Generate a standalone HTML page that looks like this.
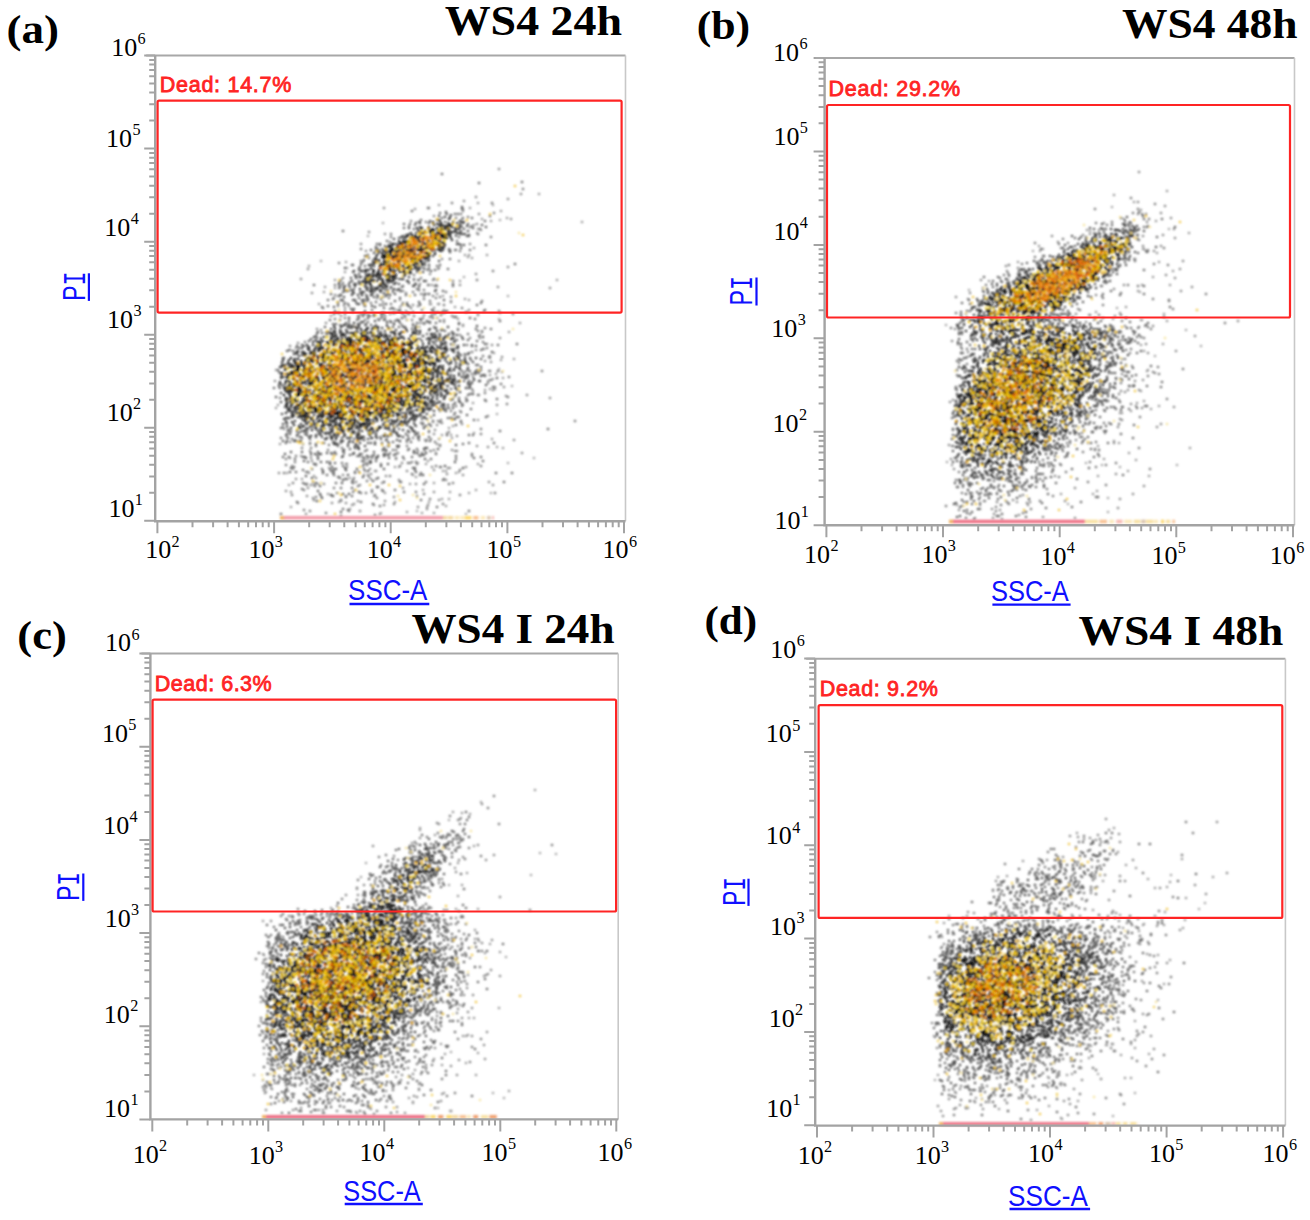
<!DOCTYPE html>
<html><head><meta charset="utf-8"><style>
html,body{margin:0;padding:0;background:#fff;overflow:hidden;}
svg{display:block;}
</style></head><body>
<svg width="1310" height="1220" viewBox="0 0 1310 1220">
<defs><filter id="bl" filterUnits="userSpaceOnUse" x="0" y="0" width="1310" height="1220"><feGaussianBlur stdDeviation="1.0"/></filter></defs>
<rect width="1310" height="1220" fill="#fff"/>
<g filter="url(#bl)" stroke-linecap="round" stroke-width="2.6" fill="none"><path stroke="#686868" d="M421 500h0M372 292h0M497 399h0M352 488h0M461 421h0M286 459h0M404 492h0M380 305h0M396 458h0M307 484h0M469 236h0M353 480h0M351 437h0M286 435h0M456 425h0M473 435h0M378 252h0M352 496h0M501 384h0M307 428h0M512 473h0M365 280h0M415 295h0M426 441h0M400 466h0M381 292h0M471 409h0M274 388h0M444 404h0M409 234h0M465 376h0M365 306h0M376 259h0M447 386h0M420 475h0M365 287h0M486 417h0M448 327h0M316 336h0M472 352h0M374 452h0M431 459h0M328 306h0M400 291h0M331 438h0M416 417h0M451 302h0M355 284h0M440 334h0M443 338h0M280 388h0M458 353h0M390 430h0M399 429h0M352 328h0M421 220h0M441 315h0M348 304h0M380 506h0M413 468h0M383 436h0M489 357h0M338 436h0M404 224h0M439 402h0M340 281h0M330 320h0M455 214h0M416 472h0M331 453h0M290 434h0M444 397h0M340 433h0M479 372h0M370 461h0M374 297h0M364 437h0M420 268h0M478 365h0M341 488h0M294 467h0M305 484h0M422 419h0M406 423h0M372 458h0M385 246h0M423 268h0M343 231h0M354 439h0M412 329h0M280 383h0M490 371h0M374 259h0M461 226h0M375 496h0M448 269h0M413 418h0M336 324h0M402 422h0M378 487h0M282 362h0M455 388h0M456 459h0M401 291h0M451 389h0M448 418h0M349 321h0M308 429h0M477 341h0M353 293h0M343 480h0M515 264h0M461 355h0M316 444h0M464 381h0M358 319h0M454 338h0M498 371h0M338 302h0M350 328h0M412 211h0M416 426h0M427 334h0M463 223h0M548 429h0M381 314h0M435 344h0M355 432h0M469 381h0M288 438h0M422 455h0M357 438h0M300 432h0M347 479h0M469 511h0M278 370h0M399 327h0M414 453h0M424 455h0M296 352h0M297 502h0M391 433h0M283 358h0M383 288h0M445 222h0M345 314h0M453 399h0M286 443h0M443 330h0M378 289h0M334 298h0M480 229h0M415 468h0M451 418h0M305 431h0M293 351h0M377 458h0M367 297h0M399 279h0M377 438h0M389 446h0M420 305h0M354 289h0M297 436h0M460 234h0M338 444h0M455 396h0M321 483h0M491 380h0M335 463h0M359 298h0M349 286h0M474 458h0M442 218h0M383 450h0M493 387h0M389 458h0M358 447h0M445 312h0M417 323h0M303 470h0M334 472h0M330 435h0M287 418h0M394 455h0M459 373h0M476 371h0M295 459h0M500 431h0M371 325h0M436 323h0M414 431h0M395 490h0M404 423h0M420 333h0M494 443h0M451 349h0M475 372h0M472 345h0M394 309h0M280 373h0M475 319h0M359 492h0M451 344h0M517 344h0M420 319h0M308 462h0M486 245h0M491 329h0M326 434h0M385 434h0M441 406h0M352 294h0M419 436h0M453 339h0M330 469h0M350 287h0M462 209h0M371 291h0M401 237h0M286 423h0M440 467h0M288 431h0M374 328h0M374 314h0M468 224h0M311 453h0M343 509h0M430 441h0M468 340h0M331 294h0M459 323h0M339 477h0M403 425h0M427 419h0M415 470h0M384 308h0M394 430h0M481 370h0M373 293h0M372 310h0M435 314h0M386 426h0M357 327h0M496 473h0M401 482h0M411 442h0M412 474h0M336 483h0M477 305h0M414 229h0M333 473h0M435 337h0M460 233h0M332 467h0M464 361h0M413 286h0M376 302h0M305 457h0M427 321h0M453 284h0M322 333h0M419 280h0M481 303h0M452 338h0M479 336h0M407 303h0M435 286h0M426 281h0M289 418h0M358 441h0M434 337h0M391 288h0M327 433h0M305 434h0M339 285h0M498 345h0M504 482h0M446 352h0M478 234h0M361 292h0M346 291h0M453 286h0M353 265h0M429 405h0M287 434h0M334 475h0M403 327h0M403 457h0M442 405h0M326 333h0M449 484h0M364 461h0M419 436h0M346 323h0M372 456h0M443 408h0M456 317h0M315 486h0M339 288h0M464 229h0M435 270h0M298 351h0M404 228h0M406 295h0M370 316h0M418 438h0M327 475h0M397 320h0M328 300h0M337 445h0M453 405h0M437 507h0M466 312h0M372 295h0M429 437h0M424 294h0M353 326h0M415 225h0M333 442h0M408 436h0M482 332h0M361 322h0M313 482h0M455 419h0M322 437h0M455 413h0M314 285h0M485 400h0M483 461h0M396 454h0M355 490h0M467 401h0M441 251h0M318 459h0M467 375h0M428 208h0M450 259h0M472 218h0M316 446h0M419 286h0M335 312h0M420 304h0M459 398h0M429 424h0M314 500h0M375 291h0M442 174h0M343 451h0M296 472h0M444 344h0M456 250h0M384 289h0M443 291h0M289 350h0M364 300h0M357 304h0M393 313h0M384 320h0M424 484h0M428 270h0M465 234h0M393 442h0M428 322h0M440 213h0M418 433h0M282 364h0M331 432h0M406 235h0M393 291h0M402 287h0M426 409h0M321 338h0M376 461h0M361 502h0M318 457h0M428 261h0M318 452h0M456 456h0M387 241h0M430 408h0M484 311h0M409 449h0M469 435h0M320 432h0M450 252h0M469 353h0M365 266h0M522 182h0M445 409h0M281 428h0M440 265h0M419 290h0M417 270h0M398 320h0M365 256h0M353 272h0M446 352h0M479 183h0M377 244h0M412 457h0M443 480h0M356 302h0M360 267h0M399 238h0M469 443h0M382 443h0M324 443h0M490 216h0M447 311h0M416 434h0M485 310h0M424 410h0M334 314h0M331 495h0M481 457h0M434 279h0M500 321h0M462 371h0M470 250h0M350 455h0M474 420h0M450 218h0M485 221h0M344 453h0M431 417h0M419 302h0M281 514h0M283 457h0M343 292h0M293 423h0M463 444h0M287 423h0M458 214h0M457 390h0M381 299h0M384 448h0M345 291h0M452 332h0M352 265h0M388 446h0M468 377h0M336 437h0M323 308h0M342 326h0M449 408h0M376 325h0M334 327h0M374 455h0M420 456h0M287 351h0M485 344h0M334 434h0M359 281h0M374 315h0M335 311h0"/><path stroke="#e8a800" d="M376 262h0M441 229h0M292 404h0M423 362h0M341 342h0M298 363h0M416 340h0M426 391h0M410 343h0M433 377h0M436 352h0M313 354h0M319 351h0M443 369h0M444 245h0M295 371h0M372 336h0M331 421h0M437 353h0M390 410h0M285 374h0M380 412h0M434 386h0M309 414h0M397 408h0M444 239h0M310 357h0M429 383h0M410 238h0M297 404h0M389 278h0M291 389h0M404 332h0M352 333h0M442 387h0M328 347h0M428 228h0M293 390h0M285 367h0M386 251h0M357 441h0M293 375h0M355 327h0M325 345h0M342 339h0M373 424h0M421 355h0M449 230h0M374 336h0M405 416h0M362 419h0M410 342h0M379 338h0M445 381h0M395 338h0M441 353h0M437 407h0M395 334h0M390 341h0M314 350h0M424 388h0M291 399h0M340 433h0M387 414h0"/><path stroke="#fce080" d="M287 400h0M429 387h0M394 427h0M423 353h0M417 351h0M447 226h0M403 409h0M366 416h0M357 421h0M297 414h0M400 418h0M419 265h0M378 263h0M375 414h0M418 349h0M454 220h0M312 409h0M443 388h0M430 356h0M289 384h0M431 392h0M302 404h0M391 329h0M296 407h0M444 242h0M374 282h0M402 276h0M385 425h0M351 423h0M430 361h0M308 357h0M418 342h0M353 418h0M310 410h0M436 390h0M440 246h0M382 417h0M457 359h0M376 428h0M435 381h0M284 366h0M435 370h0M373 423h0M441 227h0M390 276h0"/><path stroke="#080808" d="M400 244h0M337 394h0M305 406h0M367 347h0M395 375h0M405 344h0M378 339h0M359 414h0M429 244h0M428 378h0M393 375h0M421 261h0M305 404h0M411 387h0M437 239h0M416 361h0M419 366h0M390 410h0M342 399h0M389 261h0M325 366h0M428 243h0M303 375h0M357 402h0M374 339h0M331 415h0M364 380h0M352 346h0M311 368h0M399 395h0M422 250h0M400 404h0M309 362h0M425 248h0M360 344h0M409 403h0M356 337h0M299 376h0M368 390h0M421 385h0M373 407h0M409 352h0M408 385h0M425 257h0M299 376h0M446 238h0M329 387h0M315 395h0M348 341h0M311 365h0M305 362h0M429 359h0M352 342h0M359 341h0M394 373h0M421 398h0M362 418h0M376 400h0M409 265h0M328 390h0M400 389h0M393 355h0M363 365h0M337 360h0M389 403h0M417 263h0M392 276h0M440 241h0M300 380h0M435 235h0M438 232h0M350 347h0M393 351h0M412 348h0M387 275h0M414 248h0M442 234h0M415 253h0M391 250h0M344 408h0M353 359h0M336 375h0M343 375h0M383 390h0M353 393h0M412 382h0M417 379h0M293 372h0M400 365h0M399 372h0M435 238h0M412 355h0M380 363h0M439 244h0M348 401h0M409 387h0M334 350h0M344 380h0M293 379h0M344 380h0M335 367h0M349 346h0M404 353h0M379 347h0M399 365h0M336 371h0M333 416h0M358 350h0M383 396h0M414 355h0M354 422h0M359 361h0M335 380h0M388 361h0M386 358h0M350 390h0M435 364h0M306 381h0M400 243h0M364 417h0M297 369h0M378 361h0M403 257h0M305 405h0M400 402h0M425 248h0M394 345h0M373 342h0M421 262h0M304 402h0M336 357h0M411 258h0M424 381h0M413 238h0M319 416h0M398 404h0M316 388h0M302 365h0M370 381h0M378 393h0M361 389h0M317 410h0M412 400h0M389 256h0M420 364h0M323 348h0M323 402h0M366 412h0M443 232h0M397 255h0M385 342h0M310 381h0M395 254h0M300 405h0M382 335h0M344 407h0M401 377h0M321 403h0M398 399h0M386 382h0M432 244h0M342 362h0M388 388h0M382 350h0M322 375h0M379 346h0M366 383h0M350 418h0M294 373h0M393 387h0M393 384h0M420 253h0M415 251h0M408 378h0M353 376h0M405 262h0M341 400h0M299 391h0M327 387h0M407 389h0M347 341h0M322 383h0M403 251h0M319 406h0M358 348h0M412 254h0M385 256h0M411 358h0M423 368h0M408 404h0M415 353h0M420 235h0M312 381h0M433 238h0M398 345h0M382 354h0M314 354h0M397 257h0M390 346h0M331 407h0M406 360h0M331 388h0M427 357h0M383 408h0M295 390h0M350 399h0M409 265h0M402 261h0M395 373h0M362 381h0M364 357h0M350 411h0M341 378h0M342 339h0M314 408h0M380 267h0M429 363h0M341 357h0M374 401h0M320 390h0M342 391h0M404 391h0M417 244h0M381 403h0M425 239h0M393 357h0M366 396h0M415 259h0M402 352h0M377 385h0M405 351h0M349 359h0M317 379h0M372 382h0M397 342h0M435 364h0M341 418h0M361 368h0M323 387h0M405 371h0M380 276h0M392 408h0M431 351h0M383 414h0M314 399h0M392 408h0M403 243h0M295 382h0M347 382h0M314 398h0M294 368h0M417 374h0M293 372h0M339 401h0M353 399h0M297 394h0M419 362h0M294 386h0M379 366h0M369 362h0M418 386h0M406 246h0M408 388h0M430 372h0M311 367h0M342 358h0M361 351h0M428 255h0M350 346h0M417 390h0M389 399h0M333 365h0M400 369h0M421 375h0M383 387h0M389 405h0M355 388h0M420 390h0M327 384h0M418 250h0M341 375h0M421 250h0M388 377h0M308 408h0M391 406h0M386 397h0M379 273h0M370 405h0M325 384h0M407 241h0M428 377h0M312 361h0M356 369h0M391 397h0M422 253h0M406 400h0M306 389h0M344 414h0M385 343h0M341 381h0M381 352h0M368 418h0M348 362h0M331 375h0M405 360h0M429 387h0M406 395h0M338 414h0M366 351h0M350 400h0M392 381h0M361 374h0M298 394h0M315 390h0M393 344h0M318 395h0M382 348h0M377 276h0M330 390h0M345 370h0M427 241h0M362 413h0M380 340h0M354 362h0M400 250h0M417 366h0M361 396h0M331 378h0M310 390h0M318 395h0M431 389h0M376 361h0M370 370h0M288 377h0M335 414h0M317 400h0M400 361h0M374 392h0M424 361h0M415 358h0M380 265h0M365 386h0M339 416h0M375 411h0M383 271h0M311 375h0M308 376h0M431 246h0M358 415h0M413 241h0M356 407h0M371 345h0M439 230h0M318 378h0M342 366h0M350 416h0M433 364h0M335 410h0M342 396h0M391 402h0M340 403h0M382 384h0M342 380h0M324 351h0M417 350h0M324 392h0M410 347h0M399 348h0M424 258h0M423 242h0M299 369h0M391 406h0M352 412h0M328 387h0M337 389h0M407 350h0M328 397h0M343 353h0M339 414h0M387 368h0M356 391h0M335 374h0M320 369h0M337 372h0M331 386h0M385 389h0M391 346h0M355 356h0M353 364h0M327 418h0M297 376h0M356 352h0M335 403h0M414 245h0M333 349h0M296 374h0M434 241h0M380 373h0M385 397h0M313 360h0M422 374h0M356 361h0M402 246h0M387 391h0M406 401h0M390 401h0M374 387h0M403 350h0M383 394h0M338 407h0M379 406h0M303 409h0M406 400h0M298 369h0M359 380h0M379 342h0M401 389h0M324 357h0M383 255h0M369 369h0M389 343h0M397 377h0M372 363h0M430 365h0M387 254h0M343 371h0M378 359h0M393 370h0M351 339h0M410 267h0M324 372h0M355 388h0M393 339h0M325 404h0M368 337h0M378 345h0M315 407h0M404 241h0M348 393h0M365 357h0M310 364h0M414 238h0M424 238h0M376 341h0M406 257h0M370 404h0M392 397h0M352 411h0M411 343h0M434 233h0M372 354h0M366 338h0M330 393h0M341 406h0M345 384h0M381 386h0M357 363h0M336 386h0M361 396h0M396 248h0M341 396h0M330 357h0M399 363h0M395 392h0M319 382h0M354 355h0M327 399h0M368 340h0M373 346h0M327 396h0M396 275h0M386 402h0M383 410h0M358 408h0M400 350h0M326 371h0M370 368h0M332 421h0M388 357h0M423 242h0M428 372h0M399 255h0M336 419h0M367 396h0M307 392h0M331 392h0M332 381h0M364 414h0M341 417h0M375 393h0M309 359h0M334 366h0M361 367h0M426 351h0M363 381h0M305 365h0M433 363h0M400 397h0M387 387h0M339 358h0M367 375h0M323 377h0M328 357h0M335 360h0M307 370h0M323 423h0M384 407h0M312 372h0M360 401h0M397 248h0M345 365h0M389 355h0M412 364h0M302 387h0M333 358h0M424 376h0M428 244h0M371 398h0M389 398h0M381 408h0M394 368h0M403 266h0M292 388h0M382 377h0M323 373h0M365 340h0M386 276h0M343 382h0M412 359h0M331 400h0M399 371h0M362 351h0M345 405h0M382 355h0M389 382h0M367 423h0M394 264h0M416 236h0M376 412h0M413 386h0M407 248h0M433 246h0M392 386h0M386 257h0M368 351h0M302 365h0M345 369h0M367 361h0M390 398h0M416 354h0M310 377h0M327 390h0M404 344h0M342 385h0M419 377h0M373 376h0M351 339h0M383 343h0M375 339h0M395 355h0M374 373h0M332 393h0M304 411h0M297 396h0M394 260h0M415 256h0M382 384h0M373 353h0M347 402h0M446 227h0M365 402h0M444 236h0M406 383h0M413 395h0M411 374h0M396 259h0M305 393h0M436 242h0M404 349h0M404 405h0M421 348h0M403 396h0M377 348h0M374 271h0M396 385h0M329 369h0M358 366h0M423 239h0M414 373h0M381 417h0M398 383h0M292 374h0M364 376h0M381 368h0M440 366h0M416 380h0M293 403h0M313 367h0M301 384h0M318 374h0M316 399h0M343 356h0M299 367h0M338 393h0M396 359h0M356 412h0M401 385h0M391 374h0M409 256h0M298 372h0M373 387h0M327 406h0M390 267h0M290 386h0M433 388h0M415 237h0M328 344h0M327 397h0M435 371h0M362 351h0M366 407h0M352 381h0M374 387h0M371 413h0M311 393h0M338 396h0M400 371h0M378 361h0M356 395h0M364 368h0M353 362h0M422 257h0M288 388h0M333 354h0M392 395h0M327 424h0M406 392h0M365 369h0M322 403h0M396 403h0M395 346h0M319 351h0M393 363h0M391 264h0M390 254h0M399 401h0M346 397h0M295 371h0M349 358h0M378 350h0M358 396h0M389 265h0M413 265h0M440 239h0M371 386h0M414 366h0M304 406h0M318 363h0M408 351h0M415 393h0M358 379h0M371 353h0M356 405h0M353 351h0M375 418h0M387 408h0M429 255h0M399 251h0M414 365h0M408 267h0M322 357h0M318 373h0M303 399h0M411 247h0M405 367h0M385 373h0M358 361h0M388 275h0M354 375h0M356 399h0M346 413h0M325 400h0M366 412h0M419 250h0M430 232h0M370 414h0M330 402h0M316 412h0M376 412h0M412 360h0M364 414h0M336 414h0M403 367h0M345 398h0M393 385h0M314 408h0M390 251h0M426 258h0M397 362h0M369 413h0M415 353h0M313 382h0M407 380h0M363 411h0M355 335h0M403 360h0M384 361h0M348 392h0M386 261h0M364 359h0M401 393h0M405 252h0M348 392h0M292 367h0M414 396h0M305 372h0M348 400h0M379 261h0M286 391h0M389 274h0M388 379h0M314 396h0M369 405h0M411 251h0M353 354h0M386 409h0M366 405h0M359 395h0M405 264h0M344 392h0M387 371h0M297 366h0M362 393h0M420 259h0M429 244h0M394 378h0M415 355h0M346 376h0M311 359h0M406 397h0M392 251h0M380 415h0M395 374h0M372 384h0M388 254h0M401 372h0M372 403h0M395 251h0M404 345h0M328 374h0M318 373h0M416 355h0M373 355h0M297 372h0M425 248h0M431 238h0M299 388h0M347 376h0M424 244h0M387 351h0M364 346h0M353 369h0M348 345h0M387 266h0M349 370h0M416 381h0M444 235h0M376 395h0M412 374h0M404 402h0M363 420h0M347 354h0M361 409h0M398 267h0M418 260h0M310 402h0M445 234h0M318 358h0M381 385h0M407 375h0M340 405h0M387 412h0M308 400h0M407 250h0M294 378h0M389 255h0M348 392h0M323 417h0M394 366h0M347 359h0M295 371h0M324 379h0M439 230h0M390 367h0M310 405h0M370 349h0M397 341h0M368 395h0M414 240h0M394 273h0M387 402h0M359 416h0M370 357h0M390 269h0M355 395h0M420 377h0M378 403h0M345 372h0M379 393h0M355 405h0M377 339h0M413 356h0M326 377h0M422 251h0M388 395h0M315 390h0M335 412h0M400 260h0M406 382h0M375 365h0M374 367h0M314 355h0M412 238h0M314 395h0M382 395h0M366 339h0M403 355h0M424 372h0M423 241h0M394 357h0M431 380h0M387 254h0M320 366h0M440 238h0M347 371h0M343 357h0M430 383h0M358 356h0M392 374h0M350 391h0M354 364h0M427 248h0M366 366h0M348 360h0M360 340h0M373 389h0M361 366h0M414 248h0M418 359h0M416 390h0M318 411h0M330 388h0M424 362h0M327 359h0M412 359h0M328 391h0M306 399h0M351 341h0M395 388h0M361 338h0M351 354h0M299 369h0M286 382h0M368 353h0M390 356h0M310 407h0M364 397h0M306 394h0M406 352h0M391 356h0M366 360h0M341 407h0M398 364h0M317 410h0M410 245h0M399 247h0M398 360h0M393 380h0M331 358h0M350 420h0M324 390h0M318 396h0M414 262h0M351 352h0M357 402h0M344 391h0M425 378h0M408 255h0M403 247h0M341 401h0M410 256h0M369 396h0M293 384h0M377 410h0M371 356h0M332 397h0M407 250h0M343 346h0M406 378h0M361 338h0M398 388h0M365 348h0M423 393h0M437 370h0M382 402h0M394 370h0M373 397h0M314 391h0M430 374h0M356 365h0M425 380h0M341 380h0M401 390h0M300 389h0M289 381h0M407 256h0M354 400h0M388 410h0M348 407h0M424 369h0M337 413h0M298 368h0M381 410h0M392 399h0M327 376h0M417 376h0M331 377h0M299 393h0M301 394h0M419 378h0M382 375h0M323 392h0M321 408h0M425 371h0M374 362h0M387 400h0M437 237h0M384 261h0M375 340h0M391 385h0M418 386h0M324 387h0M406 255h0M346 371h0M405 404h0M404 270h0M410 249h0M340 353h0M348 374h0M393 405h0M406 243h0M410 377h0M390 407h0M423 363h0M328 406h0M348 348h0M305 396h0M394 389h0M359 402h0M387 373h0M389 385h0M393 267h0M403 344h0M371 357h0M349 374h0M364 364h0M412 237h0M404 380h0M342 396h0M331 391h0M411 372h0M391 349h0M359 382h0M401 357h0M304 363h0M310 410h0M401 376h0M403 244h0M406 242h0M335 389h0M350 364h0M385 395h0M415 391h0M341 404h0M404 249h0M404 351h0M373 364h0M309 385h0M318 362h0M404 372h0M405 387h0M380 372h0M326 421h0M356 406h0M408 343h0M410 266h0M341 350h0M389 403h0M323 391h0M367 340h0M336 376h0M361 370h0M338 394h0M336 406h0M329 364h0M360 409h0M417 351h0M412 368h0M321 398h0M380 337h0M324 393h0M398 364h0M364 336h0M375 370h0M351 398h0M410 258h0M333 395h0M392 353h0M386 380h0M332 408h0M404 364h0M370 387h0M323 354h0M322 360h0M333 375h0M364 415h0M331 357h0M425 389h0M318 390h0M393 371h0M371 344h0M350 405h0M431 248h0M370 357h0M383 389h0M377 419h0M375 398h0M395 361h0M302 402h0M314 400h0M339 376h0M305 395h0M445 229h0M288 378h0M431 233h0M362 393h0M345 344h0M417 380h0M377 368h0M324 414h0M425 231h0M315 387h0M362 377h0M423 359h0M412 387h0M363 361h0M409 356h0M404 406h0M406 389h0M346 351h0M414 384h0M395 386h0M334 360h0M340 354h0M344 346h0M358 349h0M340 382h0M333 350h0M315 381h0M344 345h0M420 242h0M402 361h0M417 365h0M384 361h0M385 368h0M406 364h0M360 354h0M343 371h0M399 269h0M417 367h0M375 371h0M387 358h0M314 402h0M371 392h0M398 347h0M332 360h0M401 253h0M368 400h0M341 409h0M324 398h0M310 405h0M335 345h0M340 354h0M298 370h0M368 360h0M370 373h0M391 364h0M301 394h0M353 424h0M417 366h0M396 343h0M356 336h0M322 355h0M333 408h0M321 371h0M308 396h0M336 399h0M352 348h0M342 397h0M387 349h0M396 344h0M363 336h0M385 264h0M349 397h0M416 243h0M370 408h0M401 256h0M341 345h0M387 397h0M302 376h0M339 355h0M359 342h0M304 372h0M323 415h0M322 409h0M331 352h0M367 341h0M437 228h0M342 387h0M339 397h0M374 368h0M411 373h0M420 247h0M341 414h0M417 383h0M399 260h0M356 413h0M383 361h0M339 373h0M321 405h0M353 407h0M405 253h0M391 344h0M346 415h0M395 397h0M391 401h0M441 231h0M424 236h0M334 382h0M319 349h0M346 388h0M419 386h0M318 416h0M352 363h0M375 408h0M417 387h0M328 406h0M363 340h0M402 379h0M331 389h0M308 358h0M375 386h0M365 420h0M357 373h0M422 386h0M405 259h0M433 231h0M425 258h0M301 361h0M351 369h0M348 358h0M323 361h0M407 352h0M338 417h0M388 410h0M429 356h0M316 396h0M400 377h0M355 357h0M432 230h0M389 414h0M382 369h0M310 408h0M360 419h0M370 353h0M344 361h0M369 372h0M412 260h0M375 402h0M413 357h0M398 390h0M425 253h0M325 367h0M406 261h0M360 354h0M312 403h0M309 417h0M334 378h0M447 238h0M345 377h0M381 411h0M389 267h0M389 404h0M369 414h0M350 378h0M386 268h0M335 409h0M386 348h0M402 243h0M394 267h0M337 390h0M398 246h0M354 407h0M345 383h0M367 397h0M309 375h0M321 395h0M413 258h0M334 413h0M379 388h0M338 412h0M338 376h0M405 366h0M369 362h0M356 398h0M427 239h0M411 249h0M364 368h0M355 363h0M355 362h0M350 341h0M402 397h0M395 350h0M367 417h0M376 391h0"/><path stroke="#484848" d="M448 375h0M439 409h0M333 427h0M391 282h0M334 332h0M346 425h0M458 229h0M449 229h0M434 411h0M366 272h0M344 436h0M299 428h0M431 400h0M379 260h0M391 332h0M399 321h0M328 333h0M394 289h0M356 276h0M457 356h0M287 406h0M351 423h0M457 335h0M443 250h0M355 472h0M434 334h0M410 427h0M459 229h0M360 284h0M444 390h0M413 411h0M419 410h0M455 360h0M368 281h0M385 331h0M427 414h0M367 279h0M304 426h0M358 324h0M429 330h0M416 417h0M341 423h0M355 446h0M372 329h0M372 265h0M299 416h0M365 333h0M359 304h0M432 400h0M446 391h0M446 336h0M304 355h0M441 373h0M377 255h0M374 333h0M445 245h0M435 391h0M331 329h0M284 388h0M325 429h0M388 429h0M359 429h0M341 331h0M344 450h0M283 359h0M364 426h0M316 435h0M460 392h0M416 233h0M457 244h0M414 286h0M327 438h0M418 230h0M376 257h0M329 425h0M401 425h0M336 437h0M282 414h0M396 421h0M351 337h0M294 354h0M289 418h0M447 349h0M413 405h0M385 334h0M460 224h0M415 416h0M404 422h0M411 233h0M336 337h0M365 278h0M393 431h0M456 382h0M327 336h0M368 275h0M391 420h0M385 251h0M306 429h0M409 228h0M297 431h0M444 354h0M314 337h0M433 256h0M373 290h0M416 268h0M435 328h0M335 337h0M317 345h0M436 388h0M450 217h0M393 412h0M371 462h0M376 436h0M443 249h0M389 245h0M349 318h0M468 354h0M295 407h0M396 283h0M420 397h0M288 399h0M290 411h0M436 337h0M382 250h0M376 458h0M309 347h0M437 355h0M450 368h0M355 333h0M409 277h0M343 432h0M360 424h0M360 454h0M403 417h0M403 430h0M448 234h0M425 398h0M409 412h0M464 345h0M445 217h0M359 325h0M437 346h0M454 352h0M421 416h0M447 362h0M460 364h0M432 402h0M416 326h0M440 221h0M354 271h0M297 354h0M397 426h0M334 341h0M407 281h0M447 229h0M335 333h0M466 388h0M393 425h0M479 373h0M353 454h0M431 395h0M432 406h0M375 327h0M407 440h0M347 331h0M459 401h0M375 321h0M459 368h0M281 402h0M291 428h0M363 322h0M427 405h0M421 401h0M341 300h0M412 417h0M374 422h0M465 363h0M387 281h0M367 283h0M301 424h0M468 383h0M439 216h0M445 337h0M424 428h0M437 224h0M356 444h0M360 443h0M374 266h0M454 380h0M284 419h0M435 392h0M287 387h0M419 406h0M409 339h0M296 353h0M361 437h0M343 441h0M335 435h0M358 295h0M298 417h0M384 448h0M348 438h0M434 387h0M380 291h0M378 456h0M368 300h0M331 339h0M453 351h0M372 290h0M430 329h0M451 383h0M452 380h0M424 281h0M298 352h0M446 237h0M350 449h0M476 358h0M300 437h0M428 397h0M280 382h0M441 342h0M376 437h0M423 408h0M400 414h0M295 421h0M416 418h0M344 289h0M341 295h0M415 405h0M392 423h0M371 428h0M331 337h0M415 402h0M385 422h0M400 333h0M387 280h0M424 351h0M445 342h0M400 436h0M458 233h0M445 348h0M326 439h0M377 431h0M321 343h0M436 341h0M301 418h0M400 441h0M436 336h0M398 416h0M387 286h0M413 332h0M465 355h0M325 439h0M382 287h0M388 278h0M351 425h0M341 295h0M381 466h0M351 326h0M445 352h0M391 435h0M407 331h0M436 360h0M372 288h0M395 333h0M358 434h0M367 456h0M439 368h0M448 228h0M468 364h0M384 284h0M464 222h0M416 266h0M396 330h0M441 349h0M458 226h0M348 430h0M361 293h0M363 424h0M363 281h0M331 437h0M355 275h0M359 424h0M388 455h0M423 402h0M456 229h0M430 351h0M460 233h0M341 332h0M355 448h0M435 253h0M423 336h0M419 407h0M367 426h0M375 307h0M356 332h0M432 399h0M437 220h0M403 337h0M281 378h0M429 342h0M294 416h0M359 325h0M427 339h0M340 333h0M420 227h0M361 277h0M413 406h0M346 470h0M465 358h0M302 355h0M454 345h0M359 449h0M433 402h0M392 246h0M284 387h0M440 361h0M444 406h0M422 261h0M420 223h0M379 320h0M292 413h0M413 431h0M382 328h0M444 247h0M286 400h0M332 437h0M446 347h0M387 287h0M425 404h0M439 340h0M441 374h0M373 263h0M453 222h0M391 322h0M402 237h0M451 238h0M387 322h0M453 232h0M460 227h0M412 417h0M285 365h0M424 409h0M319 434h0M365 446h0M423 272h0M409 421h0M286 418h0M345 426h0M299 356h0M316 427h0M336 426h0M309 350h0M403 240h0M368 318h0M310 427h0M281 393h0M372 306h0M295 359h0M349 442h0M465 360h0M394 239h0M280 367h0M300 412h0M288 411h0M383 450h0M419 267h0M449 393h0M373 430h0M316 341h0M441 384h0M384 454h0M361 271h0M330 464h0M379 427h0M285 384h0M292 422h0M362 282h0M433 223h0M429 410h0M405 238h0M443 247h0M436 393h0M362 437h0M376 258h0M414 406h0M366 424h0M292 412h0M370 280h0M314 350h0M358 446h0M413 343h0M318 346h0M361 277h0M462 222h0M321 435h0M287 369h0M455 341h0M442 388h0M412 428h0M359 435h0M291 411h0M373 328h0M361 334h0M393 416h0M408 281h0M351 435h0M436 328h0M334 331h0M331 333h0M359 327h0M430 340h0M388 293h0M373 420h0M364 458h0M364 440h0M369 432h0M374 327h0M478 370h0M456 363h0M301 441h0M414 420h0M415 332h0M298 351h0M376 434h0M359 270h0M469 388h0M443 404h0M377 328h0M445 397h0M290 398h0M453 333h0M318 431h0M438 361h0M309 349h0"/><path stroke="#585858" d="M425 448h0M348 446h0M363 477h0M431 271h0M446 346h0M447 394h0M442 354h0M299 348h0M330 429h0M352 281h0M395 423h0M387 295h0M302 417h0M276 397h0M310 439h0M446 212h0M427 448h0M371 438h0M393 327h0M433 311h0M415 432h0M384 293h0M398 447h0M390 295h0M287 441h0M461 245h0M368 299h0M451 400h0M374 253h0M332 432h0M340 430h0M384 313h0M391 435h0M287 437h0M377 487h0M367 296h0M350 438h0M438 394h0M463 468h0M394 332h0M447 435h0M355 300h0M467 415h0M359 492h0M307 432h0M315 454h0M407 305h0M340 330h0M342 457h0M402 313h0M399 311h0M368 315h0M356 278h0M470 318h0M453 408h0M345 286h0M409 439h0M310 443h0M438 389h0M291 468h0M464 234h0M470 387h0M388 455h0M313 427h0M309 341h0M322 498h0M448 223h0M288 362h0M447 374h0M345 325h0M459 324h0M291 452h0M424 449h0M442 344h0M400 298h0M317 501h0M392 244h0M297 346h0M473 394h0M440 347h0M423 475h0M380 244h0M333 496h0M455 403h0M285 407h0M364 260h0M321 462h0M441 358h0M354 309h0M327 453h0M371 443h0M454 369h0M467 236h0M417 453h0M329 426h0M413 414h0M348 327h0M298 434h0M369 274h0M474 380h0M364 300h0M344 433h0M434 405h0M366 287h0M444 300h0M354 284h0M464 245h0M397 446h0M383 250h0M348 475h0M367 287h0M478 395h0M445 466h0M332 454h0M381 439h0M444 405h0M449 250h0M386 450h0M463 339h0M401 279h0M334 307h0M434 394h0M356 284h0M387 325h0M415 284h0M376 251h0M486 227h0M363 303h0M408 431h0M456 445h0M475 374h0M413 411h0M451 378h0M472 346h0M366 256h0M433 334h0M370 463h0M472 383h0M366 324h0M359 438h0M359 277h0M397 440h0M441 250h0M440 336h0M351 290h0M359 274h0M470 385h0M373 504h0M348 429h0M481 376h0M319 454h0M418 268h0M459 354h0M429 223h0M395 301h0M455 379h0M467 226h0M312 469h0M445 352h0M416 415h0M391 287h0M386 296h0M403 437h0M432 404h0M351 278h0M323 473h0M423 336h0M454 342h0M413 415h0M440 250h0M462 234h0M451 361h0M357 469h0M287 426h0M451 215h0M306 476h0M388 283h0M461 248h0M437 318h0M476 346h0M432 336h0M481 367h0M433 342h0M386 248h0M373 328h0M304 461h0M283 424h0M414 423h0M323 471h0M429 265h0M419 222h0M424 264h0M394 432h0M406 434h0M383 491h0M405 420h0M483 337h0M470 384h0M419 437h0M441 330h0M344 430h0M473 362h0M391 434h0M344 287h0M457 417h0M462 207h0M385 455h0M371 292h0M438 391h0M399 289h0M308 349h0M316 437h0M435 291h0M416 223h0M409 314h0M460 402h0M438 449h0M368 443h0M349 494h0M381 298h0M368 439h0M340 320h0M359 472h0M347 438h0M303 457h0M373 261h0M400 310h0M409 306h0M353 310h0M345 268h0M451 225h0M384 469h0M383 424h0M445 360h0M414 452h0M340 330h0M358 438h0M318 332h0M450 382h0M381 332h0M362 300h0M426 403h0M395 294h0M446 411h0M429 294h0M353 483h0M365 272h0M336 469h0M434 415h0M470 394h0M409 283h0M426 453h0M482 225h0M382 283h0M287 402h0M380 245h0M348 510h0M473 228h0M321 340h0M365 285h0M367 298h0M378 296h0M345 468h0M373 481h0M290 409h0M320 494h0M311 339h0M448 405h0M283 361h0M468 231h0M282 385h0M469 235h0M352 295h0M454 358h0M448 356h0M353 291h0M425 262h0M456 366h0M412 419h0M357 435h0M432 337h0M296 441h0M442 395h0M359 283h0M451 375h0M470 227h0M374 316h0M436 353h0M421 320h0M361 330h0M497 378h0M453 384h0M425 403h0M286 421h0M432 310h0M397 290h0M468 375h0M426 426h0M433 421h0M423 412h0M481 359h0M312 478h0M407 320h0M354 293h0M358 332h0M358 433h0M492 352h0M325 327h0M390 247h0M470 358h0M404 276h0M379 253h0M417 270h0M294 441h0M452 345h0M286 407h0M302 355h0M290 409h0M403 237h0M289 457h0M365 270h0M361 264h0M462 404h0M486 385h0M339 283h0M405 327h0M455 462h0M342 438h0M401 422h0M368 282h0M341 427h0M440 321h0M379 286h0M372 433h0M353 300h0M369 270h0M401 424h0M427 403h0M461 231h0M382 313h0M386 451h0M348 291h0M320 342h0M414 451h0M449 334h0M359 456h0M293 414h0M302 345h0M346 330h0M383 297h0M329 332h0M364 282h0M279 385h0M388 464h0M343 494h0M442 409h0M319 343h0M309 437h0M285 454h0M304 352h0M320 429h0M459 244h0M308 347h0M316 436h0M355 327h0M422 341h0M366 325h0M462 337h0M363 316h0M447 214h0M430 322h0M384 286h0M321 454h0M420 339h0M391 322h0M317 338h0M284 358h0M425 459h0M387 326h0M376 247h0M439 261h0M479 381h0M340 332h0M459 382h0M483 349h0M448 386h0M307 429h0M448 327h0M327 462h0M333 436h0M332 333h0M456 235h0M451 418h0M288 430h0M399 446h0M450 250h0M485 376h0M303 444h0M419 334h0M461 412h0M317 333h0M350 441h0M332 429h0M442 353h0M304 346h0M474 379h0M433 337h0M343 456h0M459 359h0M380 428h0M453 335h0M384 482h0M480 381h0M344 297h0M450 252h0M392 308h0M403 236h0M448 371h0M415 425h0M477 326h0M333 299h0M418 270h0M436 290h0M331 495h0M340 295h0M425 265h0M370 288h0M399 284h0M287 423h0M334 325h0M306 458h0M409 432h0M435 334h0M446 358h0M376 249h0M435 291h0M302 452h0M442 312h0M436 454h0M307 435h0M365 306h0M367 328h0M416 284h0M290 472h0M483 375h0M346 497h0M321 340h0M318 491h0M434 392h0M370 279h0M412 419h0M302 427h0M446 343h0M385 319h0M322 432h0M428 409h0M349 284h0M358 438h0M424 412h0M467 400h0M378 478h0M415 417h0M283 441h0M449 380h0M341 500h0M351 309h0M460 366h0M365 311h0M451 371h0M368 471h0M425 418h0M352 333h0M371 250h0M450 377h0M354 453h0M348 325h0M454 419h0M359 431h0M384 456h0M444 355h0M333 430h0M458 348h0M402 318h0M391 434h0M374 432h0M395 432h0M354 433h0M458 352h0M441 390h0M459 357h0M316 483h0M430 221h0M314 464h0M372 287h0M386 304h0M367 430h0M386 440h0M320 486h0M349 431h0M341 512h0M342 483h0"/><path stroke="#e87810" d="M402 260h0M341 383h0M378 379h0M359 385h0M348 371h0M337 366h0M363 385h0M342 384h0M374 379h0M348 375h0M339 376h0M341 364h0M364 372h0M344 379h0M349 363h0M339 380h0M405 262h0M371 380h0M392 259h0M358 375h0M352 380h0M353 370h0M394 260h0M339 381h0M425 252h0M352 365h0M353 377h0M416 244h0M353 361h0M332 376h0M353 366h0M430 245h0M392 258h0M377 375h0M359 384h0M346 368h0M344 371h0M344 384h0M343 389h0M377 370h0M356 384h0M359 390h0M358 372h0M430 247h0M354 360h0M422 253h0M431 238h0M329 376h0M428 238h0M353 363h0M399 255h0M394 261h0M408 246h0M422 253h0M366 378h0M354 365h0M404 250h0M406 254h0M362 373h0M345 367h0M368 378h0M374 377h0M374 382h0M333 376h0M355 361h0M422 252h0M375 369h0M333 371h0M350 372h0M341 374h0M347 361h0M426 237h0M331 378h0M348 376h0M413 243h0M331 374h0M334 385h0M329 376h0M355 361h0M349 366h0M404 256h0M405 257h0M423 238h0M368 363h0M351 384h0M352 388h0M360 361h0M351 365h0M370 370h0M362 375h0M334 371h0M407 257h0M334 371h0M368 362h0M343 365h0M359 367h0M343 364h0M411 252h0M330 380h0M410 247h0M379 369h0M334 374h0M362 381h0M398 260h0M374 365h0M418 241h0M340 366h0M376 373h0M368 367h0M357 365h0M398 260h0M404 247h0M339 366h0M403 261h0M341 380h0M332 375h0"/><path stroke="#888888" d="M296 479h0M421 294h0M434 434h0M499 169h0M372 490h0M417 496h0M424 324h0M358 501h0M312 461h0M432 467h0M412 462h0M502 357h0M364 305h0M341 316h0M349 306h0M425 323h0M298 343h0M338 296h0M470 338h0M493 485h0M361 244h0M383 302h0M434 450h0M293 469h0M429 285h0M508 199h0M403 488h0M343 278h0M490 356h0M316 478h0M479 214h0M434 308h0M314 485h0M384 505h0M313 498h0M472 352h0M550 288h0M369 477h0M371 479h0M371 474h0M464 201h0M431 439h0M372 458h0M427 440h0M418 436h0M390 314h0M460 335h0M522 453h0M314 500h0M384 208h0M442 259h0M491 362h0M480 338h0M413 305h0M366 251h0M452 316h0M346 503h0M441 420h0M476 274h0M291 492h0M370 469h0M394 497h0M346 464h0M447 474h0M489 371h0M326 323h0M446 214h0M472 456h0M439 500h0M430 274h0M312 293h0M463 405h0M403 291h0M403 314h0M424 315h0M457 451h0M492 345h0M311 455h0M463 211h0M419 455h0M485 361h0M364 314h0M423 323h0M317 329h0M364 303h0M452 450h0M463 475h0M454 415h0M489 482h0M506 396h0M407 441h0M434 216h0M386 476h0M479 373h0M432 316h0M438 312h0M444 313h0M527 395h0M341 280h0M427 509h0M431 426h0M378 319h0M335 295h0M424 296h0M321 330h0M424 295h0M480 335h0M487 344h0M438 421h0M416 484h0M407 471h0M434 492h0M365 471h0M363 262h0M477 224h0M470 227h0M433 280h0M284 429h0M420 323h0M286 491h0M511 219h0M476 197h0M345 311h0M484 349h0M437 444h0M471 360h0M468 385h0M462 219h0M444 310h0M466 467h0M410 463h0M472 389h0M431 451h0M477 446h0M521 194h0M432 314h0M386 454h0M310 451h0M470 244h0M446 480h0M409 313h0M444 322h0M449 432h0M448 468h0M292 466h0M472 226h0M356 482h0M290 346h0M437 425h0M364 475h0M307 496h0M493 390h0M362 457h0M451 297h0M440 446h0M385 234h0M473 391h0M340 296h0M308 269h0M495 387h0M340 288h0M409 226h0M290 442h0M364 302h0M434 470h0M381 318h0M469 310h0M433 422h0M429 268h0M360 485h0M396 459h0M476 329h0M275 381h0M411 221h0M488 383h0M290 458h0M338 306h0M504 387h0M460 285h0M406 311h0M442 423h0M287 437h0M488 416h0M403 286h0M376 479h0M311 458h0M334 453h0M402 305h0M457 436h0M347 464h0M488 447h0M436 453h0M459 399h0M382 316h0M359 316h0M342 285h0M374 505h0M418 507h0M421 278h0M453 281h0M476 350h0M490 358h0M317 455h0M377 249h0M345 308h0M466 401h0M473 377h0M407 442h0M399 480h0M286 459h0M402 463h0M317 334h0M301 279h0M462 424h0M508 267h0M490 357h0M439 439h0M343 475h0M514 440h0M455 451h0M332 503h0M482 331h0M365 314h0M481 230h0M279 473h0M385 501h0M490 380h0M310 444h0M362 454h0M334 298h0M347 467h0M311 485h0M471 394h0M479 395h0M324 484h0M296 348h0M420 284h0M357 456h0M406 293h0M435 430h0M466 398h0M413 438h0M390 453h0M369 232h0M332 454h0M500 338h0M308 488h0M306 514h0M428 505h0M367 459h0M407 313h0M444 320h0M390 309h0M395 313h0M447 408h0M398 453h0M306 472h0M349 286h0M404 459h0M497 405h0M498 287h0M550 398h0M436 285h0M354 478h0"/><path stroke="#787878" d="M472 374h0M403 303h0M364 292h0M456 218h0M308 472h0M382 250h0M343 466h0M396 450h0M461 422h0M417 449h0M416 462h0M513 314h0M542 371h0M350 287h0M302 448h0M440 422h0M334 488h0M289 430h0M391 234h0M430 317h0M360 511h0M369 457h0M462 227h0M446 292h0M481 350h0M349 324h0M439 268h0M368 322h0M430 304h0M413 324h0M418 306h0M444 410h0M338 446h0M417 464h0M400 323h0M400 482h0M487 348h0M350 282h0M371 303h0M367 465h0M439 334h0M453 483h0M441 467h0M297 435h0M302 438h0M334 469h0M358 316h0M485 393h0M387 439h0M357 320h0M299 441h0M476 329h0M459 237h0M316 465h0M509 377h0M499 311h0M575 421h0M368 255h0M302 489h0M467 378h0M405 317h0M344 305h0M310 511h0M413 312h0M424 494h0M387 294h0M452 203h0M393 292h0M286 465h0M460 470h0M281 376h0M433 318h0M460 251h0M380 437h0M343 283h0M346 496h0M292 439h0M335 452h0M291 431h0M315 340h0M418 280h0M316 464h0M477 373h0M430 323h0M485 375h0M481 429h0M292 495h0M429 431h0M281 438h0M478 331h0M456 236h0M335 285h0M469 371h0M444 479h0M384 287h0M322 307h0M394 504h0M459 417h0M419 287h0M413 292h0M384 448h0M350 449h0M378 249h0M463 218h0M341 501h0M508 397h0M340 325h0M391 237h0M364 313h0M279 372h0M430 301h0M361 261h0M411 308h0M407 446h0M341 443h0M284 473h0M419 440h0M463 209h0M391 304h0M329 445h0M468 334h0M293 483h0M335 442h0M451 411h0M279 387h0M367 301h0M362 301h0M483 342h0M491 237h0M352 309h0M345 479h0M416 492h0M439 304h0M333 470h0M377 498h0M367 481h0M468 217h0M343 301h0M337 493h0M422 453h0M366 295h0M395 321h0M336 454h0M382 249h0M463 374h0M454 317h0M406 434h0M482 301h0M445 331h0M492 203h0M405 316h0M375 515h0M311 448h0M457 340h0M287 427h0M434 327h0M477 280h0M423 425h0M385 316h0M440 445h0M359 268h0M302 431h0M454 334h0M440 297h0M375 495h0M380 514h0M360 270h0M295 462h0M424 299h0M345 303h0M283 427h0M430 425h0M437 286h0M486 401h0M349 511h0M383 305h0M342 448h0M303 483h0M352 482h0M463 325h0M305 342h0M403 279h0M354 504h0M462 364h0M350 325h0M360 324h0M386 290h0M429 208h0M481 434h0M389 298h0M338 313h0M414 280h0M381 464h0M436 298h0M461 214h0M472 382h0M466 376h0M458 329h0M498 371h0M443 504h0M477 370h0M340 296h0M426 482h0M367 450h0M436 466h0M339 263h0M414 316h0M359 318h0M495 493h0M429 432h0M382 317h0M430 499h0M365 451h0M280 398h0M353 492h0M437 266h0M301 437h0M363 466h0M388 442h0M440 411h0M375 442h0M331 471h0M472 454h0M343 300h0M322 443h0M406 295h0M468 395h0M460 495h0M465 354h0M358 486h0M402 325h0M485 328h0M335 319h0M456 406h0M361 493h0M361 314h0M467 370h0M426 222h0M455 250h0M388 290h0M321 496h0M413 326h0M338 477h0M422 310h0M465 372h0M462 406h0M426 294h0M376 471h0M403 286h0M390 242h0M462 308h0M478 315h0M333 324h0M428 285h0M408 450h0M330 462h0M507 404h0M364 464h0M470 371h0M389 443h0M290 350h0M327 332h0M345 318h0M377 295h0M449 249h0M298 503h0M410 224h0M365 320h0M368 475h0M435 442h0M414 275h0M338 304h0M423 423h0M355 473h0M483 356h0M340 287h0M458 330h0M457 241h0M365 325h0M467 345h0M348 444h0M328 450h0M471 360h0M461 355h0M367 463h0M369 258h0M424 290h0M366 493h0M481 466h0M322 469h0M384 294h0M381 299h0M389 455h0M429 268h0M296 456h0M414 279h0M344 305h0M361 249h0M408 463h0M433 296h0M421 473h0M417 289h0M390 476h0M372 492h0M425 269h0M476 365h0M367 464h0M340 478h0M448 336h0M444 305h0M342 463h0M393 450h0M493 271h0M417 272h0M382 490h0M304 510h0M360 292h0M353 312h0M364 469h0M295 440h0M421 423h0M412 320h0M316 497h0M423 318h0M290 433h0M362 461h0M367 300h0M341 516h0M523 189h0M326 513h0M390 321h0M494 213h0M415 435h0M339 313h0M304 490h0M377 298h0"/><path stroke="#181818" d="M398 395h0M438 231h0M300 388h0M395 266h0M400 272h0M422 245h0M333 381h0M340 419h0M398 269h0M323 348h0M321 385h0M415 371h0M391 253h0M451 232h0M417 401h0M411 345h0M411 336h0M353 334h0M349 339h0M367 396h0M382 378h0M426 356h0M342 421h0M389 353h0M380 400h0M354 407h0M379 369h0M315 410h0M366 403h0M391 382h0M418 245h0M450 236h0M381 412h0M383 400h0M353 379h0M353 394h0M403 379h0M342 428h0M330 421h0M371 388h0M305 416h0M383 265h0M373 413h0M433 373h0M419 361h0M330 424h0M312 384h0M293 374h0M415 236h0M394 268h0M379 360h0M349 369h0M408 268h0M444 243h0M424 364h0M334 394h0M328 370h0M330 404h0M320 385h0M381 344h0M342 415h0M300 416h0M414 385h0M387 394h0M350 344h0M424 233h0M391 248h0M304 373h0M402 365h0M442 377h0M344 354h0M321 389h0M397 251h0M402 409h0M334 381h0M323 426h0M420 360h0M419 351h0M433 242h0M351 421h0M407 268h0M415 362h0M390 280h0M356 421h0M384 352h0M389 348h0M365 351h0M380 347h0M353 419h0M299 389h0M291 397h0M340 342h0M376 418h0M397 413h0M410 405h0M425 356h0M399 389h0M326 358h0M318 380h0M347 369h0M369 399h0M294 402h0M393 279h0M350 364h0M330 417h0M316 409h0M386 261h0M382 253h0M445 237h0M432 379h0M410 385h0M364 387h0M385 271h0M417 248h0M405 354h0M398 247h0M331 425h0M408 386h0M393 249h0M321 395h0M355 400h0M366 383h0M335 425h0M445 238h0M347 412h0M351 421h0M333 422h0M348 365h0M430 249h0M428 255h0M319 348h0M340 354h0M306 420h0M375 263h0M346 419h0M327 390h0M411 336h0M443 353h0M336 378h0M389 345h0M325 377h0M450 234h0M385 409h0M374 393h0M303 413h0M395 254h0M425 386h0M343 357h0M402 254h0M357 339h0M405 242h0M388 279h0M439 234h0M373 365h0M344 366h0M392 389h0M419 260h0M421 233h0M392 362h0M389 270h0M416 380h0M306 354h0M348 360h0M304 417h0M428 373h0M380 385h0M379 279h0M427 369h0M363 424h0M411 372h0M340 349h0M364 383h0M346 339h0M330 341h0M432 247h0M300 407h0M431 230h0M400 357h0M342 374h0M412 364h0M402 254h0M432 384h0M369 425h0M339 380h0M319 409h0M375 380h0M353 385h0M379 274h0M414 254h0M348 361h0M390 268h0M372 353h0M345 336h0M429 241h0M359 381h0M362 333h0M369 355h0M323 405h0M381 264h0M449 230h0M355 386h0M403 272h0M414 265h0M417 353h0M328 374h0M330 425h0M394 343h0M344 401h0M394 257h0M415 403h0M354 381h0M399 395h0M333 335h0M378 360h0M421 247h0M429 378h0M433 379h0M350 402h0M328 392h0M337 382h0M349 365h0M348 355h0M408 372h0M339 369h0M438 230h0M322 367h0M375 342h0M385 364h0M380 265h0M355 358h0M373 378h0M321 401h0M441 228h0M420 396h0M380 408h0M313 361h0M331 418h0M373 378h0M389 407h0M394 358h0M367 374h0M299 365h0M364 423h0M346 423h0M373 387h0M420 358h0M387 279h0M352 372h0M307 368h0M427 257h0M364 392h0M362 420h0M296 401h0M296 364h0M402 255h0M401 258h0M332 384h0M299 388h0M294 367h0M413 251h0M376 414h0M433 348h0M338 370h0M335 376h0M319 407h0M404 251h0M414 403h0M438 380h0M324 366h0M422 348h0M376 387h0M352 413h0M385 388h0M355 350h0M374 358h0M361 365h0M383 354h0M452 227h0M417 390h0M373 352h0M356 376h0M410 269h0M390 384h0M390 403h0M425 382h0M396 392h0M418 249h0M297 383h0M402 353h0M384 258h0M383 377h0M399 255h0M345 349h0M408 252h0M408 235h0M322 385h0M299 395h0M338 351h0M402 400h0M311 401h0M441 247h0M355 353h0M341 426h0M305 369h0M296 413h0M324 355h0M400 376h0M314 394h0M373 333h0M299 386h0M428 253h0M324 411h0M367 366h0M446 226h0M369 354h0M380 392h0M340 412h0M343 419h0M429 370h0M414 241h0M443 373h0M419 240h0M390 342h0M376 345h0M325 370h0M338 338h0M392 339h0M375 389h0M367 411h0M351 376h0M361 349h0M418 350h0M386 347h0M415 268h0M344 407h0M399 382h0M308 417h0M396 402h0M350 343h0M427 347h0M350 391h0M429 246h0M309 411h0M320 365h0M405 264h0M322 369h0M365 332h0M372 401h0M383 256h0M377 404h0M382 358h0M426 247h0M400 371h0M369 361h0M372 367h0M303 413h0M373 281h0M405 274h0M348 369h0M342 408h0M438 361h0M380 385h0M356 397h0M354 423h0M436 371h0M432 380h0M390 416h0M354 377h0M419 401h0M379 393h0M439 241h0M323 382h0M408 345h0M350 338h0M309 380h0M382 279h0M286 381h0M331 341h0M355 390h0M315 349h0M352 396h0M322 417h0M431 236h0M309 393h0M332 416h0M304 367h0M422 249h0M361 413h0M311 404h0M308 378h0M415 397h0M395 393h0M410 354h0M447 226h0M368 419h0M300 409h0M312 353h0M353 415h0M370 408h0M325 358h0M391 373h0M309 382h0M378 376h0M371 366h0M348 396h0M328 393h0M345 370h0M346 347h0M311 352h0M398 359h0M304 377h0M362 413h0M315 381h0M431 352h0M440 381h0M442 236h0M322 373h0M320 410h0M387 374h0M408 401h0M365 400h0M376 393h0M294 379h0M337 340h0M349 394h0M322 401h0M328 374h0M387 366h0M367 427h0M371 332h0M390 394h0M443 238h0M366 392h0M316 377h0M337 383h0M439 248h0M356 353h0M393 376h0M377 407h0M289 393h0M314 378h0M301 390h0M401 398h0M433 369h0M380 334h0M376 343h0M354 346h0M313 357h0M358 414h0M399 267h0M351 342h0M416 371h0M382 420h0M387 377h0M332 381h0M394 338h0M437 377h0M334 410h0M324 351h0M360 344h0M374 373h0M297 406h0M377 412h0M313 379h0M443 226h0M401 368h0M313 385h0M343 416h0M441 233h0M421 403h0M380 412h0M318 374h0M402 349h0M312 369h0M291 372h0M427 363h0M377 345h0M311 407h0M330 410h0M370 388h0M337 418h0M346 406h0M402 405h0M343 388h0M379 270h0M320 345h0M410 353h0M317 361h0M430 393h0M433 375h0M424 398h0M310 368h0M389 345h0M372 367h0M325 401h0M432 362h0M331 414h0M420 382h0M320 404h0M390 376h0M415 368h0M326 414h0M306 360h0M357 390h0M362 337h0M287 403h0M390 412h0M402 345h0M423 355h0M379 279h0M374 342h0M363 359h0M356 428h0M308 373h0M351 371h0M337 409h0M366 414h0M367 278h0M393 341h0M416 394h0M298 391h0M377 383h0M432 358h0M298 405h0M418 362h0M439 379h0M381 341h0M402 388h0M347 364h0M420 239h0M402 387h0M397 385h0M371 359h0M441 233h0M389 349h0M376 377h0M394 244h0M284 395h0M304 396h0M397 415h0M382 355h0M329 344h0M363 371h0M306 370h0M352 363h0M342 336h0M352 354h0M388 377h0M327 342h0M440 248h0M429 372h0M385 395h0M391 344h0M372 400h0M347 343h0M433 391h0M392 380h0M422 372h0M324 405h0M406 366h0M401 248h0M349 388h0M370 414h0M327 350h0M340 347h0M353 390h0M352 428h0M379 339h0M358 396h0M394 276h0M329 346h0M357 329h0M421 252h0M373 376h0M379 348h0M369 411h0M416 367h0M408 372h0M320 421h0M382 257h0M333 395h0M383 372h0M345 359h0M391 360h0M385 349h0M336 374h0M353 351h0M383 281h0M384 408h0M329 381h0M425 397h0M377 274h0M424 352h0M416 238h0M342 334h0M364 424h0M337 397h0M318 373h0M292 365h0M415 244h0M361 391h0M304 353h0M368 333h0M356 376h0M415 364h0M351 391h0M310 383h0M289 385h0M428 387h0M349 369h0M306 388h0M315 356h0M340 387h0M393 278h0M376 260h0M306 360h0M306 405h0M347 399h0M290 395h0M388 416h0M424 404h0M350 392h0M368 379h0M418 395h0M324 353h0M371 384h0M361 338h0M292 391h0M298 359h0M398 376h0M347 361h0M339 369h0M294 361h0M408 373h0M399 270h0M382 411h0M383 376h0M310 372h0M370 397h0M330 413h0M426 253h0M313 412h0M361 424h0M307 417h0M290 391h0M341 383h0M379 403h0M335 352h0M439 250h0M382 394h0M392 276h0M407 254h0M400 363h0M326 414h0M349 345h0M396 355h0M348 338h0M311 425h0M431 390h0M332 354h0M295 399h0M294 399h0M345 388h0M404 268h0M448 232h0M412 384h0M347 376h0M385 396h0M447 227h0M392 340h0M296 386h0M305 391h0M386 388h0M389 340h0M317 398h0M315 353h0M412 374h0M296 407h0M318 400h0M383 345h0M411 258h0M358 357h0M361 425h0M333 369h0M400 260h0M411 376h0M344 386h0M342 359h0M390 395h0M364 361h0M368 412h0M416 399h0M293 401h0M290 383h0M326 369h0M429 257h0M367 329h0M351 428h0"/><path stroke="#f0c000" d="M365 428h0M293 377h0M288 390h0M402 342h0M413 338h0M433 223h0M407 342h0M313 418h0M440 339h0M414 340h0M311 424h0M351 423h0M307 419h0M418 404h0M443 372h0M380 284h0M429 230h0M319 413h0M349 419h0M453 224h0M302 413h0M294 368h0M404 273h0M428 377h0M304 412h0M411 267h0M387 415h0M444 355h0M440 357h0M422 407h0M448 381h0M428 382h0M331 342h0M301 407h0M429 369h0M391 416h0M368 416h0M441 229h0M326 420h0M311 419h0M431 388h0M460 381h0M326 422h0M421 359h0M431 370h0M423 407h0M426 363h0M395 339h0M361 419h0M308 410h0M380 416h0M430 386h0M386 249h0M444 241h0M446 236h0M457 226h0M348 431h0M445 374h0M439 247h0M385 435h0M417 351h0M435 391h0M390 434h0M337 432h0M402 425h0M290 378h0M438 351h0M359 434h0M409 348h0M371 277h0M391 411h0M287 388h0M417 398h0M409 395h0M427 256h0M355 333h0M304 412h0M387 425h0M388 329h0M445 233h0M300 411h0M448 228h0M356 337h0M314 353h0M353 426h0M362 339h0M442 229h0M290 388h0M410 269h0M349 426h0M305 404h0M343 422h0M422 401h0M363 420h0M344 428h0M408 273h0M292 401h0M408 398h0M305 356h0M429 371h0M451 394h0M295 394h0M441 244h0M289 373h0M389 411h0M336 428h0"/><path stroke="#e88000" d="M381 382h0M391 264h0M334 408h0M295 380h0M357 359h0M395 393h0M420 234h0M331 358h0M337 351h0M341 404h0M378 399h0M314 397h0M395 361h0M392 364h0M326 357h0M365 414h0M353 413h0M359 397h0M321 394h0M358 397h0M317 373h0M382 407h0M432 243h0M324 366h0M314 357h0M338 394h0M356 396h0M419 384h0M356 405h0M297 375h0M336 358h0M389 364h0M357 345h0M367 390h0M388 351h0M310 376h0M431 249h0M341 407h0M319 385h0M431 247h0M364 359h0M325 391h0M376 393h0M378 380h0M403 245h0M310 393h0M369 407h0M389 398h0M334 388h0M424 256h0M364 408h0M378 390h0M349 400h0M343 399h0M347 393h0M406 352h0M352 356h0M345 354h0M437 245h0M409 375h0M413 389h0M434 236h0M410 370h0M385 368h0M330 368h0M421 258h0M337 357h0M424 236h0M373 362h0M406 382h0M394 359h0M312 359h0M410 243h0M351 403h0M329 367h0M358 391h0M363 350h0M320 356h0M411 355h0M342 405h0M359 395h0M330 368h0M309 373h0M323 366h0M376 360h0M421 372h0M387 385h0M381 349h0M309 392h0M345 356h0M413 262h0M332 412h0M380 383h0M326 378h0M326 405h0M400 370h0M357 398h0M373 401h0M336 345h0M372 397h0M364 394h0M431 238h0M383 360h0M376 408h0M385 386h0M378 398h0M410 241h0M360 402h0M332 397h0M395 402h0M401 247h0M378 356h0M352 403h0M377 364h0M376 396h0M387 378h0M387 373h0M401 355h0M302 378h0M360 406h0M359 359h0M369 354h0M385 269h0M343 353h0M373 385h0M387 385h0M440 239h0M419 378h0M378 400h0M331 358h0M328 385h0M399 384h0M296 383h0M333 356h0M339 391h0M375 361h0M391 384h0M374 343h0M371 344h0M390 258h0M356 355h0M337 361h0M328 383h0M376 383h0M437 235h0M317 369h0M360 402h0M413 241h0M398 389h0M402 367h0M333 365h0M411 262h0M396 358h0M386 346h0M410 365h0M391 399h0M340 349h0M364 409h0M321 369h0M309 406h0M398 345h0M398 383h0M324 373h0M357 348h0M367 388h0M399 377h0M379 392h0M398 382h0M328 392h0M375 393h0M399 396h0M388 390h0M312 368h0M335 356h0M335 364h0M380 411h0M357 408h0M405 392h0M392 347h0M350 409h0M340 361h0M382 380h0M412 353h0"/><path stroke="#e06010" d="M364 371h0M376 379h0M363 360h0M429 245h0M366 376h0M409 256h0M374 375h0M358 376h0M350 380h0M405 261h0M359 370h0M339 386h0M363 380h0M362 370h0M354 362h0M334 374h0M370 379h0M424 249h0M415 242h0M412 252h0M424 239h0M412 250h0M358 385h0M358 371h0M370 383h0M423 240h0M351 375h0M409 250h0M416 248h0M341 379h0M340 380h0M354 389h0M405 253h0M364 365h0M413 244h0M399 262h0M395 265h0M368 377h0M393 260h0M367 365h0M417 241h0M373 373h0M405 261h0M340 381h0M411 255h0M351 389h0M376 371h0M409 249h0M409 249h0M343 382h0M347 376h0M404 252h0M352 384h0M428 238h0M368 377h0M416 244h0M359 361h0M373 375h0M337 372h0M403 261h0M360 387h0M371 383h0"/><path stroke="#e8a810" d="M349 363h0M356 375h0M362 363h0M356 383h0M342 366h0M352 362h0M363 377h0M403 253h0M332 378h0M404 262h0M350 381h0M408 255h0M350 374h0M330 382h0M358 385h0M368 374h0M342 384h0M409 248h0M369 365h0M414 244h0M417 247h0M407 255h0M398 264h0M412 256h0M337 377h0M400 258h0M369 380h0M360 382h0M329 381h0M373 376h0M400 264h0M369 383h0M360 380h0M355 360h0M417 243h0M431 244h0M379 372h0M344 371h0M334 381h0M359 361h0M408 260h0M349 361h0M343 388h0M354 381h0M418 246h0M346 364h0M355 389h0M349 378h0M410 258h0M351 363h0M354 389h0M425 247h0M356 390h0M370 372h0M360 378h0M370 371h0M426 244h0M410 258h0M410 256h0M345 384h0M409 254h0M366 370h0M365 376h0M429 245h0M339 371h0M404 251h0M349 365h0M363 362h0M368 371h0M405 257h0M334 373h0M339 372h0"/><path stroke="#282828" d="M309 379h0M411 408h0M417 258h0M322 430h0M449 226h0M363 401h0M397 383h0M406 395h0M366 400h0M369 397h0M371 285h0M330 425h0M392 411h0M388 385h0M441 236h0M282 373h0M375 380h0M439 246h0M395 384h0M395 271h0M382 417h0M396 398h0M354 370h0M288 391h0M373 270h0M395 383h0M378 328h0M351 404h0M379 261h0M331 404h0M393 258h0M378 368h0M388 417h0M368 357h0M380 395h0M322 399h0M363 381h0M353 414h0M405 380h0M370 407h0M306 397h0M428 379h0M368 348h0M446 349h0M322 357h0M424 249h0M384 268h0M367 423h0M406 237h0M285 365h0M413 257h0M341 342h0M444 381h0M344 348h0M433 377h0M298 389h0M422 412h0M378 349h0M424 258h0M353 336h0M369 434h0M292 417h0M366 363h0M401 366h0M398 348h0M335 418h0M331 361h0M329 347h0M362 417h0M386 336h0M382 382h0M301 381h0M305 375h0M363 354h0M399 241h0M397 354h0M372 393h0M341 408h0M394 382h0M350 429h0M294 367h0M346 377h0M405 422h0M402 401h0M282 374h0M409 241h0M328 365h0M307 413h0M314 371h0M394 277h0M353 358h0M365 331h0M373 273h0M332 338h0M423 380h0M419 255h0M449 370h0M429 344h0M312 430h0M409 339h0M354 402h0M354 341h0M394 256h0M415 357h0M447 381h0M384 342h0M455 231h0M438 375h0M385 261h0M395 352h0M392 256h0M410 414h0M339 341h0M412 391h0M423 370h0M374 417h0M341 394h0M386 340h0M317 401h0M318 342h0M361 342h0M354 360h0M339 426h0M333 345h0M422 265h0M354 373h0M419 233h0M450 236h0M298 389h0M425 364h0M384 391h0M441 230h0M330 373h0M359 350h0M402 397h0M345 346h0M368 366h0M341 352h0M361 403h0M361 372h0M411 394h0M306 417h0M353 402h0M332 376h0M436 387h0M413 398h0M374 276h0M320 420h0M356 377h0M322 415h0M305 362h0M325 372h0M409 357h0M363 355h0M398 380h0M418 255h0M373 371h0M302 403h0M409 250h0M411 273h0M303 415h0M329 353h0M415 254h0M331 432h0M308 414h0M358 398h0M370 431h0M407 367h0M379 394h0M387 265h0M435 254h0M424 248h0M323 421h0M405 275h0M369 275h0M384 391h0M354 407h0M329 393h0M422 380h0M373 354h0M398 253h0M386 254h0M420 360h0M351 355h0M408 255h0M336 382h0M434 402h0M382 394h0M365 335h0M435 365h0M377 407h0M323 414h0M453 382h0M318 422h0M363 388h0M412 235h0M316 427h0M367 403h0M382 280h0M309 422h0M366 283h0M436 239h0M426 362h0M395 257h0M343 410h0M396 402h0M398 352h0M379 427h0M331 415h0M307 368h0M337 409h0M335 400h0M388 254h0M407 396h0M381 285h0M408 353h0M368 373h0M440 226h0M327 390h0M300 374h0M423 233h0M443 357h0M322 393h0M402 375h0M286 405h0M441 251h0M315 424h0M367 358h0M379 357h0M386 413h0M419 397h0M339 403h0M384 262h0M444 348h0M440 387h0M347 385h0M427 371h0M446 238h0M364 365h0M454 376h0M443 370h0M360 410h0M370 424h0M380 277h0M406 357h0M289 367h0M421 228h0M319 406h0M348 424h0M426 367h0M438 359h0M410 253h0M303 383h0M333 342h0M368 378h0M327 399h0M396 353h0M342 406h0M428 399h0M391 271h0M299 389h0M368 359h0M421 392h0M332 396h0M366 428h0M338 434h0M359 393h0M399 408h0M425 386h0M420 236h0M425 377h0M430 339h0M347 347h0M444 229h0M335 388h0M438 243h0M288 364h0M419 237h0M395 254h0M388 363h0M311 412h0M391 396h0M381 358h0M443 369h0M388 393h0M413 343h0M323 358h0M372 406h0M351 391h0M371 423h0M368 408h0M387 418h0M393 391h0M427 363h0M350 372h0M380 387h0M375 361h0M405 404h0M366 330h0M331 393h0M426 248h0M444 349h0M338 397h0M362 400h0M360 338h0M316 429h0M318 417h0M365 396h0M430 385h0M339 407h0M386 394h0M345 396h0M377 413h0M355 333h0M368 356h0M338 429h0M344 378h0M368 402h0M400 374h0M345 407h0M422 362h0M371 369h0M411 249h0M357 343h0M301 362h0M370 397h0M290 367h0M360 402h0M417 238h0M387 337h0M332 413h0M306 384h0M392 271h0M399 251h0M367 374h0M312 408h0M438 369h0M309 381h0M355 419h0M294 360h0M289 360h0M441 345h0M336 369h0M296 410h0M452 383h0M400 265h0M422 228h0M326 353h0M389 378h0M369 376h0M373 386h0M381 415h0M410 271h0M361 398h0M334 421h0M290 390h0M335 372h0M370 415h0M443 242h0M370 339h0M341 348h0M423 243h0M399 409h0M394 412h0M363 378h0M391 353h0M427 357h0M350 373h0M319 400h0M433 241h0M389 274h0M388 421h0M387 280h0M399 415h0M442 355h0M305 400h0M358 427h0M369 396h0M425 402h0M349 341h0M427 352h0M353 411h0M314 352h0M323 378h0M430 363h0M446 227h0M378 327h0M398 269h0M383 369h0M335 340h0M391 405h0M349 343h0M382 342h0M413 414h0M355 413h0M416 373h0M334 367h0M325 362h0M318 387h0M319 412h0M318 388h0M402 332h0M304 364h0M332 404h0M306 395h0M400 256h0M402 417h0M367 379h0M326 393h0M290 364h0M377 281h0M392 407h0M329 379h0M342 411h0M395 372h0M344 393h0M330 398h0M382 379h0M423 367h0M374 376h0M286 398h0M339 426h0M307 401h0M351 415h0M324 337h0M315 370h0M416 334h0M358 396h0M386 357h0M366 341h0M434 367h0M338 368h0M415 366h0M323 405h0M353 431h0M339 424h0M282 377h0M400 350h0M381 376h0M418 247h0M363 378h0M409 250h0M441 223h0M353 344h0M317 409h0M296 382h0M396 392h0M401 347h0M320 384h0M392 250h0M343 352h0M344 419h0M311 419h0M456 367h0M325 382h0M392 367h0M365 411h0M304 354h0M422 264h0M429 356h0M286 388h0M319 390h0M307 359h0M395 267h0M396 254h0M348 377h0M360 426h0M402 381h0M310 359h0M297 381h0M342 431h0M370 385h0M325 406h0M322 412h0M373 366h0M406 415h0M347 391h0M431 245h0M361 402h0M301 363h0M427 258h0M319 398h0M365 334h0M393 405h0M359 405h0M390 336h0M426 355h0M303 370h0M358 422h0M437 381h0M332 378h0M354 348h0M437 396h0M388 339h0M427 257h0M394 407h0M386 418h0M291 358h0M332 411h0M450 235h0M312 418h0M419 350h0M390 424h0M418 394h0M328 352h0M398 419h0M344 386h0M419 363h0M365 409h0M350 381h0M378 414h0M387 277h0M399 370h0M414 403h0M430 246h0M304 391h0M379 400h0M354 348h0M389 274h0M308 400h0M304 391h0M367 409h0M419 394h0M377 277h0M416 397h0M384 337h0M304 392h0M305 392h0M400 411h0M427 242h0M434 230h0M423 408h0M328 348h0M307 397h0M382 274h0M336 425h0M318 356h0M310 385h0M336 422h0M435 363h0M415 263h0M323 372h0M343 355h0M447 379h0M403 254h0M344 334h0M352 384h0M336 372h0M409 267h0M302 392h0M376 389h0M318 359h0M354 378h0M380 379h0M411 258h0M367 419h0M442 379h0M377 336h0M371 341h0M398 259h0M408 393h0M360 358h0M370 430h0M368 388h0M426 406h0M352 380h0M418 259h0M336 382h0M287 405h0M324 424h0M321 364h0M362 372h0M335 390h0M353 355h0M358 394h0M454 379h0M323 370h0M355 376h0M414 357h0M341 423h0M292 404h0M410 371h0M393 421h0M411 370h0M378 344h0M378 380h0M310 360h0M372 355h0M380 416h0M328 414h0M435 386h0M332 395h0M350 422h0M410 253h0M397 399h0M401 421h0M342 430h0M309 370h0M327 376h0M305 412h0M393 281h0M333 342h0M363 385h0M451 225h0M392 389h0M375 382h0M317 376h0M384 406h0M370 406h0M423 238h0M430 230h0M394 353h0M361 368h0M319 342h0M319 400h0M386 370h0M404 272h0M352 377h0M305 414h0M405 242h0M291 405h0M332 360h0M393 271h0M372 403h0M441 384h0M400 401h0M376 396h0M372 277h0M430 402h0M361 352h0M354 403h0M416 393h0M365 414h0M375 400h0M361 351h0M436 354h0M403 365h0M388 379h0M416 400h0M370 275h0M345 392h0M402 248h0M361 361h0M338 342h0M438 249h0M420 365h0M330 400h0M408 408h0M366 360h0M391 344h0M441 386h0M386 414h0M328 413h0M311 394h0M414 391h0M420 351h0M394 333h0M374 362h0M306 420h0M300 379h0M420 356h0M433 363h0M302 392h0M420 403h0M413 332h0M436 391h0M289 375h0M322 364h0M295 363h0M403 247h0M340 414h0M341 363h0M427 382h0M432 348h0M299 413h0M381 374h0M345 394h0M326 402h0M389 394h0M433 229h0M384 374h0M377 409h0M366 408h0M374 405h0M416 401h0M418 240h0M403 355h0M398 370h0M383 344h0M400 338h0M368 361h0M434 349h0M409 396h0M302 411h0M408 422h0M321 349h0M370 284h0M434 388h0M370 435h0M410 406h0M328 413h0M304 382h0M328 419h0M410 345h0M341 376h0M362 360h0M378 337h0M389 265h0M449 224h0M385 383h0M415 375h0M288 374h0M399 380h0M326 396h0M346 419h0M320 406h0M375 398h0M370 346h0M313 424h0M370 283h0M350 345h0M363 332h0M372 397h0M398 262h0M313 421h0M421 371h0M424 386h0M323 366h0M353 362h0M336 367h0M383 283h0M354 416h0M403 343h0M422 233h0M366 380h0M420 247h0M312 360h0M375 354h0M385 404h0M398 398h0M363 371h0M369 402h0M336 335h0M423 344h0M395 390h0M331 367h0M387 263h0M425 348h0M305 354h0M331 365h0M437 385h0M431 391h0M368 421h0M320 393h0M409 400h0M393 415h0M385 386h0M286 400h0M370 281h0M384 418h0M343 343h0M366 403h0M299 388h0M319 381h0M368 376h0M366 278h0M441 393h0M396 278h0M312 384h0M410 349h0M347 365h0M380 382h0M413 334h0M419 367h0M357 369h0M356 408h0M409 350h0M358 384h0M412 251h0M351 372h0M368 362h0M331 334h0M384 345h0M387 265h0M397 260h0M374 382h0M347 354h0M303 420h0"/><path stroke="#989898" d="M335 280h0M474 225h0M485 390h0M350 509h0M347 268h0M496 374h0M469 300h0M309 266h0M449 499h0M399 467h0M468 257h0M503 448h0M432 285h0M434 483h0M582 222h0M324 292h0M469 255h0M280 444h0M418 463h0M276 370h0M500 313h0M446 506h0M443 471h0M450 492h0M418 451h0M302 479h0M442 499h0M426 464h0M495 389h0M382 483h0M346 262h0M425 451h0M482 219h0M410 484h0M470 208h0M423 490h0M501 360h0M509 332h0M452 438h0M350 478h0M422 513h0M451 301h0M458 319h0M462 424h0M497 447h0M425 440h0M443 296h0M400 300h0M557 280h0M331 316h0M460 281h0M318 484h0M291 507h0M301 456h0M395 467h0M520 323h0M477 233h0M463 326h0M449 428h0M278 405h0M339 502h0M447 433h0M428 461h0M490 375h0M407 512h0M400 307h0M340 501h0M446 471h0M465 255h0M307 485h0M438 269h0M478 464h0M503 378h0M490 389h0M501 211h0M354 504h0M507 218h0M309 473h0M478 229h0M335 288h0M427 507h0M473 403h0M478 203h0M487 255h0M438 304h0M437 280h0M429 502h0M478 420h0M416 477h0M478 314h0M488 381h0M459 261h0M474 248h0M491 221h0M453 426h0M374 496h0M450 468h0M439 205h0M494 353h0M455 307h0M352 505h0M325 287h0M415 209h0M289 485h0M360 511h0M493 379h0M413 475h0M418 306h0M437 294h0M502 372h0M375 471h0M442 435h0M459 472h0M514 359h0M397 310h0M460 411h0M539 194h0M492 439h0M456 473h0M467 312h0M430 451h0M287 473h0M314 476h0M276 408h0M434 513h0M385 493h0M465 299h0M345 272h0M329 468h0M474 433h0M319 304h0M472 258h0M476 490h0M435 312h0M451 435h0M431 304h0M395 502h0M328 494h0M469 493h0"/><path stroke="#383838" d="M333 427h0M329 415h0M386 428h0M385 428h0M465 378h0M320 346h0M381 413h0M298 399h0M403 413h0M350 351h0M382 415h0M366 336h0M420 389h0M412 429h0M287 374h0M387 336h0M435 387h0M384 251h0M379 428h0M457 348h0M444 357h0M355 333h0M415 420h0M452 350h0M321 426h0M353 442h0M370 420h0M334 410h0M458 358h0M349 339h0M342 420h0M340 387h0M325 368h0M297 401h0M418 416h0M438 367h0M441 385h0M409 252h0M384 337h0M323 341h0M419 270h0M389 427h0M404 362h0M451 363h0M325 394h0M406 329h0M356 425h0M404 339h0M406 413h0M443 230h0M429 338h0M399 334h0M458 346h0M363 437h0M360 289h0M398 436h0M298 409h0M445 338h0M350 420h0M306 418h0M387 279h0M385 410h0M435 392h0M375 288h0M350 333h0M417 331h0M439 220h0M386 335h0M357 437h0M411 412h0M435 388h0M377 288h0M406 418h0M349 428h0M361 329h0M381 290h0M431 380h0M447 235h0M418 347h0M442 384h0M397 433h0M415 398h0M331 371h0M283 377h0M416 328h0M357 427h0M438 348h0M362 354h0M361 439h0M437 403h0M385 436h0M345 435h0M334 343h0M361 375h0M428 408h0M353 333h0M362 295h0M395 407h0M338 340h0M410 409h0M423 347h0M437 234h0M288 409h0M359 434h0M349 430h0M447 390h0M433 222h0M325 433h0M417 228h0M424 350h0M447 393h0M443 382h0M382 417h0M419 232h0M335 331h0M442 368h0M410 344h0M443 248h0M285 370h0M378 288h0M445 391h0M380 415h0M349 365h0M319 412h0M439 383h0M455 385h0M398 409h0M356 343h0M416 341h0M285 369h0M431 409h0M376 337h0M384 425h0M444 226h0M423 411h0M368 399h0M417 345h0M411 341h0M295 359h0M459 381h0M442 383h0M341 336h0M386 287h0M291 392h0M433 338h0M437 396h0M328 405h0M385 252h0M376 417h0M442 243h0M320 416h0M392 332h0M294 408h0M316 347h0M323 428h0M332 421h0M291 401h0M397 421h0M397 421h0M344 384h0M394 280h0M437 358h0M286 377h0M300 428h0M451 339h0M422 353h0M388 436h0M368 277h0M306 423h0M392 244h0M405 272h0M366 281h0M397 338h0M328 433h0M349 421h0M299 426h0M337 380h0M353 358h0M358 435h0M420 390h0M334 337h0M444 384h0M302 383h0M313 373h0M309 348h0M295 408h0M443 340h0M336 423h0M385 284h0M314 415h0M293 414h0M437 399h0M401 394h0M433 342h0M418 378h0M400 335h0M376 405h0M429 260h0M288 408h0M332 439h0M431 334h0M426 244h0M439 372h0M355 286h0M457 356h0M425 391h0M294 425h0M407 425h0M443 344h0M290 402h0M305 421h0M352 433h0M359 344h0M406 417h0M429 227h0M311 436h0M320 414h0M456 232h0M321 417h0M405 253h0M301 403h0M410 419h0M460 369h0M289 392h0M411 346h0M353 426h0M439 249h0M370 291h0M416 238h0M397 434h0M307 345h0M448 227h0M373 329h0M391 360h0M361 427h0M307 424h0M307 390h0M335 328h0M310 369h0M372 280h0M297 413h0M310 379h0M348 349h0M335 434h0M440 402h0M285 390h0M389 281h0M415 341h0M441 396h0M317 419h0M313 345h0M358 439h0M422 395h0M394 428h0M285 369h0M388 247h0M426 259h0M435 405h0M402 337h0M455 228h0M281 367h0M290 374h0M416 410h0M395 251h0M349 421h0M379 334h0M334 444h0M430 349h0M348 327h0M316 424h0M362 431h0M372 438h0M409 242h0M455 360h0M402 404h0M432 251h0M301 415h0M454 370h0M338 341h0M420 331h0M291 407h0M439 338h0M434 369h0M407 410h0M305 355h0M336 444h0M372 368h0M435 250h0M383 366h0M308 348h0M394 421h0M306 362h0M449 379h0M405 422h0M398 339h0M361 384h0M419 354h0M436 350h0M432 346h0M374 280h0M377 404h0M447 350h0M292 374h0M415 329h0M438 370h0M334 420h0M289 394h0M413 396h0M425 353h0M308 401h0M367 420h0M398 409h0M367 289h0M406 237h0M437 331h0M341 441h0M431 371h0M336 344h0M444 243h0M392 355h0M409 273h0M401 255h0M347 372h0M408 236h0M400 371h0M379 251h0M447 373h0M441 388h0M355 395h0M418 410h0M424 417h0M314 421h0M424 417h0M389 277h0M420 396h0M357 435h0M380 285h0M296 362h0M354 323h0M341 388h0M313 342h0M373 429h0M422 409h0M376 289h0M318 350h0M421 352h0M286 413h0M386 286h0M377 421h0M414 416h0M388 251h0M372 428h0M460 221h0M449 219h0M420 414h0M303 426h0M395 335h0M376 275h0M306 415h0M421 232h0M456 388h0M468 368h0M363 292h0M367 290h0M302 348h0M459 386h0M298 401h0M389 328h0M441 374h0M336 439h0M294 411h0M361 408h0M331 333h0M417 349h0M332 431h0M417 339h0M378 331h0M433 397h0M362 335h0M440 385h0M438 224h0M391 390h0M443 366h0M371 295h0M282 365h0M303 387h0M430 254h0M445 396h0M433 376h0M444 399h0M366 275h0M419 327h0M387 380h0M399 424h0M454 349h0M436 338h0M443 247h0M437 373h0M371 291h0M452 240h0M403 279h0M433 352h0M365 282h0M367 270h0M459 375h0M370 423h0M371 333h0M437 352h0M287 392h0M427 382h0M371 268h0M313 362h0M430 348h0M400 370h0M374 335h0M293 366h0M393 401h0M289 390h0M280 383h0M378 429h0M368 328h0M394 284h0M329 433h0M378 272h0M442 225h0M301 412h0M440 225h0M457 223h0M455 228h0M344 325h0M302 352h0M412 269h0M449 364h0M356 428h0M375 444h0M430 386h0M416 406h0M341 327h0M462 377h0M388 367h0M369 265h0M309 350h0M292 415h0M373 275h0M362 271h0M358 448h0M391 332h0M400 268h0M322 347h0M437 376h0M341 343h0M371 265h0M461 361h0M340 388h0M440 381h0M466 362h0M377 255h0M397 244h0M434 225h0M381 286h0M283 366h0M390 277h0M324 426h0M390 246h0M372 336h0M377 430h0M364 354h0M421 229h0M304 431h0M381 427h0M394 324h0M347 333h0M435 337h0M310 354h0M441 348h0M402 381h0M365 271h0M332 438h0M418 264h0M456 394h0"/><path stroke="#f0a000" d="M382 390h0M360 355h0M385 395h0M324 396h0M321 409h0M341 415h0M399 347h0M365 392h0M382 366h0M312 402h0M418 380h0M425 232h0M378 358h0M386 268h0M344 407h0M329 349h0M397 390h0M375 348h0M359 356h0M384 268h0M407 264h0M422 363h0M333 398h0M317 399h0M404 375h0M324 372h0M343 397h0M381 401h0M392 398h0M346 357h0M390 374h0M360 397h0M414 239h0M371 350h0M416 378h0M311 375h0M307 398h0M304 379h0M342 392h0M362 411h0M400 354h0M294 377h0M405 370h0M305 371h0M357 401h0M389 375h0M379 367h0M343 391h0M378 391h0M383 364h0M370 409h0M343 353h0M393 273h0M328 395h0M433 235h0M362 356h0M390 258h0M311 365h0M375 347h0M388 258h0M387 269h0M359 396h0M295 384h0M340 357h0M357 404h0M339 356h0M305 363h0M391 263h0M389 368h0M391 368h0M368 409h0M386 387h0M333 350h0M404 396h0M375 353h0M394 253h0M353 350h0M307 375h0M326 396h0M300 385h0M311 374h0M372 402h0M372 362h0M315 382h0M379 348h0M417 371h0M388 404h0M314 371h0M393 394h0M346 359h0M331 409h0M377 363h0M380 358h0M436 242h0M369 354h0M348 392h0M366 358h0M344 347h0M331 369h0M341 390h0M368 391h0M393 347h0M392 266h0M376 381h0M382 386h0M387 260h0M409 264h0M366 409h0M309 364h0M354 343h0M300 378h0M344 361h0M376 356h0M352 416h0M345 358h0M395 360h0M385 375h0M403 380h0M387 392h0M387 389h0M360 356h0M384 393h0M328 379h0M335 360h0M396 352h0M353 359h0M406 264h0M402 247h0M327 379h0M335 387h0M307 368h0M351 350h0M369 358h0M357 402h0M324 351h0M313 387h0M420 233h0M388 370h0M342 363h0M392 355h0M401 368h0M323 372h0M387 386h0M364 349h0M326 413h0M417 387h0M332 395h0M305 389h0M295 373h0M366 345h0M397 358h0M394 254h0M356 356h0M398 349h0M335 393h0M318 393h0M320 385h0M384 355h0M400 347h0M325 398h0M340 389h0M379 403h0M342 403h0M334 393h0M321 354h0M307 402h0M381 362h0M363 398h0M338 389h0M363 409h0M386 395h0M308 377h0M326 384h0M355 413h0M387 355h0M313 406h0M314 403h0M322 382h0M312 378h0M353 357h0M433 246h0M391 358h0M376 347h0M438 236h0M371 388h0M417 385h0M335 393h0M362 413h0M375 405h0M367 388h0M406 395h0M355 358h0M399 377h0M316 387h0M421 372h0M314 399h0M397 381h0M334 406h0M398 349h0M433 238h0M393 356h0M403 269h0M366 396h0M302 387h0M322 389h0M384 395h0M380 378h0M374 409h0M368 356h0M356 351h0M357 398h0"/><path stroke="#e8b800" d="M352 408h0M344 409h0M381 375h0M393 398h0M297 385h0M312 369h0M315 395h0M357 410h0M323 381h0M316 390h0M337 404h0M421 377h0M330 389h0M410 383h0M338 360h0M345 357h0M372 390h0M430 253h0M369 355h0M395 364h0M367 401h0M347 349h0M346 412h0M329 390h0M324 389h0M394 361h0M325 371h0M323 370h0M407 263h0M359 344h0M387 353h0M309 393h0M327 373h0M398 392h0M330 391h0M376 399h0M383 400h0M417 261h0M397 353h0M315 360h0M396 378h0M400 248h0M370 354h0M380 388h0M356 352h0M434 245h0M365 351h0M390 348h0M323 370h0M389 376h0M347 343h0M392 402h0M378 363h0M390 378h0M409 368h0M327 379h0M337 396h0M420 370h0M374 395h0M405 376h0M396 249h0M401 395h0M375 350h0M356 404h0M320 392h0M402 395h0M395 267h0M399 357h0M399 267h0M355 402h0M369 343h0M342 399h0M388 371h0M309 393h0M390 380h0M325 360h0M368 389h0M370 343h0M311 380h0M316 364h0M386 397h0M340 407h0M423 374h0M329 360h0M339 352h0M388 376h0M379 354h0M387 380h0M427 233h0M317 368h0M364 390h0M371 390h0M300 381h0M325 374h0M370 404h0M319 408h0M372 347h0M434 248h0M411 366h0M314 398h0M377 394h0M360 390h0M400 360h0M334 366h0M395 359h0M392 357h0M385 396h0M386 368h0M368 350h0M321 400h0M313 386h0M355 398h0M374 408h0M390 386h0M413 260h0M336 349h0M400 269h0M329 392h0M422 364h0M377 356h0M302 395h0M319 370h0M384 403h0M313 373h0M330 395h0M313 377h0M409 243h0M332 389h0M344 412h0M414 387h0M399 365h0M372 388h0M334 404h0M383 385h0M389 382h0M397 383h0M303 379h0M338 353h0M408 379h0M351 393h0M304 391h0M335 407h0M323 375h0M361 359h0M315 396h0M413 262h0M358 343h0M358 390h0M297 373h0M421 256h0M322 404h0M408 380h0M307 370h0M367 349h0M360 357h0M311 397h0M412 238h0M409 241h0M344 393h0M362 340h0M347 393h0M305 388h0M323 370h0M326 402h0M434 242h0M358 393h0M380 401h0M418 258h0M337 345h0M380 396h0M326 398h0M373 397h0M377 380h0M381 393h0M338 400h0M400 378h0M321 355h0M354 356h0M415 374h0M324 367h0M384 345h0M391 363h0M404 379h0M318 374h0M333 349h0M413 383h0M381 391h0M382 388h0M345 348h0M438 243h0M355 360h0M353 394h0M370 342h0M369 392h0M322 371h0M388 255h0M380 371h0M384 360h0M399 387h0M366 357h0M399 358h0M339 351h0M325 352h0M320 383h0M413 378h0M379 346h0M388 370h0M423 374h0M407 380h0M316 405h0M392 343h0M369 352h0M348 392h0M408 243h0M377 396h0M380 340h0M329 363h0M354 349h0M435 244h0M369 405h0M317 385h0M387 407h0M402 365h0M379 406h0M397 396h0M381 389h0M346 355h0M369 349h0M410 364h0M330 405h0M306 392h0M355 391h0M340 355h0M316 399h0M401 371h0M364 360h0M345 355h0M370 404h0M295 383h0M346 394h0M376 344h0M395 404h0M397 357h0M330 357h0M327 395h0M330 363h0M357 410h0M374 387h0M345 396h0M382 387h0M334 387h0M407 389h0M383 399h0M372 389h0M371 392h0M352 348h0M312 368h0M376 383h0M333 359h0M387 377h0M384 374h0M319 411h0M387 264h0M414 360h0M316 380h0M340 355h0M404 390h0M410 394h0M414 359h0M385 378h0M399 390h0M384 400h0M309 387h0M395 377h0M365 404h0M322 386h0M306 373h0M396 368h0M371 345h0M411 379h0M408 390h0M350 416h0M368 351h0"/><path stroke="#f0b828" d="M339 372h0M344 369h0M418 247h0M372 383h0M407 253h0M416 241h0M337 369h0M355 366h0M351 388h0M333 371h0M402 260h0M337 387h0M353 388h0M358 388h0M332 379h0M401 254h0M353 374h0M360 366h0M338 376h0M415 241h0M333 383h0M424 247h0M362 372h0M415 257h0M364 368h0M370 366h0M346 371h0M419 245h0M349 375h0M330 376h0M342 366h0M339 373h0M368 379h0M344 379h0M346 369h0M408 248h0M352 367h0M380 372h0M412 254h0M369 366h0M428 243h0M344 365h0M343 369h0M337 379h0M406 253h0M359 363h0M395 260h0M426 239h0M344 382h0M360 383h0"/><path stroke="#d86000" d="M396 381h0M316 376h0M305 375h0M361 416h0M309 401h0M383 344h0M348 393h0M397 345h0M364 339h0M433 249h0M349 359h0M396 356h0M332 395h0M388 402h0M323 367h0M397 267h0M332 413h0M336 394h0M373 392h0M397 266h0M384 357h0M308 369h0M296 390h0M415 241h0M389 370h0M369 342h0M327 384h0M388 266h0M395 352h0M403 387h0M334 411h0M351 356h0M361 356h0M353 346h0M381 405h0M416 355h0M419 373h0M395 344h0M409 379h0M373 362h0M441 232h0M348 346h0M427 250h0M399 247h0M378 403h0M356 352h0M305 392h0M328 382h0M324 401h0M364 395h0M341 361h0M401 371h0M317 361h0M323 374h0M330 403h0M381 268h0M297 376h0M345 400h0M399 369h0M298 383h0M319 403h0M383 356h0M376 382h0M391 378h0M342 346h0M353 411h0M321 371h0M414 388h0M349 399h0M365 398h0M384 274h0M408 360h0M398 400h0M418 259h0M323 399h0M375 361h0M335 390h0M318 398h0M402 346h0M322 368h0M399 381h0M417 367h0M413 239h0M393 384h0M358 345h0M360 404h0M399 366h0"/><path stroke="#f0c848" d="M341 495h0M468 426h0M467 220h0M370 485h0M450 441h0M423 434h0M333 459h0M335 514h0M300 443h0M515 186h0M367 257h0M322 443h0M389 485h0M382 445h0M437 219h0M452 420h0M334 456h0M376 315h0M347 290h0M388 292h0M298 442h0M365 304h0M377 251h0M456 296h0M327 331h0M360 473h0M389 445h0M420 273h0M400 500h0M523 235h0"/><path stroke="#f8d020" d="M389 360h0M369 389h0M359 399h0M395 385h0M385 380h0M332 357h0M386 372h0M407 265h0M366 413h0M399 349h0M414 388h0M327 411h0M356 410h0M313 378h0M327 378h0M301 370h0M396 357h0M365 399h0M329 383h0M320 403h0M350 392h0M349 355h0M341 400h0M372 401h0M418 258h0M379 400h0M397 349h0M421 379h0M326 395h0M391 359h0M390 370h0M329 352h0M438 238h0M321 360h0M385 273h0M318 388h0M308 367h0M350 348h0M439 230h0M355 356h0M423 236h0M435 241h0M331 389h0M380 393h0M341 402h0M410 377h0M352 352h0M327 406h0M337 399h0M370 344h0M392 372h0M361 389h0M380 391h0M407 265h0M405 393h0M419 384h0M388 260h0M325 408h0M326 358h0M415 388h0M344 399h0M345 357h0M369 344h0M333 394h0M376 343h0M387 384h0M295 382h0M378 349h0M326 356h0M438 238h0M396 351h0M374 347h0M346 416h0M399 371h0M340 356h0M304 394h0M386 375h0M385 271h0M381 398h0M419 234h0M364 391h0M367 355h0M321 384h0M377 346h0M393 382h0M368 400h0M431 246h0M362 343h0M323 394h0M338 399h0M312 403h0M387 365h0M360 411h0M427 250h0M377 405h0M423 368h0M316 384h0M375 362h0M386 374h0M343 409h0M391 406h0M438 238h0M373 353h0M378 386h0M303 374h0M333 358h0M423 377h0M414 372h0M344 410h0M377 352h0M433 233h0M385 365h0M389 389h0M318 393h0M376 413h0M356 395h0M387 355h0M409 263h0M337 364h0M314 400h0M369 403h0M381 372h0M374 344h0M392 386h0M393 395h0M385 395h0M321 384h0M421 370h0"/><path stroke="#f0d060" d="M454 393h0M450 280h0M382 297h0M450 399h0M459 389h0M448 338h0M490 214h0M400 486h0M410 296h0M479 370h0M360 467h0M440 256h0M438 279h0M356 490h0M320 501h0M313 481h0M339 280h0M282 354h0M441 410h0M337 302h0M318 442h0"/><path stroke="#f09018" d="M357 381h0M405 259h0M361 368h0M399 265h0M353 365h0M358 379h0M409 253h0M342 390h0M351 386h0M335 381h0M428 246h0M340 382h0M371 369h0M414 243h0M428 237h0M410 257h0M344 367h0M420 253h0M394 261h0M339 380h0M360 381h0M355 368h0M342 383h0M373 368h0M416 256h0M364 370h0M373 366h0M408 253h0M364 366h0M370 377h0M354 386h0M394 261h0M353 376h0M407 261h0M355 373h0M400 256h0M358 365h0M351 373h0M363 380h0M339 364h0M374 375h0M356 380h0M397 264h0M353 373h0M377 374h0M337 376h0M347 370h0M361 376h0M369 366h0M333 372h0M363 383h0M429 247h0M414 257h0M412 256h0M371 372h0M422 244h0M360 388h0M335 377h0M414 243h0M341 369h0M427 241h0M432 240h0M341 383h0M427 238h0M412 246h0M417 243h0M362 363h0M366 366h0M346 371h0M406 257h0M419 256h0M407 252h0M396 260h0M399 259h0M369 379h0M368 382h0M353 386h0M358 368h0M335 372h0M335 369h0M398 258h0M398 254h0M396 259h0M415 252h0M347 385h0M351 380h0M421 239h0M416 256h0M363 387h0M430 244h0M347 371h0M378 377h0M409 247h0M376 366h0M354 374h0M368 374h0M345 389h0M376 368h0M400 252h0M363 388h0M364 377h0M359 380h0M338 387h0"/><path stroke="#f8d840" d="M356 334h0M339 342h0M415 337h0M293 398h0M375 329h0M318 345h0M298 399h0M374 333h0M349 417h0M306 407h0M376 339h0M398 407h0M330 346h0M412 404h0M297 429h0M420 410h0M426 358h0M384 416h0M409 401h0M288 369h0M408 349h0M421 392h0M421 404h0M370 433h0M407 402h0M420 354h0M438 353h0M407 403h0M443 232h0M386 420h0M308 360h0M450 359h0M387 277h0M364 333h0M318 425h0M439 380h0M416 345h0M293 402h0M433 360h0M359 337h0M327 337h0M310 410h0M345 426h0M406 406h0M301 410h0M373 416h0M396 410h0M295 395h0M324 429h0M394 409h0M423 388h0M397 342h0M290 378h0M398 405h0M407 271h0M444 240h0M422 231h0M422 352h0M445 241h0M327 338h0M368 279h0M463 363h0M352 336h0M419 386h0M344 341h0M362 285h0M443 231h0M328 346h0M351 435h0"/><path stroke="#a8a8a8" d="M321 261h0M499 369h0M499 319h0M368 236h0M383 223h0M466 514h0M534 458h0M417 511h0M381 513h0M508 463h0M500 220h0M497 414h0M512 386h0M493 205h0M491 493h0M508 296h0M464 277h0"/><path stroke="#f6e4a0" d="M381 297h0M398 496h0M428 428h0M453 345h0M424 308h0M503 371h0M418 327h0M442 328h0M311 468h0M430 416h0M440 313h0M513 329h0M331 291h0M404 305h0M321 483h0M436 318h0M339 493h0M408 320h0M339 310h0M303 443h0M413 495h0M430 475h0M339 321h0M417 498h0M453 397h0M519 233h0M456 292h0M440 438h0M428 421h0"/></g><g stroke-width="3.6" fill="none" filter="url(#bl)"><path d="M280 517.8H285" stroke="#f0b060"/><path d="M284 517.8H443" stroke="#f29aa8"/><path stroke="#f4d8a0" d="M443.0 517.8h4.4M448.0 517.8h5.2"/><path stroke="#fce8b8" d="M454.7 517.8h4.6M460.3 517.8h4.3M480.7 517.8h4.5"/><path stroke="#fcd870" d="M464.8 517.8h6.8"/><path stroke="#f8c090" d="M473.3 517.8h5.1"/><path stroke="#d8c0a8" d="M487.2 517.8h3.4"/><path stroke="#f8b8b0" d="M492.1 517.8h1.9"/></g>
<path d="M144.2 520.8H155.2M149.2 492.8H155.2M149.2 476.4H155.2M149.2 464.8H155.2M149.2 455.8H155.2M149.2 448.4H155.2M149.2 442.2H155.2M149.2 436.8H155.2M149.2 432H155.2M144.2 427.8H155.2M149.2 399.8H155.2M149.2 383.4H155.2M149.2 371.7H155.2M149.2 362.7H155.2M149.2 355.4H155.2M149.2 349.1H155.2M149.2 343.7H155.2M149.2 339H155.2M144.2 334.7H155.2M149.2 306.7H155.2M149.2 290.3H155.2M149.2 278.7H155.2M149.2 269.7H155.2M149.2 262.3H155.2M149.2 256.1H155.2M149.2 250.7H155.2M149.2 245.9H155.2M144.2 241.7H155.2M149.2 213.7H155.2M149.2 197.3H155.2M149.2 185.7H155.2M149.2 176.6H155.2M149.2 169.3H155.2M149.2 163.1H155.2M149.2 157.7H155.2M149.2 152.9H155.2M144.2 148.6H155.2M149.2 120.6H155.2M149.2 104.2H155.2M149.2 92.6H155.2M149.2 83.6H155.2M149.2 76.2H155.2M149.2 70H155.2M149.2 64.6H155.2M149.2 59.9H155.2M144.2 55.6H155.2M157.4 521.2V533.2M192.5 521.2V527.2M213.1 521.2V527.2M227.6 521.2V527.2M238.9 521.2V527.2M248.2 521.2V527.2M256 521.2V527.2M262.7 521.2V527.2M268.7 521.2V527.2M274.1 521.2V533.2M309.2 521.2V527.2M329.7 521.2V527.2M344.3 521.2V527.2M355.6 521.2V527.2M364.8 521.2V527.2M372.6 521.2V527.2M379.4 521.2V527.2M385.4 521.2V527.2M390.7 521.2V533.2M425.8 521.2V527.2M446.4 521.2V527.2M460.9 521.2V527.2M472.2 521.2V527.2M481.5 521.2V527.2M489.3 521.2V527.2M496 521.2V527.2M502 521.2V527.2M507.4 521.2V533.2M542.5 521.2V527.2M563 521.2V527.2M577.6 521.2V527.2M588.9 521.2V527.2M598.1 521.2V527.2M605.9 521.2V527.2M612.7 521.2V527.2M618.7 521.2V527.2M624 521.2V533.2" stroke="#a3a3a3" stroke-width="2" fill="none"/>
<path d="M146.2 55.5H625.5" stroke="#a8a8a8" stroke-width="2" fill="none"/>
<path d="M625.5 55.5V521.2" stroke="#c8c8c8" stroke-width="1.6" fill="none"/>
<path d="M155.2 55.5V521.2H625.5" stroke="#a3a3a3" stroke-width="2.4" fill="none"/>
<rect x="157.6" y="100.6" width="464" height="212" rx="1.5" fill="none" stroke="#ff2424" stroke-width="2.2"/>
<text x="159.8" y="91.9" font-family='"Liberation Sans", sans-serif' font-size="21.5" fill="#ff2424" stroke="#ff2424" stroke-width="0.8" textLength="131.5" lengthAdjust="spacing">Dead: 14.7%</text>
<text x="444.7" y="35.3" font-family='"Liberation Serif", serif' font-weight="bold" font-size="42.5" fill="#000" textLength="177.4" lengthAdjust="spacingAndGlyphs">WS4 24h</text>
<text x="6.4" y="43" font-family='"Liberation Serif", serif' font-weight="bold" font-size="41" fill="#000" textLength="52.5" lengthAdjust="spacingAndGlyphs">(a)</text>
<text x="111.2" y="56.2" font-family='"Liberation Serif", serif' font-size="26" fill="#000">10<tspan dx="0.4" dy="-11.8" font-size="16.2">6</tspan></text>
<text x="106" y="146.5" font-family='"Liberation Serif", serif' font-size="26" fill="#000">10<tspan dx="0.4" dy="-11.8" font-size="16.2">5</tspan></text>
<text x="104.3" y="235.6" font-family='"Liberation Serif", serif' font-size="26" fill="#000">10<tspan dx="0.4" dy="-11.8" font-size="16.2">4</tspan></text>
<text x="107.1" y="327.9" font-family='"Liberation Serif", serif' font-size="26" fill="#000">10<tspan dx="0.4" dy="-11.8" font-size="16.2">3</tspan></text>
<text x="106.7" y="421.2" font-family='"Liberation Serif", serif' font-size="26" fill="#000">10<tspan dx="0.4" dy="-11.8" font-size="16.2">2</tspan></text>
<text x="108.4" y="516.5" font-family='"Liberation Serif", serif' font-size="26" fill="#000">10<tspan dx="0.4" dy="-11.8" font-size="16.2">1</tspan></text>
<text x="145.2" y="558.4" font-family='"Liberation Serif", serif' font-size="26" fill="#000">10<tspan dx="0.4" dy="-11.8" font-size="16.2">2</tspan></text>
<text x="248.4" y="558.4" font-family='"Liberation Serif", serif' font-size="26" fill="#000">10<tspan dx="0.4" dy="-11.8" font-size="16.2">3</tspan></text>
<text x="366.7" y="558.4" font-family='"Liberation Serif", serif' font-size="26" fill="#000">10<tspan dx="0.4" dy="-11.8" font-size="16.2">4</tspan></text>
<text x="486.5" y="558.4" font-family='"Liberation Serif", serif' font-size="26" fill="#000">10<tspan dx="0.4" dy="-11.8" font-size="16.2">5</tspan></text>
<text x="602.5" y="558.4" font-family='"Liberation Serif", serif' font-size="26" fill="#000">10<tspan dx="0.4" dy="-11.8" font-size="16.2">6</tspan></text>
<text transform="translate(84.8 300.8) rotate(-90)" font-family='"Liberation Sans", sans-serif' font-size="30.5" fill="#1010ff" textLength="29.2" lengthAdjust="spacingAndGlyphs">P<tspan font-family='&quot;Liberation Mono&quot;, monospace' font-size="31">I</tspan></text>
<path d="M88.9 273.3V300.9" stroke="#1010ff" stroke-width="2.2"/>
<text x="348.1" y="600.2" font-family='"Liberation Sans", sans-serif' font-size="29" fill="#1010ff" textLength="79.3" lengthAdjust="spacingAndGlyphs">SSC-A</text>
<path d="M349.5 604H429.3" stroke="#1010ff" stroke-width="2.4"/>
<g filter="url(#bl)" stroke-linecap="round" stroke-width="2.6" fill="none"><path stroke="#f8d020" d="M1031 304h0M1077 260h0M1027 411h0M993 417h0M1013 377h0M1048 276h0M984 412h0M1031 289h0M1000 384h0M1050 371h0M1005 391h0M1022 360h0M1095 254h0M1014 303h0M1027 305h0M1037 308h0M1021 418h0M1052 383h0M988 394h0M1088 281h0M1105 247h0M1034 368h0M1025 307h0M1017 391h0M982 398h0M1014 381h0M1032 379h0M1035 409h0M1020 384h0M1014 305h0M1051 378h0M1037 376h0M1025 360h0M1015 382h0M1061 265h0M1021 419h0M995 381h0M1020 415h0M1021 288h0M1055 391h0M1092 276h0M1038 373h0M1041 394h0M1100 269h0M1002 405h0M1005 399h0M1095 267h0M1045 272h0M1048 299h0M1110 247h0M1035 308h0M1023 386h0M1048 405h0M1036 378h0M1028 301h0M1036 418h0M990 391h0M1032 405h0M1066 263h0M1009 303h0M1039 358h0M997 409h0M996 387h0M1030 361h0M1018 298h0M1046 383h0M1057 297h0M1013 314h0M1003 375h0M1079 256h0M1041 371h0M998 420h0M1070 259h0M1019 381h0M995 406h0M1026 409h0M1009 397h0M1105 257h0M1006 405h0M1005 419h0M1110 252h0M1029 399h0M999 414h0M1037 366h0M1011 369h0M1106 256h0M998 424h0M1000 395h0M1025 301h0M1011 390h0M1041 392h0M1027 382h0M1003 407h0M1098 263h0M1011 379h0M1035 376h0M1007 430h0M999 381h0M993 407h0M1038 303h0M1019 409h0M1026 384h0M1008 430h0M1016 298h0M1100 257h0M1030 411h0M1027 400h0M1072 290h0M1037 396h0M981 411h0M1033 388h0M1006 310h0M1005 384h0M1004 378h0M999 420h0M1051 371h0M1032 300h0M1104 252h0M1095 268h0M995 387h0M1021 399h0M1002 384h0M1018 297h0M1024 369h0M1004 395h0M1049 370h0M987 411h0M1003 388h0M987 412h0M1026 375h0M1024 374h0"/><path stroke="#080808" d="M1004 431h0M1005 420h0M999 364h0M1026 286h0M1047 428h0M1020 445h0M1025 381h0M1054 396h0M1108 245h0M1066 265h0M1122 250h0M1053 280h0M1046 398h0M1022 353h0M990 370h0M1033 432h0M1007 360h0M973 391h0M1021 300h0M997 409h0M1017 284h0M1033 444h0M1050 282h0M986 376h0M1018 448h0M1086 262h0M1097 273h0M992 395h0M1059 260h0M1030 350h0M974 394h0M1043 418h0M1016 293h0M1014 362h0M1056 283h0M1031 387h0M1087 272h0M1109 259h0M1040 300h0M1101 265h0M1046 391h0M1054 400h0M1016 430h0M1091 280h0M1074 256h0M1049 340h0M1112 257h0M1112 252h0M1078 266h0M1054 377h0M1002 360h0M963 424h0M1058 367h0M1049 398h0M1036 275h0M1091 366h0M1018 375h0M1026 365h0M986 407h0M1106 259h0M1069 292h0M1041 401h0M1074 396h0M1038 422h0M1073 343h0M1007 366h0M1045 362h0M1000 293h0M1003 435h0M1005 432h0M1073 365h0M1026 287h0M1024 424h0M1066 285h0M1045 415h0M1005 378h0M1029 382h0M1088 333h0M1069 400h0M1004 428h0M1051 283h0M1001 380h0M1078 338h0M1101 259h0M1052 289h0M1062 265h0M1011 392h0M1003 393h0M1026 349h0M1031 338h0M1049 431h0M1026 443h0M972 436h0M1043 387h0M1027 312h0M979 428h0M999 358h0M1021 357h0M1044 417h0M1067 371h0M1009 371h0M1082 262h0M1041 400h0M1075 392h0M1074 375h0M1052 362h0M1061 274h0M1095 266h0M1047 274h0M1092 261h0M1054 304h0M1028 400h0M990 450h0M1075 381h0M1069 363h0M1079 335h0M1028 442h0M1022 364h0M1054 402h0M1023 397h0M1011 312h0M1009 409h0M1083 334h0M1008 411h0M1077 360h0M1078 263h0M1032 355h0M983 373h0M1030 353h0M1061 345h0M1061 395h0M1013 435h0M995 429h0M1042 375h0M978 402h0M1018 308h0M996 315h0M1021 294h0M1054 367h0M1015 375h0M1036 292h0M1099 255h0M1014 301h0M1023 444h0M1007 309h0M1043 278h0M1009 434h0M1119 248h0M1025 439h0M1050 287h0M1098 258h0M1053 414h0M1046 306h0M1030 293h0M1058 259h0M1087 249h0M1035 373h0M1060 284h0M1009 436h0M1051 295h0M998 325h0M1029 321h0M1010 449h0M1025 438h0M1101 258h0M990 387h0M1051 378h0M1015 353h0M1007 410h0M1060 366h0M1024 423h0M996 357h0M1050 407h0M1076 404h0M1060 298h0M1061 421h0M1015 411h0M995 390h0M1039 316h0M1067 274h0M1004 431h0M978 439h0M1020 449h0M1039 401h0M1088 259h0M1053 293h0M1117 255h0M1051 279h0M973 419h0M989 380h0M1065 272h0M1019 440h0M985 417h0M994 372h0M1083 379h0M1053 403h0M1102 251h0M1081 374h0M1067 371h0M1041 365h0M1002 383h0M1047 282h0M1072 283h0M978 392h0M1105 245h0M1042 373h0M1032 347h0M979 398h0M1049 412h0M1022 398h0M1019 418h0M1010 332h0M1026 346h0M1032 304h0M1027 396h0M1007 375h0M1048 406h0M1022 356h0M1083 267h0M1056 297h0M1026 425h0M973 403h0M1055 306h0M1016 330h0M1014 351h0M1053 273h0M1077 267h0M1030 298h0M1059 347h0M1108 242h0M1041 288h0M1095 251h0M1007 420h0M1016 412h0M1053 352h0M1040 294h0M976 380h0M1001 447h0M1001 315h0M994 360h0M1001 313h0M1006 430h0M979 393h0M1016 426h0M1061 376h0M1092 343h0M1065 264h0M1038 351h0M1022 428h0M1046 352h0M994 374h0M1092 279h0M1021 433h0M1033 391h0M1062 287h0M1051 270h0M1057 267h0M1057 367h0M995 297h0M993 377h0M1005 379h0M1071 276h0M1014 303h0M1016 445h0M1032 372h0M1047 290h0M1006 393h0M1049 304h0M1037 275h0M1016 435h0M1074 266h0M1012 445h0M1053 332h0M1053 296h0M1086 268h0M993 402h0M983 403h0M1051 270h0M1096 254h0M1029 380h0M1030 308h0M1037 355h0M1028 280h0M1045 280h0M966 433h0M1050 349h0M1038 306h0M1040 281h0M1052 403h0M1079 267h0M1045 425h0M969 419h0M1004 391h0M1052 418h0M1074 279h0M1096 253h0M1096 271h0M1023 296h0M1019 425h0M1027 298h0M1003 300h0M1053 386h0M1002 323h0M997 306h0M1015 300h0M1038 392h0M1015 297h0M967 425h0M1071 368h0M1089 362h0M1066 388h0M1031 318h0M992 437h0M1024 401h0M1080 273h0M1104 255h0M1012 399h0M1076 266h0M1040 379h0M1050 396h0M1068 280h0M1006 346h0M1083 288h0M991 372h0M1090 258h0M986 369h0M992 406h0M1038 391h0M1077 339h0M1080 289h0M968 390h0M1052 362h0M1014 376h0M1058 404h0M1015 381h0M1054 278h0M1009 438h0M991 306h0M996 324h0M999 430h0M1073 254h0M1018 315h0M1063 351h0M1053 303h0M1058 275h0M1107 262h0M1026 430h0M1061 410h0M1048 303h0M1016 429h0M971 404h0M986 419h0M1052 278h0M1021 294h0M1054 360h0M1051 353h0M1041 381h0M1031 364h0M993 432h0M1077 360h0M1072 362h0M1016 356h0M1029 318h0M1078 273h0M995 394h0M1013 421h0M1043 361h0M1041 374h0M1067 348h0M1089 245h0M1055 292h0M1029 346h0M1105 254h0M964 430h0M1012 418h0M1033 295h0M1058 270h0M979 436h0M983 459h0M1026 428h0M1061 299h0M1075 282h0M1004 427h0M1039 364h0M1078 371h0M1032 382h0M1012 414h0M1050 362h0M1055 269h0M1041 298h0M1054 283h0M1022 333h0M1056 278h0M994 438h0M992 457h0M1077 383h0M969 396h0M1051 277h0M1030 435h0M1103 248h0M1033 420h0M1040 365h0M978 386h0M1059 350h0M1041 369h0M972 445h0M991 306h0M1007 445h0M1036 393h0M997 421h0M1082 261h0M986 392h0M1091 264h0M1013 299h0M1071 347h0M1075 265h0M1116 243h0M1022 328h0M988 436h0M1038 317h0M1002 397h0M1062 422h0M1017 336h0M1055 347h0M971 394h0M1041 410h0M1093 261h0M1029 288h0M1014 314h0M1122 244h0M1018 383h0M1002 430h0M984 418h0M1038 432h0M1020 386h0M1051 385h0M1026 402h0M981 437h0M980 431h0M989 432h0M1046 369h0M1046 362h0M994 437h0M1025 330h0M1040 391h0M992 328h0M1038 355h0M1034 422h0M1057 279h0M1069 360h0M1028 286h0M1011 440h0M1006 303h0M1027 383h0M1050 411h0M1035 348h0M1068 372h0M1055 411h0M991 414h0M1040 419h0M1056 370h0M1000 423h0M1054 270h0M1034 393h0M969 383h0M1005 383h0M1023 365h0M1041 287h0M1037 420h0M1047 281h0M1085 286h0M1061 414h0M1044 406h0M1094 245h0M1048 341h0M1098 247h0M1034 289h0M1041 340h0M1082 275h0M1066 273h0M998 408h0M1006 327h0M1009 391h0M1010 387h0M1040 369h0M985 373h0M995 403h0M1022 291h0M1022 307h0M1106 259h0M985 382h0M992 403h0M1063 260h0M1020 306h0M1073 259h0M998 315h0M997 416h0M1073 295h0M1025 435h0M1001 426h0M1025 313h0M1008 367h0M1070 263h0M1028 421h0M1024 303h0M976 396h0M1040 300h0M1022 320h0M994 395h0M1082 264h0M1023 305h0M1096 247h0M1042 431h0M1070 288h0M1070 341h0M1005 424h0M1074 266h0M1025 312h0M1085 386h0M1075 284h0M1007 403h0M1018 387h0M995 311h0M1019 353h0M1057 360h0M983 435h0M979 389h0M1081 288h0M1020 365h0M1069 359h0M1011 338h0M1050 412h0M1024 372h0M1070 350h0M973 435h0M1035 433h0M1088 261h0M1022 412h0M1010 385h0M1034 386h0M1025 422h0M976 427h0M1073 267h0M1032 363h0M1083 263h0M1006 453h0M1026 385h0M1074 360h0M1084 368h0M994 403h0M1078 353h0M979 379h0M981 369h0M1094 275h0M1026 354h0M1025 400h0M974 431h0M1044 293h0M989 376h0M1042 368h0M1075 404h0M1047 395h0M1000 388h0M1024 376h0M1004 311h0M1082 388h0M1084 388h0M1026 421h0M1040 423h0M991 364h0M1039 406h0M984 382h0M1048 363h0M1039 287h0M1032 302h0M1091 278h0M1002 331h0M1045 307h0M967 402h0M1033 379h0M1063 398h0M1051 395h0M1058 392h0M1040 366h0M1034 389h0M1027 420h0M982 388h0M1055 396h0M1035 377h0M1084 277h0M1029 376h0M977 396h0M975 424h0M1034 424h0M999 408h0M1049 289h0M995 425h0M1074 353h0M1043 414h0M1067 362h0M1078 289h0M1089 285h0M1080 363h0M1064 260h0M1034 293h0M1004 309h0M1010 371h0M981 434h0M1001 401h0M1065 354h0M1004 386h0M1044 296h0M992 320h0M1050 399h0M983 387h0M1035 299h0M964 425h0M1052 412h0M1006 401h0M1018 367h0M983 419h0M1018 369h0M1001 418h0M1011 417h0M1066 366h0M1006 408h0M1031 397h0M1047 329h0M1050 422h0M1006 388h0M1067 294h0M1021 395h0M1012 356h0M1066 272h0M1068 349h0M1096 241h0M1049 376h0M1077 273h0M1048 375h0M992 391h0M997 397h0M1032 442h0M1075 272h0M1063 365h0M1002 452h0M1106 256h0M986 429h0M1019 288h0M1033 402h0M1046 371h0M1113 246h0M1090 264h0M1003 354h0M1036 411h0M1040 281h0M1043 373h0M1058 415h0M1022 421h0M993 454h0M1035 312h0M1006 388h0M1096 247h0M1066 345h0M1071 284h0M1082 251h0M1072 259h0M1077 352h0M1068 372h0M1060 394h0M1035 298h0M1061 286h0M1073 369h0M1023 351h0M1061 304h0M1029 403h0M1047 339h0M1066 284h0M1106 247h0M1057 289h0M1023 430h0M1055 339h0M1077 380h0M983 426h0M1038 284h0M1004 311h0M985 383h0M1070 266h0M1002 455h0M1077 288h0M1080 348h0M1082 280h0M1028 363h0M1009 408h0M971 400h0M1074 258h0M966 393h0M1024 397h0M1108 245h0M1020 419h0M1040 387h0M1003 390h0M1032 437h0M1049 414h0M1069 266h0M1058 377h0M1121 238h0M1073 282h0M1042 395h0M1004 421h0M1029 293h0M1049 351h0M1050 354h0M1030 411h0M1029 350h0M1013 393h0M1060 372h0M1033 389h0M1054 396h0M1022 363h0M996 428h0M969 415h0M1034 338h0M1086 267h0M981 408h0M983 396h0M1007 355h0M1035 341h0M1009 430h0M1036 371h0M1007 310h0M1069 257h0M1034 274h0M1045 293h0M1057 264h0M1035 300h0M1061 369h0M1007 390h0M1011 308h0M1052 282h0M1088 247h0M1055 383h0M1026 412h0M1106 259h0M1042 354h0M1112 262h0M1019 420h0M1040 364h0M1007 424h0M1032 426h0M1052 350h0M1009 298h0M1079 372h0M1015 354h0M1006 418h0M1018 366h0M1063 396h0M1041 401h0M1042 428h0M1014 395h0M1067 387h0M1034 371h0M1015 337h0M1059 294h0M1034 346h0M987 417h0M985 411h0M1031 405h0M1065 355h0M1116 247h0M1099 261h0M1053 381h0M979 433h0M1022 383h0M1110 240h0M1100 243h0M1026 308h0M1025 356h0M968 409h0M992 390h0M1020 289h0M1048 399h0M1067 289h0M1013 315h0M1058 347h0M1007 436h0M1092 260h0M1010 392h0M1062 349h0M1036 282h0M1016 433h0M1043 396h0M1041 378h0M1079 264h0M1108 240h0M1080 258h0M1056 356h0M996 409h0M1017 439h0M1066 369h0M999 384h0M1117 249h0M1006 422h0M983 423h0M1004 369h0M993 389h0M1015 422h0M1059 281h0M1002 332h0M1025 292h0M1011 394h0M1039 338h0M1064 378h0M975 414h0M1002 440h0M1021 377h0M1019 380h0M1106 251h0M1055 297h0M1009 419h0M983 373h0M975 385h0M1059 267h0M1104 260h0M1014 387h0M1035 301h0M1028 285h0M1065 420h0M1081 383h0M997 404h0M1024 397h0M1060 356h0M1060 425h0M1027 308h0M1024 430h0M1013 373h0M992 382h0M1076 348h0M1005 361h0M999 443h0M1061 401h0M1104 241h0M1077 389h0M995 400h0M977 440h0M988 377h0M1019 303h0M1040 299h0M1101 268h0M1034 361h0M1013 431h0M1096 248h0M1033 310h0M971 408h0M984 389h0M1023 333h0M1037 306h0M998 323h0M1048 364h0M1031 392h0M1061 300h0M1034 352h0M987 403h0M1056 388h0M1065 358h0M970 396h0M1035 438h0M1009 371h0M1079 381h0M1032 334h0M1020 308h0M964 438h0M992 416h0M974 387h0M1073 398h0M1063 406h0M1028 364h0M1072 349h0M1020 422h0M1000 432h0M971 404h0M999 424h0M1024 397h0M986 436h0M1062 280h0M999 300h0M1025 383h0M1017 443h0M1041 369h0M1032 412h0M1011 290h0M1049 394h0M1040 309h0M1041 309h0M1058 269h0M1065 281h0M1064 385h0M1039 404h0M1047 271h0M1105 245h0M1076 275h0M1006 448h0M1074 357h0M977 388h0M1011 330h0M1018 379h0M1001 433h0M1050 350h0M1068 390h0M1037 372h0M1037 366h0M993 393h0M1052 383h0M1025 448h0M1037 389h0M1047 381h0M1014 327h0M1023 314h0M1054 302h0M1047 281h0M1034 369h0M1082 390h0M1010 431h0M1092 271h0M1101 248h0M1030 382h0M1071 375h0M1030 308h0M985 380h0M970 405h0M1067 260h0M1010 379h0M1049 292h0M1039 420h0M1011 420h0M996 330h0M1050 404h0M1009 351h0M971 413h0M1005 427h0M1047 301h0M1025 312h0M1045 427h0M1037 383h0M1014 302h0M1041 388h0M978 404h0M1066 341h0M999 298h0M1006 292h0M1035 297h0M1010 398h0M1040 288h0M1015 434h0M1063 412h0M1073 341h0M1062 367h0M1015 288h0M1083 380h0M995 360h0M1029 371h0M1098 262h0M1048 364h0M1057 348h0M1012 356h0M1052 339h0M1029 316h0M1042 390h0M1036 363h0M1014 304h0M978 408h0M1117 241h0M1022 393h0M1030 291h0M1038 425h0M1076 267h0M1053 397h0M1040 369h0M1027 282h0M1021 450h0M1036 306h0M1053 351h0M1002 309h0M1079 396h0M1110 250h0M1038 393h0M1006 302h0M1066 344h0M1055 282h0M1061 287h0M989 364h0M1026 407h0M1034 359h0M991 313h0M1042 360h0M1115 248h0M1013 299h0M1065 348h0M1017 317h0M1039 295h0M1028 371h0M1090 273h0M1070 357h0M1046 380h0M1028 372h0M1028 377h0M1033 312h0M1001 405h0M1087 254h0M989 443h0M1042 396h0M994 307h0M1072 397h0M1073 375h0M1000 416h0M1024 379h0M1017 413h0M1061 396h0M1024 345h0M976 383h0M1013 291h0M1056 369h0M1032 420h0M1046 365h0M1044 397h0M1086 278h0M1015 375h0M1071 278h0M1049 290h0M1033 313h0M1030 385h0M1044 333h0M988 400h0M1011 295h0M1024 388h0M978 373h0M1006 438h0M964 406h0M1045 282h0M994 324h0M1052 277h0M1046 367h0M1020 421h0M1054 278h0M1058 343h0M1090 254h0M994 307h0M1026 381h0M1044 285h0M1070 335h0M1036 429h0M1064 398h0M1003 407h0M1044 273h0M1031 417h0M1029 433h0M1047 352h0M1078 399h0M1013 425h0M1052 362h0M987 418h0M995 431h0M1081 372h0M1069 270h0M1046 349h0M1066 350h0M1043 416h0M1099 271h0M1006 311h0M1078 381h0M1079 362h0M1039 294h0M1014 359h0M1030 318h0M1016 359h0M1100 242h0M1040 285h0M1049 383h0M970 389h0M1102 272h0M1083 256h0M1017 405h0M999 374h0M1057 345h0M974 419h0M972 413h0M1047 273h0M1071 384h0M998 413h0M985 417h0M1018 403h0M993 303h0M1049 364h0M1062 394h0M1075 403h0M967 425h0M990 401h0M1108 243h0M1020 419h0M974 436h0M1027 371h0M1086 275h0M1040 296h0M1091 273h0M1005 366h0M1071 256h0M1022 414h0M1109 250h0M1036 294h0M1019 357h0M1013 447h0M1108 265h0M1008 379h0M1007 388h0M980 402h0M1049 423h0M1045 270h0M1080 348h0M1019 285h0M1020 342h0M1036 342h0M1047 366h0M1004 321h0M980 416h0M998 445h0M1012 413h0M988 426h0M1039 274h0M1034 300h0M1026 319h0M1012 385h0M1037 416h0M1007 408h0M1029 343h0M1088 261h0M1092 260h0M1106 240h0M1015 375h0M1006 425h0M1061 361h0M1043 392h0M1044 435h0M1047 343h0M1037 371h0M985 393h0M1068 403h0M1038 293h0M995 398h0M1033 386h0M980 434h0M1028 289h0M1033 373h0M970 409h0M969 385h0M1027 309h0M980 407h0M980 384h0M1001 309h0M1071 285h0M1052 362h0M987 374h0M993 411h0M1058 413h0M1013 425h0M997 364h0M1058 335h0M1034 284h0M1009 355h0M1098 278h0M1001 458h0M999 417h0M986 391h0M972 403h0M1122 250h0M1022 283h0M1043 366h0M1109 253h0M1015 394h0M1107 243h0M1089 254h0M1053 365h0M1002 421h0M1000 319h0M1051 342h0M1052 291h0M1037 428h0M1075 355h0M1046 376h0M1043 429h0M1038 356h0M1016 343h0M1000 422h0M1092 276h0M1055 275h0M1005 379h0M1036 294h0M982 373h0M1034 346h0M1023 429h0M1071 288h0M1002 400h0M1050 296h0M1045 370h0M1011 416h0M1069 340h0M1056 267h0M1009 407h0M1059 351h0M1081 365h0M997 426h0M1075 344h0M1001 367h0M985 423h0M975 409h0M1004 315h0M1032 413h0M1036 357h0M1068 373h0M1063 390h0M1084 250h0M1026 363h0M1036 434h0M1061 402h0M1056 385h0M1047 289h0M1046 288h0M1034 410h0M977 426h0M1070 285h0M998 356h0M973 408h0M1021 420h0M1028 400h0M990 420h0M1034 348h0M1001 416h0M1045 288h0M1011 301h0M1001 435h0M1067 266h0M1033 409h0M1009 316h0M1061 390h0M1022 319h0M982 419h0M1038 304h0M981 427h0M1011 401h0M1069 349h0M1040 294h0M1098 255h0M1005 423h0M1066 292h0M1091 272h0M1111 251h0M1008 436h0M1023 377h0M1072 265h0M1041 375h0M1062 391h0M1013 429h0M997 384h0M977 385h0M977 432h0M997 410h0M1079 259h0M1020 284h0M1028 310h0M1106 263h0M1077 267h0M1054 266h0M1042 392h0M994 365h0M1055 354h0M1034 368h0M984 323h0M1085 277h0M1038 299h0M1064 345h0M1041 303h0M1021 395h0M1069 338h0M1036 298h0M989 414h0M989 444h0M1048 367h0M1001 299h0M1081 259h0M1090 269h0M1026 284h0M1062 301h0M1029 301h0M1021 435h0M1042 311h0M1031 350h0M1004 409h0M989 421h0M1046 369h0M966 417h0M1005 321h0M1094 254h0M1061 273h0M969 435h0M1002 330h0M1105 262h0M1076 379h0M1001 313h0M1081 359h0M984 419h0M1089 260h0M1061 348h0M1005 393h0M1030 337h0M991 426h0M1008 399h0M1033 439h0M999 411h0M1075 343h0M1049 339h0M992 383h0M1053 369h0M991 432h0M967 445h0M1021 304h0M1006 401h0M1009 387h0M1065 343h0M1074 376h0M994 317h0M1011 300h0M1022 295h0M1045 415h0M1083 284h0M1074 394h0M1074 379h0M1053 389h0M1006 363h0M1081 266h0M1003 408h0M985 439h0M1102 250h0M1046 342h0M1106 256h0M1051 391h0M1078 274h0M1014 309h0M996 373h0M1041 372h0M1026 449h0M989 411h0M965 427h0M994 452h0M1034 435h0M1038 358h0M1043 366h0M1023 293h0M1009 331h0M1016 399h0M1025 346h0M974 439h0M1053 342h0M1001 447h0M1018 366h0M1072 368h0M1027 420h0M1017 444h0M993 419h0M1051 302h0M1068 400h0M1020 440h0M1042 427h0M1020 442h0M1045 290h0M1042 392h0M981 421h0M1083 374h0M1032 381h0M1030 418h0M1062 382h0M1012 310h0M1066 297h0M1070 264h0M1068 388h0M1085 277h0M1057 353h0M1070 276h0M1012 436h0M960 412h0M988 415h0M1010 375h0M1015 406h0M1005 404h0M1088 264h0M995 394h0M1120 252h0M1085 278h0M1085 267h0M1022 353h0M1063 346h0M994 387h0M1083 281h0M1026 358h0M968 449h0M1040 374h0M969 424h0M1045 375h0M1018 423h0M1079 265h0M1007 428h0M1033 414h0M974 394h0M1067 387h0M1096 261h0M1010 398h0M1027 287h0M1007 424h0M1076 262h0M1096 267h0M1041 386h0M1039 410h0M1011 376h0M1113 249h0M995 375h0M1036 411h0M1015 363h0M1112 245h0M1003 447h0M1018 391h0M1039 308h0M1036 284h0M1014 363h0M1042 344h0M1050 267h0M1026 284h0M970 405h0M980 431h0M1006 441h0M990 376h0M1022 306h0M994 372h0M1074 349h0M1049 392h0M1074 376h0M1016 444h0M1110 252h0M991 418h0M1009 315h0M1034 340h0M1029 277h0M1024 433h0M1019 416h0M1027 353h0M1037 366h0M1050 350h0M988 441h0M1077 334h0M1072 376h0M1058 287h0M1023 362h0M1003 384h0M999 326h0M1065 282h0M1006 323h0M1003 387h0M992 400h0M1094 259h0M1008 433h0M976 431h0"/><path stroke="#383838" d="M1042 340h0M1043 289h0M1045 326h0M1012 348h0M1012 299h0M1060 434h0M964 447h0M997 475h0M1083 392h0M971 336h0M1091 339h0M996 341h0M1123 259h0M1032 406h0M1039 314h0M991 324h0M1050 276h0M971 445h0M1016 454h0M1054 382h0M1065 431h0M1060 306h0M979 346h0M978 445h0M992 449h0M993 362h0M1003 339h0M1040 314h0M1079 345h0M984 458h0M1116 270h0M965 413h0M1042 434h0M1013 319h0M1027 272h0M1048 441h0M1060 331h0M970 387h0M977 332h0M1074 294h0M1029 321h0M989 336h0M979 323h0M1119 258h0M969 452h0M996 452h0M970 393h0M1031 445h0M1078 348h0M993 386h0M991 471h0M959 396h0M1029 322h0M1075 363h0M1087 403h0M967 382h0M1015 284h0M1028 324h0M956 447h0M973 428h0M1081 416h0M1090 365h0M1082 412h0M1070 299h0M997 444h0M1086 419h0M973 397h0M1006 457h0M1080 292h0M1001 355h0M1056 343h0M989 368h0M973 461h0M962 389h0M1125 340h0M1020 406h0M1011 477h0M1003 463h0M1029 453h0M1050 332h0M963 401h0M984 459h0M979 375h0M990 480h0M1029 269h0M1015 281h0M1080 412h0M1012 352h0M963 411h0M1040 420h0M1108 336h0M1077 410h0M1099 374h0M1133 230h0M1009 481h0M987 472h0M1073 290h0M1040 333h0M992 471h0M974 453h0M1073 251h0M1094 329h0M993 477h0M1028 275h0M1011 458h0M1118 230h0M1080 408h0M980 357h0M978 380h0M1021 467h0M1017 445h0M1031 354h0M975 460h0M1076 393h0M1053 339h0M1026 454h0M986 416h0M1014 368h0M1038 267h0M1095 367h0M1084 348h0M957 447h0M1049 402h0M966 377h0M1075 352h0M1113 362h0M1052 428h0M976 334h0M976 360h0M1115 365h0M1020 274h0M1076 383h0M1050 293h0M961 441h0M1081 272h0M962 419h0M964 452h0M958 396h0M1105 338h0M1068 407h0M1078 331h0M973 473h0M1060 332h0M1011 355h0M1060 433h0M1011 465h0M987 394h0M1018 344h0M1026 342h0M971 336h0M963 391h0M960 480h0M994 295h0M1115 336h0M956 442h0M1010 462h0M1001 340h0M961 405h0M1100 348h0M1060 447h0M1105 276h0M989 312h0M997 356h0M1053 432h0M1007 298h0M1000 343h0M960 386h0M1078 340h0M1108 344h0M1016 456h0M983 338h0M986 490h0M1020 344h0M1025 445h0M969 371h0M978 362h0M992 298h0M1079 400h0M986 385h0M1050 322h0M1054 291h0M1105 235h0M1084 364h0M983 330h0M1016 292h0M1118 260h0M1033 442h0M1112 234h0M961 401h0M1007 342h0M969 433h0M1084 325h0M972 334h0M988 347h0M975 322h0M972 355h0M1009 368h0M1096 392h0M966 331h0M1053 257h0M1076 347h0M1084 336h0M1018 363h0M1001 479h0M1033 343h0M991 297h0M1005 347h0M989 362h0M1045 448h0M1035 462h0M979 459h0M1038 441h0M964 399h0M1017 451h0M1001 472h0M1051 388h0M1080 381h0M1010 467h0M992 341h0M1076 354h0M976 450h0M1043 431h0M1035 455h0M1073 327h0M1107 380h0M987 440h0M1060 336h0M1054 425h0M981 330h0M974 334h0M1120 249h0M1065 371h0M1010 289h0M955 406h0M1000 466h0M1106 369h0M995 314h0M1073 409h0M1077 406h0M1099 369h0M1003 348h0M1123 233h0M1015 334h0M1013 331h0M992 327h0M957 457h0M961 411h0M1053 310h0M1123 337h0M988 383h0M983 360h0M1096 236h0M1049 329h0M1087 384h0M1108 270h0M1000 345h0M1106 239h0M1072 422h0M1094 393h0M1075 400h0M1008 470h0M1108 367h0M999 353h0M982 374h0M984 313h0M1038 324h0M1095 236h0M990 452h0M1054 319h0M1108 332h0M991 324h0M998 459h0M1023 278h0M1031 346h0M999 341h0M1110 363h0M1125 226h0M1090 324h0M970 390h0M964 324h0M993 463h0M1089 372h0M984 425h0M969 394h0M1085 375h0M1001 451h0M980 390h0M1026 470h0M1003 462h0M1057 428h0M1061 281h0M1034 391h0M1066 432h0M997 340h0M1021 453h0M1007 340h0M1078 416h0M1046 443h0M992 475h0M991 475h0M1118 258h0M1105 382h0M972 308h0M967 460h0M1052 264h0M1053 342h0M1038 289h0M1039 322h0M1043 389h0M999 350h0M1076 354h0M1044 370h0M1003 305h0M1090 356h0M1112 344h0M1039 279h0M1113 360h0M1041 285h0M1011 458h0M982 334h0M1097 354h0M983 464h0M969 405h0M1034 320h0M978 455h0M1132 247h0M1111 229h0M1126 251h0M1013 324h0M959 430h0M1110 352h0M988 354h0M1033 319h0M1115 230h0M1051 427h0M1074 285h0M1006 418h0M971 476h0M1091 396h0M998 478h0M991 334h0M1093 332h0M1099 344h0M1086 248h0M1056 448h0M968 376h0M989 303h0M1076 332h0M1072 325h0M1073 301h0M1112 346h0M990 427h0M1019 341h0M1030 277h0M969 452h0M1070 433h0M1079 401h0M1093 238h0M1082 396h0M962 423h0M1101 354h0M1095 387h0M1057 327h0M1048 320h0M1082 269h0M961 404h0M966 444h0M1003 438h0M1122 253h0M1059 328h0M1082 245h0M980 456h0M1006 279h0M1099 360h0M967 452h0M1034 340h0M971 389h0M1120 245h0M1077 411h0M987 304h0M964 402h0M974 328h0M1109 336h0M1074 250h0M1081 379h0M970 438h0M1096 239h0M1044 263h0M978 463h0M1096 406h0M1052 334h0M1006 457h0M1050 377h0M1093 397h0M993 453h0M957 429h0M993 370h0M1001 477h0M1066 412h0M1088 369h0M1089 339h0M990 309h0M1076 391h0M1055 415h0M1058 258h0M1024 452h0M1042 320h0M1046 381h0M1068 403h0M1024 280h0M1085 361h0M1083 248h0M1098 391h0M1004 412h0M1050 445h0M1077 400h0M1069 299h0M1123 238h0M1020 281h0M1094 368h0M1113 331h0M1050 429h0M1008 287h0M1118 267h0M968 432h0M963 389h0M1133 236h0M998 353h0M1028 437h0M1068 254h0M971 445h0M980 312h0M998 479h0M1042 434h0M973 389h0M1028 344h0M1126 237h0M1040 442h0M1077 250h0M1016 343h0M1006 347h0M989 302h0M1011 342h0M1033 336h0M979 453h0M1059 439h0M983 318h0M1093 376h0M1033 316h0M971 446h0M1080 347h0M973 335h0M1055 344h0M1019 400h0M1112 330h0M1060 309h0M1088 384h0M1064 337h0M1062 285h0M983 385h0M989 389h0M985 343h0M964 320h0M1086 289h0M1004 448h0M998 434h0M1072 395h0M1033 276h0M983 320h0M1086 245h0M1025 341h0M1009 289h0M1017 336h0M993 472h0M1024 305h0M1080 364h0M1098 375h0M1041 269h0M1125 252h0M966 394h0M1075 342h0M1027 461h0M1127 232h0M999 296h0M1119 250h0M968 429h0M1109 270h0M973 374h0M975 321h0M965 428h0M1118 357h0M1105 381h0M962 424h0M1034 385h0M987 311h0M1065 421h0M956 436h0M1097 329h0M1113 237h0M1070 303h0M1123 351h0M967 318h0M1091 366h0M1019 467h0M1086 240h0M1056 335h0M1045 437h0M1016 334h0M1037 384h0M963 441h0M962 378h0M982 459h0M1012 301h0M1051 434h0M993 356h0M1095 374h0M982 463h0M1033 341h0M1082 290h0M997 358h0M1049 396h0M1047 450h0M1034 438h0M958 407h0M1055 307h0M1134 232h0M989 462h0M980 326h0M1128 241h0M1006 348h0M1079 264h0M973 408h0M1117 264h0M1063 262h0M997 290h0M1067 387h0M1059 343h0M1011 326h0M1110 237h0M1070 414h0M1091 412h0M993 440h0M1060 446h0M1033 441h0M997 292h0M995 300h0M1057 390h0M956 416h0M1036 364h0M1071 406h0M975 332h0M1112 238h0M984 444h0M1080 398h0M1079 413h0M1086 392h0M1032 328h0M1035 279h0M979 455h0M1090 362h0M974 315h0M1054 441h0M1088 362h0M980 349h0M997 348h0M1073 426h0M1022 464h0"/><path stroke="#f0a000" d="M1011 426h0M985 396h0M1025 362h0M1018 292h0M1030 302h0M1028 293h0M1009 410h0M1034 375h0M1012 400h0M1047 394h0M1005 401h0M1027 358h0M1085 258h0M996 418h0M1025 425h0M1036 380h0M1061 292h0M1011 403h0M1009 395h0M1025 382h0M1017 386h0M984 404h0M985 404h0M1049 389h0M1048 360h0M1020 384h0M1025 424h0M998 417h0M983 405h0M1096 271h0M995 379h0M1001 383h0M1044 360h0M994 404h0M1033 281h0M1016 408h0M998 415h0M1034 389h0M1045 361h0M1019 403h0M999 375h0M1034 286h0M1073 290h0M1028 412h0M1051 369h0M1075 291h0M1028 391h0M1105 253h0M1025 401h0M1017 394h0M1038 375h0M997 400h0M1000 386h0M1021 394h0M1010 407h0M1007 370h0M1045 374h0M991 402h0M1022 297h0M1063 293h0M1041 399h0M1042 402h0M986 422h0M1019 411h0M1010 300h0M1020 384h0M998 379h0M1044 390h0M1026 389h0M1009 406h0M1026 295h0M1051 270h0M1040 303h0M1003 399h0M1042 405h0M1028 388h0M1097 256h0M1028 412h0M1036 282h0M1021 294h0M1036 386h0M1022 363h0M1035 400h0M1100 252h0M1030 300h0M1023 357h0M1091 257h0M1085 251h0M1032 288h0M1005 407h0M1012 299h0M1009 398h0M1092 257h0M1050 398h0M1026 392h0M1015 398h0M1010 406h0M1002 388h0M1034 371h0M1049 298h0M1011 309h0M1014 417h0M1028 417h0M1035 403h0M982 413h0M1022 308h0M1079 284h0M1007 391h0M1021 392h0M1005 429h0M1007 383h0M1024 378h0M1048 298h0M985 413h0M1004 387h0M1003 366h0M1024 381h0M1026 285h0M1027 379h0M1006 389h0M1003 392h0M1023 311h0M1034 377h0M1084 280h0M1013 387h0M1028 305h0M1026 296h0M1043 401h0M1013 393h0M1036 386h0M1040 279h0M1023 371h0M985 414h0M1106 252h0M1034 383h0M998 408h0M1013 301h0M1096 254h0M1020 371h0M1081 284h0M997 426h0M998 394h0M1055 388h0M1025 365h0M1032 367h0M1066 294h0M1022 416h0M1025 309h0M995 421h0M1003 430h0M1035 287h0M1089 275h0M1013 407h0M1028 413h0M1025 406h0M1029 383h0M1059 293h0M1063 292h0M1026 292h0M1014 394h0M1019 391h0M1011 372h0M1057 298h0M1041 379h0M1076 260h0M993 422h0M1041 407h0M1019 308h0M1012 307h0M1052 394h0M998 407h0M999 391h0M1024 377h0M1006 396h0M1008 311h0M1033 410h0M1029 381h0M1020 384h0M989 426h0M1004 383h0M1018 413h0M1027 390h0M1026 388h0M991 379h0M986 426h0M1012 398h0M1096 252h0M1029 404h0"/><path stroke="#484848" d="M1038 448h0M1094 349h0M991 485h0M963 369h0M1049 448h0M1083 336h0M965 367h0M1104 393h0M1106 400h0M1037 263h0M983 340h0M992 361h0M1088 361h0M1045 433h0M1059 318h0M1086 344h0M1009 287h0M972 470h0M1132 339h0M1004 292h0M1115 235h0M963 414h0M1127 250h0M1044 450h0M1058 324h0M1004 474h0M980 310h0M1094 406h0M1043 448h0M1100 388h0M1109 269h0M1124 255h0M985 354h0M1135 229h0M1083 426h0M994 488h0M1039 318h0M1058 444h0M1097 332h0M962 458h0M967 470h0M1065 414h0M1123 229h0M1031 462h0M1072 247h0M982 301h0M1082 342h0M969 375h0M984 349h0M1087 412h0M1044 256h0M1035 326h0M984 354h0M978 322h0M1001 288h0M982 318h0M1050 256h0M1057 306h0M1092 240h0M1023 457h0M960 416h0M1084 245h0M1004 454h0M962 465h0M1110 329h0M978 464h0M1090 369h0M958 396h0M1046 262h0M1065 325h0M1056 307h0M963 384h0M1089 348h0M1125 257h0M1086 327h0M999 472h0M1021 474h0M965 386h0M975 358h0M1033 448h0M1106 401h0M1080 326h0M965 372h0M1130 236h0M1120 265h0M979 314h0M1128 237h0M1106 335h0M974 478h0M1105 280h0M1038 438h0M1076 432h0M1033 322h0M1014 284h0M1108 275h0M1091 327h0M1056 329h0M1090 408h0M986 304h0M1036 478h0M1022 270h0M982 455h0M1070 322h0M1065 424h0M1055 445h0M1084 407h0M1129 239h0M959 367h0M1064 251h0M958 455h0M970 465h0M967 394h0M956 423h0M1040 465h0M1042 318h0M1012 344h0M997 284h0M1071 411h0M1079 297h0M1072 416h0M1056 453h0M1092 342h0M1104 337h0M990 335h0M1127 239h0M958 413h0M1083 395h0M1062 445h0M1075 300h0M961 386h0M1117 235h0M977 340h0M1095 235h0M973 307h0M987 474h0M962 328h0M1002 287h0M1130 233h0M1100 401h0M1129 249h0M1130 243h0M1116 350h0M1014 487h0M967 502h0M961 466h0M1042 328h0M1087 387h0M960 432h0M1032 326h0M984 299h0M1058 315h0M963 378h0M1117 270h0M1109 365h0M970 320h0M1100 237h0M1021 278h0M1070 433h0M1110 339h0M984 296h0M956 436h0M1063 437h0M1104 237h0M976 477h0M1051 261h0M1090 371h0M964 366h0M1129 252h0M981 475h0M967 480h0M1026 445h0M1006 339h0M1060 431h0M1113 397h0M1126 259h0M1095 415h0M982 458h0M1082 411h0M1132 234h0M1080 422h0M989 459h0M1037 458h0M972 309h0M1025 273h0M1126 237h0M1100 234h0M1109 390h0M1060 321h0M1029 321h0M1013 335h0M1070 247h0M958 325h0M1006 349h0M1085 413h0M987 300h0M1067 325h0M972 497h0M983 479h0M1090 242h0M1036 440h0M1101 344h0M1060 426h0M958 327h0M1042 259h0M1130 234h0M1111 234h0M1021 463h0M1125 246h0M1123 232h0M996 469h0M995 298h0M1054 310h0M991 470h0M994 299h0M1120 348h0M1066 425h0M1023 474h0M1104 339h0M1055 448h0M1103 332h0M1015 487h0M1072 415h0M958 412h0M1123 224h0M1035 454h0M1096 359h0M1115 269h0M1093 369h0M959 329h0M1102 392h0M969 390h0M977 483h0M1067 416h0M1076 333h0M1010 464h0M1001 290h0M986 463h0M973 375h0M1100 364h0M995 353h0M1047 264h0M974 368h0M1097 369h0M1022 451h0M1050 439h0M979 316h0M979 306h0M968 490h0M1016 459h0M1100 329h0M1138 230h0M976 474h0M957 325h0M1078 404h0M1091 328h0M1081 352h0M960 483h0M964 452h0M984 356h0M1015 473h0M959 480h0M997 456h0M1129 241h0M1112 365h0M1135 228h0M1115 230h0M985 455h0M999 290h0M1078 298h0M974 461h0M972 451h0M1129 343h0M1051 454h0M1075 326h0M956 424h0M963 465h0M994 344h0M991 345h0M1062 428h0M962 403h0M1110 387h0M975 307h0M1095 374h0M1122 248h0M1106 356h0M979 304h0M1079 403h0M987 289h0M1079 239h0M1102 402h0M988 495h0M1078 244h0M1022 486h0M980 320h0M1137 238h0M975 472h0M1010 339h0M1078 413h0M1056 433h0M1065 435h0M973 371h0M1108 275h0M959 334h0M1079 419h0M971 459h0M1105 358h0M1130 229h0M953 413h0M1063 329h0M1038 320h0M960 398h0M1095 395h0M1095 388h0M972 354h0M993 330h0M1025 483h0M957 421h0M1103 382h0M1108 396h0M1064 420h0M981 337h0M960 403h0M995 340h0M1068 249h0M988 293h0M980 329h0M998 295h0M1087 355h0M1034 442h0M972 475h0M983 478h0M1102 348h0M1128 355h0M961 462h0M999 473h0M979 453h0M1132 235h0M1002 341h0M1077 297h0M1090 383h0M1102 229h0M1057 257h0M1111 326h0M1037 459h0M1105 326h0M1026 458h0M970 376h0M1048 261h0M1051 313h0M1086 334h0M1096 234h0M990 455h0M1081 344h0M1026 462h0M1104 356h0M1092 239h0M1071 418h0M1086 416h0M1099 352h0M1011 471h0M1054 433h0M1096 288h0M1028 460h0M1127 248h0M1046 320h0M957 436h0M1110 342h0M960 404h0M999 350h0M1097 406h0M958 376h0M1098 355h0M978 301h0M973 476h0M972 456h0M1052 452h0M1049 325h0M974 458h0M1090 362h0M1118 358h0M956 410h0M1080 323h0M963 467h0M1113 329h0M1085 339h0M972 354h0M1002 348h0M959 432h0M1116 363h0M1058 330h0M1085 340h0M1059 331h0M988 480h0M963 368h0M1002 467h0M983 331h0M1027 454h0M1083 329h0"/><path stroke="#282828" d="M1082 358h0M1058 277h0M995 447h0M1042 291h0M1012 309h0M995 445h0M1007 453h0M1014 447h0M1043 281h0M998 354h0M1102 273h0M1037 336h0M1019 418h0M999 440h0M969 393h0M999 349h0M1029 296h0M1059 293h0M998 464h0M1040 383h0M997 303h0M991 461h0M1023 381h0M983 303h0M1074 281h0M962 418h0M992 471h0M1062 350h0M997 293h0M1057 361h0M981 450h0M1041 321h0M986 351h0M1006 455h0M1039 452h0M1004 296h0M1076 252h0M1052 428h0M975 361h0M1023 314h0M1011 436h0M1087 266h0M1067 402h0M1026 357h0M1021 302h0M994 362h0M1017 284h0M1071 290h0M1081 335h0M1040 267h0M1084 366h0M1058 334h0M1074 396h0M1072 381h0M1049 338h0M1078 276h0M1046 390h0M997 402h0M983 417h0M1022 350h0M1036 288h0M1027 275h0M987 399h0M1009 283h0M1015 296h0M1101 371h0M1003 334h0M1081 383h0M1058 370h0M1029 411h0M957 436h0M1022 447h0M1045 269h0M1089 360h0M1011 423h0M982 316h0M1074 326h0M1020 310h0M993 425h0M983 450h0M1033 310h0M1040 358h0M1038 294h0M1041 306h0M960 412h0M1046 340h0M978 422h0M1099 271h0M1061 303h0M974 367h0M1083 339h0M1040 429h0M990 360h0M1042 332h0M982 316h0M1030 312h0M1118 239h0M999 411h0M1034 354h0M1007 343h0M1095 273h0M1052 373h0M1092 272h0M961 403h0M972 325h0M1015 436h0M1004 328h0M1007 418h0M1099 258h0M1106 262h0M965 397h0M1106 235h0M1014 375h0M1028 364h0M1003 390h0M1104 275h0M1101 243h0M1024 277h0M1013 456h0M1063 289h0M990 328h0M1083 284h0M1083 259h0M1079 370h0M1020 372h0M1059 302h0M1095 396h0M1002 324h0M1013 398h0M960 431h0M998 449h0M1066 363h0M1036 340h0M994 356h0M1074 332h0M990 397h0M976 400h0M1036 368h0M1017 402h0M1083 361h0M1080 395h0M1067 418h0M993 346h0M1058 308h0M988 393h0M1037 416h0M1106 257h0M1033 367h0M1082 378h0M1019 459h0M1055 296h0M999 304h0M988 378h0M1099 332h0M1004 377h0M981 383h0M1013 334h0M1077 347h0M1009 306h0M1049 295h0M1056 302h0M1062 341h0M1117 254h0M1028 367h0M972 450h0M995 424h0M993 375h0M998 323h0M1040 266h0M1039 354h0M964 472h0M1037 376h0M1052 294h0M1049 270h0M1058 353h0M965 443h0M987 348h0M1069 334h0M966 451h0M1040 341h0M1058 271h0M1077 379h0M1023 392h0M990 351h0M1069 272h0M1015 360h0M1015 450h0M1019 296h0M1073 352h0M965 405h0M1029 378h0M1047 345h0M978 310h0M1086 390h0M990 470h0M1010 414h0M995 364h0M1042 281h0M1070 281h0M1026 381h0M1058 274h0M1095 348h0M997 343h0M1057 286h0M1057 331h0M1052 370h0M1033 309h0M972 371h0M1081 247h0M983 336h0M956 401h0M978 425h0M1059 341h0M1007 446h0M1084 260h0M1008 346h0M1058 411h0M1070 352h0M1058 288h0M997 406h0M1007 348h0M1124 244h0M1059 294h0M1090 334h0M1090 249h0M1090 387h0M1018 434h0M986 465h0M996 334h0M977 462h0M969 440h0M1102 273h0M1004 341h0M1061 367h0M999 422h0M1074 340h0M980 397h0M977 388h0M978 466h0M1095 278h0M1007 309h0M1032 293h0M1012 356h0M1049 345h0M1087 253h0M1017 447h0M1025 366h0M1074 269h0M1055 430h0M1128 244h0M1106 269h0M1019 315h0M1034 427h0M996 338h0M1045 399h0M1072 420h0M1038 399h0M966 432h0M1003 415h0M1056 379h0M1040 310h0M1031 274h0M1080 388h0M1055 265h0M976 391h0M1036 402h0M1089 339h0M1043 426h0M1040 265h0M1026 310h0M1088 280h0M1099 331h0M1102 357h0M987 383h0M1049 417h0M1001 360h0M1031 332h0M997 463h0M1012 417h0M1050 351h0M1029 333h0M1042 429h0M1112 265h0M1077 251h0M982 403h0M1065 346h0M1035 445h0M996 407h0M999 413h0M1026 427h0M1081 358h0M1025 340h0M1036 365h0M1029 349h0M1015 435h0M1020 292h0M1096 272h0M1067 401h0M1062 329h0M983 397h0M1024 313h0M971 411h0M1070 269h0M1029 296h0M978 422h0M1063 298h0M1039 276h0M1044 362h0M1111 339h0M1092 256h0M973 404h0M1055 276h0M1026 403h0M1069 291h0M962 444h0M1033 425h0M1035 282h0M1046 315h0M1085 287h0M982 448h0M964 423h0M1019 330h0M976 393h0M1064 346h0M998 344h0M1101 345h0M1024 399h0M1073 384h0M1071 383h0M1042 427h0M1067 260h0M959 414h0M1019 393h0M1088 353h0M973 381h0M988 316h0M1080 293h0M1053 354h0M1049 332h0M995 370h0M1044 441h0M969 415h0M1127 240h0M1087 345h0M994 456h0M1005 329h0M983 448h0M1053 285h0M999 294h0M1018 294h0M1020 340h0M1131 236h0M992 469h0M1017 378h0M1011 293h0M1073 262h0M1054 335h0M966 428h0M1014 329h0M989 298h0M1020 360h0M991 375h0M1069 360h0M1091 349h0M998 371h0M1061 407h0M1065 431h0M1066 276h0M1089 370h0M1065 398h0M988 370h0M1035 414h0M1028 411h0M991 373h0M1055 327h0M995 377h0M1074 356h0M1038 434h0M1058 351h0M966 378h0M1049 291h0M1033 420h0M1004 391h0M1040 336h0M1010 292h0M1120 231h0M1089 330h0M1057 404h0M1059 255h0M1093 278h0M1019 336h0M1026 450h0M1032 358h0M1069 269h0M1010 366h0M1004 352h0M1095 337h0M1087 374h0M1041 370h0M1020 351h0M1067 430h0M1032 451h0M1089 260h0M1032 289h0M1063 413h0M1065 291h0M1013 379h0M982 383h0M1046 270h0M1101 336h0M997 341h0M1053 399h0M1041 292h0M1021 444h0M1063 408h0M985 335h0M1094 348h0M989 373h0M1023 360h0M1052 411h0M980 419h0M1038 446h0M1011 301h0M996 398h0M1053 305h0M980 376h0M1045 293h0M1022 436h0M1026 271h0M1075 271h0M977 365h0M974 362h0M1024 423h0M1014 333h0M1036 410h0M1065 408h0M1006 403h0M1031 423h0M1095 280h0M1011 369h0M1033 290h0M1021 301h0M959 434h0M994 342h0M1080 414h0M1080 347h0M983 412h0M1043 336h0M1025 332h0M1008 438h0M1076 386h0M1076 261h0M958 406h0M993 435h0M983 383h0M1026 380h0M1031 444h0M1066 299h0M1095 253h0M968 465h0M1066 388h0M971 444h0M1010 340h0M979 415h0M1008 411h0M991 339h0M1002 374h0M1024 421h0M1029 420h0M981 428h0M1035 280h0M1021 461h0M974 378h0M1061 289h0M1105 339h0M1096 346h0M992 404h0M1034 365h0M965 378h0M1033 391h0M1022 389h0M989 413h0M1034 414h0M965 447h0M1038 403h0M992 325h0M1029 330h0M1008 367h0M1044 283h0M1031 332h0M1023 462h0M1065 298h0M980 394h0M1014 420h0M1006 458h0M1076 286h0M1095 333h0M1059 377h0M1026 390h0M1090 250h0M1070 423h0M1060 292h0M990 399h0M1085 410h0M1008 407h0M979 403h0M982 389h0M1056 391h0M1029 350h0M1097 389h0M1095 258h0M987 339h0M1068 276h0M1016 368h0M1033 372h0M1003 327h0M1057 410h0M1013 337h0M1085 279h0M1044 376h0M1122 247h0M978 395h0M1039 350h0M1005 289h0M965 428h0M962 439h0M1052 325h0M1092 273h0M1046 382h0M1032 349h0M1098 257h0M1018 441h0M1025 279h0M1052 266h0M1041 270h0M1045 355h0M1049 274h0M1050 389h0M1043 388h0M1053 384h0M993 325h0M1055 307h0M1038 332h0M1027 318h0M1032 389h0M1003 376h0M992 293h0M1092 351h0M1046 361h0M1042 359h0M1013 394h0M1088 364h0M990 337h0M1102 334h0M1040 386h0M1064 256h0M1067 345h0M1000 310h0M1080 274h0M1051 343h0M1019 373h0M981 317h0M1078 334h0M979 419h0M981 405h0M962 438h0M1039 269h0M1003 374h0M1043 401h0M1059 296h0M975 430h0M1040 397h0M1017 437h0M1017 437h0M1080 360h0M1062 371h0M1033 278h0M1079 277h0M1005 356h0M1018 387h0M1027 427h0M971 420h0M1008 409h0M1100 334h0M1027 372h0M1000 363h0M1033 366h0M1035 318h0M1089 262h0M1011 413h0M1003 297h0M1063 405h0M1026 437h0M1032 295h0M999 411h0M1058 335h0M1085 267h0M975 439h0M1035 275h0M974 331h0M1124 245h0M978 364h0M1050 431h0M1023 374h0M1068 391h0M1103 250h0M1046 314h0M1059 280h0M1052 447h0M1076 342h0M1025 311h0M1039 354h0M1083 288h0M1082 359h0M1067 265h0M1052 271h0M1062 384h0M1026 412h0M1026 433h0M1079 390h0M1095 359h0M982 449h0M1047 269h0M1009 327h0M1072 347h0M966 398h0M1110 248h0M1045 436h0M1092 371h0M1064 328h0M1038 339h0M1032 360h0M1024 311h0M1023 373h0M1058 334h0M986 390h0M1024 334h0M1023 297h0M1062 348h0M1022 370h0M1025 401h0M1045 334h0M1072 256h0M1089 346h0M1015 365h0M993 463h0M1034 313h0M1054 402h0M1043 359h0M963 431h0M1075 273h0M964 382h0M1095 391h0M966 377h0M1067 352h0M970 371h0M1078 350h0M996 301h0M1021 433h0M997 433h0M1087 265h0M978 438h0M1082 252h0M1002 295h0M990 388h0M1083 327h0M1045 366h0M986 389h0M992 380h0M1049 356h0M1060 273h0M1041 352h0M1001 332h0M1050 295h0M978 459h0M971 403h0M1010 415h0M1040 391h0M1096 337h0M992 432h0M985 360h0M1054 360h0M1041 428h0M994 371h0M1088 384h0M1022 394h0M982 381h0M1041 400h0M1107 237h0M964 424h0M979 382h0M1063 356h0M1044 367h0M1044 289h0M1105 340h0M1074 335h0M1086 360h0M1014 429h0M1000 423h0M1064 289h0M1085 357h0M975 438h0M1094 279h0M960 438h0M1014 442h0M1040 422h0M1075 288h0M1050 294h0M997 415h0M996 430h0M1061 388h0M985 467h0M1018 370h0M1046 266h0M974 320h0M1024 422h0M1039 426h0M1006 351h0M970 327h0M1016 383h0M1029 337h0M1100 245h0M976 408h0M1055 309h0M1075 387h0M981 416h0M1039 343h0M1030 330h0M1040 402h0M1130 235h0M1019 276h0M1025 279h0M1027 400h0M1120 259h0M958 443h0M1104 351h0M1061 328h0M1043 383h0M1044 435h0M1056 424h0M1012 399h0M1103 385h0M1040 278h0M1002 458h0M1067 346h0M997 353h0M1087 268h0M976 454h0M1048 290h0M1045 301h0M1008 403h0M1075 258h0M1003 334h0M1031 311h0M969 439h0M997 386h0M1054 389h0M1032 292h0M1114 241h0M1056 295h0M994 425h0M1028 403h0M1031 393h0M1072 377h0M1058 371h0M1025 365h0M1006 350h0M1112 264h0M978 411h0M1076 267h0M1069 281h0M1044 334h0M960 397h0M1026 445h0M1042 273h0M1086 290h0M1027 324h0M993 313h0M1054 281h0M1057 339h0M1078 269h0M1014 349h0M987 310h0M1067 254h0M980 326h0M1031 381h0M1082 367h0M1037 410h0M995 343h0M1019 283h0M1053 278h0M1116 230h0M1010 341h0M1018 444h0M1007 389h0M1075 397h0M1037 310h0M973 436h0M1034 301h0M1010 360h0M1027 412h0M959 439h0M977 310h0M970 450h0M1101 250h0M1049 350h0M977 391h0M1093 242h0M1038 368h0M989 430h0M1018 356h0M1111 338h0M1068 291h0M1026 404h0M1086 251h0M979 370h0M1069 255h0M1034 398h0M979 448h0M1010 393h0M1044 294h0M1030 402h0M1010 322h0M987 396h0M958 397h0M1042 371h0M1054 353h0M986 414h0M1120 238h0M1018 417h0M1080 398h0M986 414h0M968 395h0M1047 344h0M1065 398h0M1054 273h0M1051 283h0M1081 286h0M1063 430h0M1044 375h0M1056 358h0M1106 245h0M990 371h0M1047 370h0M1006 414h0M1103 277h0M1013 373h0M1013 318h0M1018 429h0M1088 289h0M1084 387h0M967 451h0M1040 454h0M1019 393h0M1076 269h0M1067 278h0M1059 298h0M1019 283h0M1023 326h0M1019 323h0M1090 368h0M982 448h0M1070 400h0M1028 400h0M1031 404h0M1093 378h0M1010 286h0M1052 422h0M1047 350h0M1051 376h0M1043 318h0M1020 298h0M1011 359h0M1076 388h0M1001 358h0M1027 323h0M1063 379h0M1003 297h0M1013 466h0M1000 408h0M991 333h0M994 469h0M1015 371h0M1048 361h0M1070 396h0M961 437h0M979 472h0M1112 244h0M1062 395h0M986 325h0M982 330h0M1015 364h0M1029 343h0M1033 410h0M1110 251h0M1090 253h0M1003 434h0M1039 373h0M1066 379h0M1045 311h0M1021 297h0M1024 403h0M997 338h0M1084 287h0M1004 303h0M1073 289h0M1066 275h0M1049 364h0M1059 383h0M1064 348h0M997 445h0M986 350h0M1009 447h0M1062 331h0M1045 393h0M1006 442h0M991 466h0M1049 300h0M1062 272h0M1071 341h0M1002 430h0M973 460h0M1004 418h0M1079 274h0M998 426h0M1004 296h0M1038 412h0M1029 440h0M1044 348h0M1070 270h0M980 418h0M1050 394h0"/><path stroke="#181818" d="M1109 271h0M1032 342h0M1117 238h0M981 414h0M1011 321h0M1011 453h0M1026 338h0M1017 411h0M1052 395h0M1002 301h0M1021 373h0M1008 302h0M1080 271h0M1052 407h0M1027 320h0M1075 342h0M1069 267h0M1057 412h0M1044 291h0M1073 298h0M1072 252h0M1046 360h0M1116 234h0M1075 275h0M1054 391h0M1111 245h0M1049 356h0M1000 446h0M963 427h0M1019 445h0M1049 305h0M1040 327h0M995 448h0M1017 287h0M982 372h0M1017 402h0M971 398h0M977 410h0M1027 448h0M995 399h0M1052 387h0M1025 305h0M981 304h0M1058 398h0M997 320h0M1050 367h0M1057 280h0M1019 352h0M1044 379h0M1025 378h0M1060 259h0M982 428h0M973 423h0M964 400h0M1110 238h0M1037 433h0M1095 253h0M1091 336h0M1069 279h0M986 450h0M1027 317h0M1067 396h0M1024 400h0M963 412h0M987 385h0M1055 299h0M1055 307h0M1085 354h0M1063 297h0M1063 344h0M1017 449h0M970 423h0M973 422h0M1028 434h0M1034 278h0M1051 300h0M961 410h0M992 387h0M1000 412h0M1041 390h0M1041 362h0M1106 245h0M1002 322h0M1016 385h0M1009 465h0M1044 375h0M1100 248h0M1032 398h0M1073 383h0M966 417h0M1004 463h0M996 453h0M1094 337h0M1046 310h0M1013 330h0M1029 365h0M1014 457h0M1042 374h0M1044 300h0M1017 402h0M1057 282h0M1064 264h0M962 444h0M1052 266h0M1073 265h0M1075 269h0M1016 363h0M1023 295h0M980 409h0M1021 381h0M1001 440h0M986 430h0M981 388h0M1039 407h0M996 451h0M1026 278h0M1096 274h0M1001 443h0M1059 305h0M1052 340h0M1079 284h0M1055 390h0M983 362h0M1076 350h0M995 383h0M1052 403h0M1080 270h0M1049 352h0M1116 242h0M1055 288h0M1096 376h0M1085 261h0M1094 277h0M1099 269h0M1005 379h0M988 444h0M1110 259h0M1124 244h0M1074 349h0M1019 348h0M1019 362h0M997 409h0M1098 280h0M1060 358h0M1065 338h0M977 406h0M1001 442h0M990 450h0M967 421h0M993 313h0M1057 276h0M1051 374h0M1054 372h0M1056 420h0M1115 250h0M997 445h0M976 384h0M1015 438h0M1005 306h0M1063 388h0M1055 302h0M1041 383h0M1085 249h0M1024 318h0M974 458h0M1011 311h0M1012 447h0M1070 298h0M1002 329h0M1077 251h0M1076 270h0M1005 400h0M1048 350h0M1018 348h0M1024 383h0M1030 303h0M1041 422h0M1082 289h0M992 377h0M986 429h0M1019 311h0M1050 407h0M1015 385h0M1079 383h0M1078 385h0M1019 280h0M1125 247h0M989 311h0M1039 339h0M1033 330h0M1035 445h0M1000 364h0M1008 313h0M1038 378h0M1083 345h0M963 427h0M991 315h0M1080 348h0M976 412h0M960 406h0M1011 406h0M1046 328h0M972 419h0M1029 391h0M1084 351h0M984 379h0M1072 396h0M1030 433h0M972 452h0M978 367h0M1017 429h0M1054 287h0M988 386h0M1092 257h0M1044 445h0M980 446h0M977 438h0M1069 395h0M1107 255h0M1070 381h0M1024 411h0M999 417h0M1066 290h0M1014 391h0M1074 347h0M1056 359h0M1062 372h0M1066 348h0M988 305h0M1025 420h0M1095 347h0M1074 343h0M1006 380h0M987 447h0M1031 418h0M1058 292h0M986 391h0M1092 271h0M996 300h0M1006 425h0M1115 252h0M1005 403h0M1014 346h0M1089 347h0M1036 435h0M1056 435h0M977 461h0M1064 386h0M1011 436h0M1058 301h0M966 404h0M1083 267h0M1007 374h0M1014 423h0M967 425h0M1034 300h0M1006 353h0M1088 343h0M977 407h0M989 401h0M1065 349h0M1107 247h0M970 375h0M977 407h0M1017 297h0M1003 407h0M1001 302h0M1064 364h0M1062 381h0M1021 363h0M1061 302h0M1054 308h0M1039 286h0M991 440h0M1010 333h0M1019 405h0M1040 287h0M1062 257h0M1017 304h0M1038 287h0M1073 281h0M967 443h0M1030 326h0M1025 339h0M971 439h0M989 310h0M1007 344h0M1065 381h0M1038 361h0M1033 288h0M1049 404h0M1034 397h0M1002 322h0M1082 254h0M1065 283h0M1031 313h0M1016 421h0M1017 279h0M1015 293h0M1040 344h0M1039 363h0M990 444h0M1057 411h0M1110 243h0M1001 299h0M1023 404h0M1086 375h0M1042 373h0M1035 426h0M1022 391h0M1062 276h0M990 305h0M1003 438h0M1015 366h0M1048 366h0M1056 370h0M1082 364h0M1010 305h0M971 445h0M1011 437h0M975 415h0M1019 292h0M1019 348h0M1076 278h0M1004 438h0M1022 425h0M970 402h0M1089 337h0M1069 256h0M1068 376h0M1037 277h0M1052 419h0M1007 434h0M1092 332h0M1084 335h0M1035 396h0M996 462h0M1076 369h0M974 419h0M1018 372h0M1122 252h0M1104 257h0M1077 271h0M1094 275h0M1066 280h0M991 299h0M1029 412h0M988 461h0M1017 312h0M1109 262h0M1039 299h0M1051 301h0M1018 354h0M1042 270h0M1037 436h0M1016 368h0M984 417h0M1081 275h0M1053 398h0M990 380h0M1079 385h0M969 416h0M1026 358h0M1055 291h0M1058 261h0M1053 273h0M1007 403h0M1075 284h0M991 395h0M1079 406h0M1042 383h0M1074 273h0M970 411h0M1068 360h0M1065 362h0M1087 264h0M985 434h0M1009 412h0M1015 320h0M1001 365h0M968 396h0M969 382h0M1015 431h0M985 424h0M1039 394h0M1079 282h0M1011 390h0M994 380h0M977 401h0M1019 388h0M1003 405h0M1017 330h0M1090 388h0M969 376h0M1022 354h0M1027 397h0M968 451h0M964 397h0M1059 404h0M1010 375h0M1028 453h0M1026 333h0M1018 438h0M1081 354h0M1054 384h0M1025 307h0M1027 436h0M1023 318h0M1032 372h0M1073 330h0M1005 293h0M980 381h0M1128 241h0M1061 366h0M1072 377h0M992 394h0M996 424h0M1031 452h0M985 376h0M1047 271h0M998 331h0M960 409h0M1095 350h0M1062 273h0M984 432h0M1063 277h0M1065 397h0M1044 423h0M1040 336h0M979 322h0M1057 340h0M1000 415h0M1036 359h0M994 324h0M1005 304h0M1086 371h0M1035 346h0M979 376h0M991 415h0M1006 409h0M1023 353h0M992 402h0M981 311h0M1020 310h0M998 411h0M979 372h0M1069 375h0M1041 399h0M974 435h0M1087 246h0M1009 321h0M1017 370h0M998 394h0M1052 307h0M1077 369h0M1087 372h0M1108 241h0M992 414h0M1012 426h0M1020 377h0M1077 406h0M1070 274h0M1068 404h0M970 399h0M999 438h0M1029 287h0M1032 299h0M1033 381h0M1058 282h0M991 443h0M1028 430h0M1013 437h0M1020 419h0M1047 403h0M1002 447h0M1018 336h0M974 457h0M996 388h0M968 442h0M1107 259h0M1042 291h0M1001 289h0M1079 378h0M1047 357h0M1024 411h0M1007 338h0M1034 388h0M1076 334h0M1025 412h0M1005 382h0M1036 353h0M1042 359h0M1001 436h0M971 413h0M1079 339h0M1001 326h0M1022 334h0M1061 278h0M1089 389h0M1008 411h0M1052 411h0M1042 404h0M1052 358h0M994 415h0M1060 340h0M1089 398h0M974 375h0M1003 441h0M1111 241h0M1011 422h0M1025 298h0M1083 283h0M1022 405h0M1002 435h0M1028 337h0M1100 339h0M1075 371h0M974 398h0M1079 338h0M1046 276h0M994 431h0M1072 275h0M970 440h0M1022 281h0M1010 319h0M968 394h0M1008 360h0M996 423h0M1037 413h0M1007 411h0M1095 353h0M1001 337h0M1048 426h0M1047 404h0M991 371h0M1066 356h0M984 436h0M1053 290h0M1105 267h0M1060 275h0M1023 386h0M1080 286h0M1125 246h0M999 364h0M1072 344h0M1006 423h0M989 314h0M1006 396h0M1005 416h0M1070 414h0M1049 389h0M1045 338h0M1044 396h0M1038 313h0M1085 257h0M1091 385h0M1024 339h0M1079 402h0M1059 390h0M1037 423h0M1057 283h0M1057 351h0M1028 384h0M1053 283h0M997 443h0M1048 380h0M1043 329h0M1017 406h0M1015 441h0M961 449h0M1030 360h0M1027 331h0M994 449h0M1033 280h0M1049 277h0M978 397h0M1069 254h0M1017 397h0M1026 364h0M1002 409h0M1037 293h0M1072 277h0M1073 354h0M1063 395h0M1080 288h0M1026 285h0M965 436h0M1064 399h0M1119 255h0M1068 263h0M1082 255h0M1009 375h0M1022 325h0M1054 279h0M1027 388h0M1102 256h0M1039 346h0M1026 413h0M975 377h0M991 318h0M1034 334h0M1042 441h0M1061 352h0M1050 354h0M1033 301h0M1075 280h0M1081 341h0M1085 279h0M1111 250h0M995 363h0M1010 378h0M984 379h0M1018 398h0M1093 354h0M1029 290h0M1048 437h0M988 365h0M1016 407h0M986 304h0M1083 253h0M1051 287h0M1031 444h0M1077 353h0M1008 325h0M1004 359h0M976 443h0M1069 345h0M1047 375h0M978 320h0M1026 376h0M1120 239h0M1064 284h0M979 445h0M1047 431h0M988 386h0M963 431h0M1042 413h0M1011 310h0M1034 311h0M1007 406h0M1031 330h0M1011 366h0M997 430h0M1097 247h0M1016 409h0M968 415h0M1010 411h0M994 383h0M1005 357h0M1006 453h0M1047 267h0M1086 289h0M1012 418h0M1091 358h0M1025 372h0M996 318h0M1025 283h0M992 404h0M1039 280h0M1027 451h0M1057 376h0M1055 260h0M982 437h0M1041 269h0M1045 270h0M990 325h0M1045 385h0M1087 243h0M1044 311h0M1044 431h0M1090 280h0M1023 311h0M1009 442h0M1063 390h0M1053 344h0M981 437h0M1008 363h0M997 322h0M1023 307h0M1064 298h0M1011 379h0M1009 382h0M1084 280h0M981 449h0M996 322h0M1037 419h0M1034 324h0M978 446h0M1010 330h0M1044 282h0M980 391h0M1050 339h0M1091 386h0M1047 434h0M981 392h0M1027 338h0M1060 258h0M1042 374h0M1005 449h0M1006 359h0M1052 346h0M1070 272h0M1012 406h0M1072 375h0M1026 416h0M979 439h0M985 316h0M1012 421h0M996 376h0M1070 409h0M1084 353h0M987 401h0M960 395h0M993 378h0M1007 337h0M1088 281h0M1008 402h0M1085 282h0M1034 413h0M1097 332h0M963 442h0M1093 383h0M972 400h0M985 303h0M1031 397h0M1041 373h0M1065 361h0M1051 390h0M1047 432h0M1064 338h0M1037 374h0M988 305h0M1083 267h0M1075 262h0M999 336h0M1053 427h0M988 357h0M981 453h0M1078 392h0M1026 350h0M1079 376h0M1011 293h0M1008 390h0M1095 342h0M1064 416h0M1055 364h0M1041 283h0M1047 356h0M1019 292h0M1016 411h0M1072 390h0M1036 276h0M1022 306h0M989 461h0M1018 380h0M1011 429h0M1006 330h0M1093 369h0M1049 336h0M1021 446h0M1005 423h0M1054 364h0M1011 448h0M1093 349h0M1037 416h0M985 451h0M1077 258h0M1065 370h0M1040 288h0M1012 402h0M1007 422h0M1004 405h0M974 420h0M1014 306h0M1109 240h0M1026 372h0M1024 413h0M995 368h0M1010 408h0M1063 417h0M1087 369h0M1007 430h0M1095 257h0M988 434h0M1083 394h0M1013 321h0M1014 429h0M1014 396h0M1032 295h0M1077 260h0M1014 380h0M1022 324h0M1027 385h0M1017 309h0M978 317h0M1069 379h0M994 353h0M1070 384h0M989 390h0M970 388h0M985 398h0M1055 381h0M1004 411h0M1028 413h0M1007 407h0M1075 392h0M968 449h0M1037 446h0M1047 421h0M992 400h0M1006 308h0M1079 359h0M1058 381h0M1095 263h0M1008 413h0M1071 283h0M1065 333h0M1089 377h0M1044 273h0M1005 291h0M1066 272h0M976 447h0M1038 396h0M1047 406h0M1051 280h0M962 395h0M1107 255h0M1079 280h0M989 387h0M985 410h0M995 317h0M994 394h0M1019 353h0M1086 331h0M1021 445h0M1094 247h0M1082 379h0M1006 428h0M1036 419h0M1034 428h0M995 295h0M992 300h0M1044 420h0M1061 298h0M1004 334h0M1058 279h0M1085 369h0M966 454h0M1047 421h0M999 301h0M1027 298h0M975 410h0M1034 364h0M1040 302h0M1103 346h0M1031 392h0M1054 308h0M1058 333h0M1101 266h0M1049 400h0M1041 443h0M1032 376h0M1014 393h0M1086 282h0M988 463h0M1095 346h0M992 439h0M1012 291h0M1069 342h0M988 429h0M978 386h0M1080 356h0M1096 239h0M1078 277h0M1003 436h0M1043 393h0M1075 280h0M971 396h0M1064 294h0M1015 360h0M1017 376h0M1022 288h0M1038 355h0M1004 437h0M1004 304h0M1065 301h0M992 299h0M1006 327h0M980 413h0M968 430h0M1076 272h0M982 404h0M973 437h0M1013 307h0M989 324h0M1066 297h0M1046 364h0M1013 371h0M1067 388h0M1061 275h0M958 415h0M1014 432h0M1003 291h0M1002 364h0M1014 349h0M1040 307h0M996 328h0M1072 413h0"/><path stroke="#f8d840" d="M1128 241h0M992 359h0M1041 316h0M1062 365h0M1056 304h0M998 367h0M976 433h0M1093 248h0M969 424h0M997 315h0M1055 429h0M1031 345h0M969 460h0M1070 304h0M1064 365h0M986 375h0M1054 430h0M1047 355h0M1013 435h0M1003 305h0M1033 337h0M976 383h0M997 315h0M1034 274h0M1118 246h0M1126 245h0M969 411h0M1037 325h0M1008 328h0M1079 334h0M1007 327h0M1022 317h0M1002 447h0M1078 252h0M1019 445h0M1067 300h0M1070 399h0M997 359h0M1023 350h0M972 455h0M1072 378h0M1066 360h0M1078 348h0M989 308h0M1026 282h0M1090 280h0M984 448h0M1088 358h0M1095 240h0M970 442h0M1067 299h0M1012 334h0M1054 327h0M1026 428h0M978 395h0M1060 383h0M1073 388h0M973 451h0M975 443h0M1052 344h0M986 298h0M984 431h0M1097 332h0M1051 305h0M1012 357h0M1012 447h0M1109 330h0M1009 346h0M1005 441h0M992 371h0M999 312h0M1118 239h0M1080 251h0M956 409h0M1061 393h0M993 319h0M1001 364h0M982 384h0M1011 434h0M1002 445h0M1036 356h0M975 421h0M1071 342h0M987 361h0M1062 381h0M993 309h0M1035 351h0M1010 359h0M1031 355h0M1082 354h0M1063 333h0M1056 409h0M1038 327h0M986 308h0M1055 362h0M1048 414h0M1061 363h0M1031 343h0M1088 374h0M1022 442h0M961 424h0M1015 448h0M976 423h0M1045 351h0M1040 350h0M1032 339h0M964 425h0M1060 406h0M1060 356h0M1020 287h0M1001 453h0M1046 348h0M997 359h0M1025 351h0M1067 359h0M1090 247h0M1045 311h0M1043 415h0M983 435h0M1094 357h0M992 435h0M991 432h0M1065 384h0M1043 352h0M1096 386h0M1071 383h0M992 354h0M1047 347h0M1022 471h0M1068 346h0M1122 246h0"/><path stroke="#e88000" d="M1075 262h0M1032 284h0M1015 361h0M1034 381h0M1023 377h0M1031 403h0M991 406h0M1016 385h0M1020 300h0M1097 267h0M1040 276h0M1007 376h0M1084 284h0M995 420h0M1030 398h0M1038 362h0M1027 397h0M1015 300h0M1003 403h0M1004 431h0M1026 367h0M1022 408h0M997 423h0M998 403h0M1016 392h0M1015 294h0M1051 388h0M1038 277h0M1027 294h0M1004 426h0M1038 307h0M1040 282h0M1050 369h0M1026 393h0M1037 372h0M1096 268h0M1032 300h0M1001 425h0M998 384h0M1021 364h0M1007 411h0M1028 400h0M1044 371h0M1091 278h0M989 398h0M984 405h0M1024 394h0M1032 396h0M989 404h0M1027 377h0M1018 396h0M1033 418h0M983 407h0M1029 389h0M993 401h0M998 392h0M1035 387h0M1096 263h0M1036 408h0M1028 297h0M1077 287h0M1025 412h0M991 394h0M1032 283h0M992 411h0M1001 374h0M1002 414h0M994 423h0M1007 310h0M1029 299h0M1062 293h0M993 406h0M1036 403h0M993 388h0M1015 398h0M1036 386h0M1031 284h0M1040 371h0M1024 299h0M1008 423h0M1001 380h0M1035 418h0M979 405h0M1020 366h0M1039 384h0M1035 380h0M1028 362h0M1010 385h0M1044 397h0M1020 406h0M1090 276h0M1011 385h0M1032 412h0M994 409h0M1015 424h0M1016 387h0M1016 369h0M1012 363h0M1013 420h0M1021 383h0M1054 273h0M1096 257h0M1017 301h0M1030 361h0M998 421h0M1034 377h0M1028 397h0M1021 420h0M1030 303h0M1015 397h0M1013 396h0M1019 391h0M1035 402h0M1036 361h0M998 405h0M993 430h0M1013 365h0M1068 265h0M1045 365h0M1018 296h0M1023 393h0M1064 266h0M1018 397h0M1006 391h0M1112 250h0M1020 422h0M1040 279h0M1014 406h0M1062 263h0M1036 371h0M1042 380h0M1021 301h0M1049 370h0M983 394h0M1010 390h0M997 432h0M1098 271h0M1028 391h0M1012 387h0M1044 300h0M1018 294h0M1009 374h0M1029 294h0M1102 252h0M1020 404h0M1101 254h0M1041 377h0M1025 400h0M1023 400h0M991 392h0M998 381h0M1041 362h0M990 423h0M1020 374h0M981 393h0M1105 246h0M1023 374h0M1038 390h0M1019 369h0M1016 406h0M1066 293h0M1085 254h0M1043 276h0M1099 263h0M1052 399h0M990 384h0M1004 369h0M1011 370h0M1080 254h0M1026 407h0M981 400h0"/><path stroke="#e8a810" d="M1079 281h0M1067 282h0M1084 265h0M1054 293h0M1064 279h0M1072 276h0M1040 297h0M1055 285h0M1061 279h0M1077 267h0M1075 281h0M1033 291h0M1062 286h0M1083 273h0M1067 272h0M1077 273h0M1093 266h0M1054 294h0M1048 296h0M1063 291h0M1069 273h0M1096 261h0M1045 298h0M1036 296h0M1065 279h0M1054 291h0M1069 287h0M1074 271h0M1043 296h0M1035 291h0M1051 277h0M1086 263h0M1080 264h0M1080 273h0M1065 285h0M1042 284h0M1069 265h0M1064 268h0M1066 280h0M1054 289h0M1055 275h0M1088 258h0M1081 265h0M1065 275h0M1075 277h0M1064 278h0M1084 262h0M1072 267h0M1040 289h0M1093 268h0M1084 268h0M1065 281h0M1064 269h0M1051 289h0M1091 257h0M1063 279h0M1040 289h0M1045 284h0M1060 274h0M1065 277h0M1048 297h0M1092 270h0M1042 292h0M1068 276h0M1073 278h0"/><path stroke="#888888" d="M1144 249h0M1019 515h0M1128 390h0M997 502h0M1009 504h0M1053 469h0M1037 481h0M1143 236h0M959 332h0M1055 476h0M1176 351h0M1075 238h0M1018 268h0M1122 420h0M1023 495h0M1086 322h0M1238 321h0M953 400h0M1147 222h0M1123 407h0M1165 206h0M1138 202h0M1092 432h0M986 492h0M1146 214h0M992 509h0M968 352h0M1192 287h0M1148 353h0M1135 381h0M1067 454h0M1076 314h0M968 299h0M993 518h0M1130 353h0M1052 472h0M1115 316h0M1130 386h0M956 297h0M1166 275h0M1180 269h0M1088 443h0M1171 218h0M1118 427h0M1132 366h0M972 493h0M1131 404h0M1002 519h0M1052 236h0M1143 246h0M1028 505h0M985 501h0M1042 474h0M1030 502h0M1075 488h0M1114 289h0M1115 408h0M1153 326h0M984 501h0M994 514h0M1104 410h0M1075 518h0M957 375h0M1138 214h0M1124 285h0M963 487h0M1133 494h0M1148 226h0M1142 408h0M1139 172h0M1163 235h0M1138 328h0M1139 390h0M1110 325h0M1161 424h0M997 493h0M1060 464h0M1175 238h0M1105 433h0M1094 233h0M1122 374h0M1109 423h0M1143 380h0M1065 501h0M1082 433h0M1037 474h0M1037 480h0M1000 510h0M1121 391h0M1069 313h0M1144 486h0M962 349h0M1154 251h0M1116 474h0M1153 372h0M1078 309h0M1120 499h0M1027 480h0M1175 278h0M949 445h0M1125 326h0M970 293h0M1067 443h0M1036 476h0M1155 373h0M1124 219h0M1136 406h0M1141 337h0M951 459h0M1058 242h0M1181 291h0M975 518h0M1006 266h0M1114 443h0M1183 261h0M1008 273h0M1083 235h0M1099 230h0M1019 271h0M1015 489h0M1157 427h0M1021 487h0M980 497h0M1174 229h0M1090 234h0M959 510h0M1020 483h0M981 280h0M955 329h0M1007 271h0M1174 407h0M950 402h0M1043 517h0M1096 295h0M1161 246h0M1125 392h0M1027 503h0M1146 344h0M1161 213h0M1118 508h0M1119 400h0M954 469h0M1080 437h0M1068 243h0M1119 394h0M1102 286h0M1046 478h0M980 505h0M1013 500h0M1195 336h0M952 341h0M1076 440h0M1032 477h0M1120 419h0"/><path stroke="#e8a800" d="M1135 238h0M1064 341h0M985 433h0M1016 320h0M1061 401h0M1000 308h0M1005 362h0M981 322h0M970 407h0M1079 389h0M1118 250h0M1017 441h0M1059 350h0M1013 289h0M1029 319h0M980 434h0M1112 244h0M1037 310h0M956 421h0M1040 417h0M1019 458h0M1000 303h0M1015 291h0M1003 328h0M971 422h0M1059 375h0M996 434h0M1016 435h0M974 378h0M978 441h0M974 382h0M1022 342h0M1065 356h0M1034 342h0M1012 318h0M984 386h0M1049 354h0M982 376h0M1007 359h0M1055 410h0M994 312h0M1030 437h0M1007 450h0M1061 393h0M1034 440h0M974 375h0M1007 314h0M976 327h0M1023 330h0M1024 434h0M1015 350h0M1067 402h0M1040 351h0M1057 407h0M967 462h0M1049 264h0M1050 266h0M963 405h0M1113 237h0M1067 341h0M960 410h0M1046 441h0M1051 328h0M1057 330h0M998 441h0M1042 357h0M1049 407h0M972 447h0M1090 355h0M1091 248h0M1061 408h0M1014 452h0M982 422h0M1038 272h0M978 427h0M1060 345h0M1061 299h0M990 330h0M1031 350h0M1056 390h0M1079 253h0M1110 267h0M1046 329h0M1106 336h0M1070 338h0M991 431h0M1034 346h0M1020 468h0M1053 260h0M1046 335h0M974 397h0M1045 356h0M1047 352h0M1066 376h0M1002 311h0M1049 414h0M1038 425h0M1010 450h0M1011 445h0M969 419h0M1023 431h0M998 313h0M996 318h0M1050 437h0M1021 431h0M1122 247h0M1082 384h0M1095 335h0M1066 352h0M1067 387h0M1093 332h0M1008 445h0M1081 406h0M1000 336h0M1058 345h0M1034 423h0M1063 372h0M1102 273h0M990 434h0M1063 396h0M1058 351h0"/><path stroke="#fce080" d="M986 433h0M992 450h0M1066 351h0M1003 461h0M1075 378h0M1021 441h0M1051 430h0M1059 394h0M1070 404h0M992 337h0M1005 436h0M1067 356h0M1045 271h0M1008 451h0M1013 325h0M993 315h0M1018 455h0M1106 347h0M1034 319h0M1032 344h0M1069 295h0M1008 434h0M1024 353h0M970 424h0M1063 403h0M995 448h0M1006 440h0M980 439h0M1066 379h0M1072 343h0M1100 395h0M1007 315h0M1059 260h0M1096 332h0M1085 374h0M1026 431h0M1121 242h0M991 376h0M1058 401h0M1122 253h0M1063 361h0M1104 340h0M960 413h0M1024 281h0M1083 251h0M1067 379h0M1069 396h0M1028 314h0M1068 351h0M1082 290h0M1046 417h0M965 391h0M1086 368h0M1007 324h0M1032 277h0M1045 338h0M1050 404h0M970 407h0M1011 316h0M980 436h0M1065 368h0M1040 324h0M1074 292h0M1000 327h0M1097 334h0M998 299h0M996 299h0M981 436h0M985 369h0M1102 271h0M1066 360h0M1112 253h0M1069 355h0M1034 427h0M1131 233h0M983 378h0M1056 372h0M1034 339h0M1073 384h0M1103 354h0M1103 271h0M1068 348h0M989 322h0M1084 382h0M978 377h0M1022 323h0M968 401h0M1019 325h0M1062 369h0M1017 351h0M1076 385h0M1108 243h0M1069 387h0M1049 355h0M1082 253h0"/><path stroke="#e87810" d="M1077 266h0M1048 291h0M1064 276h0M1089 273h0M1060 286h0M1080 270h0M1064 287h0M1039 291h0M1082 260h0M1047 284h0M1088 262h0M1058 291h0M1067 289h0M1077 282h0M1090 264h0M1074 275h0M1092 271h0M1057 293h0M1064 281h0M1066 271h0M1066 274h0M1072 272h0M1046 295h0M1086 269h0M1044 294h0M1055 282h0M1043 294h0M1036 295h0M1075 283h0M1039 291h0M1045 293h0M1056 294h0M1055 277h0M1053 287h0M1068 284h0M1068 278h0M1079 272h0M1073 272h0M1047 288h0M1047 297h0M1070 273h0M1047 296h0M1074 263h0M1045 285h0M1036 293h0M1065 274h0M1055 286h0M1062 277h0M1048 279h0M1061 272h0M1054 281h0M1064 270h0M1030 296h0M1040 285h0M1060 272h0M1049 293h0M1048 281h0M1069 285h0M1059 286h0M1070 271h0M1057 292h0M1065 271h0M1075 271h0M1053 281h0M1079 261h0M1075 272h0M1071 286h0M1046 289h0M1051 279h0M1041 285h0M1049 284h0M1085 276h0M1052 280h0M1055 286h0"/><path stroke="#686868" d="M993 287h0M960 323h0M1134 425h0M984 277h0M1127 372h0M1123 475h0M1029 486h0M1105 411h0M967 311h0M1078 414h0M1082 437h0M1147 227h0M967 510h0M1132 376h0M960 507h0M970 345h0M1023 489h0M970 483h0M983 291h0M1037 264h0M1121 369h0M973 360h0M964 358h0M1138 343h0M1002 514h0M1116 379h0M1107 362h0M1135 259h0M1116 378h0M1095 400h0M1089 468h0M1130 322h0M1120 344h0M1001 505h0M1117 355h0M1072 507h0M1009 275h0M965 478h0M1114 407h0M1124 371h0M1137 408h0M1128 225h0M961 315h0M1147 406h0M953 435h0M1074 430h0M1113 395h0M1131 328h0M1120 295h0M1088 292h0M1111 366h0M1097 403h0M1100 234h0M1068 311h0M1100 386h0M1069 314h0M1018 274h0M1042 503h0M1052 453h0M1137 353h0M1144 270h0M970 311h0M1037 468h0M1072 469h0M972 349h0M1147 386h0M971 499h0M1036 487h0M956 387h0M974 335h0M1098 454h0M1045 450h0M975 338h0M1106 426h0M1086 242h0M1111 407h0M1113 346h0M957 487h0M1043 261h0M1130 231h0M970 304h0M983 475h0M1115 363h0M973 339h0M1144 286h0M1037 482h0M1161 387h0M1112 338h0M1129 258h0M1053 315h0M1046 508h0M1157 237h0M1027 263h0M1007 283h0M1121 434h0M1026 517h0M969 300h0M1055 456h0M1012 491h0M965 472h0M1115 334h0M1131 340h0M967 513h0M1064 314h0M1040 474h0M1095 428h0M1090 315h0M981 301h0M1038 264h0M1063 323h0M1169 300h0M1088 437h0M1112 225h0M1076 426h0M1133 438h0M1079 427h0M998 499h0M1085 423h0M1068 446h0M1121 379h0M1018 486h0M1048 463h0M966 518h0M966 369h0M988 291h0M1108 443h0M1009 473h0M1024 269h0M966 314h0M1126 254h0M1099 450h0M1037 262h0M1050 450h0M1030 270h0M1170 307h0M1129 386h0M1011 481h0M1072 306h0M1104 400h0M982 477h0M1074 432h0M1119 333h0M1001 491h0M1063 436h0M1032 461h0M956 389h0M954 417h0M1039 474h0M1091 449h0M1061 433h0M1008 503h0M1162 382h0M1144 219h0M1148 323h0M1119 345h0M1120 402h0M1106 282h0M1002 282h0M1138 253h0M1112 353h0M1129 372h0M1144 294h0M1048 494h0M958 487h0M1007 478h0M1036 471h0M1111 291h0M1016 516h0M1062 445h0M1106 401h0M1062 314h0M962 368h0M1043 481h0M1111 275h0M983 288h0M1101 427h0M1017 478h0M1051 463h0M1139 212h0M1151 366h0M1041 465h0M962 353h0M1032 478h0M988 488h0M1075 246h0M963 485h0M1017 465h0M1076 327h0M1100 383h0M1006 501h0M1063 439h0M1135 341h0M1081 502h0M995 478h0M1125 262h0M1054 314h0M1132 226h0M1075 301h0M1128 233h0M972 512h0M1089 424h0M1107 336h0M1129 338h0M1136 375h0M1098 497h0M967 342h0M1098 403h0M1107 378h0M972 504h0M1134 227h0M1073 302h0M1134 232h0M974 359h0M1094 423h0M983 488h0M1090 422h0M1129 226h0M962 303h0M1068 325h0M1056 315h0M1039 264h0M1077 304h0M1088 415h0M961 463h0M1119 341h0M1015 470h0M1001 281h0M1106 275h0M1175 227h0M1133 368h0M979 359h0M1126 366h0M1041 249h0M1093 432h0M1049 316h0M984 478h0M1109 336h0M993 281h0M1133 386h0M1070 314h0M1025 271h0M1099 234h0M1014 474h0M1101 321h0M961 312h0M998 277h0M1101 228h0M953 414h0M1125 221h0M994 487h0M1077 479h0M956 404h0M997 494h0M1002 478h0M1056 483h0M1091 443h0M1094 457h0M1019 482h0M1102 404h0M979 499h0M963 378h0M1131 223h0M1099 233h0M1130 245h0M1100 417h0M1136 231h0M1139 229h0M1086 239h0M1162 219h0M1084 414h0"/><path stroke="#989898" d="M1145 326h0M1120 313h0M1141 210h0M1017 502h0M1018 262h0M1142 285h0M1122 413h0M952 446h0M1157 253h0M1159 262h0M1163 344h0M1159 406h0M1153 277h0M1167 321h0M1103 318h0M1138 291h0M1141 320h0M1136 460h0M952 465h0M1149 476h0M1190 448h0M1040 251h0M1167 191h0M1061 494h0M1128 471h0M1141 345h0M1173 271h0M1104 223h0M1126 307h0M1129 453h0M1142 320h0M1134 202h0M1094 320h0M1170 285h0M1164 314h0M1093 494h0M1141 391h0M1134 385h0M1144 401h0M1039 246h0M1097 491h0M1148 370h0M1098 476h0M1137 403h0M1144 351h0M1148 250h0M1098 446h0M989 281h0M1119 443h0M1120 413h0M1043 249h0M1104 459h0M1134 259h0M1151 409h0M1131 411h0M1147 371h0M1114 441h0M1156 221h0M957 505h0M1189 233h0M1090 231h0M1143 249h0M1089 315h0M1114 195h0M1087 230h0M1096 312h0M1113 319h0"/><path stroke="#585858" d="M1050 318h0M1022 465h0M1079 434h0M1122 370h0M1129 260h0M1077 411h0M952 439h0M1016 475h0M1112 373h0M1067 438h0M960 400h0M1110 366h0M1134 386h0M1118 337h0M1117 274h0M1044 318h0M961 482h0M1055 460h0M1097 427h0M963 385h0M1040 266h0M1004 486h0M1101 335h0M1092 399h0M1114 350h0M1122 347h0M953 429h0M1130 256h0M1033 457h0M1130 245h0M999 490h0M960 516h0M1103 393h0M960 447h0M990 296h0M960 444h0M1105 331h0M1126 265h0M956 389h0M1003 472h0M992 284h0M970 486h0M1012 482h0M959 454h0M1126 340h0M1067 456h0M962 467h0M1008 465h0M1126 231h0M985 495h0M966 466h0M1059 324h0M962 332h0M1103 389h0M1026 512h0M1121 218h0M998 470h0M1051 477h0M980 304h0M1098 323h0M1016 480h0M1113 340h0M1065 307h0M1107 367h0M1137 226h0M961 315h0M1106 431h0M1001 497h0M1107 368h0M1097 393h0M978 509h0M991 487h0M1055 435h0M1107 282h0M1046 454h0M964 325h0M1007 286h0M1092 399h0M965 463h0M1057 443h0M1112 269h0M991 494h0M1110 340h0M1124 234h0M1029 499h0M984 342h0M986 473h0M1053 323h0M1048 446h0M1110 281h0M1020 276h0M1026 490h0M1111 330h0M1061 314h0M955 458h0M960 376h0M1090 228h0M1044 487h0M954 504h0M1029 270h0M1147 252h0M1135 332h0M1065 245h0M1009 495h0M1093 411h0M957 436h0M1078 328h0M1108 273h0M1111 326h0M1126 365h0M1156 247h0M969 459h0M955 483h0M1077 323h0M971 496h0M982 305h0M1061 432h0M972 320h0M1022 472h0M1115 364h0M985 334h0M981 474h0M1126 318h0M1008 474h0M1115 384h0M1075 327h0M1108 393h0M973 476h0M1010 475h0M986 352h0M974 333h0M1077 449h0M1115 388h0M1118 344h0M978 477h0M1100 390h0M1089 391h0M1109 373h0M1088 296h0M962 500h0M958 344h0M1096 399h0M1013 485h0M1113 357h0M1115 373h0M1091 287h0M1068 317h0M1079 416h0M1131 340h0M1083 243h0M1127 328h0M1023 468h0M1019 271h0M975 459h0M1046 326h0M1068 425h0M957 461h0M1034 261h0M972 459h0M1101 338h0M981 331h0M960 402h0M1115 383h0M1125 224h0M1116 398h0M1133 331h0M1102 224h0M953 462h0M1103 392h0M1127 217h0M1110 384h0M958 342h0M1109 371h0M981 303h0M1100 364h0M1144 231h0M1063 248h0M1078 416h0M972 484h0M957 370h0M1076 416h0M1072 318h0M1089 415h0M1088 390h0M999 479h0M1028 451h0M959 339h0M1095 318h0M1134 227h0M1107 408h0M1058 449h0M1098 339h0M1141 351h0M1044 322h0M975 468h0M1108 354h0M963 475h0M957 517h0M961 344h0M1009 478h0M975 349h0M1009 471h0M1102 396h0M1032 485h0M997 475h0M1098 334h0M1137 239h0M984 336h0M982 303h0M966 494h0M1100 380h0M1114 349h0M1139 335h0M959 447h0M1091 297h0M1111 358h0M992 343h0M1106 393h0M971 339h0M1108 344h0M1132 231h0M1084 430h0M1099 366h0M1024 455h0M958 433h0M1114 330h0M989 498h0M1084 431h0M968 371h0M957 394h0M1056 320h0M988 475h0M1101 348h0M1123 368h0M965 382h0M958 428h0M1096 358h0M1002 464h0M1129 240h0M1068 453h0M960 360h0M1017 498h0M979 494h0M962 321h0M1055 436h0M1080 298h0M1090 288h0M962 467h0M1107 377h0M974 501h0M1113 387h0M1110 338h0M1110 341h0M956 388h0M1048 458h0M1053 470h0M1107 352h0M972 496h0M994 293h0M1099 332h0M1109 371h0M1023 470h0M985 471h0M1072 236h0M999 335h0M1066 429h0M1081 404h0M1021 269h0M1091 336h0M1113 272h0M1117 274h0M1094 229h0M987 339h0M1106 274h0M1053 311h0M1106 366h0M1030 487h0M953 451h0M1093 411h0M1075 434h0M1101 332h0M957 457h0M1104 232h0M1053 327h0M961 400h0M1077 297h0M970 493h0M1118 261h0M1122 407h0M1122 380h0M1083 302h0M1033 269h0M1013 490h0M1092 432h0M1106 390h0M1083 441h0M975 460h0M1106 333h0M1044 485h0M1095 284h0M956 503h0M1112 334h0M1081 237h0M961 353h0M1016 479h0M991 485h0M1106 327h0M1050 316h0M1129 379h0M1008 492h0M1063 310h0M1099 366h0M1044 466h0M992 471h0M1045 318h0M1100 359h0M969 485h0M1075 300h0M1106 356h0M986 348h0M1034 450h0M1099 393h0M1036 478h0M957 404h0M1135 252h0M1146 325h0M1127 343h0M964 511h0M1121 363h0M1097 381h0M1059 319h0M1137 235h0M1130 245h0M1090 384h0M1026 461h0M962 461h0M970 466h0M1104 282h0M1017 278h0M1015 281h0M962 318h0M1046 447h0M1023 459h0M1111 424h0M1143 216h0M1126 230h0M1064 253h0M1008 285h0M977 299h0M1013 282h0M1040 261h0M972 367h0M1125 231h0M997 516h0M1121 410h0M1105 347h0M993 340h0M1057 433h0M970 356h0M1022 463h0M1100 361h0M1076 320h0M974 354h0M1120 379h0M1105 371h0"/><path stroke="#a8a8a8" d="M946 325h0M1117 308h0M969 290h0M1186 330h0M1102 465h0M1086 463h0M1112 207h0M947 462h0M1120 467h0M1177 465h0M1140 292h0M1033 251h0M1068 504h0M1155 356h0M1201 346h0M1108 512h0M1169 229h0M1108 498h0"/><path stroke="#787878" d="M964 502h0M1006 480h0M1127 376h0M1150 469h0M1096 410h0M1065 250h0M1128 285h0M1053 496h0M1151 329h0M1054 466h0M1043 256h0M1130 222h0M1103 405h0M1082 443h0M1023 513h0M970 514h0M1148 251h0M1149 219h0M962 360h0M1131 198h0M1109 276h0M1110 327h0M1146 251h0M1066 472h0M1098 404h0M1066 314h0M1059 244h0M1125 376h0M951 328h0M1060 317h0M1144 338h0M1113 327h0M1052 472h0M1008 503h0M1086 237h0M1139 327h0M1031 509h0M1103 298h0M966 358h0M967 357h0M1043 460h0M1138 209h0M1106 229h0M1063 451h0M1043 474h0M962 506h0M1044 464h0M1121 383h0M1169 301h0M1085 439h0M1101 286h0M1086 424h0M1062 449h0M1068 315h0M1019 478h0M1016 485h0M999 479h0M957 361h0M1045 478h0M1134 334h0M980 509h0M1155 204h0M1073 317h0M1159 374h0M1096 223h0M1112 222h0M1104 229h0M997 286h0M1129 409h0M1017 490h0M1039 462h0M1008 280h0M1121 293h0M974 519h0M1096 442h0M1121 315h0M1183 369h0M984 292h0M968 483h0M1126 350h0M968 478h0M1105 280h0M1099 456h0M1137 337h0M1168 265h0M1009 265h0M1138 235h0M1104 423h0M1108 401h0M959 363h0M967 349h0M1120 266h0M946 506h0M1004 275h0M1035 243h0M986 285h0M1164 248h0M1144 227h0M1043 466h0M1052 465h0M973 341h0M977 492h0M1121 332h0M980 503h0M952 418h0M1063 239h0M967 364h0M1116 463h0M1100 428h0M956 388h0M999 516h0M1139 240h0M1088 482h0M1096 497h0M989 493h0M1120 331h0M954 411h0M956 480h0M1035 257h0M1122 359h0M1119 424h0M1118 332h0M957 390h0M1070 441h0M1098 400h0M1148 327h0M1113 328h0M999 485h0M1122 340h0M1064 439h0M981 493h0M1106 283h0M994 481h0M967 342h0M1099 315h0M1096 467h0M960 328h0M1167 399h0M1065 457h0M1164 317h0M1139 448h0M1061 465h0M1072 320h0M957 370h0M1133 213h0M1125 359h0M1103 305h0M1145 406h0M1173 309h0M1141 337h0M956 415h0M1070 443h0M1000 278h0M964 480h0M996 511h0M1049 466h0M1138 286h0M981 489h0M1024 468h0M959 472h0M1027 482h0M960 333h0M1075 238h0M1061 248h0M956 313h0M1090 462h0M1020 496h0M1107 225h0M1095 449h0M1106 465h0M1106 485h0M1116 409h0M953 446h0M1022 264h0M1040 501h0M1148 376h0M1129 223h0M998 487h0M1024 485h0M1059 477h0M1102 296h0M963 353h0M990 480h0M1009 276h0M1206 294h0M1101 286h0M959 359h0M1103 294h0M1096 429h0M1129 341h0M1131 342h0M1064 447h0M1154 264h0M996 507h0M1088 418h0M1158 367h0M1122 321h0M953 430h0M962 334h0M962 493h0M1135 261h0M1080 310h0M1022 474h0M1011 491h0M1142 214h0M1036 482h0M1122 349h0M1102 401h0M961 347h0M1140 417h0M1153 299h0M1225 323h0M1083 452h0M1095 209h0M1131 349h0M1095 450h0M1123 336h0M1047 489h0M1040 479h0M1104 431h0"/><path stroke="#f0c000" d="M1056 396h0M1070 390h0M1045 422h0M1128 249h0M1068 376h0M1045 428h0M1029 348h0M1007 320h0M979 419h0M1105 241h0M1004 321h0M1096 278h0M980 379h0M1013 327h0M1093 281h0M997 454h0M1066 413h0M1023 286h0M1028 431h0M997 295h0M1079 367h0M1014 360h0M1012 325h0M965 404h0M1089 375h0M1043 311h0M1043 352h0M1052 398h0M1030 281h0M1077 374h0M984 373h0M974 393h0M1065 399h0M975 412h0M1105 359h0M986 324h0M1069 371h0M1049 327h0M1043 350h0M980 423h0M1034 332h0M1075 385h0M1127 239h0M1003 297h0M984 386h0M999 327h0M1070 378h0M969 422h0M1072 401h0M1006 434h0M987 442h0M989 377h0M1126 242h0M1000 468h0M1034 347h0M992 455h0M1016 342h0M1087 249h0M1087 249h0M989 360h0M1058 305h0M1013 350h0M976 407h0M1042 351h0M987 376h0M1083 369h0M1058 391h0M1060 405h0M984 335h0M1018 319h0M1017 283h0M1063 378h0M1018 325h0M979 449h0M1070 367h0M987 443h0M965 448h0M1023 327h0M1068 397h0M1023 341h0M1091 352h0M999 311h0M970 435h0M979 386h0M1070 337h0M1054 404h0M977 424h0M1103 240h0M1020 436h0M976 440h0M1063 380h0M1120 247h0M1012 447h0M1005 286h0M1081 376h0M1122 252h0M982 465h0M1002 438h0M1081 336h0M964 432h0M1034 422h0M1067 258h0M1052 310h0M987 438h0M1095 346h0M1045 445h0M983 428h0M1054 402h0M989 376h0M1101 381h0M1030 438h0M1068 364h0M984 346h0M1053 353h0M999 320h0M1115 244h0M1074 366h0M1072 343h0M1026 342h0M1071 398h0M1105 272h0M989 437h0M1070 419h0M1080 389h0M973 409h0M976 415h0M1021 453h0M998 453h0M994 434h0M999 354h0M1038 272h0M1075 340h0M1050 440h0M1002 351h0M996 328h0M981 437h0M987 430h0M1063 337h0M1065 404h0M1037 346h0M1059 366h0M1065 374h0M977 421h0M1004 357h0M1040 425h0M972 393h0M1014 290h0M1008 314h0M1116 332h0M1081 363h0M1006 298h0M1057 376h0M976 401h0M1085 374h0M1088 405h0M995 433h0M1040 345h0M1024 317h0M1050 361h0M1057 340h0M976 420h0M1074 396h0M1010 359h0M1048 407h0M985 429h0M990 439h0M991 314h0M1069 374h0M983 387h0M1086 356h0M965 419h0M1083 358h0M1001 361h0M1065 399h0M1059 391h0M1032 348h0M1048 358h0M982 452h0M970 424h0M1081 338h0M1066 427h0M1041 327h0M981 434h0M1082 389h0M1044 350h0M1069 294h0M1077 347h0M1087 381h0M1067 388h0M971 390h0M1012 451h0M983 329h0M1074 384h0M973 407h0M1052 359h0M1114 258h0M1073 349h0M1067 347h0M1055 302h0M976 435h0M1067 362h0M1057 400h0M1057 264h0M1046 360h0M1063 422h0M1025 354h0M974 441h0M971 431h0M1076 346h0M1075 255h0M1016 352h0M988 375h0M990 368h0M988 441h0M969 322h0"/><path stroke="#d86000" d="M1035 284h0M980 414h0M1079 258h0M992 393h0M1018 373h0M1070 261h0M1007 398h0M1070 260h0M1018 377h0M1043 305h0M999 391h0M1009 372h0M1050 399h0M1017 390h0M1033 419h0M993 420h0M1065 265h0M1046 300h0M1025 358h0M1095 251h0M1095 269h0M1008 419h0M1043 299h0M1093 272h0M982 412h0M1037 309h0M1029 417h0M1044 400h0M1022 293h0M1019 301h0M1016 296h0M1014 395h0M1016 383h0M1038 283h0M1017 425h0M994 408h0M1014 386h0M1016 417h0M1039 302h0M1007 429h0M1018 394h0M1020 300h0M1026 391h0M1011 374h0M1030 363h0M1030 416h0M1023 422h0M1035 284h0M1049 400h0M1101 247h0M1013 428h0M1015 394h0M1000 402h0M1007 379h0M1038 305h0M1031 421h0M1026 308h0M994 374h0M1062 262h0M1005 432h0M1016 392h0M996 380h0M990 404h0M1017 429h0M1012 413h0M1012 388h0M1039 302h0M1009 398h0M1013 401h0M1032 305h0M997 402h0M1015 302h0M1038 280h0M1026 393h0M1096 267h0"/><path stroke="#e8b800" d="M1051 394h0M1021 309h0M1028 361h0M1020 407h0M1004 405h0M997 419h0M1039 363h0M1029 310h0M1008 309h0M1033 369h0M1031 360h0M1019 291h0M1021 420h0M1014 298h0M986 388h0M1050 275h0M1025 366h0M1009 421h0M1005 425h0M1087 252h0M1027 359h0M1016 392h0M1049 275h0M983 400h0M1090 256h0M1011 412h0M1013 367h0M1014 424h0M994 376h0M1031 416h0M995 384h0M1041 301h0M998 395h0M1078 285h0M1038 308h0M995 379h0M1036 391h0M1033 361h0M994 419h0M995 373h0M1008 389h0M1032 308h0M1069 290h0M1065 265h0M1013 398h0M1001 377h0M1098 257h0M1031 382h0M1004 413h0M1001 377h0M1018 396h0M1023 418h0M1038 278h0M1000 393h0M1031 399h0M988 405h0M1011 416h0M1051 362h0M1019 303h0M1006 401h0M1017 293h0M1007 313h0M1027 301h0M1019 315h0M1019 407h0M1047 275h0M996 417h0M1005 302h0M987 402h0M1094 270h0M1048 395h0M1007 312h0M1003 393h0M1010 410h0M988 400h0M1000 403h0M991 391h0M1030 388h0M1098 265h0M1034 397h0M1095 252h0M1104 257h0M1099 268h0M1016 379h0M1004 408h0M1005 414h0M1104 256h0M1016 417h0M1113 251h0M1034 366h0M1051 373h0M991 401h0M981 401h0M991 385h0M1017 398h0M1033 367h0M990 385h0M1037 366h0M1051 271h0M987 406h0M1060 264h0M1000 423h0M1022 378h0M1014 406h0M1022 394h0M1026 305h0M1019 376h0M1098 254h0M1052 391h0M1099 261h0M1024 386h0M1008 394h0M1057 386h0M993 423h0M1043 372h0M984 406h0M1112 253h0M1008 372h0M1014 409h0M1040 369h0M1097 268h0M1002 399h0M1044 389h0M994 381h0M1098 249h0M1112 250h0M1000 414h0M1016 303h0M1013 385h0M989 425h0M983 413h0M1038 305h0M1044 377h0M1041 377h0M1091 256h0M986 384h0M1016 392h0M1041 306h0M1028 305h0M1032 365h0M1017 303h0M997 384h0M1103 256h0M1091 252h0M1004 377h0M1006 365h0M1030 392h0M1024 406h0M1046 388h0M1011 396h0M1015 416h0M1020 381h0M1093 269h0M1038 364h0M1042 274h0M1024 292h0M1004 414h0M1024 427h0M1048 383h0M985 413h0M1057 264h0M1020 399h0M995 390h0M1020 380h0M986 407h0M1006 430h0M1003 371h0M1048 371h0M1093 251h0M1006 395h0M1046 387h0M1028 402h0M991 410h0M1107 261h0M1055 383h0M1034 303h0M1028 395h0M1027 383h0M1007 387h0M1009 397h0M1028 298h0M1049 392h0M1027 369h0M1047 379h0M1023 375h0M995 403h0M1099 261h0M1006 377h0M995 376h0M1092 273h0M1031 417h0M1014 386h0M1021 292h0M1058 295h0M1049 373h0M1084 278h0M1008 390h0M1020 377h0M994 412h0M1044 403h0M1009 424h0M1022 379h0M1039 395h0M1105 258h0M1028 403h0M1000 393h0M1103 257h0M1024 307h0M991 401h0M1017 293h0M995 425h0M1024 408h0M1007 393h0M1098 266h0M1052 298h0M1058 296h0M1023 410h0M1079 255h0M1019 421h0M997 413h0M1045 399h0M1053 382h0M1041 411h0M1012 416h0M1004 376h0M1018 376h0M1051 274h0M1029 380h0M1103 265h0M989 380h0M1044 372h0M1107 246h0M998 384h0M1090 252h0M1065 294h0M1097 259h0M1088 281h0M1009 396h0M1015 376h0M998 403h0M1005 384h0M1009 382h0M1031 411h0M1034 381h0M1090 276h0M1023 387h0M1030 304h0M1037 301h0M1036 379h0M1107 255h0M1031 402h0M1019 366h0M1038 398h0M1038 305h0M1009 415h0M1023 423h0M1044 389h0M1018 413h0M1016 410h0M1013 373h0M994 375h0M1032 404h0M1054 379h0M1024 384h0M1025 388h0M1014 314h0M1041 386h0M1019 290h0M1035 393h0M1081 257h0M1007 391h0M1005 427h0M1031 386h0M983 417h0M992 417h0M1090 257h0M1041 406h0M1013 400h0M1024 308h0"/><path stroke="#f09018" d="M1036 297h0M1071 283h0M1056 281h0M1048 278h0M1041 284h0M1045 298h0M1069 275h0M1075 279h0M1081 268h0M1055 288h0M1042 292h0M1037 293h0M1053 274h0M1075 262h0M1050 292h0M1071 286h0M1059 280h0M1052 289h0M1094 265h0M1067 283h0M1039 286h0M1048 288h0M1053 279h0M1072 278h0M1061 278h0M1074 274h0M1059 285h0M1064 281h0M1067 272h0M1050 279h0M1054 287h0M1072 282h0M1062 290h0M1087 263h0M1042 283h0M1052 285h0M1034 299h0M1063 288h0M1055 289h0M1049 292h0M1078 277h0M1060 283h0M1054 293h0M1062 290h0M1043 298h0M1087 264h0M1067 288h0M1067 277h0M1036 299h0M1082 276h0M1051 286h0M1074 272h0M1062 291h0M1048 287h0M1058 279h0M1078 278h0M1081 262h0M1057 277h0M1041 287h0M1048 290h0M1076 274h0M1039 296h0M1051 279h0M1089 267h0M1084 264h0M1076 278h0M1041 287h0M1048 285h0M1082 277h0M1040 300h0M1055 278h0M1032 292h0"/><path stroke="#f0d060" d="M1088 442h0M1092 299h0M975 345h0M954 438h0M1138 427h0M1084 431h0M1017 488h0M1134 220h0"/><path stroke="#e06010" d="M1058 289h0M1078 279h0M1052 279h0M1096 261h0M1057 272h0M1085 267h0M1070 273h0M1030 298h0M1080 262h0M1051 277h0M1092 266h0M1045 289h0M1079 267h0M1089 259h0M1079 262h0M1089 267h0M1042 298h0M1081 274h0M1094 259h0M1071 284h0M1077 277h0M1046 288h0M1071 263h0M1078 261h0M1083 264h0M1061 279h0M1057 276h0M1046 285h0M1082 275h0M1064 287h0M1077 275h0M1070 276h0M1043 287h0M1085 263h0M1052 289h0M1087 274h0M1081 264h0M1048 291h0M1064 284h0M1060 282h0M1092 258h0M1075 268h0M1087 275h0M1053 290h0M1077 273h0M1051 291h0M1053 275h0M1089 270h0M1080 276h0M1039 293h0"/><path stroke="#f0b828" d="M1064 270h0M1093 258h0M1074 271h0M1079 273h0M1070 278h0M1050 281h0M1046 287h0M1046 291h0M1082 273h0M1061 277h0M1032 299h0M1071 276h0M1044 281h0M1072 286h0M1067 270h0M1087 270h0M1038 294h0M1065 289h0M1067 270h0M1056 286h0M1062 287h0M1073 271h0M1069 285h0M1088 265h0M1084 273h0M1090 259h0M1052 277h0M1074 267h0M1056 286h0M1081 270h0M1059 281h0M1061 281h0M1095 263h0M1091 265h0M1059 275h0M1075 277h0M1044 292h0M1053 276h0M1059 271h0M1053 291h0M1044 293h0M1034 297h0M1066 279h0M1086 267h0"/><path stroke="#f6e4a0" d="M1120 217h0M964 506h0M1114 421h0M1167 424h0M966 479h0M1088 238h0M966 313h0M1088 416h0M1004 495h0M1120 380h0M1136 238h0M1127 366h0M1121 358h0M1027 496h0M955 371h0M1150 227h0M1075 445h0M1078 429h0M1058 457h0M1079 427h0M1165 338h0M1084 225h0M1005 500h0M984 288h0M979 484h0M1109 328h0"/><path stroke="#f0c848" d="M1180 222h0M1122 367h0M1122 327h0M972 303h0M1146 216h0M1024 510h0M1067 499h0M976 504h0M1096 319h0M1197 310h0M973 297h0M1059 510h0M1073 456h0M1135 391h0M1063 320h0M967 504h0M1071 477h0M1003 479h0"/></g><g stroke-width="3.6" fill="none" filter="url(#bl)"><path d="M949 521.5H954" stroke="#f0b060"/><path d="M953 521.5H1085" stroke="#ee7085"/><path stroke="#f8e0a0" d="M1085.0 521.5h5.9M1090.9 521.5h7.2M1133.8 521.5h6.7M1145.7 521.5h7.4M1165.9 521.5h4.4"/><path stroke="#f8c090" d="M1099.4 521.5h7.6M1172.4 521.5h2.6"/><path stroke="#fce8b8" d="M1109.2 521.5h4.9M1124.2 521.5h7.9M1153.4 521.5h4.7"/><path stroke="#f8b8b0" d="M1116.2 521.5h6.3"/><path stroke="#d8c0a8" d="M1141.3 521.5h4.1"/><path stroke="#fcd870" d="M1160.9 521.5h3.3"/></g>
<path d="M813.6 525.2H824.6M818.6 497.1H824.6M818.6 480.6H824.6M818.6 468.9H824.6M818.6 459.9H824.6M818.6 452.5H824.6M818.6 446.2H824.6M818.6 440.8H824.6M818.6 436H824.6M813.6 431.8H824.6M818.6 403.6H824.6M818.6 387.2H824.6M818.6 375.5H824.6M818.6 366.4H824.6M818.6 359H824.6M818.6 352.8H824.6M818.6 347.4H824.6M818.6 342.6H824.6M813.6 338.3H824.6M818.6 310.2H824.6M818.6 293.7H824.6M818.6 282.1H824.6M818.6 273H824.6M818.6 265.6H824.6M818.6 259.4H824.6M818.6 253.9H824.6M818.6 249.2H824.6M813.6 244.9H824.6M818.6 216.8H824.6M818.6 200.3H824.6M818.6 188.6H824.6M818.6 179.6H824.6M818.6 172.2H824.6M818.6 165.9H824.6M818.6 160.5H824.6M818.6 155.7H824.6M813.6 151.4H824.6M818.6 123.3H824.6M818.6 106.9H824.6M818.6 95.2H824.6M818.6 86.1H824.6M818.6 78.7H824.6M818.6 72.5H824.6M818.6 67.1H824.6M818.6 62.3H824.6M813.6 58H824.6M826.4 525.3V537.3M861.5 525.3V531.3M882.1 525.3V531.3M896.6 525.3V531.3M907.9 525.3V531.3M917.2 525.3V531.3M925 525.3V531.3M931.7 525.3V531.3M937.7 525.3V531.3M943 525.3V537.3M978.2 525.3V531.3M998.7 525.3V531.3M1013.3 525.3V531.3M1024.6 525.3V531.3M1033.8 525.3V531.3M1041.6 525.3V531.3M1048.4 525.3V531.3M1054.4 525.3V531.3M1059.7 525.3V537.3M1094.8 525.3V531.3M1115.4 525.3V531.3M1129.9 525.3V531.3M1141.2 525.3V531.3M1150.5 525.3V531.3M1158.3 525.3V531.3M1165 525.3V531.3M1171 525.3V531.3M1176.3 525.3V537.3M1211.5 525.3V531.3M1232 525.3V531.3M1246.6 525.3V531.3M1257.9 525.3V531.3M1267.1 525.3V531.3M1274.9 525.3V531.3M1281.7 525.3V531.3M1287.7 525.3V531.3M1293 525.3V537.3" stroke="#a3a3a3" stroke-width="2" fill="none"/>
<path d="M815.6 58H1294.5" stroke="#a8a8a8" stroke-width="2" fill="none"/>
<path d="M1294.5 58V525.3" stroke="#c8c8c8" stroke-width="1.6" fill="none"/>
<path d="M824.6 58V525.3H1294.5" stroke="#a3a3a3" stroke-width="2.4" fill="none"/>
<rect x="827" y="105" width="463" height="212.5" rx="1.5" fill="none" stroke="#ff2424" stroke-width="2.2"/>
<text x="828.6" y="96.3" font-family='"Liberation Sans", sans-serif' font-size="21.5" fill="#ff2424" stroke="#ff2424" stroke-width="0.8" textLength="131.5" lengthAdjust="spacing">Dead: 29.2%</text>
<text x="1121.9" y="37.7" font-family='"Liberation Serif", serif' font-weight="bold" font-size="42.5" fill="#000" textLength="175.8" lengthAdjust="spacingAndGlyphs">WS4 48h</text>
<text x="696.7" y="38.8" font-family='"Liberation Serif", serif' font-weight="bold" font-size="41" fill="#000" textLength="53.5" lengthAdjust="spacingAndGlyphs">(b)</text>
<text x="773.1" y="61" font-family='"Liberation Serif", serif' font-size="26" fill="#000">10<tspan dx="0.4" dy="-11.8" font-size="16.2">6</tspan></text>
<text x="773.4" y="144.8" font-family='"Liberation Serif", serif' font-size="26" fill="#000">10<tspan dx="0.4" dy="-11.8" font-size="16.2">5</tspan></text>
<text x="773.4" y="239.7" font-family='"Liberation Serif", serif' font-size="26" fill="#000">10<tspan dx="0.4" dy="-11.8" font-size="16.2">4</tspan></text>
<text x="771.3" y="336.7" font-family='"Liberation Serif", serif' font-size="26" fill="#000">10<tspan dx="0.4" dy="-11.8" font-size="16.2">3</tspan></text>
<text x="772.6" y="432" font-family='"Liberation Serif", serif' font-size="26" fill="#000">10<tspan dx="0.4" dy="-11.8" font-size="16.2">2</tspan></text>
<text x="774.4" y="529.2" font-family='"Liberation Serif", serif' font-size="26" fill="#000">10<tspan dx="0.4" dy="-11.8" font-size="16.2">1</tspan></text>
<text x="804.1" y="563.2" font-family='"Liberation Serif", serif' font-size="26" fill="#000">10<tspan dx="0.4" dy="-11.8" font-size="16.2">2</tspan></text>
<text x="921.4" y="562.5" font-family='"Liberation Serif", serif' font-size="26" fill="#000">10<tspan dx="0.4" dy="-11.8" font-size="16.2">3</tspan></text>
<text x="1040.4" y="565" font-family='"Liberation Serif", serif' font-size="26" fill="#000">10<tspan dx="0.4" dy="-11.8" font-size="16.2">4</tspan></text>
<text x="1151.4" y="564.3" font-family='"Liberation Serif", serif' font-size="26" fill="#000">10<tspan dx="0.4" dy="-11.8" font-size="16.2">5</tspan></text>
<text x="1269.8" y="564.3" font-family='"Liberation Serif", serif' font-size="26" fill="#000">10<tspan dx="0.4" dy="-11.8" font-size="16.2">6</tspan></text>
<text transform="translate(752.2 305.4) rotate(-90)" font-family='"Liberation Sans", sans-serif' font-size="30.5" fill="#1010ff" textLength="29.6" lengthAdjust="spacingAndGlyphs">P<tspan font-family='&quot;Liberation Mono&quot;, monospace' font-size="31">I</tspan></text>
<path d="M756.5 277.5V305.5" stroke="#1010ff" stroke-width="2.2"/>
<text x="991" y="600.9" font-family='"Liberation Sans", sans-serif' font-size="29" fill="#1010ff" textLength="77.8" lengthAdjust="spacingAndGlyphs">SSC-A</text>
<path d="M992.4 604.6H1070.6" stroke="#1010ff" stroke-width="2.4"/>
<g filter="url(#bl)" stroke-linecap="round" stroke-width="2.6" fill="none"><path stroke="#888888" d="M457 1013h0M441 1101h0M442 879h0M420 1035h0M458 835h0M398 1060h0M338 911h0M301 1108h0M459 860h0M382 1083h0M458 820h0M422 1062h0M374 1083h0M417 1097h0M364 885h0M272 1089h0M463 840h0M421 1074h0M351 1112h0M462 1018h0M418 1052h0M402 1075h0M346 895h0M414 1096h0M261 1021h0M372 1094h0M462 955h0M379 1082h0M467 938h0M358 1102h0M403 1060h0M337 1111h0M439 879h0M300 1085h0M437 1016h0M265 1093h0M494 855h0M459 1060h0M266 1110h0M287 1088h0M277 1097h0M479 951h0M358 895h0M420 1083h0M370 1093h0M370 1108h0M492 940h0M279 1101h0M473 995h0M271 921h0M372 1073h0M347 1101h0M350 1100h0M457 969h0M437 874h0M419 1084h0M449 1004h0M328 1103h0M458 843h0M458 968h0M373 846h0M467 988h0M413 1074h0M314 1090h0M379 1101h0M459 911h0M420 838h0M432 1018h0M482 943h0M488 974h0M393 1102h0M424 1048h0M292 917h0M478 845h0M416 1050h0M445 932h0M456 951h0M406 1051h0M463 857h0M462 1023h0M456 918h0M384 1071h0M435 1048h0M457 1075h0M465 953h0M394 1085h0M462 916h0M457 836h0M472 1008h0M458 1009h0M384 1096h0M301 1103h0M389 1065h0M451 1066h0M405 1113h0M291 1101h0M323 1110h0M266 959h0M466 954h0M500 976h0M461 939h0M293 1110h0M464 995h0M437 823h0M397 1107h0M408 1068h0M455 1005h0M439 880h0M322 1091h0M337 906h0M438 1029h0M359 1089h0M358 1098h0M413 1102h0M484 1045h0M288 1091h0M289 916h0M401 1080h0M439 883h0M458 946h0M389 1096h0M443 915h0M394 1062h0M485 1059h0M315 1101h0M356 1095h0M372 1080h0M420 1060h0M269 943h0M426 1065h0M426 911h0M426 1048h0M461 841h0M470 958h0M454 963h0M491 970h0M378 1087h0M264 955h0M486 975h0M263 1033h0M458 967h0M468 1012h0M456 872h0M396 1077h0M462 945h0M394 856h0M319 1110h0M348 1111h0M500 897h0M439 824h0M486 860h0M320 1099h0M425 1026h0M482 804h0M397 1112h0M487 1032h0M472 1036h0M443 1014h0"/><path stroke="#f0a000" d="M336 966h0M371 968h0M344 967h0M343 979h0M361 958h0M344 983h0M304 998h0M387 951h0M320 974h0M344 969h0M355 946h0M328 994h0M346 947h0M359 980h0M349 991h0M304 986h0M394 964h0M343 1017h0M339 967h0M318 958h0M315 987h0M317 981h0M345 1019h0M369 981h0M355 954h0M352 1020h0M356 982h0M374 944h0M327 998h0M312 1015h0M318 955h0M352 992h0M348 984h0M322 981h0M369 999h0M311 961h0M357 965h0M298 1004h0M332 962h0M328 1014h0M348 948h0M349 1005h0M300 979h0M334 961h0M305 985h0M362 949h0M359 998h0M363 960h0M324 958h0M387 950h0M386 948h0M350 954h0M346 981h0M340 958h0M335 967h0M356 990h0M309 970h0M348 983h0M355 998h0M350 999h0M372 942h0M352 944h0M351 943h0M311 1002h0M371 977h0M319 969h0M345 968h0M365 967h0M333 1004h0M328 972h0M393 958h0M335 963h0M343 980h0M378 998h0M337 959h0M336 968h0M320 955h0M378 978h0M325 958h0M340 936h0M363 961h0M368 998h0M354 1014h0M378 962h0M326 978h0M341 962h0M357 985h0M349 963h0M318 983h0M299 969h0M342 964h0M361 984h0M360 951h0M372 973h0M322 1002h0M339 973h0M314 965h0M353 982h0M344 946h0M335 1012h0M325 982h0M377 957h0M343 982h0M393 959h0M335 979h0M339 949h0M391 963h0M357 1006h0M327 983h0M334 947h0M346 981h0M353 1000h0M311 1008h0M374 949h0M323 954h0M333 992h0M339 989h0M356 976h0M322 984h0M377 982h0M312 1018h0M312 997h0M375 989h0M343 1019h0M325 984h0M385 949h0M369 967h0M372 963h0M325 1012h0M328 990h0M308 951h0M328 947h0M352 1012h0M361 938h0M294 977h0M326 979h0M385 964h0M376 953h0M334 953h0M321 973h0M325 979h0M314 990h0M340 1002h0M361 991h0M393 976h0M350 965h0M316 1021h0M299 972h0M326 980h0M360 987h0M329 987h0M338 1008h0M313 971h0M354 950h0M329 976h0M339 1016h0M370 970h0M324 979h0M370 1005h0M344 986h0M372 983h0M378 989h0M349 943h0M329 969h0M346 944h0M375 943h0M302 991h0M341 984h0M315 974h0M326 1023h0M298 972h0M331 991h0M381 979h0M373 989h0M344 960h0M333 955h0M350 969h0M363 943h0M356 966h0M318 963h0M352 973h0M376 977h0M349 1020h0M335 981h0M334 995h0M294 1001h0M299 992h0M341 953h0M348 958h0M367 974h0M345 1001h0M347 987h0M310 1002h0M360 961h0M337 1004h0M321 972h0M342 989h0M299 973h0M339 946h0M325 1001h0M295 991h0M321 980h0M337 987h0M337 957h0M337 970h0M358 951h0M379 941h0M314 998h0M383 983h0M315 1004h0M355 981h0M332 989h0M368 942h0M308 972h0M382 956h0M310 965h0M317 966h0M304 986h0M354 941h0M353 980h0M383 948h0M353 970h0M323 995h0M310 971h0M334 957h0M354 950h0M306 981h0M355 1007h0M378 963h0M303 1002h0M392 963h0M357 1007h0M365 963h0M378 989h0M339 996h0M350 989h0M346 939h0M349 1012h0M366 990h0M360 981h0M339 979h0M355 987h0M344 986h0M307 972h0M381 979h0M327 1001h0M337 963h0M371 994h0"/><path stroke="#080808" d="M352 984h0M315 994h0M302 977h0M299 976h0M384 973h0M304 1030h0M375 1000h0M308 986h0M398 934h0M356 976h0M312 941h0M291 982h0M315 1029h0M375 1008h0M366 1028h0M333 1018h0M364 933h0M328 991h0M291 1010h0M364 955h0M366 1018h0M323 1024h0M373 1027h0M389 945h0M350 1017h0M399 950h0M289 965h0M364 959h0M306 1013h0M325 992h0M364 945h0M320 1021h0M340 1022h0M318 1007h0M355 978h0M387 997h0M348 939h0M375 1011h0M406 975h0M310 962h0M307 1031h0M342 996h0M395 961h0M361 991h0M331 947h0M318 1046h0M375 955h0M324 1003h0M369 963h0M285 1016h0M360 1045h0M359 1018h0M296 955h0M285 979h0M375 930h0M372 983h0M363 1019h0M317 940h0M384 955h0M300 1019h0M282 990h0M325 1008h0M395 984h0M345 951h0M363 975h0M396 957h0M419 959h0M323 1009h0M301 986h0M297 969h0M339 1032h0M379 984h0M348 920h0M362 1028h0M410 955h0M323 958h0M389 949h0M338 997h0M367 982h0M399 962h0M345 1027h0M314 971h0M391 988h0M373 989h0M304 955h0M334 926h0M318 1044h0M348 998h0M283 1008h0M317 1011h0M342 1033h0M343 950h0M301 973h0M291 981h0M380 933h0M381 1008h0M299 1001h0M301 1000h0M319 961h0M306 966h0M399 972h0M351 999h0M342 1036h0M357 973h0M346 948h0M314 951h0M365 932h0M330 944h0M398 964h0M291 988h0M326 1022h0M400 1002h0M320 991h0M304 985h0M352 1035h0M387 979h0M288 1027h0M353 969h0M372 939h0M289 984h0M329 951h0M357 1033h0M352 960h0M332 982h0M350 933h0M355 952h0M319 1016h0M329 1018h0M317 982h0M291 1028h0M291 979h0M386 930h0M335 1014h0M394 996h0M336 962h0M342 930h0M364 1037h0M319 983h0M351 990h0M322 1044h0M331 1034h0M397 1007h0M386 949h0M300 954h0M316 983h0M280 987h0M364 937h0M334 1004h0M334 992h0M402 976h0M316 944h0M295 1013h0M368 926h0M366 1002h0M352 975h0M324 977h0M398 955h0M363 955h0M343 1028h0M386 925h0M385 943h0M336 971h0M329 972h0M299 1019h0M417 948h0M375 956h0M329 1002h0M314 958h0M413 961h0M334 1026h0M347 968h0M294 1026h0M323 934h0M305 951h0M331 977h0M337 1051h0M391 947h0M355 1008h0M355 931h0M388 1002h0M305 1027h0M380 932h0M346 935h0M333 1017h0M335 988h0M312 943h0M334 933h0M310 1029h0M352 973h0M325 1006h0M349 1013h0M407 963h0M325 959h0M418 973h0M384 929h0M311 959h0M345 983h0M404 963h0M302 998h0M273 999h0M328 1013h0M319 962h0M287 1000h0M386 984h0M289 1020h0M311 1034h0M385 933h0M307 1005h0M381 910h0M375 935h0M318 957h0M305 950h0M344 952h0M346 1036h0M341 937h0M406 888h0M343 995h0M298 967h0M323 1024h0M303 1003h0M382 994h0M417 955h0M343 951h0M350 1028h0M291 1027h0M375 1013h0M320 990h0M356 1016h0M374 965h0M341 1047h0M366 928h0M275 982h0M323 1011h0M308 972h0M335 944h0M407 950h0M285 972h0M376 954h0M388 954h0M352 966h0M391 996h0M329 996h0M408 992h0M402 950h0M355 981h0M364 976h0M384 1002h0M389 991h0M322 1049h0M331 991h0M316 1031h0M283 961h0M306 971h0M397 972h0M292 985h0M306 1020h0M343 975h0M394 980h0M406 962h0M307 1027h0M366 1003h0M328 977h0M334 1024h0M381 958h0M412 963h0M387 1017h0M383 950h0M299 999h0M285 1011h0M395 945h0M357 1004h0M313 982h0M326 980h0M343 950h0M344 1025h0M325 950h0M376 920h0M293 1012h0M350 998h0M392 926h0M342 952h0M313 1013h0M331 1043h0M297 1021h0M310 1013h0M345 1018h0M397 972h0M350 1002h0M287 969h0M294 967h0M336 1029h0M286 977h0M342 1045h0M289 998h0M381 995h0M360 988h0M350 947h0M277 1003h0M347 1009h0M394 953h0M350 1041h0M322 933h0M362 930h0M367 1017h0M341 978h0M320 992h0M281 994h0M365 981h0M374 997h0M325 948h0M295 999h0M365 934h0M325 1005h0M301 1004h0M285 1013h0M284 999h0M320 1016h0M323 997h0M322 998h0M318 960h0M362 997h0M302 990h0M337 1033h0M314 1009h0M293 986h0M382 930h0M319 1018h0M376 1002h0M352 989h0M385 953h0M310 944h0M377 962h0M406 956h0M342 1007h0M335 1035h0M332 953h0M325 971h0M318 1027h0M351 1008h0M314 1027h0M287 997h0M388 956h0M397 965h0M292 990h0M287 971h0M354 1027h0M310 976h0M394 986h0M361 947h0M293 955h0M356 960h0M367 1001h0M371 1005h0M355 1026h0M293 991h0M343 1038h0M345 964h0M416 952h0M325 964h0M333 998h0M387 977h0M307 1016h0M311 1013h0M274 995h0M323 1042h0M339 985h0M375 982h0M358 955h0M328 933h0M397 993h0M355 964h0M345 1009h0M358 944h0M325 1004h0M399 995h0M276 980h0M302 993h0M397 986h0M342 965h0M366 1007h0M345 1043h0M340 1032h0M313 1013h0M349 1007h0M378 959h0M360 965h0M282 999h0M322 979h0M392 950h0M321 1000h0M344 988h0M366 948h0M288 968h0M348 1006h0M388 948h0M352 971h0M415 878h0M348 948h0M299 958h0M412 969h0M345 977h0M328 978h0M362 1008h0M376 1008h0M349 948h0M346 947h0M302 1023h0M324 1006h0M396 999h0M390 977h0M307 983h0M370 946h0M370 943h0M355 1003h0M323 1009h0M406 994h0M353 942h0M352 1022h0M400 1003h0M338 1010h0M317 997h0M281 982h0M362 946h0M309 983h0M311 970h0M292 1015h0M297 996h0M308 988h0M326 969h0M291 954h0M286 975h0M290 970h0M296 1019h0M316 988h0M281 968h0M344 1009h0M320 941h0M362 966h0M342 945h0M293 971h0M399 972h0M401 956h0M387 970h0M345 1014h0M309 1034h0M329 992h0M393 969h0M324 938h0M374 999h0M339 941h0M395 978h0M366 963h0M401 1000h0M349 943h0M357 923h0M358 1026h0M328 1035h0M319 1030h0M345 1038h0M349 943h0M352 981h0M308 950h0M349 1004h0M295 989h0M399 980h0M322 1007h0M397 1004h0M322 954h0M303 989h0M360 1006h0M370 935h0M309 1011h0M404 986h0M316 1017h0M279 977h0M312 954h0M313 1003h0M339 928h0M318 967h0M339 967h0M410 1000h0M360 980h0M321 1030h0M386 1023h0M317 970h0M332 987h0M314 990h0M328 981h0M311 1009h0M322 970h0M356 930h0M368 949h0M339 1024h0M341 966h0M373 986h0M366 961h0M368 949h0M323 951h0M346 1053h0M303 971h0M322 986h0M344 997h0M347 929h0M373 1016h0M361 999h0M376 1009h0M368 1018h0M347 964h0M355 1010h0M376 971h0M399 952h0M345 936h0M372 1010h0M376 965h0M342 1027h0M328 1044h0M331 1013h0M305 1027h0M334 969h0M390 969h0M341 956h0M284 986h0M354 965h0M389 953h0M352 983h0M320 1011h0M288 1015h0M409 942h0M405 966h0M373 956h0M367 920h0M285 1002h0M301 1008h0M323 988h0M375 1001h0M297 969h0M293 1000h0M295 1002h0M292 949h0M337 931h0M395 957h0M366 941h0M326 1030h0M350 976h0M298 1032h0M327 996h0M338 965h0M375 928h0M311 1007h0M288 963h0M313 944h0M318 972h0M348 928h0M365 940h0M301 992h0M374 992h0M343 935h0M407 968h0M398 980h0M345 971h0M297 1027h0M374 989h0M362 1023h0M341 949h0M361 1030h0M320 956h0M335 934h0M339 1037h0M347 982h0M332 970h0M387 939h0M328 976h0M310 956h0M319 963h0M387 1001h0M298 988h0M381 972h0M315 995h0M334 1039h0M309 991h0M379 1000h0M391 1011h0M312 999h0M331 978h0M318 964h0M391 932h0M373 969h0M289 1017h0M346 984h0M336 945h0M349 965h0M314 992h0M397 984h0M347 1022h0M354 932h0M356 932h0M371 987h0M387 997h0M377 932h0M359 941h0M332 997h0M342 1017h0M397 982h0M354 964h0M373 963h0M316 1045h0M348 958h0M329 1037h0M343 957h0M329 948h0M349 946h0M283 986h0M322 1019h0M373 946h0M377 1023h0M382 952h0M375 996h0M404 979h0M343 998h0M352 978h0M337 930h0M319 965h0M321 1026h0M353 929h0M292 976h0M312 944h0M317 938h0M349 1006h0M384 978h0M391 911h0M317 1005h0M324 1030h0M288 1018h0M339 985h0M407 959h0M289 978h0M329 1034h0M344 946h0M303 964h0M301 982h0M380 1013h0M360 979h0M327 1026h0M315 985h0M380 970h0M327 964h0M321 950h0M402 887h0M380 1019h0M348 1043h0M362 957h0M325 970h0M331 981h0M283 1029h0M329 934h0M339 937h0M295 991h0M382 1002h0M393 953h0M402 959h0M407 971h0M346 1020h0M341 927h0M313 1015h0M321 994h0M299 996h0M325 1024h0M323 989h0M403 994h0M287 1005h0M366 1033h0M354 971h0M301 1006h0M349 1011h0M371 981h0M277 976h0M383 937h0M348 943h0M358 1036h0M351 1003h0M330 933h0M406 975h0M359 1031h0M318 1042h0M303 989h0M316 961h0M319 949h0M298 989h0M380 985h0M295 974h0M361 987h0M406 975h0M404 884h0M299 949h0M322 1031h0M358 998h0M352 976h0M374 926h0M368 968h0M310 974h0M338 970h0M381 945h0M361 989h0M377 1017h0M305 1017h0M302 984h0M322 952h0M376 928h0M289 991h0M353 990h0M399 981h0M345 993h0M355 968h0M386 1004h0M401 939h0M357 950h0M355 991h0M348 984h0M282 1002h0M393 952h0M307 956h0M351 1026h0M332 951h0M369 978h0M306 975h0M342 1029h0M364 942h0M335 1030h0M364 1024h0M399 942h0M324 970h0M288 960h0M411 995h0M318 1040h0M334 1013h0M340 983h0M297 969h0M324 1035h0M349 1019h0M330 933h0M402 980h0M312 1021h0M346 989h0M293 984h0M314 995h0M341 1003h0M305 954h0M340 933h0M297 970h0M330 988h0M312 999h0M305 1000h0M379 936h0M295 971h0M281 994h0M365 958h0M348 963h0M382 1005h0M386 951h0M302 1012h0M359 961h0M307 990h0M284 980h0M315 1040h0M289 975h0M332 1020h0M321 957h0M310 991h0M287 982h0M404 966h0M318 940h0M362 962h0M383 975h0M323 972h0M369 1024h0M317 972h0M370 918h0M416 982h0M381 972h0M359 1026h0M384 941h0M365 989h0M361 963h0M377 977h0M390 986h0M351 967h0M392 992h0M377 995h0M333 953h0M376 975h0M399 970h0M390 980h0M284 987h0M338 1040h0M292 996h0M363 964h0M367 942h0M358 923h0M385 981h0M412 959h0M332 1007h0M394 985h0M317 943h0M382 907h0M322 996h0M383 1006h0M388 986h0M320 1025h0M382 966h0M346 1007h0M357 1000h0M375 913h0M312 943h0M335 974h0M317 1015h0M312 950h0M301 991h0M384 993h0M355 955h0M309 972h0M408 966h0M402 994h0M314 961h0M300 948h0M348 1035h0M305 1009h0M349 945h0M399 969h0M343 934h0M320 1027h0M330 952h0M321 970h0M333 963h0M329 935h0M344 1043h0M324 1022h0M408 970h0M373 999h0M390 969h0M352 979h0M391 942h0M384 939h0M338 958h0M354 992h0M310 1018h0M361 954h0M319 946h0M309 984h0M333 1018h0M284 997h0M307 1020h0M315 1046h0M375 917h0M364 1020h0M309 991h0M339 1002h0M326 936h0M392 966h0M307 941h0M362 1024h0M284 995h0M322 1003h0M332 1014h0M308 1035h0M355 963h0M351 990h0M363 996h0M379 971h0M354 958h0M367 953h0M413 989h0M289 995h0M352 931h0M348 1028h0M304 993h0M359 931h0M364 1005h0M293 1003h0M312 978h0M337 940h0M385 990h0M301 998h0M311 944h0M378 1008h0M374 963h0M332 997h0M341 978h0M381 993h0M372 932h0M396 959h0M384 908h0M329 1040h0M384 926h0M383 993h0M332 932h0M381 925h0M335 946h0M331 985h0M397 1006h0M382 982h0M358 999h0M393 992h0M369 1019h0M300 972h0M297 991h0M314 1023h0M379 980h0M310 950h0M354 968h0M322 1043h0M350 923h0M386 983h0M333 1008h0M331 954h0M342 1013h0M373 931h0M401 945h0M401 945h0M332 1008h0M351 981h0M319 1031h0M375 939h0M376 979h0M341 1034h0M389 945h0M385 970h0M334 984h0M333 971h0M403 977h0M354 979h0M311 972h0M330 1017h0M350 990h0M358 997h0M328 1016h0M402 883h0M291 1021h0M370 931h0M355 976h0M334 989h0M398 971h0M344 1011h0M302 1019h0M366 957h0M295 967h0M387 988h0M350 989h0M401 982h0M362 969h0M334 932h0M304 1034h0M336 940h0M388 991h0M316 971h0M323 1040h0M310 966h0M339 999h0M374 961h0M317 956h0M372 940h0M397 957h0M324 992h0M325 991h0M332 976h0M345 983h0M305 951h0M312 948h0M414 980h0M347 982h0M307 980h0M348 955h0M373 1013h0M300 953h0M322 1023h0M412 982h0M312 947h0M335 937h0M389 978h0M370 987h0M390 943h0M328 976h0M291 985h0M319 988h0M297 1010h0M384 952h0M291 1008h0M334 966h0M344 987h0M325 1007h0M343 943h0M396 962h0M386 1008h0M291 1020h0M369 952h0M325 977h0M342 945h0M391 989h0M387 922h0M360 933h0M362 945h0M293 1002h0M338 1001h0M407 973h0M370 933h0M350 993h0M378 921h0M333 964h0M400 999h0M392 954h0M327 1020h0M373 942h0M387 917h0M309 964h0M370 927h0M395 979h0M306 972h0M391 994h0M375 973h0M365 1034h0M334 925h0M310 992h0M316 998h0M321 938h0M351 934h0M334 960h0M383 1017h0M281 993h0M372 1019h0M326 1014h0M377 948h0M341 1003h0M412 988h0M294 959h0M314 1024h0M314 978h0M302 1016h0M392 984h0M365 1033h0M408 980h0M344 970h0M344 987h0M341 1026h0M296 1033h0M283 992h0M332 988h0M327 997h0M367 992h0M285 980h0M276 1002h0M286 1021h0M416 951h0M309 1016h0M301 968h0M306 999h0M318 1022h0M393 983h0M352 938h0M350 951h0M384 962h0M302 1028h0M319 986h0M349 1025h0M354 970h0M382 942h0M303 985h0M381 941h0M352 964h0M293 974h0M380 998h0M370 984h0M347 1036h0M403 986h0M361 937h0M344 1014h0M364 958h0M355 973h0M313 1020h0M374 960h0M326 1013h0M317 1030h0M358 940h0M347 1007h0M339 1024h0M359 968h0M360 1010h0M379 939h0M373 1004h0M370 942h0M321 1031h0M307 982h0M395 975h0M386 952h0M344 936h0M392 1003h0M379 941h0M374 1031h0M397 881h0M378 985h0M394 973h0M384 974h0M349 1041h0M301 1035h0M303 967h0M388 1001h0M296 966h0M298 1003h0M400 988h0M297 996h0M317 974h0M392 970h0M368 915h0M353 1002h0M306 950h0M312 1043h0M396 1004h0M306 1017h0M354 1024h0M384 985h0M303 1037h0M343 952h0M337 1038h0M330 925h0M382 920h0M336 985h0M285 980h0M373 951h0M398 950h0M319 973h0M364 938h0M356 950h0M345 1006h0M359 953h0M381 981h0M311 982h0M388 1001h0M330 1035h0M397 970h0M353 1010h0M352 939h0M404 958h0M344 987h0M364 975h0M357 927h0M388 943h0M372 983h0M388 906h0M380 960h0M396 972h0M351 1031h0M330 953h0M385 912h0M390 931h0M340 954h0M323 1040h0M359 951h0M325 964h0M374 1000h0M323 936h0M335 953h0M338 1030h0M408 976h0M383 906h0M306 993h0M385 960h0M307 1028h0M311 994h0M410 963h0M309 998h0M344 970h0M368 980h0M334 1006h0M376 994h0M350 974h0M297 1015h0M361 1029h0M281 1007h0M363 965h0M402 944h0M387 953h0M318 1033h0M341 972h0M334 946h0M322 1016h0M414 872h0M277 991h0M380 999h0M326 1004h0M350 958h0M337 994h0M379 1009h0M309 1032h0M294 1020h0M354 969h0M380 981h0M343 1010h0M400 983h0M406 973h0M315 957h0M351 986h0M345 990h0M309 956h0M348 955h0M359 933h0M369 930h0M333 1040h0M365 1029h0M346 998h0M342 928h0M369 992h0M304 977h0M339 1042h0M322 962h0M311 1008h0M360 1010h0M367 916h0M353 1023h0M349 928h0M419 956h0M312 1007h0M316 1017h0M360 989h0M342 1014h0"/><path stroke="#e88000" d="M308 958h0M344 983h0M343 956h0M323 1012h0M343 991h0M322 996h0M304 966h0M353 981h0M332 966h0M314 965h0M319 1013h0M334 1008h0M359 950h0M378 954h0M346 983h0M360 953h0M346 993h0M338 975h0M364 974h0M327 976h0M353 1003h0M321 984h0M383 983h0M297 985h0M316 995h0M343 1022h0M336 958h0M383 975h0M356 1015h0M363 957h0M301 964h0M315 952h0M348 957h0M323 997h0M312 982h0M313 973h0M333 998h0M330 965h0M387 975h0M316 977h0M355 981h0M327 1005h0M331 1000h0M354 993h0M306 1003h0M354 979h0M333 950h0M346 953h0M381 984h0M314 998h0M327 983h0M349 946h0M316 982h0M356 980h0M344 989h0M358 945h0M297 1007h0M352 965h0M354 987h0M382 967h0M325 969h0M341 1004h0M303 982h0M328 942h0M342 952h0M299 990h0M335 1020h0M309 954h0M312 999h0M375 959h0M327 1017h0M380 967h0M325 943h0M310 1015h0M331 992h0M301 1009h0M331 998h0M354 947h0M355 973h0M341 976h0M361 965h0M340 963h0M313 982h0M331 1009h0M351 1014h0M307 960h0M337 975h0M336 984h0M319 960h0M360 971h0M340 952h0M339 969h0M361 976h0M316 988h0M380 980h0M359 973h0M348 982h0M384 967h0M356 949h0M359 960h0M329 951h0M335 972h0M337 965h0M327 953h0M335 957h0M365 990h0M377 963h0M311 1003h0M333 965h0M362 1012h0M347 963h0M348 986h0M300 973h0M371 957h0M316 986h0M306 957h0M337 1013h0M350 984h0M323 959h0M365 980h0M314 1000h0M358 982h0M328 949h0M318 1002h0M364 950h0M319 995h0M321 982h0M312 989h0M342 973h0M302 963h0M326 991h0M361 962h0M362 1009h0M341 1010h0M342 987h0M327 979h0M326 978h0M320 987h0M323 941h0M351 977h0M309 1001h0M305 989h0M312 985h0M353 985h0M374 977h0M323 1007h0M343 979h0M326 1015h0M313 978h0M312 972h0M355 979h0M375 981h0M352 992h0M311 985h0M340 976h0M332 997h0M336 969h0M334 994h0M346 945h0M364 991h0M386 948h0M332 996h0M336 1019h0M342 1010h0M336 1014h0M355 940h0M327 1016h0M318 971h0M346 956h0M311 995h0M320 1022h0M364 971h0M311 951h0M365 966h0M392 964h0M338 941h0M310 1018h0M345 1000h0M371 962h0M358 993h0M381 948h0M363 953h0M339 966h0M342 988h0M353 989h0M351 1006h0M356 972h0M299 998h0M351 995h0"/><path stroke="#282828" d="M300 1057h0M394 906h0M356 1038h0M426 854h0M359 946h0M404 1004h0M379 1030h0M325 934h0M401 983h0M343 934h0M318 999h0M322 975h0M300 1058h0M353 1040h0M312 1070h0M294 975h0M313 954h0M293 977h0M271 988h0M379 901h0M330 972h0M325 1022h0M270 1000h0M360 1018h0M326 980h0M427 984h0M359 1047h0M296 961h0M392 948h0M363 1017h0M365 1029h0M374 959h0M378 956h0M408 960h0M417 1012h0M365 925h0M390 938h0M370 1030h0M275 1023h0M324 1035h0M334 1004h0M345 941h0M379 935h0M343 949h0M339 943h0M369 920h0M341 924h0M287 1054h0M355 963h0M406 1005h0M382 891h0M368 1050h0M271 989h0M378 1015h0M324 1006h0M341 997h0M329 1053h0M379 896h0M367 1000h0M406 1016h0M375 958h0M339 1028h0M321 927h0M314 973h0M292 977h0M297 1000h0M332 1015h0M276 1019h0M307 955h0M359 1058h0M379 982h0M383 972h0M295 962h0M414 877h0M404 1018h0M331 1011h0M292 1023h0M280 967h0M283 1034h0M282 1017h0M363 938h0M419 969h0M352 918h0M357 943h0M371 1041h0M429 995h0M346 995h0M354 1011h0M320 941h0M357 958h0M273 975h0M320 1064h0M313 1025h0M273 1015h0M348 922h0M407 923h0M340 993h0M358 939h0M390 1013h0M398 955h0M405 1002h0M334 984h0M386 1012h0M408 1011h0M411 990h0M394 1000h0M344 1035h0M353 992h0M369 963h0M371 933h0M388 899h0M420 996h0M290 973h0M375 919h0M325 1067h0M288 948h0M303 987h0M367 996h0M369 1029h0M306 1008h0M418 947h0M421 923h0M307 1005h0M415 922h0M378 930h0M392 914h0M414 949h0M270 996h0M383 995h0M437 863h0M333 1002h0M316 1020h0M325 1007h0M304 1039h0M372 946h0M341 971h0M317 984h0M320 1011h0M367 990h0M324 990h0M321 934h0M277 1022h0M363 910h0M336 1025h0M316 1022h0M323 951h0M328 1051h0M388 1036h0M337 989h0M386 914h0M375 917h0M347 1027h0M409 878h0M428 958h0M369 985h0M317 1045h0M303 1038h0M325 1039h0M322 1068h0M421 970h0M403 940h0M321 1009h0M383 1005h0M366 1003h0M361 947h0M366 997h0M320 961h0M294 958h0M318 973h0M316 1037h0M327 933h0M329 1044h0M382 954h0M312 1017h0M349 943h0M398 1007h0M390 1017h0M368 946h0M403 1022h0M283 963h0M407 960h0M337 1012h0M356 938h0M412 938h0M269 1007h0M315 989h0M287 977h0M332 961h0M319 997h0M377 930h0M424 881h0M320 1025h0M311 1033h0M421 921h0M346 1016h0M438 973h0M414 980h0M330 1008h0M316 924h0M376 998h0M431 860h0M312 951h0M424 949h0M359 946h0M302 952h0M295 1048h0M304 1027h0M275 997h0M384 891h0M341 1053h0M358 962h0M383 1005h0M343 917h0M389 987h0M362 915h0M315 993h0M350 924h0M358 948h0M400 900h0M313 999h0M314 1038h0M341 1058h0M374 977h0M428 982h0M335 959h0M338 1012h0M381 900h0M388 936h0M274 1008h0M419 873h0M381 922h0M408 1005h0M328 1003h0M381 937h0M383 894h0M309 1031h0M328 1039h0M336 929h0M400 982h0M422 951h0M394 905h0M364 1051h0M348 1022h0M343 1006h0M366 1055h0M397 971h0M349 951h0M329 1045h0M371 936h0M411 974h0M278 1013h0M374 1032h0M333 982h0M284 1020h0M325 1054h0M398 1033h0M403 945h0M393 1031h0M356 935h0M340 940h0M376 948h0M287 1022h0M336 943h0M377 921h0M367 1018h0M290 1054h0M318 966h0M324 1013h0M280 1046h0M370 955h0M286 1044h0M360 1009h0M276 969h0M342 949h0M345 1057h0M281 955h0M313 960h0M430 872h0M412 1022h0M357 1008h0M308 947h0M302 1025h0M308 1021h0M362 956h0M272 979h0M361 980h0M367 955h0M369 923h0M337 1047h0M317 947h0M425 975h0M342 1041h0M299 1043h0M420 871h0M378 1039h0M320 1004h0M304 1032h0M389 1028h0M281 990h0M292 968h0M376 957h0M397 960h0M403 962h0M346 998h0M370 976h0M306 1011h0M384 1013h0M378 1021h0M366 1036h0M310 1010h0M318 1046h0M369 1003h0M299 1025h0M367 984h0M382 916h0M439 852h0M365 936h0M410 933h0M350 999h0M351 925h0M336 918h0M295 964h0M390 970h0M362 957h0M398 897h0M341 934h0M390 917h0M298 999h0M345 1001h0M344 990h0M386 898h0M340 977h0M281 973h0M384 946h0M357 969h0M372 994h0M304 951h0M421 1009h0M370 1045h0M358 1031h0M310 938h0M328 969h0M363 983h0M350 968h0M400 923h0M307 1040h0M381 1030h0M361 934h0M409 873h0M316 992h0M276 1022h0M347 916h0M403 978h0M328 994h0M358 983h0M362 994h0M316 966h0M342 927h0M380 921h0M438 967h0M413 866h0M360 972h0M375 1039h0M341 982h0M433 870h0M365 937h0M362 939h0M317 1042h0M364 1034h0M312 1062h0M307 997h0M312 1035h0M337 961h0M325 998h0M286 985h0M347 987h0M339 921h0M351 917h0M365 907h0M404 1002h0M285 973h0M371 982h0M345 1015h0M304 940h0M387 970h0M382 932h0M326 1066h0M351 990h0M377 924h0M275 1032h0M338 969h0M272 995h0M306 930h0M298 1008h0M308 1032h0M351 966h0M355 928h0M396 974h0M362 956h0M394 938h0M283 1003h0M334 1013h0M394 948h0M362 1031h0M382 994h0M347 932h0M324 955h0M408 946h0M342 992h0M376 1052h0M384 947h0M431 856h0M409 939h0M385 971h0M325 1005h0M377 1001h0M406 958h0M272 995h0M267 1005h0M313 954h0M322 1049h0M276 959h0M354 1054h0M389 1017h0M405 1013h0M389 941h0M400 929h0M293 1001h0M329 979h0M350 1000h0M350 1057h0M312 1053h0M347 942h0M269 965h0M348 935h0M336 1053h0M347 960h0M330 1002h0M332 992h0M311 1024h0M312 999h0M274 1027h0M357 936h0M432 963h0M365 1041h0M347 1030h0M401 987h0M291 991h0M315 979h0M374 966h0M422 999h0M430 867h0M306 1036h0M435 964h0M276 1000h0M331 1020h0M279 980h0M393 953h0M371 1047h0M319 1015h0M349 984h0M297 935h0M311 955h0M292 1017h0M374 1004h0M338 1051h0M338 982h0M301 949h0M376 1020h0M400 987h0M385 1050h0M360 1021h0M299 1020h0M372 1024h0M411 873h0M324 1014h0M299 948h0M381 954h0M384 934h0M360 1016h0M290 1022h0M399 879h0M338 953h0M404 983h0M384 1002h0M355 977h0M359 1033h0M283 1011h0M400 872h0M289 964h0M334 980h0M295 1019h0M412 889h0M318 948h0M315 1066h0M313 924h0M420 872h0M354 1016h0M323 1009h0M413 861h0M311 999h0M404 1009h0M279 991h0M433 985h0M398 952h0M324 1027h0M353 1002h0M275 991h0M327 1004h0M373 956h0M382 906h0M354 971h0M310 1052h0M370 938h0M334 1005h0M363 990h0M408 934h0M421 966h0M354 1042h0M408 1000h0M379 926h0M308 1035h0M311 938h0M393 1013h0M346 1008h0M296 949h0M362 1021h0M404 879h0M375 981h0M402 959h0M369 930h0M362 1028h0M317 1064h0M407 900h0M290 965h0M369 1032h0M297 1018h0M353 996h0M320 961h0M352 968h0M301 986h0M410 980h0M279 1009h0M269 1018h0M323 1029h0M309 967h0M313 982h0M392 968h0M379 957h0M412 882h0M337 1043h0M390 1000h0M331 937h0M340 1007h0M346 995h0M384 991h0M429 853h0M420 960h0M411 973h0M346 951h0M318 986h0M336 974h0M426 949h0M292 970h0M393 970h0M385 1002h0M392 939h0M344 955h0M284 1057h0M400 876h0M294 947h0M362 966h0M281 983h0M319 1065h0M383 984h0M392 992h0M336 1036h0M395 949h0M373 1050h0M310 982h0M309 987h0M387 945h0M380 1000h0M365 1003h0M311 998h0M343 1034h0M326 1009h0M422 966h0M392 982h0M411 891h0M335 1029h0M396 910h0M271 1013h0M379 921h0M403 952h0M379 933h0M355 986h0M373 1028h0M318 991h0M426 871h0M286 982h0M321 944h0M325 1014h0M304 1014h0M335 1024h0M300 972h0M425 955h0M390 1010h0M299 966h0M299 1041h0M369 914h0M333 983h0M417 981h0M348 1023h0M287 1048h0M345 957h0M365 936h0M327 923h0M421 1001h0M390 946h0M294 1017h0M389 913h0M299 979h0M374 972h0M329 950h0M308 991h0M348 965h0M394 914h0M356 975h0M280 1023h0M411 891h0M311 1043h0M297 970h0M348 927h0M299 1023h0M377 977h0M327 959h0M346 1019h0M357 930h0M326 935h0M389 949h0M316 1041h0M419 939h0M299 1063h0M397 992h0M405 936h0M281 1049h0M382 1039h0M318 990h0M335 1009h0M294 1047h0M376 1040h0M313 1033h0M404 896h0M335 1016h0M300 1000h0M305 937h0M371 978h0M333 1039h0M277 983h0M321 966h0M321 978h0M435 959h0M391 914h0M281 993h0M370 988h0M417 955h0M274 996h0M285 983h0M383 1012h0M332 1010h0M387 891h0M273 986h0M411 920h0M311 931h0M312 1060h0M341 943h0M396 1013h0M368 958h0M275 1047h0M337 1048h0M412 935h0M361 1001h0M408 875h0M270 1019h0M344 1015h0M310 1068h0M386 905h0M301 994h0M408 871h0M291 970h0M301 1000h0M359 1006h0M396 1017h0M423 982h0M346 982h0M348 1017h0M331 970h0M285 1060h0M345 957h0M274 1006h0M316 994h0M346 1050h0M336 1040h0M405 989h0M320 956h0M355 926h0M409 926h0M302 991h0M370 1051h0M366 1057h0M381 962h0M387 900h0M408 966h0M353 944h0M280 1027h0M443 848h0M353 968h0M394 959h0M322 1058h0M355 951h0M415 991h0M357 1036h0M338 999h0M327 956h0M385 956h0M406 863h0M390 997h0M297 1023h0M334 1012h0M416 887h0M386 1004h0M396 919h0M347 966h0M429 938h0M317 1018h0M280 982h0M358 1053h0M379 992h0M322 1020h0M310 994h0M395 1022h0M409 1002h0M338 929h0M357 1020h0M316 986h0M329 997h0M384 1022h0M335 962h0M374 908h0M311 1024h0M298 1026h0M293 969h0M356 1052h0M395 888h0M435 853h0M343 1027h0M400 909h0M285 998h0M362 1063h0M328 1018h0M415 935h0M402 992h0M384 1018h0M371 1033h0M422 872h0M427 954h0M295 988h0M279 1025h0M309 937h0M435 946h0M384 1023h0M358 929h0M324 1022h0M398 997h0M404 951h0M349 933h0M305 1024h0M365 944h0M414 983h0M296 1014h0M275 1012h0M392 879h0M286 1006h0M402 949h0M366 970h0M404 888h0M381 1017h0M282 1018h0M423 963h0M392 1010h0M294 1028h0M355 923h0M422 876h0M360 1032h0M412 893h0M283 978h0M381 995h0M372 1001h0M414 998h0M286 1013h0M398 1018h0M374 1001h0M323 944h0M383 908h0M300 1060h0M391 926h0M305 940h0M348 977h0M368 1017h0M276 999h0M317 1017h0M377 955h0M354 973h0M355 1000h0M323 1010h0M274 967h0M398 941h0M395 876h0M373 984h0M396 998h0M287 1025h0M331 928h0M353 942h0M271 1034h0M394 987h0M401 985h0M288 948h0M363 1059h0M330 1016h0M379 1013h0M288 998h0M340 1051h0M403 1012h0M377 1037h0M432 871h0M367 1057h0M369 1055h0M425 872h0M396 912h0M386 1039h0M369 921h0M427 931h0M413 963h0M276 981h0M393 919h0M371 1024h0M279 969h0M399 969h0M364 946h0M394 930h0M315 947h0M369 967h0M385 931h0M372 1011h0M311 1009h0M294 1046h0M364 955h0M381 957h0M302 990h0M325 1005h0M302 998h0M323 934h0M337 1003h0M323 929h0M360 934h0M361 986h0M335 949h0M349 917h0M362 1048h0M327 1066h0M324 985h0M408 877h0M408 881h0M403 917h0M371 1021h0M390 995h0M388 923h0M350 976h0M398 959h0M345 988h0M285 973h0M373 993h0M351 919h0M268 1005h0M304 987h0M392 947h0M331 973h0M391 951h0M367 980h0M310 984h0M325 1007h0M325 930h0M343 1018h0M398 889h0M286 991h0M307 931h0M386 1036h0M362 948h0M332 929h0M375 975h0M371 977h0M312 949h0M424 865h0M372 907h0M324 1043h0M289 1021h0M277 1009h0M314 981h0M304 987h0M396 972h0M360 1043h0M344 970h0M331 961h0M284 1011h0M317 929h0M296 1041h0M303 1008h0M316 972h0M295 999h0M399 893h0M379 1044h0M410 872h0M360 949h0M370 933h0M410 981h0"/><path stroke="#383838" d="M384 1050h0M403 1011h0M396 1033h0M322 1045h0M280 985h0M282 1057h0M313 925h0M337 1062h0M290 1070h0M353 1048h0M331 1073h0M412 940h0M290 955h0M390 972h0M361 924h0M390 884h0M346 1048h0M291 932h0M388 1008h0M357 1072h0M277 970h0M301 1033h0M323 918h0M334 1048h0M420 999h0M289 1051h0M411 991h0M333 1049h0M383 896h0M439 851h0M430 860h0M402 927h0M276 969h0M285 1034h0M310 1062h0M392 1032h0M436 983h0M419 860h0M362 1027h0M373 1041h0M267 988h0M393 882h0M402 961h0M316 1045h0M425 849h0M391 914h0M392 912h0M418 917h0M339 1048h0M395 1046h0M364 903h0M281 943h0M278 970h0M337 1059h0M414 970h0M393 920h0M400 1017h0M315 1042h0M360 1045h0M398 883h0M433 962h0M405 895h0M316 1075h0M412 923h0M402 915h0M326 1040h0M425 873h0M400 870h0M381 1048h0M397 1010h0M405 932h0M407 870h0M328 951h0M355 940h0M282 1003h0M363 1047h0M386 1010h0M403 900h0M305 1035h0M286 1036h0M430 872h0M384 1027h0M379 932h0M436 966h0M319 1065h0M332 1067h0M321 1063h0M284 1054h0M402 1010h0M308 1031h0M410 869h0M416 875h0M313 939h0M421 930h0M422 912h0M281 950h0M301 1062h0M271 976h0M378 910h0M406 986h0M367 910h0M395 1045h0M390 1043h0M395 987h0M403 900h0M375 1027h0M389 926h0M300 970h0M272 960h0M279 959h0M293 1020h0M342 1065h0M412 908h0M409 922h0M380 1026h0M399 942h0M441 1000h0M342 1055h0M341 1049h0M411 941h0M410 865h0M426 983h0M393 901h0M281 1009h0M419 1011h0M272 962h0M416 891h0M280 1004h0M369 1044h0M375 892h0M330 1053h0M398 877h0M422 959h0M321 1047h0M301 1035h0M361 913h0M284 1013h0M358 1068h0M422 854h0M439 977h0M369 953h0M379 906h0M327 1069h0M444 856h0M428 976h0M363 918h0M279 1044h0M309 1050h0M403 923h0M388 905h0M445 861h0M281 1059h0M404 983h0M425 955h0M363 931h0M372 1039h0M418 966h0M282 1005h0M418 868h0M410 936h0M353 1060h0M378 908h0M327 1053h0M417 981h0M325 1010h0M362 958h0M408 952h0M406 888h0M377 1039h0M394 1017h0M417 950h0M419 944h0M304 1060h0M311 1044h0M288 1043h0M411 1028h0M420 982h0M270 970h0M415 1032h0M334 1057h0M300 1026h0M412 899h0M268 1032h0M417 873h0M381 1054h0M287 1058h0M407 940h0M376 1025h0M390 1052h0M317 1077h0M289 945h0M282 1014h0M419 978h0M307 918h0M330 1058h0M277 1043h0M358 917h0M384 1036h0M392 899h0M280 985h0M374 1048h0M346 1033h0M356 977h0M391 906h0M277 981h0M400 943h0M345 1037h0M319 958h0M322 1044h0M278 1000h0M335 1046h0M366 924h0M301 935h0M310 1077h0M284 965h0M355 1058h0M431 973h0M340 1051h0M373 1031h0M358 1073h0M366 1041h0M383 929h0M280 1021h0M446 976h0M317 1052h0M329 972h0M439 957h0M374 1055h0M356 1007h0M328 1081h0M310 1066h0M410 948h0M416 942h0M379 974h0M371 904h0M326 1079h0M349 1010h0M418 1010h0M354 1042h0M432 995h0M430 938h0M427 849h0M401 1014h0M349 1039h0M298 968h0M318 933h0M306 1006h0M323 1060h0M281 1035h0M323 1046h0M368 917h0M353 1048h0M347 919h0M325 1051h0M337 913h0M396 1013h0M342 1030h0M409 886h0M418 934h0M346 1079h0M382 909h0M416 990h0M292 986h0M349 1046h0M298 1068h0M411 933h0M398 913h0M386 920h0M325 1056h0M415 1010h0M356 1067h0M428 872h0M403 909h0M273 948h0M372 898h0M374 921h0M310 933h0M369 917h0M371 1031h0M373 895h0M315 1042h0M407 940h0M340 915h0M284 1024h0M361 917h0M371 1026h0M408 918h0M296 1027h0M349 1052h0M418 997h0M380 990h0M439 844h0M283 961h0M331 1051h0M387 912h0M421 987h0M297 1037h0M287 1070h0M405 1025h0M331 929h0M310 1009h0M304 1073h0M375 917h0M391 892h0M357 926h0M399 907h0M406 922h0M425 967h0M403 897h0M318 1077h0M324 1052h0M436 1002h0M295 1066h0M271 1043h0M435 980h0M277 1041h0M439 861h0M298 1039h0M429 867h0M324 985h0M422 1023h0M439 862h0M373 915h0M377 1053h0M429 861h0M401 910h0M446 960h0M367 1040h0M407 914h0M364 1045h0M357 1051h0M308 1053h0M417 931h0M414 1016h0M373 892h0M412 859h0M330 1075h0M297 1019h0M387 908h0M381 1026h0M269 966h0M430 861h0M418 960h0M347 1011h0M378 1025h0M266 1020h0M412 993h0M419 926h0M279 1012h0M396 891h0M404 972h0M274 965h0M300 1024h0M290 1034h0M389 883h0M405 867h0M337 1087h0M394 916h0M344 1073h0M283 1011h0M305 1035h0M427 871h0M402 920h0M423 871h0M406 893h0M413 864h0M340 1084h0M288 959h0M434 871h0M271 1042h0M419 986h0M366 1035h0M398 911h0M328 1029h0M345 1004h0M415 969h0M300 1057h0M315 999h0M417 1002h0M346 920h0M375 918h0M384 1032h0M414 950h0M343 968h0M429 854h0M400 937h0M432 973h0M329 1073h0M437 987h0M275 1012h0M427 848h0M352 949h0M313 1049h0M423 866h0M374 1022h0M267 1001h0M404 888h0M300 1043h0M294 971h0M358 967h0M315 936h0M399 910h0M292 950h0M415 883h0M276 950h0M312 924h0M283 949h0M304 1072h0M283 1063h0M329 1039h0M379 916h0M289 1047h0M374 994h0M297 1061h0M274 1046h0M380 925h0M276 960h0M272 1023h0M402 921h0M393 888h0M340 958h0M408 919h0M373 905h0M283 971h0M308 940h0M304 1011h0M396 908h0M439 944h0M402 996h0M365 1060h0M412 958h0M348 1040h0M365 1066h0M373 1017h0M364 1004h0M435 848h0M399 1013h0M362 922h0M399 987h0M391 896h0M364 965h0M292 963h0M392 905h0M333 1052h0M371 894h0M387 1045h0M278 1001h0M393 1034h0M385 1013h0M436 993h0M316 1055h0M323 1054h0M375 1055h0M284 945h0M304 1054h0M396 917h0M415 993h0M363 1060h0M389 923h0M297 945h0M372 906h0M282 975h0M402 1006h0M391 935h0M426 1010h0M353 1066h0M286 947h0M415 902h0M401 1001h0M282 1021h0M386 1029h0M443 959h0M278 981h0M392 1023h0M274 1035h0M298 1061h0M407 933h0M403 1031h0M296 1034h0M393 927h0M331 922h0M379 895h0M421 858h0M423 962h0M365 1036h0M353 923h0M403 1002h0M299 1042h0M378 1032h0M413 981h0M414 943h0M300 1033h0M403 1029h0M353 1064h0M308 1049h0M378 1037h0M389 1038h0M430 919h0M294 1051h0M403 931h0M285 944h0M399 928h0M267 1024h0M272 1030h0M370 921h0M299 1046h0M358 934h0M430 959h0M411 1006h0M385 1017h0M420 864h0M282 1043h0M270 1035h0M271 980h0M397 946h0M399 936h0M354 1053h0M290 962h0M285 999h0M393 1011h0M285 1044h0M315 1069h0M383 924h0M399 938h0M292 945h0M284 969h0M384 908h0M398 939h0M357 910h0M409 892h0M317 1058h0M421 914h0M280 992h0M426 861h0M424 1005h0M422 929h0M323 978h0M276 988h0M310 1058h0M432 875h0M327 979h0M299 990h0M435 963h0M388 1013h0M383 1024h0M424 942h0M328 1065h0M268 1024h0M332 1047h0M413 879h0M336 1006h0M380 1028h0M313 939h0M429 949h0M351 998h0M417 934h0M356 939h0M298 964h0M334 1049h0M352 1067h0M400 908h0M283 968h0M341 994h0M287 950h0M344 1073h0M437 948h0M385 1037h0M309 1037h0M287 956h0M318 1062h0M404 864h0M275 1006h0M297 1026h0M414 899h0M285 977h0M417 962h0M396 993h0M418 983h0M352 1020h0M444 982h0M325 1056h0M286 1055h0M387 1019h0M410 1001h0M385 917h0M318 920h0M374 926h0M340 1037h0M410 936h0M285 1028h0M418 990h0M379 914h0M376 1032h0M395 1007h0M410 859h0M411 927h0M382 927h0M330 1054h0M269 1048h0M407 1016h0M381 1016h0M289 959h0M430 951h0M267 1028h0M430 848h0M290 1050h0M399 1020h0M345 1044h0M288 1015h0M395 926h0M335 1064h0"/><path stroke="#484848" d="M408 913h0M404 1034h0M450 995h0M444 859h0M417 866h0M401 930h0M295 935h0M429 978h0M406 869h0M394 897h0M381 1063h0M402 1027h0M271 1051h0M415 1007h0M287 1080h0M325 1077h0M370 907h0M402 997h0M390 888h0M307 922h0M408 940h0M360 1039h0M267 1003h0M301 939h0M424 955h0M433 1009h0M419 971h0M361 909h0M434 863h0M307 1097h0M280 1037h0M271 1060h0M302 944h0M440 851h0M389 910h0M435 928h0M438 1002h0M275 1025h0M410 1017h0M389 926h0M382 891h0M436 953h0M391 871h0M429 984h0M268 1011h0M419 864h0M412 929h0M412 862h0M354 1096h0M407 928h0M309 1057h0M435 853h0M285 928h0M323 1084h0M290 1046h0M373 887h0M382 1050h0M347 1052h0M391 1023h0M328 1055h0M441 971h0M276 943h0M387 1034h0M388 898h0M447 988h0M384 1046h0M368 907h0M407 930h0M346 1056h0M371 1049h0M360 918h0M435 982h0M391 886h0M403 1015h0M434 953h0M424 878h0M425 938h0M267 1018h0M360 911h0M347 1047h0M344 1049h0M400 870h0M327 913h0M405 871h0M371 1057h0M444 940h0M274 1039h0M405 1012h0M453 958h0M423 936h0M276 938h0M430 864h0M269 983h0M414 869h0M420 882h0M388 1038h0M277 1006h0M382 1074h0M281 961h0M409 931h0M385 1056h0M441 1018h0M438 981h0M409 869h0M350 1044h0M420 916h0M357 1045h0M358 905h0M425 844h0M283 1034h0M451 958h0M443 927h0M419 981h0M299 933h0M416 926h0M428 989h0M372 907h0M434 845h0M420 845h0M296 1039h0M356 1053h0M271 967h0M300 923h0M271 1025h0M287 1079h0M424 882h0M362 1049h0M389 1049h0M413 857h0M303 938h0M361 1062h0M412 893h0M363 1087h0M365 916h0M389 1015h0M328 1051h0M400 1055h0M338 1066h0M430 861h0M290 923h0M288 1072h0M422 868h0M396 865h0M271 1034h0M339 1089h0M343 918h0M270 952h0M291 1053h0M272 1026h0M308 923h0M339 923h0M404 890h0M306 1050h0M311 917h0M413 1015h0M287 1045h0M307 1067h0M274 1015h0M379 907h0M362 911h0M356 1058h0M428 998h0M299 1056h0M277 1019h0M295 943h0M299 1054h0M369 1068h0M315 924h0M309 1056h0M367 1068h0M353 919h0M451 966h0M271 1085h0M383 890h0M389 871h0M271 1038h0M420 997h0M385 1023h0M293 1040h0M362 1069h0M408 915h0M367 1043h0M396 891h0M304 930h0M400 879h0M424 947h0M343 1100h0M266 964h0M434 952h0M306 1080h0M411 1032h0M385 1044h0M291 1078h0M345 1075h0M427 854h0M416 1024h0M315 928h0M308 929h0M390 1038h0M429 929h0M423 855h0M302 1083h0M351 1046h0M394 879h0M319 1092h0M371 908h0M398 917h0M348 1049h0M319 1090h0M388 893h0M382 1066h0M451 987h0M394 1023h0M358 914h0M278 973h0M279 968h0M425 857h0M267 974h0M399 1013h0M394 911h0M327 1053h0M345 916h0M438 948h0M273 959h0M332 1051h0M365 894h0M367 1036h0M410 873h0M364 1059h0M314 1058h0M378 886h0M286 1090h0M305 1058h0M407 999h0M433 848h0M401 1012h0M277 1025h0M299 1073h0M363 1059h0M332 1086h0M290 927h0M306 940h0M326 1069h0M402 875h0M392 920h0M393 1064h0M361 1060h0M356 1056h0M425 913h0M436 966h0M278 1030h0M282 1028h0M320 1068h0M307 1063h0M396 1025h0M287 1065h0M412 865h0M400 913h0M406 936h0M386 1026h0M400 915h0M439 922h0M391 908h0M378 1023h0M443 936h0M339 920h0M437 872h0M421 948h0M375 1041h0M413 983h0M392 1040h0M408 900h0M456 975h0M416 921h0M392 866h0M375 1029h0M278 1034h0M402 1014h0M277 1058h0M452 842h0M352 1060h0M420 852h0M408 1045h0M380 902h0M421 934h0M397 869h0M412 919h0M312 932h0M359 1050h0M392 1057h0M437 993h0M379 924h0M270 964h0M293 942h0M286 942h0M398 1030h0M376 910h0M390 1053h0M438 985h0M428 956h0M276 1009h0M290 1071h0M276 1012h0M381 1074h0M413 867h0M320 922h0M323 1103h0M303 1074h0M329 920h0M382 1031h0M403 1043h0M408 1034h0M331 1093h0M402 918h0M389 1049h0M323 1079h0M420 879h0M414 910h0M271 964h0M375 904h0M448 844h0M437 952h0M353 1085h0M320 1085h0M325 1088h0M433 862h0M363 1080h0M443 967h0M285 1066h0M376 891h0M268 942h0M298 924h0M417 887h0M433 885h0M453 941h0M396 1011h0M302 1042h0M394 897h0M370 917h0M415 850h0M362 912h0M279 969h0M417 887h0M356 1047h0M436 875h0M373 889h0M383 873h0M436 988h0M434 874h0M287 933h0M329 1069h0M456 953h0M440 960h0M428 856h0M300 1052h0M416 933h0M307 1048h0M285 946h0M272 982h0M408 873h0M310 918h0M405 901h0M358 919h0M293 1097h0M406 858h0M428 932h0M445 987h0M429 936h0M412 1018h0M421 883h0M424 968h0M435 957h0M405 1027h0M437 870h0M425 961h0M337 914h0M372 1041h0M345 1063h0M304 1069h0M401 893h0M283 1062h0M399 932h0M285 1076h0M457 958h0M408 907h0M422 987h0M382 892h0M396 1014h0M288 932h0M447 844h0M438 1002h0M309 1106h0M386 1049h0M420 1015h0M404 927h0M272 1018h0M440 950h0M312 1064h0M394 1047h0M274 989h0M407 915h0M439 983h0M406 938h0M429 933h0M386 873h0M394 930h0M404 859h0M459 972h0M290 938h0M464 977h0M274 1046h0M374 1064h0M313 916h0M419 857h0M365 1042h0M415 866h0M431 871h0M379 1030h0M270 1039h0M322 919h0M416 915h0M315 1059h0M361 1043h0M395 874h0M321 1090h0M416 968h0M404 875h0M393 918h0M421 1010h0M381 1024h0M433 859h0M445 845h0M410 852h0M436 999h0M397 1053h0M359 1083h0M380 902h0M386 1032h0M429 972h0M363 1088h0M401 1049h0M279 938h0M305 1076h0M422 999h0M408 871h0M348 914h0M272 1026h0M276 930h0M309 1042h0M415 924h0M434 962h0M423 986h0M427 970h0M417 987h0M314 1086h0M331 1066h0M430 950h0M369 903h0M432 956h0M382 1061h0M324 1069h0M405 1031h0M414 912h0M426 959h0M443 964h0M276 1049h0M276 1000h0M422 957h0M321 1086h0M420 886h0M316 919h0M288 1054h0M456 960h0M293 937h0M441 1013h0M401 880h0M421 1008h0M395 896h0M399 899h0M415 993h0M412 914h0M292 1063h0M436 991h0M298 921h0M437 988h0M287 933h0M339 916h0M266 993h0M393 913h0M407 865h0M443 980h0M402 933h0M439 982h0M428 973h0M434 953h0M373 1056h0M280 1053h0M268 1030h0M416 923h0M437 921h0M273 995h0M336 1065h0M272 994h0M406 1025h0M401 900h0M404 860h0M442 967h0M434 950h0M329 1055h0M428 957h0M361 911h0M325 929h0"/><path stroke="#585858" d="M330 917h0M436 914h0M411 850h0M330 1056h0M438 958h0M399 1031h0M395 1035h0M279 1036h0M343 1080h0M272 948h0M274 1031h0M448 931h0M427 1047h0M438 966h0M424 1062h0M272 961h0M299 934h0M427 918h0M295 1086h0M381 1038h0M395 1047h0M453 959h0M369 879h0M325 1089h0M417 1025h0M402 868h0M415 1039h0M288 1098h0M333 1064h0M404 1058h0M335 1062h0M438 844h0M429 1013h0M348 907h0M428 850h0M394 868h0M430 1003h0M297 935h0M267 977h0M398 1060h0M434 953h0M400 1083h0M270 978h0M319 1085h0M409 912h0M338 903h0M433 975h0M287 920h0M383 1091h0M328 1093h0M308 1071h0M322 1072h0M356 909h0M278 946h0M344 1073h0M404 1021h0M301 1079h0M278 1060h0M436 919h0M325 1056h0M291 1067h0M428 1005h0M284 1102h0M287 1100h0M433 1042h0M377 892h0M408 1037h0M373 875h0M410 925h0M469 837h0M274 1080h0M334 1060h0M289 1084h0M272 1069h0M374 901h0M452 1006h0M450 1008h0M392 863h0M274 1070h0M412 897h0M427 939h0M449 842h0M421 1000h0M274 1059h0M305 1073h0M283 925h0M365 1053h0M310 1059h0M295 933h0M264 990h0M301 936h0M435 1009h0M383 893h0M359 1062h0M445 927h0M448 939h0M306 1075h0M443 836h0M270 954h0M405 924h0M422 1085h0M439 929h0M383 886h0M286 1097h0M376 1092h0M385 891h0M286 1049h0M399 897h0M437 975h0M448 1016h0M314 1095h0M429 839h0M362 902h0M362 1058h0M366 910h0M310 932h0M273 972h0M307 921h0M291 1060h0M427 875h0M277 1050h0M404 1050h0M452 831h0M450 835h0M440 869h0M428 1025h0M434 943h0M451 918h0M427 949h0M278 1094h0M424 1042h0M475 967h0M293 917h0M405 905h0M434 852h0M426 941h0M378 1055h0M388 861h0M284 944h0M304 1094h0M451 964h0M373 1067h0M268 1019h0M304 932h0M371 1090h0M390 1096h0M448 1001h0M348 1072h0M297 930h0M332 1059h0M311 1072h0M387 882h0M324 1055h0M330 914h0M430 944h0M417 930h0M430 876h0M420 856h0M395 869h0M301 936h0M327 1087h0M349 1062h0M393 1087h0M343 1070h0M385 1036h0M420 920h0M446 969h0M420 937h0M428 1015h0M323 1073h0M430 988h0M267 1015h0M281 940h0M367 912h0M278 1083h0M464 962h0M463 973h0M399 1029h0M313 1063h0M433 960h0M395 882h0M446 948h0M293 921h0M337 1071h0M406 1031h0M266 1031h0M381 1057h0M428 1023h0M455 951h0M311 1060h0M384 898h0M283 1079h0M359 904h0M352 1086h0M377 1065h0M380 881h0M342 918h0M268 1074h0M425 1049h0M423 979h0M312 1064h0M288 945h0M393 859h0M446 937h0M390 1044h0M403 1018h0M414 939h0M276 1056h0M419 1011h0M403 1045h0M431 932h0M269 945h0M429 852h0M425 997h0M459 979h0M430 921h0M328 1099h0M344 1075h0M293 1069h0M263 1041h0M357 1063h0M357 1084h0M400 901h0M277 1037h0M382 883h0M269 1019h0M384 880h0M383 1090h0M442 852h0M268 998h0M285 1050h0M445 930h0M364 1096h0M458 964h0M278 935h0M437 915h0M360 1074h0M333 922h0M380 867h0M418 1005h0M410 1013h0M457 1002h0M421 944h0M365 896h0M370 1057h0M425 1002h0M419 858h0M330 1061h0M305 1057h0M449 963h0M420 1059h0M431 1002h0M306 1060h0M407 897h0M277 957h0M334 920h0M270 1055h0M365 892h0M287 942h0M348 1067h0M280 1078h0M423 951h0M444 874h0M428 850h0M323 1059h0M434 869h0M435 985h0M428 930h0M453 994h0M441 955h0M386 1062h0M301 1111h0M369 1054h0M425 895h0M438 925h0M425 931h0M419 853h0M453 1021h0M434 925h0M330 1070h0M433 1005h0M274 1076h0M271 1074h0M307 924h0M344 1094h0M301 1064h0M356 911h0M424 996h0M439 1030h0M332 1073h0M440 1023h0M295 1078h0M347 1063h0M439 870h0M417 861h0M363 1064h0M438 936h0M411 897h0M399 849h0M346 913h0M376 1100h0M427 1009h0M316 1090h0M264 1001h0M357 1065h0M418 938h0M312 1080h0M342 1057h0M402 1058h0M368 1043h0M310 927h0M431 954h0M289 1113h0M394 1045h0M410 915h0M309 1098h0M366 1074h0M414 896h0M435 863h0M423 921h0M271 1048h0M424 922h0M380 877h0M450 1003h0M436 953h0M324 1072h0M432 884h0M370 1063h0M391 1099h0M266 996h0M289 1066h0M281 1059h0M425 1012h0M271 1007h0M436 842h0M428 1007h0M274 956h0M404 1026h0M454 965h0M290 1053h0M383 1040h0M438 978h0M466 924h0M374 1094h0M432 1002h0M377 1084h0M275 1061h0M377 899h0M392 1060h0M357 888h0M432 921h0M345 1068h0M368 907h0M299 914h0M382 1084h0M369 1054h0M349 1059h0M298 924h0M434 872h0M402 1065h0M374 893h0M305 1055h0M458 985h0M425 1031h0M460 950h0M298 1058h0M313 1069h0M359 910h0M365 1089h0M299 1058h0M430 943h0M408 1034h0M381 891h0M433 925h0M451 994h0M372 1069h0M319 922h0M317 1102h0M301 1053h0M432 885h0M358 912h0M423 1008h0M416 1014h0M384 1038h0M439 952h0M387 1082h0M377 897h0M404 1069h0M442 855h0M308 929h0M273 1065h0M415 1005h0M414 932h0M284 940h0M441 863h0M300 1066h0M413 937h0M358 1056h0M290 1045h0M277 1039h0M444 979h0M415 920h0M282 1058h0M444 920h0M426 1036h0M452 957h0M275 1103h0M301 1056h0M365 902h0M341 914h0M370 874h0M282 940h0M418 1036h0M355 908h0M469 935h0M461 972h0M383 1062h0M440 984h0M271 1065h0M423 991h0M437 989h0M428 878h0M430 960h0M280 939h0M268 1024h0M272 1062h0M409 848h0M328 1071h0M282 950h0M354 1082h0M408 916h0M298 1058h0M414 896h0M372 1064h0M310 916h0M413 846h0M435 957h0M433 959h0M262 1031h0M289 1044h0M433 992h0M427 953h0M272 956h0M444 950h0M368 1102h0M413 928h0M265 1038h0M431 995h0M394 869h0M444 845h0M285 1092h0M452 853h0"/><path stroke="#181818" d="M318 960h0M377 1027h0M356 932h0M369 958h0M299 1009h0M305 963h0M383 916h0M298 998h0M313 950h0M303 943h0M377 1007h0M324 956h0M418 974h0M393 931h0M337 1058h0M406 988h0M396 989h0M346 1018h0M373 977h0M354 991h0M417 951h0M373 1036h0M384 1026h0M419 957h0M328 937h0M335 947h0M371 958h0M307 982h0M340 925h0M412 881h0M271 990h0M291 988h0M379 919h0M307 937h0M407 1001h0M365 913h0M386 952h0M368 932h0M378 905h0M354 998h0M423 865h0M279 1002h0M395 966h0M391 1029h0M363 1016h0M278 992h0M319 968h0M378 943h0M315 1036h0M371 936h0M376 923h0M334 975h0M349 953h0M354 1006h0M328 946h0M331 957h0M309 966h0M327 941h0M352 1052h0M282 1036h0M391 968h0M305 1036h0M283 1025h0M340 949h0M342 1048h0M392 990h0M302 1027h0M369 1038h0M364 931h0M397 943h0M333 946h0M395 997h0M356 1023h0M376 944h0M292 1001h0M319 989h0M384 941h0M319 928h0M286 1025h0M345 1006h0M374 974h0M408 1005h0M387 983h0M365 919h0M393 971h0M349 939h0M304 1020h0M403 876h0M330 984h0M340 933h0M310 960h0M321 1030h0M343 1040h0M368 986h0M316 984h0M305 997h0M349 1027h0M369 965h0M404 964h0M414 876h0M316 1004h0M403 936h0M337 950h0M411 952h0M386 955h0M364 1043h0M380 955h0M344 1054h0M321 1034h0M410 883h0M301 971h0M429 858h0M374 994h0M396 913h0M351 926h0M342 970h0M384 968h0M377 958h0M336 962h0M315 969h0M408 957h0M381 900h0M381 1016h0M392 919h0M315 1017h0M373 989h0M282 1011h0M387 953h0M314 966h0M320 995h0M312 1034h0M352 1044h0M375 909h0M329 942h0M393 922h0M336 1008h0M403 954h0M312 1024h0M279 994h0M307 1009h0M325 1019h0M281 1029h0M338 1038h0M316 931h0M372 1031h0M277 984h0M383 1011h0M372 1038h0M302 1021h0M334 1019h0M399 966h0M355 968h0M373 933h0M422 943h0M305 1048h0M297 963h0M319 926h0M279 970h0M420 952h0M368 912h0M386 1018h0M349 951h0M387 902h0M376 1036h0M342 943h0M312 973h0M328 980h0M388 903h0M270 995h0M321 994h0M393 926h0M329 988h0M381 936h0M359 999h0M286 1010h0M395 917h0M420 864h0M276 1010h0M357 1018h0M383 1024h0M390 888h0M394 910h0M332 1003h0M369 964h0M331 945h0M331 1047h0M286 1031h0M315 935h0M401 881h0M406 1006h0M395 962h0M410 1000h0M338 1014h0M382 947h0M319 1049h0M341 923h0M389 959h0M424 982h0M374 966h0M386 961h0M385 902h0M377 954h0M365 1044h0M299 1007h0M325 963h0M410 882h0M347 919h0M380 1006h0M347 1006h0M373 979h0M322 1051h0M326 964h0M414 961h0M314 1016h0M355 1025h0M316 979h0M291 979h0M371 919h0M353 947h0M361 926h0M303 1027h0M395 934h0M327 1002h0M308 1007h0M401 949h0M361 979h0M344 971h0M328 962h0M340 1040h0M330 996h0M353 979h0M393 988h0M390 904h0M347 953h0M397 1014h0M277 1022h0M272 1007h0M336 947h0M298 1027h0M380 923h0M340 1004h0M351 1011h0M304 1015h0M362 993h0M342 957h0M403 949h0M365 980h0M324 954h0M348 1057h0M386 1032h0M374 1029h0M326 1045h0M344 928h0M397 969h0M390 979h0M375 937h0M348 997h0M388 892h0M369 996h0M374 1013h0M390 920h0M433 856h0M322 925h0M310 933h0M352 925h0M428 866h0M325 929h0M401 897h0M373 967h0M416 942h0M277 959h0M295 1009h0M372 936h0M315 978h0M330 952h0M397 986h0M403 941h0M332 995h0M273 982h0M367 942h0M364 951h0M329 974h0M423 947h0M388 1027h0M402 940h0M394 927h0M374 921h0M375 931h0M337 1037h0M322 1054h0M393 977h0M374 923h0M388 975h0M354 986h0M297 944h0M305 969h0M372 996h0M306 995h0M324 927h0M275 1026h0M406 890h0M379 1004h0M391 1002h0M312 949h0M410 946h0M324 998h0M432 869h0M360 1002h0M342 994h0M380 961h0M276 974h0M378 947h0M348 958h0M384 987h0M287 969h0M341 1006h0M296 1022h0M365 1001h0M400 1012h0M279 988h0M357 987h0M331 1045h0M419 863h0M414 876h0M302 1039h0M289 1022h0M386 913h0M395 880h0M379 956h0M350 1012h0M316 1055h0M407 999h0M327 1033h0M350 1008h0M373 930h0M344 970h0M387 945h0M308 973h0M337 919h0M341 1037h0M371 930h0M336 948h0M312 991h0M289 1046h0M384 985h0M415 878h0M410 924h0M340 934h0M360 1041h0M362 1024h0M315 980h0M363 958h0M322 1049h0M402 1009h0M363 969h0M389 932h0M339 987h0M425 959h0M392 901h0M284 997h0M372 946h0M311 941h0M331 970h0M391 938h0M426 869h0M348 935h0M302 1057h0M342 996h0M310 970h0M395 891h0M358 1031h0M301 956h0M314 944h0M351 1033h0M365 1046h0M371 1043h0M425 869h0M391 975h0M364 956h0M349 981h0M393 960h0M403 977h0M414 1000h0M335 985h0M327 1033h0M342 1005h0M398 954h0M342 962h0M306 936h0M378 1003h0M335 970h0M277 1007h0M409 979h0M340 1022h0M388 992h0M308 1047h0M346 1018h0M368 916h0M333 983h0M350 952h0M347 922h0M334 967h0M426 865h0M387 959h0M376 967h0M408 880h0M364 994h0M385 1006h0M384 902h0M332 1047h0M287 1008h0M347 989h0M356 1042h0M358 942h0M375 961h0M386 1033h0M367 1036h0M347 1015h0M312 1011h0M404 987h0M305 955h0M394 930h0M277 973h0M294 966h0M338 1009h0M349 1022h0M279 967h0M361 937h0M325 946h0M293 943h0M338 921h0M396 1011h0M306 935h0M311 983h0M395 969h0M331 1037h0M322 957h0M358 1016h0M396 929h0M350 1014h0M418 877h0M419 978h0M341 997h0M313 1020h0M397 984h0M320 1023h0M390 907h0M380 989h0M336 1003h0M345 921h0M295 986h0M361 991h0M339 1005h0M416 861h0M347 959h0M394 1016h0M342 1015h0M362 969h0M289 1041h0M394 1015h0M427 962h0M412 983h0M329 1016h0M359 1040h0M354 1048h0M299 989h0M288 1001h0M285 975h0M321 935h0M396 943h0M290 954h0M313 1039h0M384 1020h0M285 961h0M320 998h0M407 916h0M301 1037h0M341 962h0M319 963h0M417 987h0M318 976h0M380 907h0M388 907h0M369 991h0M422 859h0M348 1055h0M270 998h0M375 995h0M280 1025h0M269 999h0M344 932h0M361 990h0M415 867h0M363 924h0M412 977h0M338 1045h0M394 1019h0M401 963h0M318 986h0M292 974h0M302 935h0M377 975h0M381 923h0M278 961h0M332 999h0M376 954h0M362 1047h0M386 1005h0M370 959h0M300 1044h0M324 1054h0M372 934h0M408 932h0M417 960h0M303 1022h0M393 962h0M382 914h0M407 974h0M327 974h0M370 1010h0M323 1037h0M399 1014h0M373 952h0M353 974h0M308 933h0M307 950h0M316 961h0M351 943h0M371 1019h0M361 1033h0M327 976h0M363 984h0M416 941h0M335 963h0M364 1049h0M390 941h0M400 1010h0M320 1027h0M354 983h0M421 979h0M309 959h0M310 1023h0M358 939h0M360 1030h0M412 938h0M399 1004h0M365 939h0M333 924h0M360 929h0M380 915h0M332 967h0M324 955h0M404 971h0M376 989h0M340 1061h0M290 1004h0M387 987h0M308 977h0M401 953h0M302 990h0M403 991h0M369 984h0M363 982h0M357 964h0M319 984h0M405 955h0M375 975h0M374 968h0M349 975h0M314 1026h0M276 989h0M376 968h0M322 1034h0M325 1011h0M416 981h0M318 985h0M312 1047h0M360 1019h0M338 922h0M374 959h0M433 856h0M356 980h0M394 978h0M326 1011h0M326 1055h0M284 1006h0M297 964h0M339 987h0M367 1043h0M341 1053h0M323 1011h0M392 925h0M324 1044h0M322 1043h0M333 940h0M349 974h0M281 1002h0M355 939h0M317 1053h0M293 990h0M299 1040h0M409 968h0M419 976h0M374 1009h0M388 1010h0M354 924h0M324 930h0M281 980h0M318 978h0M337 980h0M289 976h0M356 968h0M318 980h0M303 1036h0M324 1037h0M367 963h0M356 1046h0M340 1026h0M320 951h0M359 1017h0M325 938h0M370 906h0M373 937h0M408 889h0M357 954h0M390 965h0M327 988h0M328 989h0M361 933h0M332 952h0M321 1004h0M276 1014h0M328 1002h0M351 1018h0M349 1016h0M393 895h0M363 971h0M337 976h0M427 868h0M414 877h0M340 983h0M289 1004h0M326 942h0M398 885h0M394 920h0M373 996h0M360 1002h0M419 951h0M366 915h0M395 992h0M367 991h0M422 976h0M309 960h0M418 954h0M360 1000h0M350 941h0M367 1013h0M296 955h0M349 1054h0M371 1029h0M382 915h0M276 1002h0M313 1014h0M368 1032h0M281 983h0M303 973h0M293 971h0M320 949h0M324 1023h0M360 971h0M339 936h0M407 916h0M308 1028h0M292 1036h0M305 939h0M408 930h0M317 1017h0M294 1025h0M366 962h0M418 871h0M284 1000h0M394 1022h0M354 1039h0M303 960h0M323 948h0M353 1029h0M380 1029h0M393 910h0M306 974h0M275 1004h0M317 955h0M296 992h0M322 954h0M281 990h0M395 900h0M409 886h0M354 973h0M327 999h0M275 1025h0M412 872h0M347 1053h0M307 971h0M371 965h0M312 1006h0M388 943h0M276 979h0M276 985h0M412 977h0M295 1036h0M311 1023h0M393 949h0M330 1015h0M289 970h0M356 1024h0M301 937h0M323 959h0M343 1054h0M359 993h0M357 1020h0M344 1021h0M305 943h0M366 985h0M318 967h0M388 1021h0M363 986h0M345 1009h0M306 958h0M407 950h0M305 1029h0M348 1001h0M328 1048h0M400 1004h0M353 1009h0M311 1021h0M296 955h0M377 923h0M323 945h0M366 928h0M380 994h0M311 941h0M286 971h0M324 954h0M427 954h0M376 931h0M357 1040h0M287 985h0M347 925h0M415 937h0M388 994h0M283 993h0M323 970h0M372 938h0M284 1036h0M392 906h0M350 933h0M307 991h0M407 878h0M329 947h0M363 1011h0M304 998h0M379 1002h0M341 1053h0M423 980h0M378 986h0M373 1037h0M367 912h0M303 967h0M420 975h0M370 960h0M349 993h0M383 922h0M387 950h0M292 967h0M304 995h0M304 947h0M324 933h0M358 1021h0M366 972h0M310 942h0M405 976h0M316 1023h0M338 1044h0M334 997h0M371 989h0M407 948h0M301 959h0M399 966h0M375 1013h0M383 951h0M391 909h0M384 968h0M302 984h0M294 1031h0M397 889h0M414 994h0M386 982h0M345 1047h0M324 1000h0M363 1043h0M293 1001h0M370 1019h0M317 926h0M382 1020h0M283 994h0M352 955h0M330 999h0M359 1035h0M315 1017h0M349 923h0M349 1048h0M310 948h0M325 968h0M355 974h0M306 1045h0M380 954h0M339 1003h0M324 997h0M355 953h0M339 1056h0M400 872h0M415 998h0M312 968h0M353 959h0M388 963h0M287 1007h0M394 898h0M324 1026h0M335 1032h0M304 957h0M391 957h0M321 986h0"/><path stroke="#f8d840" d="M307 940h0M392 1027h0M427 980h0M414 992h0M291 979h0M321 935h0M426 868h0M334 931h0M402 963h0M301 954h0M348 927h0M312 1041h0M267 1016h0M380 938h0M291 964h0M300 1018h0M411 883h0M311 948h0M328 1074h0M293 975h0M303 1024h0M341 931h0M364 1020h0M374 907h0M359 1024h0M401 1011h0M305 950h0M373 930h0M320 1039h0M390 949h0M283 1001h0M417 954h0M403 944h0M368 1021h0M288 1009h0M360 907h0M378 939h0M378 928h0M381 1032h0M365 919h0M335 935h0M389 1009h0M290 959h0M355 1030h0M388 992h0M294 959h0M289 989h0M285 975h0M320 1028h0M352 1025h0M402 939h0M379 936h0M297 1035h0M357 1022h0M398 975h0M291 962h0M349 1023h0M323 935h0M345 1048h0M343 1076h0M330 1037h0M299 1033h0M368 924h0M287 1065h0M378 1017h0M335 1028h0M396 1005h0M294 1065h0M312 1026h0M288 981h0M360 929h0M352 930h0M388 947h0M360 920h0M414 876h0M407 866h0M388 932h0M312 1024h0M375 1031h0M391 987h0M399 959h0M388 1021h0M408 975h0M323 929h0M293 998h0M323 1030h0M388 941h0M393 949h0M428 998h0M368 1028h0M374 1013h0M392 929h0M396 1007h0M289 970h0M337 1040h0M324 1070h0M290 1005h0M314 1040h0M328 1042h0M338 915h0M413 969h0M306 1058h0M291 982h0M334 936h0M387 927h0M386 994h0M399 989h0M360 1021h0M278 986h0M353 917h0M368 933h0"/><path stroke="#fce080" d="M355 1023h0M391 1000h0M289 995h0M404 993h0M274 1001h0M411 986h0M413 992h0M340 1050h0M310 1046h0M405 945h0M350 924h0M339 1026h0M351 1022h0M380 1009h0M348 933h0M284 971h0M271 962h0M388 947h0M402 968h0M305 1028h0M297 1013h0M290 1030h0M357 1038h0M283 992h0M396 963h0M382 1006h0M422 864h0M398 983h0M392 887h0M406 964h0M339 925h0M289 1021h0M365 1024h0M382 903h0M367 1012h0M378 1006h0M332 1044h0M379 898h0M410 952h0M366 1043h0M410 991h0M273 974h0M341 1049h0M391 1008h0M385 932h0M328 1042h0M411 949h0M389 935h0M309 1051h0M408 967h0M389 994h0M360 923h0M377 1021h0M312 941h0M285 1001h0M330 1036h0M387 901h0M295 969h0M380 940h0M412 982h0M346 1033h0M322 941h0M404 984h0M380 940h0M337 1053h0M311 935h0M346 932h0M443 848h0M421 1000h0M327 1054h0M417 986h0M394 972h0"/><path stroke="#f0c000" d="M380 940h0M298 1009h0M282 970h0M280 969h0M400 1002h0M347 1030h0M335 1026h0M324 1029h0M377 923h0M402 915h0M343 1053h0M389 1019h0M380 1038h0M370 1037h0M282 974h0M305 941h0M280 1004h0M353 927h0M314 1045h0M415 969h0M289 994h0M415 930h0M337 1029h0M293 1015h0M362 1033h0M411 877h0M386 939h0M320 1028h0M315 1034h0M346 1046h0M340 1035h0M381 1057h0M387 992h0M429 991h0M424 936h0M365 924h0M391 1009h0M377 917h0M316 1034h0M408 953h0M437 869h0M367 1024h0M409 915h0M267 1029h0M288 1027h0M394 983h0M418 883h0M280 1016h0M335 1049h0M274 1031h0M283 985h0M346 1037h0M398 969h0M274 980h0M422 987h0M318 1033h0M410 974h0M319 1032h0M398 990h0M332 1025h0M382 1000h0M388 891h0M395 1007h0M339 1041h0M393 948h0M338 1058h0M379 1026h0M304 1061h0M323 1040h0M315 1036h0M393 935h0M317 1050h0M421 950h0M421 981h0M400 994h0M396 964h0M369 1011h0M305 943h0M339 930h0M331 1032h0M406 958h0M295 949h0M352 1036h0M334 933h0M394 984h0M267 1007h0M384 998h0M373 1007h0M386 935h0M273 1048h0M408 956h0M413 988h0M416 923h0M317 1029h0M296 1049h0M340 916h0M404 959h0M383 928h0M287 1025h0M370 934h0M290 978h0M358 1025h0M300 1018h0M366 1063h0M298 960h0M407 949h0M430 996h0M405 983h0M282 977h0M368 1021h0M292 954h0M290 960h0M285 968h0M368 1033h0M298 1030h0M309 1072h0M289 994h0M397 958h0M277 972h0M328 1044h0M387 919h0M356 926h0M324 928h0M305 1042h0M289 969h0M369 1026h0M399 929h0M388 1012h0M378 939h0M388 1032h0M349 1046h0M276 1057h0M391 916h0M405 885h0M328 1053h0M356 923h0M392 934h0M414 971h0M316 942h0M308 1043h0M298 1019h0M426 859h0M422 985h0M405 891h0M284 1008h0M434 951h0M411 964h0M314 1056h0M339 1031h0M290 1069h0M400 877h0M363 916h0M394 973h0M330 1056h0M403 996h0M406 1005h0M362 1053h0M368 1020h0M418 925h0M389 1005h0M397 949h0M311 932h0M402 972h0M425 994h0M292 1013h0M289 1018h0M420 968h0M323 1041h0M278 981h0M289 1009h0M388 997h0M426 950h0M405 903h0M408 958h0M327 1032h0"/><path stroke="#e8b800" d="M344 969h0M340 940h0M348 976h0M387 950h0M336 1002h0M330 977h0M303 986h0M387 986h0M379 993h0M335 1007h0M326 974h0M363 964h0M357 937h0M331 1020h0M375 960h0M357 987h0M354 968h0M357 978h0M326 973h0M340 981h0M317 978h0M348 968h0M350 949h0M315 963h0M371 958h0M349 976h0M307 1014h0M369 950h0M350 956h0M333 993h0M357 1017h0M356 1007h0M309 1002h0M305 998h0M340 976h0M347 1001h0M352 960h0M370 992h0M330 975h0M337 965h0M334 1002h0M392 976h0M318 993h0M346 992h0M305 1000h0M389 976h0M357 973h0M298 963h0M294 974h0M323 990h0M345 958h0M341 984h0M337 949h0M297 1005h0M319 957h0M370 983h0M354 962h0M367 944h0M386 953h0M388 952h0M328 981h0M351 959h0M320 982h0M353 1005h0M297 1002h0M334 959h0M366 975h0M373 979h0M349 965h0M336 972h0M351 972h0M365 986h0M365 965h0M391 978h0M334 954h0M361 983h0M319 1008h0M371 992h0M380 975h0M338 946h0M337 954h0M361 975h0M343 952h0M331 968h0M361 986h0M377 979h0M373 953h0M369 1006h0M330 962h0M357 982h0M309 965h0M305 990h0M349 987h0M335 990h0M387 971h0M339 951h0M334 1004h0M325 1019h0M315 993h0M389 967h0M324 998h0M323 959h0M361 978h0M359 989h0M350 952h0M312 982h0M340 966h0M350 979h0M307 1016h0M362 986h0M343 983h0M312 987h0M358 979h0M310 1000h0M317 1012h0M330 992h0M342 1011h0M345 936h0M350 971h0M321 956h0M374 943h0M327 959h0M334 948h0M324 973h0M335 964h0M363 981h0M360 958h0M326 1001h0M352 959h0M353 982h0M373 962h0M337 950h0M317 958h0M317 981h0M374 971h0M333 946h0M363 1002h0M327 981h0M377 942h0M356 987h0M321 972h0M331 957h0M353 949h0M364 968h0M319 1000h0M318 960h0M360 960h0M293 989h0M363 957h0M299 989h0M385 975h0M312 979h0M312 970h0M349 966h0M355 980h0M341 998h0M324 978h0M373 965h0M298 967h0M325 988h0M325 1024h0M344 939h0M359 976h0M365 977h0M363 1003h0M335 994h0M358 975h0M350 999h0M314 963h0M369 953h0M321 992h0M332 951h0M352 966h0M339 1007h0M365 983h0M352 981h0M336 951h0M368 995h0M339 1018h0M333 946h0M359 944h0M325 997h0M334 961h0M340 1011h0M320 962h0M358 978h0M336 1000h0M355 942h0M347 979h0M304 970h0M312 960h0M369 1008h0M309 1009h0M353 966h0M381 951h0M348 978h0M345 994h0M371 990h0M350 1008h0M297 974h0M323 991h0M311 951h0M376 966h0M344 977h0M345 1003h0M323 1004h0M327 987h0M313 982h0M343 946h0M345 955h0M366 984h0M322 988h0M367 993h0M347 969h0M349 993h0M368 988h0M339 1000h0M366 1003h0M328 997h0M319 981h0M338 983h0M320 950h0M308 971h0M331 954h0M311 969h0M371 982h0M322 985h0M358 979h0M351 978h0M321 957h0M316 1004h0M327 999h0M313 975h0M297 1004h0M303 961h0M333 1014h0M336 997h0M308 972h0M381 966h0M317 1016h0M321 1008h0M358 960h0M386 949h0M353 943h0M358 951h0M374 964h0M355 955h0M384 993h0M335 986h0M319 999h0M329 948h0M351 990h0M318 976h0M389 977h0M352 991h0M369 943h0M375 963h0M345 967h0M361 974h0M349 972h0M341 964h0M334 952h0M330 1024h0M370 948h0M383 960h0M348 978h0M313 964h0M374 948h0M357 997h0M356 988h0"/><path stroke="#f8d020" d="M312 974h0M351 981h0M348 985h0M333 1010h0M349 986h0M302 973h0M386 990h0M346 977h0M325 971h0M344 958h0M345 953h0M331 1001h0M335 971h0M336 1014h0M326 953h0M325 953h0M298 986h0M348 949h0M321 980h0M322 984h0M328 963h0M324 979h0M363 979h0M378 962h0M320 989h0M327 979h0M345 949h0M370 1005h0M332 948h0M355 984h0M357 990h0M360 977h0M345 1016h0M374 962h0M327 969h0M341 973h0M316 1002h0M363 993h0M366 986h0M336 974h0M334 954h0M341 995h0M382 944h0M344 977h0M385 956h0M361 940h0M345 980h0M341 946h0M313 962h0M377 980h0M307 988h0M307 986h0M362 971h0M321 987h0M338 1024h0M370 992h0M313 974h0M316 1006h0M318 953h0M365 976h0M329 986h0M349 976h0M307 964h0M376 944h0M340 979h0M298 994h0M348 952h0M315 984h0M345 949h0M308 965h0M369 946h0M383 970h0M318 957h0M365 986h0M334 987h0M352 958h0M357 969h0M358 960h0M350 978h0M360 956h0M373 1007h0M356 964h0M341 971h0M346 969h0M315 1021h0M338 999h0M314 981h0M367 988h0M383 954h0M349 958h0M302 979h0M339 950h0M377 1000h0M325 976h0M367 990h0M383 966h0M314 998h0M347 993h0M371 982h0M295 975h0M360 997h0M309 1002h0M374 952h0M303 969h0M322 958h0M329 967h0M295 982h0M339 1008h0M317 976h0M328 975h0M355 962h0M346 1023h0M323 999h0M389 954h0M336 969h0M383 980h0M336 986h0M348 968h0M351 995h0M319 984h0M372 951h0M378 940h0M326 995h0M324 985h0M363 947h0M320 1014h0M358 968h0M378 952h0M351 966h0M307 989h0M363 953h0M344 964h0M360 1003h0M385 968h0M347 970h0M338 978h0M298 990h0M329 949h0M370 968h0M393 970h0M355 962h0M349 986h0"/><path stroke="#686868" d="M429 997h0M424 926h0M381 1048h0M436 978h0M283 1099h0M423 921h0M452 938h0M299 1078h0M426 881h0M433 970h0M467 820h0M384 871h0M443 883h0M263 1023h0M444 885h0M285 1066h0M296 1109h0M350 1111h0M278 954h0M295 925h0M350 1068h0M463 917h0M336 1093h0M439 919h0M322 910h0M267 1037h0M307 1083h0M429 931h0M373 1060h0M487 989h0M446 848h0M391 1082h0M404 1038h0M359 1066h0M315 919h0M328 1081h0M315 912h0M416 1009h0M463 1006h0M415 1051h0M371 876h0M413 1015h0M381 1052h0M450 1007h0M317 1077h0M464 829h0M438 966h0M438 867h0M335 1094h0M476 947h0M271 953h0M282 1051h0M452 857h0M303 1062h0M378 1076h0M439 851h0M463 905h0M503 944h0M285 1093h0M406 1062h0M399 870h0M426 994h0M407 901h0M457 1004h0M332 1086h0M386 867h0M291 1067h0M442 1058h0M293 1066h0M433 967h0M314 1096h0M445 971h0M318 1088h0M278 941h0M446 1046h0M259 1026h0M457 839h0M275 1040h0M438 932h0M465 824h0M435 876h0M356 1103h0M436 913h0M384 1044h0M440 837h0M428 909h0M438 863h0M313 1074h0M401 1051h0M409 1022h0M408 910h0M438 846h0M355 1070h0M388 866h0M416 891h0M355 1069h0M403 1050h0M448 940h0M296 923h0M475 1049h0M401 1067h0M407 902h0M269 1054h0M365 1085h0M459 847h0M333 910h0M409 1061h0M478 951h0M428 1009h0M423 930h0M461 982h0M357 1064h0M446 858h0M417 911h0M305 1102h0M461 949h0M335 915h0M271 1069h0M367 1091h0M453 980h0M422 888h0M417 1081h0M338 915h0M462 992h0M412 853h0M450 1021h0M297 1062h0M485 979h0M435 848h0M365 894h0M376 1082h0M456 851h0M280 1056h0M487 951h0M447 836h0M463 831h0M282 1092h0M368 1055h0M466 908h0M424 880h0M455 1032h0M464 889h0M294 932h0M363 1059h0M288 934h0M266 967h0M326 1106h0M429 880h0M344 1068h0M339 1087h0M388 1070h0M346 1064h0M340 1106h0M357 1068h0M420 892h0M472 1096h0M292 1069h0M365 1114h0M431 878h0M436 1023h0M453 1000h0M430 939h0M311 1093h0M411 1045h0M292 932h0M270 958h0M299 1103h0M386 880h0M426 1014h0M292 1085h0M442 948h0M280 947h0M477 933h0M447 1047h0M430 875h0M436 995h0M272 951h0M354 1073h0M422 917h0M438 927h0M458 922h0M455 951h0M433 1005h0M300 920h0M290 924h0M436 1027h0M412 862h0M276 1098h0M368 1105h0M434 1043h0M383 1066h0M402 1039h0M426 846h0M445 947h0M417 892h0M292 1094h0M317 1079h0M419 1062h0M322 913h0M475 943h0M261 997h0M319 1080h0M396 872h0M312 919h0M393 868h0M435 1041h0M287 1070h0M437 984h0M277 937h0M462 943h0M364 892h0M397 1067h0M469 948h0M332 911h0M412 1025h0M319 1077h0M408 1051h0M326 1108h0M260 1035h0M438 1030h0M264 1067h0M445 967h0M416 857h0M415 842h0M466 940h0M312 1094h0M367 1091h0M282 925h0M434 921h0M393 1072h0M452 934h0M372 1078h0M310 1092h0M462 1025h0M268 986h0M316 1087h0M276 952h0M465 834h0M338 1100h0M417 1023h0M267 1082h0M424 887h0M315 911h0M441 887h0M452 941h0M399 1042h0M299 1101h0M391 1044h0M431 1090h0M327 1085h0M269 983h0M420 925h0M369 1060h0M464 1004h0M328 1100h0M478 982h0M426 1068h0M403 1026h0M259 953h0M392 1084h0M442 855h0M334 1083h0M448 1046h0M396 850h0M272 1058h0M334 914h0M332 914h0M428 1073h0M453 839h0M456 990h0M404 1048h0M441 934h0M461 874h0M383 1047h0M466 956h0M422 1072h0M361 1068h0M316 1110h0M430 1027h0M298 924h0M380 1087h0M410 1077h0M469 817h0M350 1075h0M410 853h0M429 914h0M410 846h0M463 972h0M461 995h0M332 1084h0M268 1063h0M389 872h0M358 1100h0M266 1035h0M353 908h0M377 1073h0M445 847h0M331 1091h0M466 812h0M448 845h0M391 1113h0M352 913h0M387 1101h0M324 1101h0M296 1078h0M278 1054h0M446 1075h0M415 1013h0M383 1066h0M431 1047h0M312 1084h0M425 926h0M349 1100h0M357 910h0M399 1038h0M430 1011h0M363 908h0M268 1059h0M421 908h0M419 897h0M331 1107h0M290 1065h0M316 915h0M285 1070h0M305 911h0M294 1070h0M358 1075h0M458 835h0M376 1077h0M428 932h0M423 1067h0M325 1072h0M296 1074h0M443 991h0M271 1097h0M424 1095h0M269 1084h0M422 835h0M416 912h0M365 1090h0M416 918h0M446 959h0M406 1088h0M461 917h0M311 1112h0M398 1053h0M385 879h0M397 1054h0M415 915h0M343 915h0M365 1097h0M415 1021h0M376 878h0M442 838h0M386 1085h0M441 1022h0M274 927h0M458 968h0M290 1082h0M322 1084h0M457 835h0M451 1111h0M313 918h0M265 1023h0M446 1071h0M420 908h0M445 923h0M281 945h0M438 1102h0M281 1067h0M362 1105h0M424 1007h0M419 1089h0M311 1087h0M362 1074h0M301 927h0M267 925h0M434 944h0M427 931h0M305 1095h0M422 914h0M274 1071h0M397 1032h0M267 1045h0M381 1099h0M416 914h0M428 921h0M459 843h0M324 1084h0M454 832h0M354 905h0M431 1029h0M408 1023h0M299 1072h0M383 1047h0"/><path stroke="#787878" d="M419 895h0M265 1085h0M363 1095h0M269 937h0M441 943h0M330 1103h0M261 1018h0M455 938h0M362 1101h0M426 904h0M441 998h0M413 1079h0M552 845h0M445 857h0M363 895h0M445 920h0M369 1093h0M327 1096h0M289 1080h0M307 923h0M333 914h0M375 884h0M311 1096h0M447 932h0M467 984h0M388 1055h0M456 1001h0M447 986h0M388 1065h0M499 824h0M447 1002h0M279 1076h0M327 916h0M279 1081h0M434 1031h0M494 796h0M430 891h0M416 905h0M381 865h0M432 916h0M432 877h0M279 1064h0M460 837h0M321 915h0M294 1094h0M447 924h0M415 847h0M448 945h0M450 816h0M269 1085h0M419 851h0M290 1074h0M441 1026h0M386 855h0M332 1100h0M464 934h0M369 1079h0M352 1101h0M323 1113h0M325 1079h0M309 1073h0M264 960h0M308 917h0M451 996h0M482 951h0M374 1080h0M340 1097h0M283 914h0M263 1087h0M282 1113h0M396 867h0M269 943h0M279 933h0M409 1076h0M455 1093h0M373 1071h0M371 885h0M275 1083h0M375 881h0M465 981h0M443 1002h0M458 1039h0M530 910h0M432 1011h0M417 894h0M398 860h0M309 1101h0M398 1072h0M443 976h0M488 808h0M281 916h0M266 1003h0M364 900h0M431 1040h0M278 1068h0M353 1076h0M280 936h0M264 1090h0M456 955h0M287 1084h0M315 1104h0M461 840h0M423 906h0M454 839h0M386 1107h0M460 847h0M389 1098h0M278 939h0M360 1111h0M469 848h0M457 982h0M460 839h0M271 1104h0M417 1064h0M413 1037h0M444 910h0M344 1107h0M457 848h0M419 910h0M420 892h0M285 1095h0M271 1069h0M283 937h0M294 1094h0M367 1074h0M448 925h0M411 1036h0M447 929h0M452 947h0M445 954h0M424 1028h0M331 1093h0M431 882h0M438 833h0M458 977h0M307 1089h0M442 1079h0M353 1069h0M462 948h0M388 1062h0M428 888h0M427 837h0M460 989h0M286 1071h0M374 1114h0M448 958h0M439 993h0M345 1080h0M403 1050h0M451 924h0M298 909h0M267 1074h0M354 1086h0M415 1057h0M277 1065h0M427 914h0M266 935h0M362 1073h0M433 1061h0M395 1067h0M458 1021h0M391 870h0M439 918h0M424 1033h0M384 1073h0M366 1079h0M364 899h0M380 1072h0M465 859h0M299 915h0M303 1076h0M456 937h0M263 963h0M447 1096h0M436 1020h0M356 1088h0M450 864h0M320 1099h0M452 962h0M368 1107h0M443 1002h0M424 1057h0M343 1074h0M377 1111h0M264 971h0M432 1020h0M267 946h0M263 1080h0M256 959h0M426 1055h0M399 1082h0M391 1053h0M382 1061h0M425 888h0M358 1098h0M410 858h0M308 1103h0M446 838h0M357 900h0M459 931h0M463 955h0M271 935h0M299 1111h0M408 1083h0M435 1108h0M309 1097h0M429 907h0M456 836h0M305 1102h0M424 909h0M393 1090h0M372 1092h0M371 892h0M464 976h0M295 1084h0M263 974h0M271 1065h0M450 992h0M463 839h0M444 962h0M431 908h0M295 923h0M269 948h0M346 1077h0M443 837h0M355 1078h0M447 910h0M287 1074h0M397 1043h0M448 965h0M389 1067h0M450 949h0M274 945h0M481 1039h0M424 1022h0M442 982h0M462 944h0M347 1111h0M456 924h0M314 1110h0M285 1079h0M421 1012h0M460 819h0M276 940h0M324 1113h0M449 849h0M355 1070h0M460 824h0M286 919h0M315 1082h0M478 939h0M379 857h0M470 1062h0M453 967h0M339 1101h0M338 1080h0M335 1098h0M453 845h0M266 1086h0M292 916h0M280 925h0M358 880h0M423 894h0M398 1048h0M480 967h0M413 1042h0M472 1047h0M437 1012h0M286 1085h0M342 899h0M364 1112h0M303 1103h0M268 937h0M407 1039h0M263 999h0M441 1012h0M455 850h0M332 1084h0M268 1063h0M429 1049h0M431 844h0M481 856h0M458 969h0M264 1048h0M432 1065h0M286 1081h0M364 1105h0M421 893h0M285 1082h0M304 914h0M448 834h0"/><path stroke="#989898" d="M500 952h0M490 944h0M478 1053h0M441 1044h0M263 921h0M331 908h0M461 818h0M386 1091h0M413 1103h0M412 843h0M445 1054h0M356 1112h0M485 953h0M417 844h0M458 896h0M266 1092h0M264 1054h0M420 830h0M463 1036h0M435 835h0M415 843h0M409 1098h0M266 1088h0M263 981h0M419 1090h0M455 868h0M426 1071h0M442 1094h0M469 1018h0M470 814h0M468 975h0M466 1036h0M420 828h0M464 981h0M271 1088h0M398 1084h0M456 909h0M357 889h0M484 976h0M357 1113h0M474 1018h0M476 1075h0M380 1100h0M458 863h0M462 885h0M442 1065h0M535 790h0M371 1109h0M298 913h0M462 813h0M478 909h0M499 1008h0M467 873h0M460 1005h0M474 846h0M444 1093h0M509 1091h0M468 1035h0M453 812h0M434 1059h0M475 930h0M479 941h0M466 1063h0M475 939h0M415 1070h0M261 1002h0M263 954h0"/><path stroke="#d86000" d="M370 994h0M346 945h0M325 951h0M303 987h0M364 985h0M339 966h0M299 976h0M373 992h0M345 996h0M345 978h0M356 968h0M325 1005h0M384 951h0M353 986h0M370 970h0M306 973h0M388 958h0M338 1016h0M325 965h0M390 972h0M323 954h0M359 987h0M352 964h0M314 984h0M371 998h0M342 951h0M372 976h0M343 981h0M326 949h0M305 981h0M333 942h0M344 960h0M331 1007h0M312 955h0M367 968h0M321 971h0M319 970h0M367 952h0M329 986h0M328 981h0M327 970h0M354 957h0M304 1008h0M389 955h0M307 986h0M330 975h0M377 958h0M315 962h0M337 986h0M297 985h0M345 953h0M374 967h0M344 954h0M326 1018h0M373 959h0M298 1006h0M343 945h0M374 995h0M334 1003h0M297 985h0M339 1007h0M354 945h0M364 958h0M332 964h0M331 983h0M386 991h0M348 981h0M335 941h0M375 951h0M314 966h0M351 1017h0M336 971h0M305 1001h0M340 985h0M309 965h0M338 1003h0M337 1020h0M316 952h0M336 1012h0M336 993h0M387 987h0M303 980h0M341 989h0M368 1008h0M313 951h0M383 951h0M333 968h0M367 957h0M372 961h0M353 978h0M317 976h0"/><path stroke="#f6e4a0" d="M411 852h0M435 1000h0M441 831h0M282 1100h0M271 1074h0M480 1100h0M406 848h0M263 1079h0M375 1067h0M486 958h0M287 1069h0M280 1069h0M453 1014h0M471 831h0M447 969h0M338 1095h0M467 923h0M397 1049h0M408 1077h0M458 962h0M262 1075h0M468 972h0M408 858h0M431 1105h0M472 947h0M363 1071h0"/><path stroke="#f0c848" d="M339 908h0M268 1104h0M520 996h0M339 1083h0M443 1014h0M454 940h0M413 1038h0M275 1073h0M472 955h0M429 897h0M362 1082h0M387 1076h0M476 1002h0M310 1096h0M446 906h0"/><path stroke="#e8a800" d="M416 873h0M399 912h0M311 1040h0M354 1031h0M429 866h0M368 1013h0M335 1031h0M350 929h0M421 981h0M376 1015h0M310 948h0M292 1045h0M380 933h0M300 1011h0M353 1027h0M422 862h0M300 1039h0M387 1013h0M274 1008h0M398 901h0M394 891h0M397 923h0M377 1009h0M388 1013h0M292 1027h0M363 929h0M412 972h0M298 1015h0M389 935h0M393 990h0M412 1023h0M325 1035h0M310 1046h0M273 1021h0M361 933h0M400 1005h0M304 1029h0M278 1004h0M305 1042h0M318 1026h0M311 1020h0M377 1016h0M411 972h0M284 992h0M374 900h0M386 940h0M370 1021h0M342 926h0M293 954h0M277 1016h0M332 1053h0M313 1061h0M368 1018h0M343 932h0M322 1041h0M281 992h0M371 1038h0M384 1002h0M292 1023h0M287 985h0M319 942h0M339 1048h0M292 1035h0M411 887h0M304 1048h0M416 863h0M396 970h0M361 922h0M272 1032h0M422 923h0M315 936h0M395 957h0M308 1024h0M373 918h0M309 1029h0M411 961h0M281 946h0M411 1010h0M380 937h0M336 1040h0M320 928h0M344 928h0M361 1026h0M311 1024h0M382 1017h0M314 1041h0M336 1034h0M386 938h0M287 1019h0M397 974h0"/><path stroke="#f0d060" d="M456 959h0M373 886h0M448 995h0M330 1089h0M432 1095h0M394 1108h0M381 1086h0M270 1082h0M371 1106h0M413 1045h0"/><path stroke="#a8a8a8" d="M449 820h0M540 853h0M556 854h0M450 1111h0M481 802h0M504 1098h0M254 1075h0M451 1052h0M361 877h0M531 875h0M493 1093h0M506 957h0M438 1108h0M366 863h0M449 885h0"/></g><g stroke-width="3.6" fill="none" filter="url(#bl)"><path d="M262 1116.9H267" stroke="#f0b060"/><path d="M266 1116.9H425" stroke="#ec7085"/><path stroke="#f4d8a0" d="M425.0 1116.9h4.5M452.2 1116.9h6.1"/><path stroke="#fcd870" d="M430.5 1116.9h5.2M446.3 1116.9h5.5"/><path stroke="#f0a070" d="M438.0 1116.9h5.4M473.2 1116.9h5.0M489.4 1116.9h7.4"/><path stroke="#f8c090" d="M459.6 1116.9h6.4"/><path stroke="#fce8b8" d="M466.7 1116.9h4.2"/><path stroke="#f8e0a0" d="M480.9 1116.9h7.3"/></g>
<path d="M139.4 1119.4H150.4M144.4 1091.4H150.4M144.4 1075H150.4M144.4 1063.3H150.4M144.4 1054.3H150.4M144.4 1046.9H150.4M144.4 1040.7H150.4M144.4 1035.3H150.4M144.4 1030.5H150.4M139.4 1026.2H150.4M144.4 998.2H150.4M144.4 981.8H150.4M144.4 970.2H150.4M144.4 961.1H150.4M144.4 953.7H150.4M144.4 947.5H150.4M144.4 942.1H150.4M144.4 937.3H150.4M139.4 933.1H150.4M144.4 905H150.4M144.4 888.6H150.4M144.4 877H150.4M144.4 868H150.4M144.4 860.6H150.4M144.4 854.4H150.4M144.4 848.9H150.4M144.4 844.2H150.4M139.4 839.9H150.4M144.4 811.9H150.4M144.4 795.5H150.4M144.4 783.8H150.4M144.4 774.8H150.4M144.4 767.4H150.4M144.4 761.2H150.4M144.4 755.8H150.4M144.4 751H150.4M139.4 746.8H150.4M144.4 718.7H150.4M144.4 702.3H150.4M144.4 690.7H150.4M144.4 681.6H150.4M144.4 674.3H150.4M144.4 668H150.4M144.4 662.6H150.4M144.4 657.9H150.4M139.4 653.6H150.4M152.3 1119.4V1131.4M187.2 1119.4V1125.4M207.6 1119.4V1125.4M222.1 1119.4V1125.4M233.4 1119.4V1125.4M242.6 1119.4V1125.4M250.3 1119.4V1125.4M257.1 1119.4V1125.4M263 1119.4V1125.4M268.3 1119.4V1131.4M303.2 1119.4V1125.4M323.6 1119.4V1125.4M338.1 1119.4V1125.4M349.4 1119.4V1125.4M358.6 1119.4V1125.4M366.3 1119.4V1125.4M373.1 1119.4V1125.4M379 1119.4V1125.4M384.3 1119.4V1131.4M419.2 1119.4V1125.4M439.6 1119.4V1125.4M454.1 1119.4V1125.4M465.4 1119.4V1125.4M474.6 1119.4V1125.4M482.3 1119.4V1125.4M489.1 1119.4V1125.4M495 1119.4V1125.4M500.3 1119.4V1131.4M535.2 1119.4V1125.4M555.6 1119.4V1125.4M570.1 1119.4V1125.4M581.4 1119.4V1125.4M590.6 1119.4V1125.4M598.3 1119.4V1125.4M605.1 1119.4V1125.4M611 1119.4V1125.4M616.3 1119.4V1131.4" stroke="#a3a3a3" stroke-width="2" fill="none"/>
<path d="M141.4 653.6H618.2" stroke="#a8a8a8" stroke-width="2" fill="none"/>
<path d="M618.2 653.6V1119.4" stroke="#c8c8c8" stroke-width="1.6" fill="none"/>
<path d="M150.4 653.6V1119.4H618.2" stroke="#a3a3a3" stroke-width="2.4" fill="none"/>
<rect x="152.6" y="699.6" width="463.5" height="211.9" rx="1.5" fill="none" stroke="#ff2424" stroke-width="2.2"/>
<text x="154.8" y="690.6" font-family='"Liberation Sans", sans-serif' font-size="21.5" fill="#ff2424" stroke="#ff2424" stroke-width="0.8" textLength="116.9" lengthAdjust="spacing">Dead: 6.3%</text>
<text x="411.5" y="642.7" font-family='"Liberation Serif", serif' font-weight="bold" font-size="42.5" fill="#000" textLength="203" lengthAdjust="spacingAndGlyphs">WS4 I 24h</text>
<text x="17.3" y="648.8" font-family='"Liberation Serif", serif' font-weight="bold" font-size="41" fill="#000" textLength="49.5" lengthAdjust="spacingAndGlyphs">(c)</text>
<text x="105.1" y="651.4" font-family='"Liberation Serif", serif' font-size="26" fill="#000">10<tspan dx="0.4" dy="-11.8" font-size="16.2">6</tspan></text>
<text x="101.9" y="741.8" font-family='"Liberation Serif", serif' font-size="26" fill="#000">10<tspan dx="0.4" dy="-11.8" font-size="16.2">5</tspan></text>
<text x="103.2" y="834" font-family='"Liberation Serif", serif' font-size="26" fill="#000">10<tspan dx="0.4" dy="-11.8" font-size="16.2">4</tspan></text>
<text x="104.7" y="926.8" font-family='"Liberation Serif", serif' font-size="26" fill="#000">10<tspan dx="0.4" dy="-11.8" font-size="16.2">3</tspan></text>
<text x="103.8" y="1022.7" font-family='"Liberation Serif", serif' font-size="26" fill="#000">10<tspan dx="0.4" dy="-11.8" font-size="16.2">2</tspan></text>
<text x="104.1" y="1116.8" font-family='"Liberation Serif", serif' font-size="26" fill="#000">10<tspan dx="0.4" dy="-11.8" font-size="16.2">1</tspan></text>
<text x="132.7" y="1163.2" font-family='"Liberation Serif", serif' font-size="26" fill="#000">10<tspan dx="0.4" dy="-11.8" font-size="16.2">2</tspan></text>
<text x="248.7" y="1163.7" font-family='"Liberation Serif", serif' font-size="26" fill="#000">10<tspan dx="0.4" dy="-11.8" font-size="16.2">3</tspan></text>
<text x="359.5" y="1160.6" font-family='"Liberation Serif", serif' font-size="26" fill="#000">10<tspan dx="0.4" dy="-11.8" font-size="16.2">4</tspan></text>
<text x="481.6" y="1160.6" font-family='"Liberation Serif", serif' font-size="26" fill="#000">10<tspan dx="0.4" dy="-11.8" font-size="16.2">5</tspan></text>
<text x="597.6" y="1160.6" font-family='"Liberation Serif", serif' font-size="26" fill="#000">10<tspan dx="0.4" dy="-11.8" font-size="16.2">6</tspan></text>
<text transform="translate(79.3 900.8) rotate(-90)" font-family='"Liberation Sans", sans-serif' font-size="30.5" fill="#1010ff" textLength="29" lengthAdjust="spacingAndGlyphs">P<tspan font-family='&quot;Liberation Mono&quot;, monospace' font-size="31">I</tspan></text>
<path d="M83.3 873.5V900.9" stroke="#1010ff" stroke-width="2.2"/>
<text x="343.3" y="1201" font-family='"Liberation Sans", sans-serif' font-size="29" fill="#1010ff" textLength="77.5" lengthAdjust="spacingAndGlyphs">SSC-A</text>
<path d="M344.7 1204H422.8" stroke="#1010ff" stroke-width="2.4"/>
<g filter="url(#bl)" stroke-linecap="round" stroke-width="2.6" fill="none"><path stroke="#484848" d="M1109 1010h0M967 946h0M1085 856h0M1030 872h0M960 930h0M1038 1035h0M1103 982h0M1051 927h0M1083 888h0M1082 1012h0M1029 926h0M1096 856h0M970 936h0M1054 1063h0M1073 930h0M999 1046h0M970 949h0M948 1031h0M1062 1050h0M1010 893h0M1061 864h0M958 1068h0M1084 955h0M1093 843h0M1003 1071h0M1081 952h0M1122 959h0M945 957h0M1087 951h0M1080 976h0M1042 1033h0M966 1056h0M1029 895h0M1036 937h0M1118 982h0M986 943h0M980 1068h0M1101 930h0M953 1051h0M1008 1073h0M1087 1030h0M1054 877h0M1012 933h0M995 1054h0M1072 932h0M946 953h0M1044 1032h0M1088 991h0M1034 1031h0M953 947h0M1044 905h0M1105 987h0M1109 977h0M1118 964h0M1002 923h0M962 1043h0M1095 1004h0M1097 942h0M1029 886h0M1065 1038h0M969 1059h0M1024 1071h0M1094 974h0M1035 885h0M1078 1021h0M1097 966h0M1088 870h0M1109 981h0M1055 930h0M942 992h0M941 978h0M997 1051h0M966 933h0M1015 1043h0M1038 1044h0M1009 1074h0M947 955h0M1038 931h0M944 1021h0M1097 1013h0M1049 905h0M993 934h0M984 941h0M1056 945h0M964 950h0M1077 1018h0M1050 1028h0M1002 1047h0M1079 982h0M991 1067h0M1113 975h0M1087 952h0M1019 932h0M985 933h0M999 897h0M1068 959h0M1094 942h0M1075 999h0M1006 931h0M1091 963h0M947 948h0M1030 1067h0M1076 991h0M1093 855h0M1069 891h0M941 1008h0M1100 949h0M1075 878h0M939 1012h0M1042 1043h0M978 942h0M1079 1018h0M1060 941h0M1046 930h0M956 1044h0M942 1057h0M1033 1039h0M995 913h0M1030 1052h0M1018 1044h0M949 1049h0M1097 945h0M978 941h0M968 1087h0M967 1048h0M1050 1030h0M973 1046h0M1060 1055h0M1111 964h0M1008 889h0M1049 1048h0M1110 951h0M973 947h0M985 1080h0M1041 885h0M1038 1030h0M1058 917h0M1041 930h0M1075 938h0M1089 975h0M1096 1006h0M1087 991h0M1072 996h0M1044 905h0M994 1057h0M1043 1063h0M943 952h0M953 1064h0M951 1054h0M1025 928h0M1062 1040h0M942 974h0M984 1076h0M941 967h0M963 1046h0M1035 1066h0M989 1054h0M960 1065h0M1016 916h0M1084 964h0M1014 929h0M1042 878h0M1075 1030h0M953 959h0M1090 955h0M1006 930h0M1111 992h0M1047 1037h0M1080 868h0M1013 1048h0M948 949h0M980 1091h0M1069 943h0M1052 931h0M1074 979h0M1112 989h0M1027 902h0M1023 1058h0M1032 1038h0M1064 946h0M1077 956h0M1049 1048h0M1111 994h0M1090 973h0M1084 962h0M1086 965h0M998 923h0M972 945h0M997 1068h0M1089 959h0M960 948h0M1053 922h0M961 1044h0M1048 1054h0M1084 872h0M1098 956h0M1118 939h0M1080 1024h0M941 964h0M1047 1051h0M1029 1038h0M1044 1037h0M962 1049h0M1028 1041h0M1104 946h0M1068 887h0M1007 1079h0M949 1070h0M1055 860h0M958 1034h0M974 1055h0M989 936h0M1075 1016h0M1101 966h0M1024 931h0M949 969h0M1023 1037h0M1066 1008h0M1065 1037h0M1022 1065h0M955 1051h0M1089 1019h0M1078 1006h0M951 951h0M944 968h0M1070 951h0M950 964h0M1096 998h0M1018 930h0M1115 931h0M1038 935h0M1100 979h0M1085 1033h0M955 958h0M1048 1029h0M1071 1000h0M1040 934h0M1059 1024h0M1116 1002h0M1024 889h0M1104 947h0M1006 1084h0M1017 907h0M1064 1026h0M1085 961h0M1106 961h0M1039 1046h0M1010 917h0M1059 932h0M1077 975h0M1083 853h0M1103 976h0M1055 899h0M1104 977h0M1089 955h0M950 966h0M1007 1068h0M987 1048h0M1098 1023h0M974 935h0M1099 1001h0M990 1068h0M1082 1028h0M1103 1000h0M1085 958h0M996 1046h0M1050 1023h0M989 1064h0M1053 898h0M1023 1042h0M1099 974h0M978 1063h0M1067 1018h0M972 950h0M1028 880h0M949 1035h0M1047 912h0M1113 999h0M993 1068h0M1050 928h0M1059 881h0M946 1068h0M1041 937h0M1044 941h0M959 947h0M1098 1024h0M1033 1048h0M1090 988h0M963 949h0M1076 925h0M1077 1001h0M986 1059h0M944 973h0M965 951h0M1034 1059h0M1027 1072h0M1056 1032h0M1038 879h0M940 1003h0M1098 958h0M974 1074h0M1082 948h0M972 928h0M940 1066h0M1037 910h0M942 955h0M1055 943h0M1004 1047h0M1075 882h0M977 944h0M975 937h0M1092 974h0M1045 882h0M999 1061h0M997 936h0M977 928h0M1004 919h0M1088 993h0M941 1054h0M1071 880h0M1084 974h0M974 1069h0M989 1078h0M1070 952h0M968 1052h0M1095 1016h0M1070 930h0M1028 1045h0M1084 866h0M1099 996h0M937 1035h0M1073 944h0M1034 925h0M1011 892h0M1100 854h0M1076 887h0M1115 966h0M980 1057h0M1040 1052h0M952 951h0M976 934h0M1079 882h0M1024 905h0M1087 1036h0M1015 930h0M967 951h0M1018 1069h0M954 966h0M1021 926h0M961 952h0M1025 1064h0M1020 1053h0M941 983h0M1079 960h0M1045 1034h0M1053 889h0M1008 1076h0M1062 1016h0M1049 880h0M1020 1042h0M1082 999h0M1072 948h0M989 1076h0M1098 937h0M958 1045h0M1033 1057h0M1097 1021h0M1068 930h0M1048 922h0M1106 982h0M1097 1006h0M1100 1005h0M1025 891h0M1052 1033h0M1078 885h0M1075 997h0M1070 894h0M1124 981h0M1089 950h0M1061 1036h0M1087 997h0M941 1007h0M1007 1072h0M988 932h0M1084 988h0M1030 1040h0M1061 1031h0"/><path stroke="#282828" d="M1041 948h0M954 982h0M1017 955h0M1018 1039h0M972 999h0M1015 953h0M1029 1005h0M1020 1040h0M1085 982h0M1044 952h0M964 992h0M998 971h0M940 1038h0M1020 1005h0M986 1042h0M1057 996h0M1050 977h0M1023 933h0M1072 1019h0M950 976h0M1064 962h0M992 971h0M1056 986h0M1062 1033h0M1030 969h0M952 966h0M1055 1005h0M1036 935h0M1077 1013h0M1034 948h0M1030 948h0M980 957h0M1012 982h0M1000 1049h0M1045 996h0M1042 957h0M952 975h0M991 968h0M1076 985h0M1036 1017h0M993 964h0M1021 1020h0M959 946h0M987 1034h0M1053 1019h0M1005 1005h0M993 1062h0M1022 934h0M962 1058h0M970 984h0M977 1007h0M1000 1013h0M1079 978h0M1087 969h0M987 1057h0M1049 975h0M1074 991h0M975 1050h0M1060 999h0M1002 987h0M1045 1005h0M957 1010h0M1002 957h0M953 1009h0M1056 1016h0M1065 960h0M959 965h0M1022 1013h0M1084 946h0M964 962h0M966 951h0M973 999h0M953 1004h0M1045 992h0M993 938h0M944 997h0M993 1021h0M1039 987h0M949 1010h0M974 1042h0M1058 987h0M1056 946h0M1060 979h0M969 978h0M995 954h0M1051 927h0M961 983h0M980 994h0M972 963h0M1092 958h0M1027 1025h0M1046 984h0M1028 965h0M1045 974h0M1028 975h0M1088 961h0M1017 965h0M1050 981h0M1009 1030h0M996 1020h0M1052 964h0M982 1015h0M976 1024h0M1031 1038h0M1011 1013h0M1026 1007h0M973 990h0M1017 954h0M1066 1020h0M1024 1000h0M994 952h0M1083 1019h0M963 996h0M945 991h0M1045 1011h0M1003 989h0M1063 978h0M1071 971h0M986 1006h0M978 944h0M997 981h0M986 1008h0M1009 1014h0M1047 999h0M947 1021h0M961 975h0M1024 955h0M941 999h0M963 983h0M973 959h0M975 937h0M975 957h0M972 1024h0M1008 1050h0M1048 1034h0M963 979h0M1068 958h0M967 949h0M947 993h0M986 966h0M1013 962h0M999 1009h0M1001 967h0M1008 967h0M952 1029h0M967 1012h0M1043 1016h0M964 1022h0M1027 995h0M1006 1014h0M985 1028h0M974 1043h0M1019 1031h0M1029 1015h0M1062 993h0M1063 977h0M1041 1012h0M994 935h0M1024 948h0M1010 978h0M999 996h0M997 943h0M1020 974h0M1079 1013h0M1085 939h0M1048 1024h0M1000 1044h0M984 983h0M955 1024h0M1007 942h0M1048 935h0M942 1014h0M946 1029h0M984 957h0M1034 938h0M1044 950h0M1045 994h0M1048 1004h0M1080 957h0M1070 1014h0M1064 1035h0M1070 935h0M976 996h0M1022 1050h0M990 953h0M1012 1010h0M982 973h0M1013 940h0M1067 1013h0M1030 982h0M1032 1031h0M970 970h0M941 995h0M972 950h0M960 957h0M1019 934h0M1030 965h0M1055 992h0M1031 970h0M1055 947h0M965 1006h0M1070 1009h0M1006 1051h0M984 1033h0M1065 943h0M1025 1022h0M1026 998h0M1030 1039h0M1084 963h0M986 963h0M1026 935h0M1027 941h0M1048 1005h0M960 991h0M999 952h0M1035 992h0M1052 975h0M965 993h0M976 974h0M978 1034h0M1049 973h0M1010 969h0M1017 957h0M965 1048h0M1079 1016h0M993 959h0M972 1044h0M1052 969h0M1054 984h0M1051 961h0M1079 938h0M952 1031h0M1006 1041h0M1017 1004h0M976 1051h0M1088 954h0M1004 996h0M1042 994h0M986 947h0M1069 987h0M942 971h0M990 1014h0M1013 1050h0M991 1009h0M1034 947h0M1068 971h0M1047 1001h0M1080 1003h0M1082 1006h0M951 1028h0M1042 995h0M1057 987h0M1044 959h0M1006 966h0M971 1062h0M1028 1035h0M1079 937h0M1028 1011h0M1040 930h0M1045 1010h0M1003 944h0M990 1041h0M1078 994h0M1001 983h0M1006 935h0M981 989h0M991 959h0M976 1055h0M1006 994h0M967 1009h0M984 990h0M1066 944h0M982 971h0M975 959h0M995 948h0M1086 967h0M954 1020h0M1020 971h0M945 968h0M1061 999h0M1011 943h0M1017 999h0M1059 1024h0M957 1009h0M1027 979h0M952 1027h0M965 1004h0M1026 1021h0M985 1029h0M969 1051h0M948 1024h0M1036 973h0M951 1005h0M974 966h0M956 964h0M983 1036h0M1066 985h0M1096 974h0M1057 934h0M956 1004h0M1030 932h0M982 990h0M1062 1019h0M965 1029h0M1065 955h0M1075 948h0M991 1008h0M1044 964h0M1091 979h0M990 994h0M946 998h0M996 974h0M1029 959h0M1082 960h0M996 975h0M999 972h0M1031 997h0M1056 1029h0M967 975h0M1016 1025h0M1058 993h0M951 960h0M1062 982h0M1092 953h0M1012 932h0M956 1013h0M1055 1031h0M1000 1025h0M995 1049h0M1020 948h0M1033 1013h0M995 950h0M952 1018h0M990 1009h0M993 987h0M979 948h0M976 1000h0M950 1032h0M1045 976h0M956 1005h0M988 997h0M1066 965h0M995 946h0M1036 955h0M1057 1022h0M983 1056h0M1091 998h0M955 973h0M1002 1031h0M970 974h0M992 998h0M1070 977h0M1028 984h0M978 991h0M999 989h0M967 974h0M1002 942h0M1027 964h0M1080 943h0M1044 1048h0M1041 1012h0M965 962h0M1036 997h0M1008 1033h0M986 989h0M1082 982h0M989 958h0M1030 965h0M1050 990h0M980 1017h0M1089 991h0M1011 1054h0M1023 988h0M990 1056h0M1074 983h0M1017 929h0M1052 992h0M1067 976h0M967 951h0M946 966h0M1057 976h0M980 961h0M1041 991h0M984 934h0M1037 1013h0M940 1007h0M1081 1000h0M965 957h0M1036 1024h0M1004 996h0M988 970h0M987 1019h0M1000 1029h0M978 977h0M1065 951h0M943 983h0M1001 999h0M1031 1008h0M994 946h0M1068 964h0M999 940h0M1070 997h0M1042 977h0M1028 984h0M1038 950h0M1017 986h0M1043 1019h0M1050 967h0M1006 929h0M1044 955h0M1078 1006h0M1085 998h0M1057 950h0M1030 961h0M1048 930h0M1077 1013h0M1096 957h0M1040 930h0M1045 995h0M1017 951h0M993 940h0M973 1027h0M998 1034h0M1035 995h0M1024 1025h0M1010 1022h0M971 949h0M1015 1053h0M971 1032h0M1036 1019h0M958 984h0M1061 972h0M1079 969h0M1025 1016h0M1009 993h0M978 985h0M1037 936h0M989 1017h0M999 990h0M1038 1025h0M952 1007h0M998 995h0M977 1001h0M1027 966h0M1022 986h0M1077 951h0M973 1016h0M1013 1044h0M941 1010h0M1078 980h0M1068 942h0M1053 1009h0M1012 1003h0M947 983h0M1001 996h0M974 983h0M990 992h0M1000 980h0M981 1059h0M1024 1037h0M1017 1001h0M953 1024h0M968 1051h0M1049 954h0M991 976h0M1036 1007h0M1056 977h0M960 1042h0M944 988h0M1095 1001h0M984 1041h0M1022 1006h0M1046 1023h0M1001 999h0M1055 964h0M989 965h0M1085 988h0M964 959h0M969 992h0M1028 1015h0M1005 997h0M1051 1020h0M1034 1024h0M1022 962h0M1056 963h0M1018 1045h0M1042 1012h0M1001 1041h0M1033 1027h0M1037 984h0M1092 1008h0M1034 1006h0M974 996h0M1011 959h0M996 941h0M972 1012h0M941 1009h0M947 976h0M958 1004h0M954 988h0M988 1007h0M1094 964h0M973 940h0M955 1032h0M1024 989h0M1076 1000h0M1016 966h0M1063 991h0M1016 1010h0M948 1001h0M1032 991h0M963 1006h0M1099 961h0M958 1046h0M1033 1038h0M968 1022h0M945 969h0M999 932h0M1004 999h0M960 949h0M988 941h0M1007 930h0M1023 972h0M996 1006h0M1001 969h0M991 961h0M1089 946h0M1090 957h0M1059 1013h0M978 997h0M960 1015h0M1026 935h0M1082 981h0M962 980h0M1043 975h0M1086 965h0M1029 988h0M946 997h0M1066 977h0M970 1010h0M995 1019h0M941 976h0M1022 1037h0M983 1050h0M1061 1024h0M946 1021h0M958 973h0M1030 987h0M948 983h0M998 992h0M1052 981h0M979 963h0M961 1011h0M1052 949h0M958 1002h0M973 968h0M1069 1002h0M1036 930h0M984 1018h0M980 1027h0M1087 992h0M1035 978h0M1074 945h0M1001 1048h0M1049 1036h0M1044 1005h0M1006 1014h0M956 1051h0M960 1037h0M970 1012h0M1001 1032h0M1020 933h0M1036 1013h0M1014 937h0M992 1045h0M938 995h0M1007 946h0M950 978h0M1067 955h0M981 944h0M1020 963h0M1034 1027h0M983 1052h0M961 952h0M1029 946h0M995 984h0M995 1017h0M1017 986h0M958 959h0M973 1034h0M1057 983h0M1008 957h0M993 987h0M1050 1020h0M1038 950h0M1010 957h0M1008 942h0M958 975h0M978 1017h0M952 951h0M1035 1004h0M963 1015h0M989 985h0M1095 947h0M1064 1025h0M1071 1003h0M1072 994h0M974 1014h0M1055 1034h0M1047 988h0M939 986h0M973 1025h0M992 931h0M971 965h0M1011 1049h0M1031 981h0M1092 997h0M980 1011h0M1063 967h0M1034 948h0M968 1052h0M1061 944h0M953 994h0M1013 937h0M1049 975h0M1004 995h0M970 943h0M1004 978h0M1015 1005h0M1033 947h0M952 986h0M975 976h0M1081 939h0M1015 983h0M968 1009h0M1059 1022h0M972 982h0M952 966h0M1063 1007h0M1031 1026h0M994 1004h0M1030 970h0M999 973h0M1036 1022h0M945 1023h0M967 970h0M982 975h0M1061 967h0M1018 998h0M943 1043h0M1078 948h0M1057 1007h0M992 1004h0M949 974h0M1057 974h0M990 1058h0M1070 1012h0M1041 1002h0M1000 980h0M1028 1039h0M997 957h0M1044 1035h0M1023 976h0M1043 1015h0M981 997h0M986 988h0M1068 1020h0M973 999h0M953 963h0M1021 973h0M973 960h0M997 1044h0M1092 1003h0M1001 961h0M1028 1041h0M1032 1014h0M1018 1050h0M971 953h0M949 989h0M941 987h0M1097 960h0M986 952h0M992 966h0M1073 963h0M1042 1013h0M982 968h0M1045 931h0M1020 999h0M974 1012h0M976 939h0M955 992h0"/><path stroke="#888888" d="M1058 920h0M1088 1048h0M1127 938h0M1106 819h0M937 1048h0M1148 942h0M949 1099h0M1108 916h0M1091 893h0M943 1116h0M1120 1094h0M1084 1044h0M995 1095h0M1031 1120h0M1195 885h0M961 1086h0M1088 928h0M1119 921h0M1069 906h0M1074 1089h0M1041 1075h0M1043 863h0M1127 923h0M982 1099h0M1134 966h0M962 926h0M987 1086h0M1001 894h0M1120 876h0M1008 910h0M1090 1029h0M1108 1031h0M969 1089h0M1125 881h0M1160 888h0M1016 1084h0M1206 894h0M1120 842h0M1096 1033h0M1067 921h0M1091 859h0M1155 916h0M966 1108h0M1005 1100h0M1123 992h0M1052 1086h0M1129 977h0M1063 857h0M1111 838h0M1138 943h0M1140 944h0M1109 900h0M1082 1080h0M954 1109h0M1119 834h0M993 1093h0M1070 1104h0M1047 920h0M1011 913h0M996 1090h0M1047 860h0M960 1089h0M965 1077h0M1107 1021h0M1138 919h0M1057 1088h0M1080 916h0M989 1102h0M1155 967h0M1133 860h0M983 1109h0M942 947h0M1039 859h0M1124 1011h0M1098 835h0M1084 839h0M1135 1040h0M1070 896h0M1077 924h0M949 1090h0M1143 1014h0M1083 1037h0M1136 927h0M1125 936h0M1123 985h0M963 924h0M1110 933h0M1101 842h0M965 1081h0M944 944h0M941 948h0M1092 860h0M1096 840h0M1130 957h0M974 913h0M1101 1079h0M1064 1101h0M1068 1115h0M938 1106h0M1106 1035h0M967 916h0M1062 1055h0M1115 929h0M932 1023h0M1136 962h0M936 1025h0M1119 985h0M965 1079h0M1072 905h0M1070 836h0M1119 1006h0M1139 1034h0M987 1086h0M1109 830h0M1061 1083h0M1076 847h0M1075 1060h0M937 932h0M1054 1063h0M1079 1068h0M956 1108h0M1113 911h0M1108 1020h0M1105 875h0M1154 1049h0M996 881h0M1151 1036h0M955 1092h0M1090 838h0M1094 1038h0M1078 837h0M1147 1015h0M1016 1085h0M1227 873h0M1116 913h0M1180 930h0M1008 1083h0M960 1105h0M1056 1087h0M1081 927h0M1072 915h0M1029 874h0M1217 822h0M1055 915h0M1092 867h0M1017 908h0M1067 906h0M941 1111h0M1000 894h0M1118 1028h0M1008 887h0M1137 1036h0M1081 1045h0M940 1065h0M968 912h0M1144 983h0M1132 1058h0M1087 900h0M1167 963h0"/><path stroke="#f0a000" d="M981 986h0M984 985h0M1002 979h0M989 970h0M1007 967h0M974 998h0M993 1008h0M1004 976h0M1004 1017h0M1032 984h0M979 1000h0M998 994h0M995 959h0M1010 973h0M974 996h0M991 963h0M1000 975h0M1013 1004h0M1025 979h0M1011 1000h0M976 976h0M1004 981h0M989 985h0M991 981h0M995 993h0M968 1001h0M1022 974h0M1007 998h0M977 989h0M1000 967h0M1015 982h0M1020 1000h0M976 990h0M996 1005h0M1002 998h0M982 990h0M1019 1000h0M998 1007h0M982 1006h0M969 982h0M997 979h0M989 987h0M993 992h0M968 981h0M1012 1002h0M1006 963h0M1010 966h0M991 994h0M974 973h0M1010 992h0M996 1004h0M1024 965h0M1000 995h0M974 1013h0M1012 976h0M1006 973h0M989 1011h0M998 989h0M1015 961h0M1009 974h0M996 966h0M1021 1005h0M1018 1010h0M1007 999h0M987 976h0M1023 987h0M972 997h0M1007 983h0M1003 995h0M1012 996h0M1018 1002h0M1026 995h0M1003 959h0M1015 962h0M1004 999h0M1032 969h0M1001 968h0M1020 1005h0M1013 997h0M979 973h0M972 987h0M977 991h0M1035 980h0M1003 988h0M997 972h0M1030 988h0M976 1005h0M1000 1005h0M1034 993h0M1010 1001h0M967 999h0M979 993h0M986 964h0M1005 1010h0M975 986h0M989 1015h0M1037 976h0M1024 964h0M1001 980h0M1020 985h0M1021 1005h0M995 1003h0M1002 991h0M1008 961h0M1013 995h0M1014 992h0M993 1002h0M1000 982h0M994 996h0M977 999h0M1016 962h0M1006 967h0M984 1007h0M972 999h0M1017 969h0M1028 988h0M976 986h0M996 974h0"/><path stroke="#080808" d="M1021 1001h0M978 1040h0M950 967h0M975 1009h0M1069 989h0M1068 1000h0M978 1014h0M963 1018h0M981 960h0M1011 1007h0M983 1003h0M943 1015h0M963 991h0M1064 997h0M989 964h0M951 996h0M1021 972h0M999 944h0M970 1005h0M989 963h0M949 1022h0M995 1042h0M1015 951h0M1036 1013h0M1036 1006h0M991 1006h0M1033 958h0M1003 1008h0M984 999h0M1031 1005h0M1047 1006h0M965 960h0M1008 971h0M1020 980h0M994 984h0M1054 996h0M1043 989h0M956 1016h0M991 1002h0M987 1036h0M1012 962h0M971 1014h0M1070 983h0M1035 980h0M977 990h0M951 972h0M1013 948h0M1019 967h0M946 1018h0M956 998h0M966 964h0M1055 1009h0M993 1003h0M1062 972h0M951 1016h0M1022 1036h0M993 946h0M1019 1020h0M1006 983h0M990 1023h0M992 987h0M995 997h0M969 994h0M1041 967h0M1024 952h0M999 979h0M977 1002h0M974 995h0M969 1021h0M978 1006h0M973 1009h0M1048 958h0M1013 964h0M1000 996h0M1053 1005h0M1064 969h0M1043 946h0M1060 1000h0M1032 973h0M1034 1002h0M1014 1008h0M965 1008h0M992 970h0M1017 1001h0M999 963h0M1003 1001h0M1049 992h0M1056 1000h0M980 1002h0M1026 999h0M999 970h0M984 967h0M976 1024h0M1037 970h0M984 1031h0M981 1023h0M968 1028h0M990 968h0M989 946h0M989 964h0M1001 1015h0M998 985h0M1018 1019h0M974 997h0M1025 953h0M953 1001h0M968 1026h0M975 961h0M1029 1015h0M1047 955h0M956 992h0M1020 963h0M1002 1008h0M969 1031h0M1052 997h0M1015 944h0M1016 982h0M978 970h0M1021 960h0M946 1007h0M985 951h0M1005 992h0M1037 1026h0M1053 953h0M968 996h0M957 968h0M996 1027h0M1061 973h0M986 961h0M1015 1015h0M1008 995h0M966 1001h0M1047 1014h0M962 1004h0M1064 999h0M1039 1010h0M965 985h0M985 993h0M1032 1000h0M1012 945h0M1065 993h0M986 1000h0M1023 1001h0M943 1005h0M1009 978h0M1050 985h0M1073 958h0M956 997h0M1002 964h0M984 990h0M982 1011h0M1029 1025h0M961 1010h0M1034 968h0M988 950h0M975 960h0M1002 1039h0M1012 939h0M949 986h0M992 951h0M1002 968h0M1003 1020h0M999 1002h0M1033 1016h0M1045 979h0M1040 948h0M990 968h0M1025 967h0M1015 1001h0M947 1002h0M1052 975h0M985 995h0M986 964h0M1033 947h0M995 970h0M984 995h0M1046 1011h0M1039 954h0M1018 1023h0M1043 983h0M959 997h0M983 1007h0M999 960h0M1024 1016h0M1051 976h0M1006 955h0M1035 959h0M1056 979h0M968 964h0M1030 966h0M962 995h0M995 996h0M980 962h0M1045 985h0M981 1039h0M1005 993h0M1042 983h0M1046 987h0M1006 960h0M1017 982h0M1004 1003h0M1041 972h0M946 999h0M1027 1006h0M1033 967h0M1018 987h0M965 988h0M1022 1041h0M1046 995h0M973 1012h0M991 1032h0M1008 997h0M1000 1000h0M992 950h0M1025 953h0M1027 993h0M1004 991h0M1018 998h0M955 1005h0M1072 959h0M1037 963h0M954 1027h0M980 983h0M946 993h0M982 988h0M1018 1026h0M965 984h0M996 1039h0M1053 964h0M1035 1002h0M1045 970h0M993 986h0M983 1012h0M974 974h0M961 1015h0M975 1009h0M1033 992h0M967 965h0M1003 993h0M966 984h0M995 1002h0M1028 960h0M983 996h0M970 989h0M1011 1022h0M1068 999h0M1073 982h0M1029 950h0M965 992h0M980 962h0M1018 971h0M1053 958h0M1026 953h0M1053 1009h0M1002 939h0M961 997h0M1001 949h0M948 1016h0M994 1031h0M988 1022h0M970 1008h0M1009 1018h0M985 1045h0M1019 975h0M992 989h0M1037 1005h0M1053 974h0M1009 956h0M996 990h0M1049 986h0M1020 972h0M994 950h0M1001 976h0M952 996h0M1049 951h0M987 953h0M987 1000h0M1035 1000h0M977 1038h0M979 1000h0M946 991h0M1009 983h0M1030 1004h0M1007 1022h0M1059 967h0M1038 1010h0M988 1006h0M987 981h0M1017 993h0M1014 1015h0M1057 987h0M1010 1032h0M1038 992h0M1011 946h0M1022 984h0M991 1021h0M985 1030h0M965 1008h0M980 997h0M996 944h0M1048 1012h0M992 1027h0M1047 957h0M1028 1011h0M976 1024h0M962 975h0M966 959h0M1042 1012h0M967 980h0M1069 970h0M975 996h0M1022 1030h0M995 1013h0M1074 962h0M1061 986h0M956 997h0M1016 992h0M1016 1007h0M996 946h0M1006 980h0M968 974h0M965 1021h0M965 1004h0M1025 987h0M984 958h0M959 1009h0M1069 955h0M1006 1005h0M1044 1012h0M1043 1012h0M1013 995h0M1025 948h0M970 958h0M1028 994h0M1016 934h0M999 984h0M1001 1018h0M1031 1014h0M993 1039h0M1025 1022h0M976 990h0M959 972h0M1038 968h0M968 976h0M1006 966h0M962 1002h0M1055 980h0M1067 981h0M977 1000h0M1059 977h0M964 1010h0M1056 966h0M952 989h0M1033 938h0M972 1031h0M1012 970h0M1060 965h0M971 1012h0M1023 973h0M1030 1024h0M1015 1040h0M1028 1012h0M1052 968h0M1062 965h0M995 964h0M1009 944h0M1048 995h0M956 981h0M954 1004h0M1011 1014h0M1052 999h0M1004 1016h0M996 977h0M979 979h0M1030 1019h0M1043 953h0M962 1016h0M1052 970h0M1010 1002h0M1030 957h0M1061 965h0M999 980h0M988 1043h0M1013 1033h0M1048 1024h0M1016 1018h0M969 1014h0M1050 1028h0M1003 995h0M981 1000h0M995 949h0M998 1026h0M1027 968h0M982 1020h0M1056 967h0M991 1018h0M998 1004h0M1028 1026h0M950 987h0M991 998h0M1016 1014h0M1010 998h0M958 997h0M946 1027h0M1078 982h0M1055 1006h0M1010 955h0M1045 983h0M981 949h0M1039 968h0M955 992h0M983 1032h0M1025 965h0M1064 999h0M1043 1002h0M1021 1021h0M1014 971h0M1009 953h0M958 1031h0M1023 961h0M973 963h0M975 1019h0M998 954h0M1023 957h0M997 1003h0M1021 1008h0M1011 959h0M1034 970h0M956 978h0M1031 963h0M1044 1007h0M963 1004h0M1047 970h0M1051 955h0M977 990h0M1018 993h0M998 978h0M1011 962h0M989 1017h0M988 958h0M1002 984h0M1044 972h0M1003 964h0M962 973h0M971 1037h0M952 976h0M1021 1020h0M949 1018h0M1030 986h0M969 1010h0M992 1013h0M1028 974h0M960 976h0M1022 981h0M1034 996h0M950 1006h0M1019 953h0M974 973h0M993 958h0M1040 977h0M972 969h0M996 1017h0M1054 973h0M978 1015h0M1064 966h0M1065 984h0M991 957h0M961 985h0M1022 1025h0M946 988h0M1069 1004h0M989 1004h0M1044 951h0M962 1013h0M1009 951h0M1056 982h0M990 986h0M975 977h0M1055 1005h0M1055 997h0M983 1041h0M968 965h0M1003 998h0M1008 992h0M1041 1014h0M1014 941h0M999 939h0M1022 972h0M1042 1008h0M1032 972h0M959 1004h0M950 1016h0M1043 973h0M1039 998h0M1037 955h0M970 996h0M976 984h0M1049 979h0M1024 1038h0M960 960h0M1007 964h0M1017 975h0M1027 1003h0M1007 986h0M1025 979h0M1049 983h0M979 992h0M1064 1016h0M977 1008h0M1012 1033h0M991 1041h0M1047 1016h0M1030 1001h0M982 1008h0M1040 977h0M990 1016h0M1067 974h0M1038 997h0M1006 975h0M988 1017h0M975 983h0M995 994h0M1056 994h0M963 960h0M990 1020h0M1028 1002h0M1039 980h0M990 1041h0M1039 959h0M954 982h0M1013 997h0M984 942h0M1036 1006h0M1011 980h0M1016 1007h0M960 969h0M1038 1022h0M1058 998h0M1022 981h0M981 1009h0M971 975h0M1051 1013h0M957 1037h0M1018 982h0M992 994h0M1043 958h0M963 1017h0M1006 1038h0M1017 1036h0M999 1020h0M1063 1001h0M977 961h0M1023 1016h0M961 1022h0M1015 1006h0M998 980h0M1040 1015h0M981 1000h0M1028 1008h0M1030 969h0M962 1029h0M1002 1023h0M1058 981h0M1013 959h0M962 965h0M1053 970h0M1000 1012h0M970 982h0M1028 1018h0M991 971h0M977 1013h0M1002 1024h0M968 1002h0M1014 936h0M957 972h0M1023 942h0M962 965h0M989 1023h0M999 1028h0M1039 947h0M1000 1006h0M1031 959h0M1007 1032h0M997 1003h0M990 1007h0M1001 1044h0M1031 1008h0M962 1030h0M995 1027h0M1056 984h0M973 979h0M1020 953h0M1049 988h0M1039 1012h0M975 992h0M998 1027h0M1043 1011h0M972 984h0M1004 1005h0M998 996h0M1027 969h0M1035 946h0M1004 1010h0M1064 973h0M977 986h0M1004 946h0M950 1021h0M983 1016h0M1065 979h0M1029 947h0M1016 1029h0M1008 1022h0M1055 1008h0M1024 1007h0M974 1003h0M1002 962h0M990 1035h0M956 969h0M976 970h0M1065 1004h0M1039 948h0M1029 935h0M1057 990h0M979 965h0M1054 985h0M999 946h0M1030 968h0M1033 993h0M1010 1016h0M995 990h0M1034 944h0M968 968h0M998 1002h0M1005 1004h0M995 1011h0M951 1011h0M1013 1024h0M1012 949h0M986 978h0M995 1012h0M953 1010h0M1012 1023h0M986 985h0M1011 1034h0M1011 1041h0M971 951h0M980 1016h0M1021 934h0M1017 985h0M957 1013h0M945 1021h0M991 1008h0M983 990h0M1012 945h0M971 985h0M1041 968h0M1055 997h0M1060 975h0M1056 969h0M975 963h0M971 973h0M985 1033h0M977 995h0M1067 991h0M1042 964h0M1013 983h0M975 1007h0M1024 1016h0M1036 986h0M970 1030h0M1013 987h0M1038 1015h0M945 1018h0M1073 1001h0M990 982h0M1029 981h0M1005 1021h0M1003 941h0M994 1008h0M968 966h0M954 1013h0M995 976h0M1027 1006h0M1014 987h0M1028 977h0M988 965h0M1055 999h0M1015 1019h0M979 1005h0M1061 976h0M1040 1011h0M1009 1016h0M1044 958h0M1037 953h0M1004 944h0M1029 1015h0M948 1027h0M981 951h0M982 953h0M985 1035h0M1038 933h0M974 1016h0M996 1007h0M973 963h0M1043 959h0M1030 994h0M961 1006h0M1038 992h0M980 970h0M1014 1005h0M958 990h0M998 977h0M1002 979h0M986 969h0M980 972h0M984 988h0M986 972h0M965 990h0M1044 952h0M984 984h0M1028 989h0M1004 984h0M1023 979h0M1006 970h0M991 1031h0M1005 955h0M1005 989h0M1049 963h0M1044 949h0M994 988h0M973 965h0M971 963h0M950 1024h0M1029 1012h0M1042 1001h0M1064 997h0M971 983h0M989 942h0M1020 968h0M998 963h0M1016 1041h0M1048 972h0M974 1042h0M984 1009h0M966 995h0M1009 1003h0M977 1040h0M986 1013h0M1043 994h0M963 990h0M965 982h0M1042 939h0M985 973h0M971 977h0M999 1010h0M973 979h0M1008 946h0M992 1016h0M984 1024h0M1038 970h0M964 995h0M1059 945h0M979 973h0M1043 990h0M1017 988h0M962 1024h0M984 964h0M985 964h0M971 1043h0M1019 982h0M1015 985h0M1005 961h0M1015 937h0M978 1041h0M992 979h0M1051 988h0M978 1025h0M1017 981h0M959 1006h0M969 1005h0M988 1011h0M974 972h0M1007 1025h0M1040 942h0M950 1005h0M1065 976h0M1072 967h0M946 999h0M979 1004h0M1050 1014h0M999 945h0M1022 973h0M964 1024h0M990 1030h0M1049 970h0M996 985h0M1064 967h0M949 997h0M969 1000h0M1064 993h0M961 1002h0M1030 953h0M1057 1000h0M966 1004h0M985 1015h0M969 999h0M1056 958h0M1044 969h0M953 1027h0M1054 1002h0M976 988h0M1004 968h0M994 1034h0M957 979h0M1044 963h0M1041 959h0M1002 947h0M979 1009h0M1029 957h0M974 987h0M1032 1006h0M1009 952h0M1054 967h0M1008 1010h0M1028 1016h0M1000 960h0M1010 997h0M1017 980h0M1036 952h0M995 1025h0M1042 1008h0M983 1002h0M1002 996h0M1058 979h0M990 1034h0M1056 963h0M1072 977h0M975 960h0M1069 968h0M1045 1005h0M1002 958h0M982 974h0M1008 1013h0M1064 995h0M953 1021h0M1007 963h0M999 988h0M1041 972h0M1002 1034h0M1019 949h0M985 1032h0M977 1020h0M1012 943h0M1003 1006h0M1046 967h0M967 996h0M947 1006h0M1010 947h0M1005 1046h0M987 1036h0M1060 972h0M1045 989h0M1008 981h0M947 1002h0M1021 1025h0M1061 994h0M977 1022h0M1009 1021h0M1014 1027h0M996 982h0M962 1022h0M993 976h0M1008 967h0M1011 1020h0M1050 1007h0M1030 973h0M1007 999h0M982 958h0"/><path stroke="#181818" d="M1053 1016h0M1041 978h0M1028 1036h0M985 1027h0M983 1034h0M1026 990h0M1035 984h0M1037 1013h0M1018 1000h0M996 1054h0M1039 1016h0M951 977h0M1022 1050h0M997 1011h0M1076 1005h0M1013 944h0M1024 948h0M1039 936h0M1000 964h0M1041 983h0M1057 1013h0M1030 1038h0M1008 939h0M974 982h0M1010 1026h0M1043 1030h0M973 973h0M1066 964h0M980 1044h0M1077 1011h0M1008 1032h0M1044 940h0M1079 966h0M1001 972h0M1083 993h0M1004 935h0M1009 1038h0M1043 973h0M969 963h0M1006 937h0M952 975h0M995 967h0M1025 937h0M1022 1030h0M1001 1044h0M1009 960h0M978 943h0M970 949h0M987 1032h0M1045 1037h0M954 1022h0M1005 1002h0M1014 956h0M999 1048h0M1037 957h0M1029 951h0M982 994h0M1007 933h0M1038 936h0M1049 969h0M998 979h0M1030 935h0M978 1043h0M1001 1022h0M984 983h0M1007 1004h0M966 999h0M1071 943h0M1022 970h0M943 1008h0M1006 1005h0M1018 975h0M1030 1025h0M1018 1025h0M1043 967h0M1070 995h0M1043 967h0M1026 978h0M1055 997h0M1001 996h0M995 946h0M1007 1016h0M1076 954h0M962 977h0M1004 1024h0M1015 1014h0M1050 935h0M1045 1013h0M969 985h0M955 1042h0M1017 987h0M961 1022h0M1081 968h0M1012 1037h0M1033 973h0M1072 946h0M1042 1026h0M1031 1039h0M1008 1035h0M1017 980h0M1017 1030h0M987 954h0M1073 951h0M971 965h0M1071 993h0M1053 1026h0M1022 999h0M1003 978h0M1003 1009h0M1040 1018h0M1031 1003h0M990 973h0M1003 957h0M1005 1023h0M953 1011h0M1045 978h0M1003 958h0M1026 1008h0M1010 1019h0M977 1049h0M983 1006h0M1066 938h0M1007 1019h0M1047 1002h0M1019 977h0M956 1010h0M1017 964h0M1040 1026h0M1010 1037h0M985 1011h0M1050 934h0M989 1035h0M1035 989h0M1078 972h0M1034 949h0M1019 998h0M986 989h0M1083 971h0M962 1017h0M1012 1000h0M1074 992h0M977 981h0M1027 989h0M1062 975h0M947 1026h0M993 1042h0M1054 970h0M1057 1007h0M948 986h0M1059 939h0M951 973h0M982 996h0M1049 975h0M956 997h0M1033 984h0M1081 974h0M1018 932h0M1018 1008h0M947 1043h0M992 1042h0M988 964h0M1008 1039h0M1027 984h0M972 1015h0M947 968h0M963 1012h0M956 1041h0M982 960h0M1051 1023h0M1029 987h0M982 1038h0M991 986h0M1055 999h0M973 999h0M1000 1047h0M976 982h0M1026 948h0M1041 1008h0M973 958h0M990 1037h0M990 1026h0M1002 1003h0M1011 952h0M947 1002h0M971 1011h0M1016 948h0M971 988h0M1055 964h0M1059 993h0M1019 1024h0M1050 976h0M1033 980h0M981 984h0M1042 998h0M1051 976h0M1021 948h0M956 963h0M978 972h0M952 1025h0M1008 990h0M1045 979h0M966 972h0M1075 1001h0M1009 985h0M1028 978h0M1069 1013h0M967 983h0M971 972h0M1005 956h0M1025 931h0M989 995h0M1044 950h0M1022 988h0M1025 1010h0M1032 991h0M1005 998h0M1021 972h0M982 985h0M1080 1009h0M988 976h0M1056 995h0M1058 1005h0M1020 936h0M1069 1013h0M1082 960h0M986 1004h0M1045 990h0M1044 964h0M1017 975h0M1047 1015h0M1016 1018h0M996 969h0M1015 1026h0M1001 1042h0M1045 1002h0M1038 1034h0M1002 1006h0M1019 941h0M955 967h0M967 1018h0M1005 1001h0M978 989h0M962 973h0M973 964h0M1023 1010h0M1079 982h0M1011 984h0M982 1010h0M988 957h0M1054 1004h0M988 978h0M949 986h0M1004 978h0M1052 1011h0M948 968h0M997 996h0M1008 953h0M1069 977h0M984 981h0M1033 1042h0M1046 1014h0M984 1002h0M1031 945h0M1026 1035h0M1046 973h0M972 945h0M1053 1000h0M952 971h0M1075 979h0M1078 997h0M978 956h0M1012 972h0M1020 956h0M1013 966h0M982 956h0M1041 947h0M954 1017h0M977 977h0M984 940h0M982 1048h0M1031 1019h0M964 979h0M990 1022h0M1070 952h0M1020 999h0M1012 975h0M1050 1016h0M1046 951h0M1083 963h0M1031 965h0M1039 968h0M973 1022h0M989 1007h0M1074 955h0M1043 988h0M1047 1002h0M1093 974h0M974 973h0M959 1011h0M972 965h0M1026 950h0M973 1028h0M1006 1012h0M1021 967h0M968 972h0M1014 1022h0M1053 982h0M960 998h0M1071 970h0M970 972h0M982 970h0M1008 981h0M1050 969h0M1063 991h0M1036 1036h0M1050 991h0M982 977h0M1056 985h0M990 971h0M973 1045h0M1018 965h0M1086 963h0M945 981h0M1008 948h0M972 1014h0M990 1010h0M1073 988h0M1022 979h0M1055 991h0M985 990h0M945 985h0M1037 1022h0M1007 960h0M969 969h0M1053 983h0M1015 1016h0M1027 998h0M985 1045h0M968 993h0M1049 992h0M1030 998h0M1069 956h0M1012 933h0M957 1026h0M976 1036h0M1019 1008h0M1045 955h0M966 1049h0M1027 984h0M944 989h0M1035 940h0M1029 989h0M944 996h0M987 956h0M1050 1015h0M948 1039h0M990 1050h0M1067 950h0M958 1023h0M971 961h0M1019 974h0M1052 939h0M1031 995h0M957 958h0M959 978h0M957 996h0M1015 1015h0M983 973h0M1012 1039h0M999 962h0M1085 1002h0M1031 999h0M1061 950h0M1007 1037h0M984 959h0M1023 982h0M984 990h0M1032 977h0M1001 964h0M1031 1016h0M1020 1005h0M1020 1027h0M1000 1022h0M1064 941h0M1024 967h0M1063 977h0M954 1002h0M1082 958h0M1043 994h0M982 948h0M1014 969h0M1086 997h0M1025 986h0M1018 1021h0M957 991h0M1035 979h0M1045 961h0M1003 990h0M1001 968h0M1005 978h0M1019 973h0M1038 962h0M985 984h0M1010 1043h0M1000 1016h0M1082 971h0M1018 956h0M980 989h0M987 1000h0M1020 969h0M981 965h0M945 994h0M1056 971h0M1069 1009h0M1029 1039h0M1001 1028h0M1079 1000h0M1025 1015h0M1071 965h0M953 981h0M979 1036h0M1051 1031h0M972 984h0M988 960h0M992 974h0M1007 1004h0M1037 1020h0M1081 1000h0M957 1012h0M997 1045h0M1037 958h0M990 945h0M1030 961h0M960 965h0M1038 958h0M1023 1009h0M1039 935h0M1065 1002h0M988 1016h0M962 961h0M1001 994h0M1004 1005h0M994 1019h0M983 952h0M983 1039h0M955 988h0M963 1017h0M1003 962h0M1015 1028h0M992 971h0M979 987h0M996 1050h0M1074 948h0M1013 993h0M961 1016h0M947 1014h0M1053 942h0M1059 1003h0M998 1005h0M1009 1038h0M1043 1030h0M1078 984h0M1029 1018h0M947 984h0M967 960h0M978 972h0M951 1002h0M972 991h0M965 1000h0M1006 996h0M1008 968h0M951 1030h0M973 1019h0M1075 1009h0M1047 1032h0M1034 1038h0M1052 1022h0M1039 934h0M1073 1012h0M1048 983h0M1001 1014h0M1031 998h0M942 1004h0M1058 958h0M958 960h0M1047 1036h0M991 1039h0M989 1036h0M991 1041h0M1039 957h0M981 944h0M955 1013h0M1084 977h0M999 992h0M1039 995h0M1009 1023h0M993 954h0M1066 959h0M1041 963h0M958 955h0M1055 954h0M993 1037h0M1030 1001h0M972 1030h0M978 1011h0M999 1007h0M1032 1007h0M979 1039h0M1033 952h0M1024 944h0M1004 939h0M990 1000h0M1083 959h0M1079 964h0M1028 970h0M961 1046h0M982 980h0M1075 977h0M1075 987h0M1027 946h0M951 978h0M1055 993h0M1016 1046h0M1043 1027h0M979 1054h0M1076 955h0M995 981h0M1031 947h0M994 1010h0M998 963h0M945 1034h0M1011 966h0M989 1008h0M1037 937h0M1053 996h0M1010 1007h0M1034 975h0M981 1032h0M975 1053h0M1010 1041h0M1056 986h0M989 950h0M1034 961h0M1068 1016h0M1031 1030h0"/><path stroke="#383838" d="M963 982h0M1010 938h0M948 1043h0M957 1035h0M1069 1030h0M1062 1023h0M962 1054h0M960 947h0M1090 984h0M1075 965h0M937 975h0M939 995h0M1058 1017h0M1008 954h0M1071 1026h0M971 1036h0M1101 963h0M1041 1050h0M1093 940h0M1074 972h0M969 1052h0M1045 945h0M988 928h0M1112 953h0M950 963h0M1076 946h0M1041 1014h0M1042 889h0M1096 989h0M953 967h0M968 1052h0M974 1044h0M1047 901h0M1081 963h0M969 1046h0M1050 951h0M980 1057h0M1018 928h0M972 941h0M1072 932h0M978 1050h0M950 1027h0M1029 924h0M978 1059h0M1097 987h0M993 1069h0M1102 943h0M981 1045h0M948 969h0M975 1053h0M1044 898h0M981 1040h0M1070 987h0M1046 968h0M1024 1050h0M1088 956h0M1039 1010h0M950 958h0M998 1073h0M939 973h0M946 1052h0M1074 985h0M1000 1059h0M987 1040h0M1020 1030h0M1060 895h0M1027 933h0M976 963h0M1021 958h0M1041 1036h0M1031 1036h0M986 996h0M964 942h0M1081 1028h0M1091 974h0M1049 1030h0M1054 928h0M1101 967h0M989 1040h0M1027 929h0M1084 1000h0M1069 1027h0M1046 937h0M1035 970h0M1059 944h0M951 954h0M1075 998h0M1036 1009h0M1099 968h0M1028 1040h0M1043 930h0M947 975h0M1107 944h0M966 1037h0M1000 941h0M1086 980h0M956 1051h0M1085 958h0M1095 962h0M992 1063h0M1028 937h0M1030 1044h0M966 1035h0M982 942h0M1100 989h0M984 945h0M1059 1039h0M1022 1033h0M1071 996h0M1078 956h0M1046 892h0M977 937h0M1065 1009h0M950 1037h0M1076 975h0M1049 942h0M1079 962h0M994 986h0M945 988h0M1010 938h0M1009 926h0M978 940h0M1070 1021h0M944 966h0M952 963h0M994 1063h0M971 944h0M955 1063h0M988 1054h0M946 1045h0M985 938h0M1005 1054h0M943 964h0M945 979h0M1028 1030h0M1041 1033h0M954 958h0M1080 951h0M995 951h0M940 1006h0M999 957h0M1028 1039h0M1096 1015h0M1057 1027h0M989 1071h0M970 957h0M991 1021h0M947 1054h0M1103 1004h0M1066 948h0M1072 942h0M1026 1040h0M1023 1043h0M1063 944h0M1025 895h0M1054 890h0M1101 979h0M1072 961h0M1031 1044h0M1101 945h0M956 1036h0M971 947h0M963 977h0M1001 979h0M1000 969h0M952 1010h0M981 995h0M1000 935h0M955 969h0M1025 926h0M1030 931h0M1012 1051h0M999 1060h0M1008 969h0M1091 943h0M1079 938h0M1092 955h0M1106 959h0M1045 936h0M1047 877h0M982 1046h0M1071 961h0M1063 889h0M1048 1029h0M1092 1011h0M1052 1024h0M994 1043h0M988 1051h0M1086 1013h0M1070 964h0M980 932h0M1022 1055h0M1070 933h0M1003 1044h0M949 1018h0M950 1044h0M1060 1041h0M941 1031h0M1081 1015h0M989 1040h0M1031 1048h0M1073 1018h0M1044 1030h0M1027 1053h0M941 967h0M1001 1062h0M982 1040h0M1056 1021h0M987 947h0M1080 961h0M1047 1048h0M1033 968h0M943 960h0M940 1000h0M1023 1058h0M965 1012h0M978 1040h0M980 939h0M964 991h0M945 970h0M1069 958h0M976 981h0M1047 928h0M967 990h0M1063 951h0M967 959h0M944 981h0M951 972h0M969 973h0M1042 947h0M1023 1050h0M1078 961h0M998 984h0M1074 1032h0M985 938h0M1014 1039h0M976 949h0M1076 1023h0M989 1057h0M1108 950h0M1030 1034h0M977 935h0M967 1068h0M1067 996h0M974 1028h0M1076 973h0M1064 968h0M1034 1053h0M1051 944h0M974 953h0M950 1045h0M973 932h0M1062 937h0M993 1055h0M938 1023h0M1001 1034h0M963 1027h0M1041 944h0M1025 996h0M944 981h0M1080 1025h0M1080 948h0M1075 972h0M1055 942h0M1021 1038h0M1026 1053h0M1010 930h0M1029 1028h0M964 994h0M1067 954h0M1066 1030h0M1095 934h0M962 1051h0M956 959h0M1045 1043h0M1042 892h0M1018 1038h0M1052 878h0M963 931h0M995 1059h0M976 1016h0M1094 953h0M1024 1047h0M1050 1056h0M1063 1025h0M977 1022h0M948 1047h0M1041 1030h0M1087 939h0M959 1045h0M1065 935h0M1043 1023h0M944 1031h0M1025 975h0M1051 988h0M1041 899h0M970 1038h0M1011 1066h0M1046 877h0M1086 953h0M963 1053h0M941 992h0M967 932h0M968 942h0M1074 955h0M939 968h0M1079 949h0M1107 953h0M1044 901h0M947 1042h0M962 1043h0M1063 998h0M997 1000h0M999 1053h0M1045 1045h0M953 970h0M1068 995h0M1005 1042h0M955 968h0M980 935h0M988 1037h0M1027 1032h0M1060 951h0M1016 938h0M1061 893h0M1087 980h0M1081 962h0M1061 928h0M1018 1037h0M1034 943h0M984 943h0M1018 941h0M1028 1059h0M1104 967h0M1074 985h0M1108 977h0M1022 1058h0M1010 1059h0M1065 1014h0M952 1024h0M1071 961h0M1007 1058h0M1003 1050h0M1004 1042h0M983 1016h0M1046 996h0M1048 1021h0M952 962h0M1025 1045h0M972 1057h0M1109 989h0M1052 1038h0M947 958h0M949 1051h0M982 1042h0M998 1049h0M1040 1034h0M1060 942h0M1056 961h0M983 937h0M939 964h0M1062 933h0M1025 1042h0M993 935h0M1105 971h0M1007 1041h0M1036 1048h0M1045 1027h0M943 981h0M1107 998h0M940 986h0M949 1047h0M946 1053h0M1089 957h0M982 970h0M991 1060h0M1090 1006h0M985 929h0M1102 984h0M1102 968h0M993 977h0M1073 1039h0M1038 1026h0M1016 944h0M1073 985h0M1087 985h0M970 1035h0M1050 899h0M1099 987h0M1061 931h0M1051 963h0M1059 872h0M1071 967h0M1053 1038h0M947 951h0M1055 1034h0M1069 986h0M1088 1007h0M997 1048h0M1012 926h0M1005 1052h0M943 971h0M1082 933h0M1069 965h0M1073 939h0M981 1066h0M1051 990h0M1075 928h0M1099 989h0M1081 936h0M998 977h0M1065 947h0M1072 1015h0M950 972h0M981 1059h0M1042 1020h0M1085 993h0M1075 971h0M1045 1030h0M1051 1027h0M1012 958h0M989 1055h0M1066 878h0M1033 1008h0M1078 974h0M1019 990h0M1070 1018h0M1086 971h0M1021 1052h0M1063 941h0M1109 951h0"/><path stroke="#f0c000" d="M1072 1016h0M995 1028h0M1056 959h0M1025 957h0M987 1031h0M1001 935h0M1051 959h0M1027 1018h0M954 1007h0M1056 881h0M957 1007h0M950 1010h0M1000 1035h0M1049 982h0M1046 943h0M1019 1027h0M981 1029h0M1047 983h0M1052 950h0M1058 1006h0M1027 954h0M1056 973h0M1039 994h0M1032 1002h0M955 980h0M971 970h0M960 955h0M971 1025h0M941 1001h0M1046 951h0M960 967h0M1029 1010h0M958 1007h0M1025 1018h0M953 985h0M995 1068h0M985 957h0M1028 938h0M1047 977h0M1009 1056h0M1062 1025h0M962 1058h0M1020 1028h0M961 1025h0M1045 999h0M986 941h0M1055 986h0M969 1051h0M954 987h0M1049 967h0M1031 1003h0M1026 1011h0M1046 948h0M971 971h0M961 980h0M1063 995h0M969 1018h0M1080 936h0M1043 1044h0M1002 1018h0M1053 973h0M982 1020h0M1075 937h0M1039 1013h0M959 990h0M1040 976h0M999 949h0M960 1016h0M979 1034h0M1077 1010h0M996 1028h0M972 1025h0M1061 988h0M993 952h0M955 1018h0M1020 947h0M991 942h0M1038 897h0M1030 1020h0M1060 1012h0M1001 1038h0M1015 952h0M982 1028h0M1050 973h0M1038 972h0M1052 963h0M1087 978h0M1049 959h0M1016 954h0M975 1024h0M962 982h0M1035 959h0M963 974h0M978 1036h0M1024 1025h0M1070 968h0M1009 1035h0M1011 1049h0M1084 987h0M977 1020h0M1086 1006h0M1078 960h0M947 984h0M1069 938h0M951 980h0M1011 1019h0M985 961h0M1021 1018h0M994 1056h0M1034 955h0M991 1025h0M978 958h0M1044 986h0M940 974h0M969 1017h0M1048 951h0M1013 954h0M1039 971h0M1063 962h0M1060 968h0M1035 1015h0M1076 983h0M951 1015h0M959 960h0M1012 946h0M1046 984h0M1047 986h0M1038 960h0M972 1032h0M1043 956h0M1044 972h0M1037 1010h0M986 1023h0M1052 952h0M958 988h0M1047 978h0M1046 972h0M1037 967h0M999 956h0M974 1029h0M1053 989h0M1019 945h0M1073 981h0M974 946h0M950 1004h0M939 993h0M1056 1029h0M1048 969h0M971 1023h0M1050 964h0M1055 959h0M1049 994h0M1006 943h0M1036 965h0M976 1021h0M1073 996h0M1057 997h0M1019 1026h0M980 961h0M1068 977h0M955 987h0M972 1030h0M960 1029h0M998 1019h0M1038 959h0M1034 1056h0"/><path stroke="#585858" d="M963 1057h0M1051 1064h0M1019 886h0M1094 941h0M1086 999h0M1102 919h0M1062 930h0M1088 926h0M963 1057h0M1079 948h0M956 955h0M1021 1075h0M1100 853h0M951 962h0M959 952h0M1086 1024h0M1020 924h0M994 897h0M1065 936h0M1029 924h0M1034 928h0M1038 907h0M991 1095h0M1100 960h0M1083 946h0M1138 928h0M1011 1061h0M1018 1049h0M1055 1061h0M1097 973h0M1073 860h0M1037 927h0M1068 906h0M1004 1090h0M977 940h0M955 1061h0M1049 875h0M1092 1026h0M966 1048h0M997 1048h0M1028 1056h0M1079 1042h0M1041 1053h0M1042 872h0M992 917h0M1085 941h0M1098 856h0M1016 930h0M977 937h0M1019 900h0M1068 935h0M1092 877h0M940 988h0M951 1065h0M1077 949h0M1086 936h0M992 914h0M1086 1049h0M987 1060h0M1107 954h0M1071 1058h0M1162 923h0M1016 924h0M964 940h0M1033 1074h0M969 1079h0M1027 1077h0M1066 871h0M965 1049h0M960 940h0M971 1057h0M958 1045h0M999 1053h0M1076 1010h0M1094 979h0M1098 1011h0M1005 920h0M1103 992h0M1082 1017h0M1121 947h0M958 953h0M1016 1046h0M1116 962h0M1089 967h0M1003 1091h0M993 1058h0M1034 1070h0M1017 899h0M1088 955h0M1049 912h0M995 1073h0M1073 1045h0M1129 921h0M1027 885h0M1030 926h0M1036 897h0M979 1068h0M1094 1018h0M1004 910h0M966 1108h0M1094 988h0M992 1060h0M1114 1008h0M1061 1030h0M1085 874h0M1043 927h0M1078 1030h0M940 975h0M1037 897h0M1097 960h0M1032 906h0M1103 952h0M1122 995h0M1035 1072h0M949 1056h0M1078 1019h0M1085 1002h0M1080 1029h0M1108 1011h0M1071 932h0M1012 1063h0M1009 1095h0M1095 944h0M953 945h0M1062 892h0M1049 1054h0M1089 980h0M975 940h0M997 900h0M1082 886h0M1017 879h0M1113 989h0M1031 908h0M1032 902h0M1103 926h0M974 1078h0M1029 1070h0M939 937h0M997 1062h0M1023 888h0M1073 865h0M1090 875h0M1049 908h0M1076 942h0M1022 890h0M1082 1025h0M1089 1025h0M1061 882h0M1084 945h0M1057 897h0M1092 947h0M964 1048h0M961 1052h0M1058 880h0M1105 851h0M1094 961h0M962 928h0M1001 1096h0M1083 887h0M1021 893h0M949 963h0M1037 927h0M1012 1082h0M1018 1080h0M1075 862h0M1068 929h0M1116 1012h0M1059 1061h0M1053 1085h0M973 1090h0M1071 932h0M1092 949h0M1074 1018h0M963 937h0M1119 991h0M1051 1033h0M1033 1060h0M940 1060h0M1043 933h0M1028 1054h0M1057 931h0M953 1062h0M1076 881h0M995 1106h0M1095 929h0M1077 1016h0M942 1094h0M1087 967h0M949 941h0M1074 937h0M1104 998h0M1052 895h0M1078 893h0M970 1101h0M952 1096h0M974 1060h0M975 1083h0M959 1071h0M1113 959h0M1085 956h0M1119 989h0M945 1052h0M1116 1009h0M942 1081h0M1056 909h0M1124 1013h0M1063 1029h0M1140 940h0M1077 1016h0M986 933h0M1042 861h0M1072 1033h0M1108 952h0M967 1067h0M973 928h0M1135 981h0M1002 930h0M981 1063h0M1108 1019h0M1116 949h0M1049 926h0M1068 942h0M947 965h0M1091 844h0M1043 874h0M1111 1048h0M1095 930h0M960 1079h0M991 1072h0M1132 966h0M1095 961h0M1060 871h0M1125 962h0M1089 1033h0M1049 913h0M1001 1077h0M987 1066h0M983 1061h0M964 1048h0M950 954h0M1059 1033h0M1117 979h0M980 942h0M1094 995h0M1090 926h0M1085 963h0M967 1058h0M1005 1054h0M1094 855h0M1105 966h0M1083 1020h0M937 1033h0M998 885h0M1111 944h0M1008 1069h0M1093 922h0M1129 979h0M1002 916h0M999 1062h0M1007 1056h0M945 961h0M1061 917h0M1067 1030h0M964 1055h0M985 920h0M1095 888h0M1036 879h0M951 1067h0M989 1097h0M945 961h0M983 1088h0M1113 943h0M1101 927h0M1080 888h0M1106 1002h0M1047 1069h0M1106 961h0M948 945h0M949 1065h0M1003 882h0M1101 869h0M999 900h0M1100 968h0M946 1048h0M1082 955h0M1118 1018h0M964 1074h0M971 1094h0M1073 1066h0M1101 1028h0M1035 894h0M1100 875h0M996 1089h0M1064 904h0M957 1048h0M1108 1036h0M993 890h0M1052 1069h0M1025 895h0M967 926h0M1066 1044h0M1101 949h0M1084 936h0M1017 1061h0M985 1077h0M995 914h0M1039 1076h0M1111 994h0M1085 1022h0M951 1083h0M1112 977h0M1037 1060h0M1088 1005h0M1021 1087h0M978 1069h0M940 1080h0M1001 922h0M973 940h0M957 949h0M1113 850h0M1089 948h0M1059 883h0M1121 933h0M1038 931h0M1070 1015h0M1040 1053h0M989 1099h0M1096 872h0M991 903h0M1096 1038h0M1079 947h0M1074 1008h0M1054 1083h0M973 1068h0M1103 1025h0M1102 1013h0M955 1097h0M1001 1072h0M1097 952h0M1097 1000h0M985 929h0M1056 1059h0M1107 841h0M1008 912h0M1005 1056h0M1024 1058h0M1073 891h0M991 929h0M1059 915h0M947 1045h0M1093 962h0M1110 946h0M999 928h0M1030 926h0M1041 1045h0M982 1078h0M953 1049h0M940 1015h0M963 1061h0M1053 893h0M985 1058h0M1056 875h0M1112 927h0M1031 1098h0M1113 1019h0M1107 1042h0M1080 953h0M1015 896h0M962 1080h0M1055 895h0M1030 918h0M1085 956h0M1055 893h0M1100 961h0M999 1067h0M1056 884h0M1008 1111h0M1056 879h0M1053 1072h0M1077 1054h0M1037 1058h0M967 1068h0M1007 1067h0M936 1023h0M971 1062h0M970 1090h0"/><path stroke="#686868" d="M954 934h0M964 1076h0M993 1102h0M944 959h0M1071 877h0M1078 1028h0M975 1075h0M1055 1071h0M1105 954h0M1064 1043h0M1070 1045h0M1161 988h0M1128 991h0M1062 899h0M1027 1090h0M985 918h0M1085 1031h0M974 937h0M1051 849h0M1105 939h0M1100 1038h0M1065 888h0M1119 1030h0M1060 931h0M1035 875h0M1151 934h0M1057 1077h0M1178 898h0M1059 860h0M1073 870h0M1130 916h0M1059 894h0M1108 952h0M1004 881h0M1105 937h0M948 1080h0M1143 973h0M951 946h0M1001 922h0M948 949h0M945 959h0M1103 925h0M1033 1062h0M1078 1024h0M1145 970h0M1091 943h0M968 1074h0M1099 937h0M1061 868h0M1022 1087h0M1114 1002h0M1043 924h0M1082 877h0M1067 1054h0M1132 1009h0M948 952h0M1062 1042h0M1105 859h0M1045 887h0M1086 928h0M1088 919h0M942 1044h0M1017 1073h0M1000 1088h0M1064 927h0M1030 872h0M1095 1029h0M1111 961h0M1196 874h0M1076 906h0M944 1087h0M1006 1075h0M1121 1012h0M1057 1045h0M1117 983h0M1008 918h0M1074 1061h0M1106 1018h0M976 1075h0M1054 849h0M1003 1095h0M1043 1085h0M948 933h0M1021 912h0M1042 1049h0M1021 1119h0M1001 885h0M960 939h0M1094 998h0M1022 916h0M1111 975h0M980 1088h0M1098 861h0M1083 842h0M940 956h0M954 1056h0M1095 938h0M1079 932h0M1043 900h0M1081 865h0M998 890h0M943 1086h0M958 1059h0M953 950h0M1080 856h0M1067 865h0M1099 915h0M1132 933h0M1145 1027h0M951 1047h0M1057 1099h0M1090 1008h0M1082 1024h0M1017 892h0M1026 911h0M949 1095h0M997 925h0M1056 885h0M1103 979h0M1103 978h0M964 1052h0M944 955h0M1092 1056h0M996 1062h0M1104 1000h0M1122 972h0M1116 1008h0M1083 1033h0M935 960h0M1097 936h0M1018 922h0M1039 1053h0M1088 1022h0M1105 842h0M1108 996h0M1013 888h0M953 1063h0M1142 974h0M1142 940h0M945 1063h0M1120 939h0M1041 860h0M1045 1098h0M1115 980h0M1109 979h0M1045 1065h0M1046 1085h0M982 1115h0M1094 947h0M1105 1013h0M1004 903h0M960 946h0M1039 1100h0M994 1092h0M1043 884h0M1104 865h0M1035 873h0M1039 1051h0M957 1057h0M1108 1014h0M991 1096h0M999 925h0M969 1073h0M1122 976h0M958 924h0M1028 920h0M1022 904h0M1096 894h0M1151 935h0M972 1059h0M1089 1015h0M1102 964h0M1112 833h0M1091 890h0M948 930h0M1071 1026h0M1082 1043h0M1119 952h0M939 936h0M1032 891h0M1002 891h0M1064 1033h0M1070 885h0M981 1062h0M991 917h0M1107 987h0M1159 1008h0M1034 926h0M954 941h0M1004 895h0M989 903h0M1094 938h0M1035 1078h0M1080 932h0M1069 1032h0M1048 910h0M1052 888h0M1022 1095h0M934 1028h0M1108 987h0M1065 869h0M1036 888h0M1070 1026h0M1108 962h0M1097 869h0M1006 1065h0M1103 949h0M1009 1063h0M1123 1039h0M1107 1014h0M1056 855h0M1093 841h0M1034 1059h0M1027 1075h0M996 905h0M1007 925h0M1039 893h0M1140 941h0M1046 880h0M1059 1072h0M944 1090h0M956 1085h0M1032 913h0M1150 844h0M1072 925h0M1064 874h0M1032 869h0M980 1067h0M1094 1020h0M1017 1079h0M1092 876h0M1080 892h0M1150 983h0M1014 904h0M968 1056h0M967 1072h0M1124 943h0M1162 920h0M953 932h0M1043 921h0M1068 1038h0M997 1068h0M1096 1021h0M1143 953h0M966 938h0M1013 886h0M1042 1056h0M1033 920h0M929 978h0M1093 957h0M1017 904h0M949 919h0M955 1069h0M1128 933h0M1022 1073h0M1147 991h0M1125 994h0M981 934h0M996 1070h0M955 1051h0M1077 865h0M1106 983h0M939 1024h0M1054 1057h0M1111 1012h0M1019 869h0M972 902h0M1174 1012h0M1070 926h0M1105 933h0M1184 963h0M1059 883h0M1071 1038h0M1060 880h0M1128 969h0M1090 1039h0M1071 881h0M965 1087h0M1119 990h0M970 1060h0M1021 891h0M1100 1013h0M1030 1064h0M986 1070h0M1107 999h0M1046 880h0M1139 844h0M1094 945h0M954 1065h0M1075 873h0M938 1001h0M1001 882h0M1113 969h0M1079 908h0M1158 1072h0M995 1065h0M1110 854h0M1026 913h0M1081 1054h0M1039 865h0M1073 868h0M1060 1039h0M1077 1035h0M1065 1085h0M1068 905h0M1095 992h0M1053 1081h0M1020 896h0M1114 966h0M1001 1067h0M1082 877h0M1028 926h0M1075 1072h0M1047 878h0M1123 967h0M1051 903h0M1110 985h0M1058 858h0M1009 915h0M1111 947h0M1106 833h0M1107 964h0M953 953h0M1044 897h0M1014 916h0M1159 986h0M1019 1098h0M1074 930h0M937 1015h0M969 1077h0M1130 896h0M1059 863h0M1050 896h0M1097 867h0M1092 997h0M940 1047h0M1059 1075h0M1036 924h0M1068 1043h0M1021 926h0M1116 989h0M1115 983h0M1178 881h0M1057 874h0M1017 882h0M1050 1051h0M1034 1070h0M1118 1022h0M1024 1057h0M1032 911h0M1114 1051h0M1076 1107h0M997 903h0M1006 908h0M1049 869h0M1035 885h0M1090 850h0M1124 996h0M1101 1051h0M947 1050h0M1015 923h0M939 978h0M1057 1112h0M1033 1086h0M1087 927h0M1104 851h0M1069 1033h0M967 1087h0"/><path stroke="#fce080" d="M967 1042h0M957 1000h0M1054 968h0M1024 958h0M969 1021h0M1046 968h0M955 1022h0M956 1045h0M1045 945h0M938 973h0M1057 967h0M975 1026h0M955 995h0M954 1018h0M1033 955h0M1036 969h0M1079 978h0M1048 986h0M974 1018h0M959 977h0M1042 984h0M1055 1015h0M953 1033h0M1072 995h0M1050 975h0M1020 941h0M1003 1024h0M960 978h0M974 1022h0M1012 1044h0M1021 1026h0M996 1030h0M1055 1017h0M1069 981h0M988 955h0M1000 1034h0M1050 972h0M1060 965h0M1048 970h0M1034 998h0M1016 925h0M973 1032h0M1049 983h0M1027 1018h0M1041 990h0M1041 979h0M1076 965h0M1028 1059h0M1007 1025h0M1019 1018h0M957 1016h0M983 958h0M953 1011h0M1004 954h0M968 1037h0M1041 975h0M998 957h0M1005 1019h0M984 1028h0M1068 975h0M953 1006h0M1011 953h0M999 1026h0M1045 956h0M951 987h0M995 1025h0M1078 965h0M1043 986h0M1042 946h0M953 1041h0M959 993h0M952 991h0M954 964h0"/><path stroke="#787878" d="M1003 916h0M1121 953h0M1115 952h0M1086 901h0M964 1070h0M1072 903h0M1116 950h0M1011 1081h0M1045 882h0M1123 1003h0M1080 1046h0M945 1072h0M997 917h0M1081 1068h0M952 944h0M1000 1085h0M940 1045h0M1110 986h0M1114 1029h0M1137 1031h0M1084 1039h0M1130 968h0M1127 974h0M1034 893h0M1058 888h0M1143 1032h0M1108 859h0M981 1091h0M1100 866h0M1125 975h0M1166 935h0M1116 854h0M1032 1065h0M953 1089h0M1096 1043h0M1079 842h0M1098 940h0M956 924h0M1107 919h0M1119 940h0M1061 866h0M1119 1030h0M1026 1093h0M1082 899h0M1016 893h0M1110 1006h0M1022 1098h0M1103 943h0M1074 885h0M1020 1079h0M1001 1066h0M1158 922h0M953 934h0M1070 919h0M987 1079h0M1119 982h0M930 937h0M1047 1070h0M1046 875h0M1124 946h0M1149 944h0M965 1070h0M1129 945h0M991 914h0M1079 882h0M1097 887h0M1028 1110h0M1003 921h0M1119 927h0M964 936h0M1062 1048h0M1073 875h0M1023 884h0M1132 925h0M1074 883h0M1055 869h0M1094 1026h0M1044 1055h0M1133 1009h0M1088 1045h0M984 926h0M1146 1066h0M1040 1062h0M999 889h0M1091 887h0M1087 1024h0M1007 1075h0M1071 1061h0M1113 996h0M1069 1099h0M1143 873h0M1130 966h0M1159 911h0M1069 883h0M1121 1095h0M1090 933h0M1018 880h0M1130 1006h0M1091 1028h0M1079 928h0M1074 869h0M1131 923h0M981 922h0M1060 903h0M1020 1081h0M1018 1078h0M1097 1027h0M953 925h0M1035 906h0M935 972h0M1023 921h0M1112 981h0M941 935h0M975 1071h0M1115 1051h0M1013 913h0M1095 1044h0M1091 1020h0M1045 867h0M1014 908h0M1142 939h0M1150 955h0M1171 977h0M1016 893h0M996 912h0M1048 1087h0M1088 851h0M1038 897h0M1035 921h0M1078 924h0M1007 1103h0M993 1089h0M1039 1056h0M1134 972h0M1157 973h0M1027 891h0M1021 886h0M1109 973h0M1141 1000h0M1136 999h0M1072 889h0M1027 1078h0M1152 1059h0M1080 1032h0M963 918h0M1000 907h0M1163 1019h0M1114 966h0M974 1069h0M1111 1002h0M1071 895h0M1048 852h0M1081 876h0M1085 1037h0M1122 950h0M1110 937h0M995 925h0M1128 971h0M1101 1023h0M937 980h0M1073 917h0M937 993h0M1095 875h0M1114 986h0M1032 1072h0M1044 905h0M1067 887h0M1037 877h0M947 1059h0M986 1102h0M1037 1057h0M1021 1090h0M967 927h0M1046 1052h0M1025 920h0M1080 1094h0M935 1037h0M1081 852h0M1055 866h0M1106 1098h0M1084 893h0M1061 861h0M1100 839h0M1056 1044h0M1128 920h0M1020 884h0M1060 866h0M1049 921h0M1149 1014h0M1078 862h0M973 1067h0M976 931h0M1019 1087h0M1113 851h0M1157 963h0M1021 908h0M1084 836h0M1026 1073h0M954 1086h0M1108 931h0M978 919h0M1031 891h0M975 1090h0M1011 1095h0M1011 900h0M1089 1033h0M1036 907h0M1036 876h0M1090 1051h0M949 1077h0M1119 994h0M1107 860h0M1039 874h0M973 1077h0M1113 1013h0M1100 855h0M1164 1055h0M975 1102h0M1100 845h0M1140 936h0M954 1115h0M958 1074h0M1186 822h0M985 1092h0M1007 888h0M1093 1068h0M1106 1006h0M1113 1006h0M1049 878h0M1113 1014h0M1075 1032h0M1015 905h0M1039 1060h0M1019 1068h0M1089 927h0M1115 918h0M1193 833h0M1134 1011h0M1114 931h0M1120 881h0M1154 956h0M1092 873h0M981 1105h0M964 1072h0M1046 880h0M1006 906h0M1112 913h0M1049 884h0M989 1079h0M1094 1114h0M961 1100h0M997 1078h0M1035 1097h0M1111 1006h0M1047 1057h0M1100 1008h0M1131 1042h0M1066 899h0M1169 984h0M968 1086h0M1182 855h0M1095 878h0M1091 890h0M1065 909h0M1061 867h0M1114 891h0M1058 857h0M939 966h0M950 947h0M1113 1006h0M1029 1096h0M1059 1059h0M1005 864h0M1117 990h0M1022 893h0M1150 968h0M1093 880h0M1023 1096h0M1018 908h0M1077 1046h0M1137 1061h0M1054 913h0M1085 909h0M1112 1044h0M1037 872h0M1063 1059h0M1078 1113h0M1056 860h0M1097 1022h0M1053 867h0M1128 975h0M999 1067h0M1038 869h0M1110 965h0M952 943h0M1173 897h0M1047 895h0M1043 1073h0M1065 874h0M982 1085h0M1124 1104h0M1064 908h0M1096 1070h0"/><path stroke="#f8d020" d="M1009 986h0M1001 980h0M986 984h0M1007 1004h0M996 1012h0M970 988h0M982 1012h0M991 962h0M968 995h0M992 967h0M1031 992h0M984 1006h0M1015 990h0M966 999h0M1024 980h0M972 987h0M989 1012h0M988 969h0M1011 982h0M1019 969h0M995 988h0M986 1004h0M996 1004h0M1023 996h0M998 1018h0M971 1001h0M1002 972h0M1013 991h0M1005 989h0M974 993h0M1026 979h0M1002 996h0M1017 991h0M978 975h0M1034 993h0M973 984h0M1011 967h0M1028 984h0M1016 997h0M968 991h0M988 977h0M1003 988h0M997 972h0M963 987h0M978 1005h0M1004 959h0M995 1019h0M1005 965h0M987 969h0M964 991h0M1019 977h0M987 985h0M1014 982h0M978 987h0M995 994h0M1033 982h0M993 1002h0M995 1001h0M989 971h0M1004 976h0M965 1000h0M994 998h0M1030 978h0M1002 963h0M960 998h0M1022 1007h0M998 989h0M1016 973h0M1016 984h0M1037 984h0M1013 1004h0M1013 973h0"/><path stroke="#e8b800" d="M1018 999h0M1003 965h0M1015 974h0M1024 984h0M1011 959h0M994 1015h0M1037 978h0M968 989h0M1004 974h0M987 997h0M1021 992h0M1023 972h0M966 1009h0M1003 968h0M999 991h0M1017 971h0M993 991h0M991 989h0M980 988h0M986 1003h0M975 982h0M995 1020h0M1005 1012h0M1011 968h0M1027 969h0M1000 1001h0M969 1002h0M969 985h0M987 968h0M1015 988h0M994 980h0M1007 985h0M984 974h0M976 987h0M976 986h0M1017 1002h0M1023 996h0M977 969h0M985 1007h0M1008 1005h0M1010 963h0M1016 998h0M1013 992h0M998 965h0M999 985h0M987 981h0M996 997h0M1016 984h0M987 984h0M1020 974h0M967 984h0M996 968h0M1011 986h0M1035 993h0M1000 1007h0M969 1011h0M964 1003h0M1001 978h0M989 975h0M1005 998h0M986 985h0M1009 986h0M999 1016h0M985 977h0M989 980h0M993 998h0M990 965h0M975 993h0M998 980h0M1010 970h0M998 994h0M1036 983h0M960 990h0M994 1002h0M975 971h0M993 983h0M983 1008h0M1030 983h0M1007 967h0M979 976h0M989 982h0M984 1008h0M1027 988h0M990 987h0M969 984h0M1019 1005h0M995 967h0M1016 995h0M1010 1000h0M1019 991h0M970 1004h0M1011 1005h0M966 978h0M1033 992h0M981 1009h0M1023 1006h0M965 997h0M990 976h0M1019 972h0M988 975h0M1027 1001h0M1023 1006h0M1030 990h0M1012 979h0M995 1008h0M987 988h0M1029 998h0M985 971h0M984 1006h0M1021 964h0M1007 963h0M1018 991h0M989 968h0M1016 985h0M1005 979h0M983 983h0M972 985h0M997 975h0M1007 973h0M983 1008h0M1029 989h0M1028 971h0M973 1011h0M987 1004h0M999 1010h0M992 1012h0M969 1004h0M1021 979h0M980 990h0M965 1000h0M971 1008h0M1016 969h0M983 987h0M1028 988h0M981 1016h0M1017 980h0M1011 973h0M983 998h0M1006 968h0M1013 967h0"/><path stroke="#f8d840" d="M957 984h0M1031 1050h0M1010 1024h0M964 1020h0M1026 1024h0M987 1030h0M981 1024h0M1000 1020h0M945 968h0M1042 1019h0M956 1008h0M996 1038h0M1047 1008h0M1096 972h0M982 1027h0M1039 1009h0M1052 945h0M956 986h0M965 1050h0M978 959h0M1035 957h0M994 957h0M1007 946h0M957 1034h0M1048 962h0M1055 991h0M992 1036h0M1024 1009h0M965 1023h0M1091 995h0M963 1011h0M1013 1043h0M966 1015h0M1055 937h0M982 963h0M1035 1003h0M991 1023h0M959 976h0M1013 1020h0M1026 940h0M1082 1009h0M992 948h0M1053 1003h0M1045 997h0M960 1012h0M947 1012h0M1026 939h0M1057 973h0M1053 948h0M958 1001h0M1059 1006h0M980 959h0M1033 1010h0M1039 984h0M962 1004h0M1028 946h0M975 1020h0M1022 1018h0M950 977h0M1041 978h0M956 993h0M963 1021h0M1002 1047h0M993 951h0M1014 930h0M1037 958h0M1052 977h0M975 1017h0M1062 958h0M982 1024h0M1033 1011h0M957 966h0M1056 967h0M1034 956h0M987 953h0M1041 982h0M1039 993h0M1033 965h0M1046 981h0M1010 1020h0M993 1039h0M1039 1012h0M1022 947h0M1044 959h0M1057 990h0M984 945h0M1013 1038h0M963 1029h0M1010 1028h0M959 971h0M1040 947h0M963 1011h0M1042 1004h0M1054 974h0M1058 1009h0M962 1021h0M947 1035h0M998 1022h0M975 1031h0M973 1044h0M1095 966h0M993 1028h0M1037 1008h0M1034 1013h0M1043 1010h0M1078 951h0M1044 1011h0M942 1043h0M977 1019h0M954 1005h0M983 1022h0M969 939h0M1096 990h0M1036 965h0M1030 933h0"/><path stroke="#989898" d="M1113 1044h0M1057 1074h0M1165 912h0M1143 925h0M1123 928h0M1101 1079h0M1067 1075h0M934 1036h0M1138 1034h0M1170 960h0M1027 1090h0M1144 924h0M1023 861h0M1061 1085h0M938 1075h0M1186 898h0M1114 828h0M1118 852h0M1121 1055h0M1147 954h0M1111 1048h0M998 877h0M993 891h0M1008 1096h0M1078 1101h0M1108 917h0M1167 887h0M1108 843h0M1090 1045h0M1049 1078h0M944 923h0M1158 924h0M1136 868h0M1120 915h0M1049 1106h0M1185 920h0M1072 1074h0M1103 881h0M974 1101h0M976 1098h0M1107 1045h0M1118 1018h0M1131 1078h0M1093 910h0M966 1107h0M1139 931h0M1182 859h0M1060 1084h0M1149 1054h0M1128 931h0M1049 1083h0M1126 865h0M949 916h0M1148 879h0M1125 1078h0M1089 1058h0M942 937h0M1155 888h0M956 1093h0M1164 984h0M1135 1021h0M1106 1045h0M1007 876h0M1048 1077h0M1142 981h0M1081 1061h0M1170 882h0M1062 1119h0M1164 925h0M1213 877h0M1080 1067h0M1157 926h0M1131 1044h0M1158 955h0M1064 1084h0M999 1109h0M1135 1048h0M968 1108h0M1061 1118h0M1037 1110h0M1091 1046h0M1183 928h0M1077 833h0M1170 960h0"/><path stroke="#e88000" d="M1013 986h0M981 971h0M981 988h0M968 984h0M1027 981h0M989 980h0M1010 976h0M986 1004h0M1004 983h0M1017 1010h0M1000 983h0M986 984h0M1028 969h0M1024 989h0M982 1016h0M996 995h0M979 989h0M999 1000h0M1015 999h0M1027 1003h0M985 1018h0M1002 992h0M1027 977h0M1002 986h0M989 997h0M989 972h0M972 999h0M982 987h0M1005 999h0M1000 974h0M1016 973h0M1011 1012h0M1028 968h0M1019 996h0M1027 982h0M1034 988h0M969 999h0M1026 991h0M971 993h0M972 980h0M976 1011h0M1025 975h0M1032 987h0M1004 986h0M983 974h0M997 984h0M1009 1004h0M989 997h0M972 999h0M975 1012h0M1025 979h0M990 968h0M965 997h0M1030 986h0M981 1007h0M994 981h0M991 968h0M991 971h0M1033 991h0M1009 989h0M987 965h0M977 982h0M987 987h0M980 1009h0M994 1017h0M994 1015h0M1025 984h0M1011 974h0M996 981h0M992 1008h0M1025 972h0M980 996h0M995 991h0M1020 999h0M990 979h0M1006 967h0M978 985h0M1006 958h0M983 1012h0M1019 994h0M990 1009h0M980 983h0M975 1011h0M996 1000h0M1006 1010h0M1002 1012h0M995 972h0M967 990h0M1024 989h0M982 993h0M986 988h0M1036 987h0M990 963h0M974 1013h0M977 1012h0M980 999h0M980 970h0M974 1013h0M987 981h0M1034 976h0M997 985h0M977 982h0M1027 994h0M987 997h0M995 1016h0M998 997h0M1030 978h0M1029 990h0M1026 980h0M994 1003h0M1004 966h0M997 976h0M997 969h0M985 993h0M1019 968h0M1038 980h0"/><path stroke="#e8a800" d="M1001 953h0M1004 944h0M1060 956h0M1017 941h0M988 1028h0M948 1049h0M996 935h0M1072 1010h0M1078 945h0M1039 998h0M991 958h0M1065 953h0M966 1015h0M1078 987h0M979 1028h0M955 992h0M959 977h0M1048 960h0M966 972h0M964 1021h0M1034 1015h0M1041 963h0M959 981h0M1041 1011h0M964 1019h0M959 1017h0M954 996h0M965 1021h0M1057 960h0M1049 989h0M981 962h0M969 967h0M995 1031h0M1015 947h0M953 987h0M1060 941h0M1048 961h0M1081 985h0M1073 945h0M1025 1013h0M955 997h0M1005 956h0M1031 961h0M946 1051h0M1042 951h0M1019 1018h0M1006 931h0M976 1023h0M1019 1029h0M1050 957h0M955 978h0M960 1046h0M1069 986h0M1030 1010h0M1048 982h0M1070 935h0M962 1009h0M1017 1026h0M975 969h0M984 950h0M1011 1020h0M991 1022h0M1012 1020h0M1029 1010h0M1030 953h0M1035 950h0M1064 984h0M1038 967h0M996 1037h0M1033 1024h0M1048 999h0M1047 1009h0M960 990h0M991 1030h0M999 1048h0M1021 1019h0M1029 1014h0M1039 992h0M1058 976h0M991 960h0M984 963h0M1096 971h0M1045 971h0M951 1005h0M997 1035h0"/><path stroke="#f6e4a0" d="M1059 1047h0M1110 848h0M1033 1075h0M1033 1061h0M961 1073h0M1068 1039h0M1053 1063h0M1052 917h0M1096 889h0M1009 923h0M1094 1097h0M1111 1035h0M992 1089h0M1080 859h0M967 1106h0M1100 874h0M993 917h0M1156 1002h0M982 1100h0M1125 931h0M1114 1005h0M1057 1096h0"/><path stroke="#a8a8a8" d="M935 1080h0M1098 1074h0M1158 1000h0M1135 1093h0M1205 903h0M1113 1116h0M1199 909h0M1171 875h0"/><path stroke="#f0c848" d="M1088 862h0M1000 1070h0M1033 899h0M1027 1103h0M1069 844h0M1104 1011h0M1026 1081h0M1143 969h0M1040 1114h0M1102 941h0M961 927h0M1076 849h0M1097 1031h0M1072 860h0M937 922h0M935 1001h0M1167 909h0M1114 952h0M947 1074h0M936 995h0M1058 859h0M1080 1045h0M1102 1006h0M966 923h0"/><path stroke="#d86000" d="M997 991h0M977 988h0M1010 982h0M1011 974h0M977 995h0M987 990h0M1006 1004h0M969 980h0M990 981h0M1009 973h0M974 994h0M967 1009h0M983 1008h0M1013 998h0M1002 990h0M975 979h0M992 995h0M1008 1012h0M989 989h0M992 994h0M1026 969h0M1000 994h0M1017 975h0M995 964h0M1001 986h0M1013 994h0M1005 999h0M970 1001h0M1003 1010h0M1010 985h0M981 971h0M1024 972h0M996 959h0M1022 974h0M976 1001h0M1037 987h0M1027 1003h0M1002 984h0M1017 968h0M973 991h0M993 995h0M976 994h0M1013 991h0M981 986h0M986 967h0M992 976h0M993 1012h0M978 990h0"/><path stroke="#f0d060" d="M1072 1059h0M1063 889h0M1012 883h0M972 928h0M1060 912h0M1154 1007h0M1057 1094h0M938 1041h0M1082 864h0M1069 885h0M936 1004h0M1111 1017h0M1064 861h0M997 1089h0M1038 924h0M1071 897h0M1110 1036h0M1110 1006h0M981 1095h0M1009 1089h0M980 1078h0M1100 927h0"/></g><g stroke-width="3.6" fill="none" filter="url(#bl)"><path d="M939 1123.9H944" stroke="#f0b060"/><path d="M943 1123.9H1089" stroke="#ee7a8c"/><path stroke="#f8c090" d="M1089.0 1123.9h7.5"/><path stroke="#f0a070" d="M1098.4 1123.9h4.9"/><path stroke="#d8c0a8" d="M1105.2 1123.9h5.4"/><path stroke="#f8b8b0" d="M1111.5 1123.9h3.9M1138.7 1123.9h0.3"/><path stroke="#f8e0a0" d="M1115.7 1123.9h5.0M1122.8 1123.9h4.7M1130.1 1123.9h6.5"/></g>
<path d="M804.2 1125.3H815.2M809.2 1097.2H815.2M809.2 1080.8H815.2M809.2 1069.1H815.2M809.2 1060.1H815.2M809.2 1052.7H815.2M809.2 1046.4H815.2M809.2 1041H815.2M809.2 1036.2H815.2M804.2 1032H815.2M809.2 1003.9H815.2M809.2 987.4H815.2M809.2 975.8H815.2M809.2 966.7H815.2M809.2 959.3H815.2M809.2 953.1H815.2M809.2 947.7H815.2M809.2 942.9H815.2M804.2 938.6H815.2M809.2 910.5H815.2M809.2 894.1H815.2M809.2 882.4H815.2M809.2 873.4H815.2M809.2 866H815.2M809.2 859.7H815.2M809.2 854.3H815.2M809.2 849.6H815.2M804.2 845.3H815.2M809.2 817.2H815.2M809.2 800.7H815.2M809.2 789.1H815.2M809.2 780H815.2M809.2 772.6H815.2M809.2 766.4H815.2M809.2 761H815.2M809.2 756.2H815.2M804.2 751.9H815.2M809.2 723.8H815.2M809.2 707.4H815.2M809.2 695.7H815.2M809.2 686.7H815.2M809.2 679.3H815.2M809.2 673.1H815.2M809.2 667.6H815.2M809.2 662.9H815.2M804.2 658.6H815.2M817 1125.6V1137.6M852.1 1125.6V1131.6M872.6 1125.6V1131.6M887.2 1125.6V1131.6M898.4 1125.6V1131.6M907.7 1125.6V1131.6M915.5 1125.6V1131.6M922.2 1125.6V1131.6M928.2 1125.6V1131.6M933.5 1125.6V1137.6M968.6 1125.6V1131.6M989.1 1125.6V1131.6M1003.7 1125.6V1131.6M1015 1125.6V1131.6M1024.2 1125.6V1131.6M1032 1125.6V1131.6M1038.8 1125.6V1131.6M1044.7 1125.6V1131.6M1050 1125.6V1137.6M1085.1 1125.6V1131.6M1105.6 1125.6V1131.6M1120.2 1125.6V1131.6M1131.5 1125.6V1131.6M1140.7 1125.6V1131.6M1148.5 1125.6V1131.6M1155.3 1125.6V1131.6M1161.2 1125.6V1131.6M1166.6 1125.6V1137.6M1201.7 1125.6V1131.6M1222.2 1125.6V1131.6M1236.7 1125.6V1131.6M1248 1125.6V1131.6M1257.2 1125.6V1131.6M1265.1 1125.6V1131.6M1271.8 1125.6V1131.6M1277.8 1125.6V1131.6M1283.1 1125.6V1137.6" stroke="#a3a3a3" stroke-width="2" fill="none"/>
<path d="M806.2 658.8H1285.4" stroke="#a8a8a8" stroke-width="2" fill="none"/>
<path d="M1285.4 658.8V1125.6" stroke="#c8c8c8" stroke-width="1.6" fill="none"/>
<path d="M815.2 658.8V1125.6H1285.4" stroke="#a3a3a3" stroke-width="2.4" fill="none"/>
<rect x="818.6" y="705.2" width="463.7" height="212.7" rx="1.5" fill="none" stroke="#ff2424" stroke-width="2.2"/>
<text x="819.8" y="696.3" font-family='"Liberation Sans", sans-serif' font-size="21.5" fill="#ff2424" stroke="#ff2424" stroke-width="0.8" textLength="118.1" lengthAdjust="spacing">Dead: 9.2%</text>
<text x="1078.5" y="645.4" font-family='"Liberation Serif", serif' font-weight="bold" font-size="42.5" fill="#000" textLength="204.9" lengthAdjust="spacingAndGlyphs">WS4 I 48h</text>
<text x="704.4" y="634" font-family='"Liberation Serif", serif' font-weight="bold" font-size="41" fill="#000" textLength="52.7" lengthAdjust="spacingAndGlyphs">(d)</text>
<text x="770.3" y="657.7" font-family='"Liberation Serif", serif' font-size="26" fill="#000">10<tspan dx="0.4" dy="-11.8" font-size="16.2">6</tspan></text>
<text x="765.8" y="742.4" font-family='"Liberation Serif", serif' font-size="26" fill="#000">10<tspan dx="0.4" dy="-11.8" font-size="16.2">5</tspan></text>
<text x="765.8" y="844.3" font-family='"Liberation Serif", serif' font-size="26" fill="#000">10<tspan dx="0.4" dy="-11.8" font-size="16.2">4</tspan></text>
<text x="770" y="934.9" font-family='"Liberation Serif", serif' font-size="26" fill="#000">10<tspan dx="0.4" dy="-11.8" font-size="16.2">3</tspan></text>
<text x="768.7" y="1026.7" font-family='"Liberation Serif", serif' font-size="26" fill="#000">10<tspan dx="0.4" dy="-11.8" font-size="16.2">2</tspan></text>
<text x="766.2" y="1116.8" font-family='"Liberation Serif", serif' font-size="26" fill="#000">10<tspan dx="0.4" dy="-11.8" font-size="16.2">1</tspan></text>
<text x="797.7" y="1163.6" font-family='"Liberation Serif", serif' font-size="26" fill="#000">10<tspan dx="0.4" dy="-11.8" font-size="16.2">2</tspan></text>
<text x="914.7" y="1164" font-family='"Liberation Serif", serif' font-size="26" fill="#000">10<tspan dx="0.4" dy="-11.8" font-size="16.2">3</tspan></text>
<text x="1028" y="1161.8" font-family='"Liberation Serif", serif' font-size="26" fill="#000">10<tspan dx="0.4" dy="-11.8" font-size="16.2">4</tspan></text>
<text x="1148.9" y="1161.8" font-family='"Liberation Serif", serif' font-size="26" fill="#000">10<tspan dx="0.4" dy="-11.8" font-size="16.2">5</tspan></text>
<text x="1262.5" y="1161.8" font-family='"Liberation Serif", serif' font-size="26" fill="#000">10<tspan dx="0.4" dy="-11.8" font-size="16.2">6</tspan></text>
<text transform="translate(744.9 905.8) rotate(-90)" font-family='"Liberation Sans", sans-serif' font-size="30.5" fill="#1010ff" textLength="28.8" lengthAdjust="spacingAndGlyphs">P<tspan font-family='&quot;Liberation Mono&quot;, monospace' font-size="31">I</tspan></text>
<path d="M748.5 878.7V905.9" stroke="#1010ff" stroke-width="2.2"/>
<text x="1008.1" y="1205.8" font-family='"Liberation Sans", sans-serif' font-size="29" fill="#1010ff" textLength="79.7" lengthAdjust="spacingAndGlyphs">SSC-A</text>
<path d="M1009.5 1209H1090.1" stroke="#1010ff" stroke-width="2.4"/>
</svg>
</body></html>
